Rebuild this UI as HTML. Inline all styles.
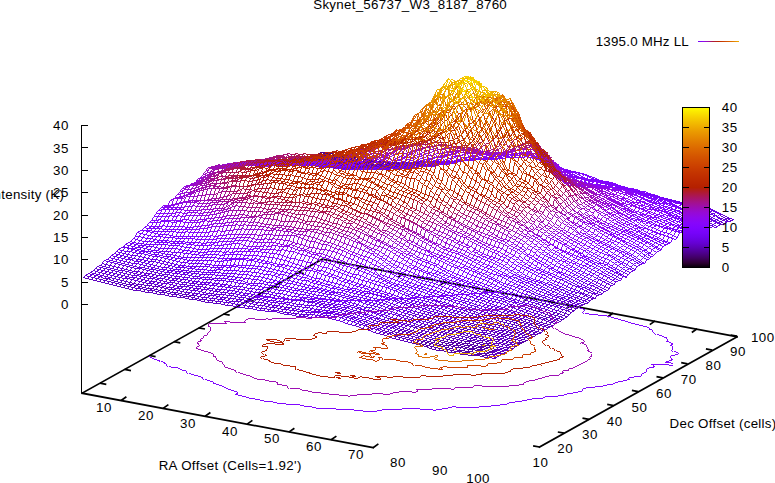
<!DOCTYPE html>
<html><head><meta charset="utf-8"><title>Skynet_56737_W3_8187_8760</title>
<style>
html,body{margin:0;padding:0;background:#fff}
body{width:775px;height:483px;overflow:hidden}
svg{display:block}
text{font-family:"Liberation Sans",sans-serif;font-size:13.33px;fill:#000}
.s path{fill:none;stroke-width:.99}
.c0{stroke:#1a0011}.c1{stroke:#2d0032}.c2{stroke:#3a0052}.c3{stroke:#450071}.c4{stroke:#4e008e}.c5{stroke:#5600a8}.c6{stroke:#5e01c0}.c7{stroke:#6501d4}.c8{stroke:#6b01e5}.c9{stroke:#7102f1}.c10{stroke:#7703fa}.c11{stroke:#7d04fe}.c12{stroke:#8205fe}.c13{stroke:#8706fa}.c14{stroke:#8c07f1}.c15{stroke:#9109e5}.c16{stroke:#960ad4}.c17{stroke:#9a0cc0}.c18{stroke:#9e0fa8}.c19{stroke:#a3118e}.c20{stroke:#a71471}.c21{stroke:#ab1752}.c22{stroke:#af1a32}.c23{stroke:#b21e11}.c24{stroke:#b62200}.c25{stroke:#ba2600}.c26{stroke:#bd2b00}.c27{stroke:#c13000}.c28{stroke:#c43500}.c29{stroke:#c83b00}.c30{stroke:#cb4100}.c31{stroke:#cf4800}.c32{stroke:#d24f00}.c33{stroke:#d55700}.c34{stroke:#d85f00}.c35{stroke:#db6700}.c36{stroke:#de7000}.c37{stroke:#e17a00}.c38{stroke:#e48400}.c39{stroke:#e78e00}.c40{stroke:#ea9900}.c41{stroke:#eda500}.c42{stroke:#f0b100}.c43{stroke:#f3be00}.c44{stroke:#f6cb00}.c45{stroke:#f8d900}.c46{stroke:#fbe800}.c47{stroke:#fef700}
</style></head><body>
<svg width="775" height="483" viewBox="0 0 775 483">
<rect width="775" height="483" fill="#fff"/>
<path stroke="#000" stroke-width="1.7" stroke-linecap="square" fill="none" d="M82.1 393.2L322.2 259.2L736.9 336.8"/>
<path stroke="#000" stroke-width="1.7" fill="none" d="M361.1 265.9L355.8 269.6M403.1 273.7L397.8 277.5M445.1 281.6L439.8 285.3M487.1 289.5L481.8 293.2M529.1 297.3L523.8 301M571.1 305.2L565.8 308.9M613.1 313L607.8 316.8M655.1 320.9L649.8 324.6M697.1 328.8L691.8 332.5M99.9 383.2L106.3 384.4M124.6 369.4L131 370.6M149.3 355.5L155.6 356.7M173.9 341.7L180.3 342.9M198.6 327.8L205 329M223.3 314L229.7 315.2M248 300.1L254.4 301.3M272.7 286.3L279.1 287.5M297.4 272.4L303.8 273.6"/>
<g class="s" shape-rendering="crispEdges" transform="translate(.5 .5)">
<path class="c6" d="M82 277l4 1 4 1 4 1 4 1 4 1 4 1 4 1 4 1 4 1 4 1 4 1 4 1 4 1 4 0 4 1 4 1 4 0 4 1 4 1 4 0 4 1 4 1 4 0 4 1 4 0 4 1 4 1 4 0 4 1 4 1 4 1 4 0 4 1 4 0 4 1 4 1 4 0"/>
<path class="c7" d="M230 305l4 1 4 1 4 0 4 1 4 0 4 1 4 1 4 0 4 1 4 0 4 0 3 1 4 1 4 1 4 0 4 1 4 1 4 0 4 0"/>
<path class="c8" d="M305 316l4 1 4 0 4 0 4 0 4 0 4 1 4 1 4 1 4 1 4 2 4 1"/>
<path class="c7" d="M349 324l4 1 4 1 4 2 4 1 4 1 4 2"/>
<path class="c6" d="M373 332l4 1 4 1 4 1 4 2 4 1 4 1 4 1 4 1 4 1"/>
<path class="c5" d="M409 342l4 1 4 1 4 1 4 1 4 2 4 1 4 1 4 0 4 1 4 1 4 0 4 1 4 1 4 0 4 1 4 0 4 0 4 1 4 1"/>
<path class="c6" d="M485 357l4 0 4 1"/>
<path class="c7" d="M84 275l4 1 4 1"/>
<path class="c6" d="M92 277l4 1 4 1 4 1 4 1 4 1 4 1 4 1 4 1 4 1 4 1 4 1 4 0 4 1 4 1 4 0 4 1 4 1 4 0 4 1 4 1 4 0 4 1 4 1 4 0 4 1 4 1 4 1 4 0 4 1 4 0 4 1"/>
<path class="c7" d="M216 301l4 0 4 1 4 0 4 1 4 1 4 0 4 1 4 1 4 0 4 1 4 1 4 0 4 1 4 1 4 0 4 1 4 1 4 0 4 1 4 0 4 1 4 0 4 0"/>
<path class="c8" d="M308 314l4 0 4 1 4-1 4 1 4 0 4 1 4 0 4 1 4 2 4 1 4 1 4 2"/>
<path class="c7" d="M356 323l4 1 4 1 4 2 4 1 4 1 4 2"/>
<path class="c6" d="M380 331l4 1 4 1 3 2 4 1 4 1 4 1 4 1 4 1 4 2"/>
<path class="c5" d="M415 342l4 1 4 1 4 1 4 1 4 1 4 1 4 1 4 0 4 1 4 1 4 0 4 1 4 0 4 1 4 1 4 0 4 1"/>
<path class="c6" d="M483 355l4 0 4 1 4 1"/>
<path class="c7" d="M87 273l4 1 4 1 4 1 4 2"/>
<path class="c6" d="M103 278l4 0 4 2 4 1 4 1 4 1 4 1 4 0 4 1 4 1 4 1 4 1 4 0 4 1 4 1 4 0 4 1 4 1 4 0 4 1 4 1 3 0 4 1 4 0 4 1 4 1"/>
<path class="c7" d="M202 297l4 0 4 1 4 0 4 1 4 0 4 1 4 1 4 0 4 0 4 1 4 0 4 1 4 1 4 1 4 0 4 1 4 1 4 0 4 1 4 1 4 0 4 1 4 0 4 1 4 0"/>
<path class="c8" d="M302 311l4 1 4 0 4 0 4 0 4 1 4 0 4 0 4 1 4 0 4 2 4 1 4 1 4 2 4 1"/>
<path class="c7" d="M358 321l4 2 4 1 4 1 4 2 4 1 4 2"/>
<path class="c6" d="M382 330l4 1 4 1 4 2 4 1 4 1 4 1 4 1 4 1 4 1"/>
<path class="c5" d="M418 340l4 1 4 1 4 1 4 1 4 1 4 1 4 1 4 1 4 1 4 1 4 0 4 1 4 0 4 1 4 1 4 0 4 0"/>
<path class="c6" d="M486 353l4 1 4 0 4 1"/>
<path class="c7" d="M89 272l4 1 4 1 4 1 4 1 4 1 4 1 4 1"/>
<path class="c6" d="M117 279l4 1 4 1 4 1 4 1 4 1 4 0 4 1 4 0 4 1 4 0 4 1 4 1 4 1 4 0 4 1 4 1 4 1"/>
<path class="c7" d="M185 292l4 0 4 1 4 0 4 1 4 0 4 1 4 0 4 1 4 1 4 0 4 1 4 0 4 1 4 0 4 1 4 0 4 1 4 1 4 0 4 1 4 1 4 1 4 0 4 1 4 1 4 0 4 1 4 1"/>
<path class="c8" d="M297 309l3 1 4 0 4 0 4 1 4 0 4 0 4 1 4 0 4 0 4 1 4 1 4 1 4 1 4 1 4 2 4 1 4 1"/>
<path class="c7" d="M364 321l4 2 4 1 4 1 4 2 4 1 4 1"/>
<path class="c6" d="M388 329l4 2 4 1 4 1 4 1 4 1 4 1 4 1 4 2 4 1"/>
<path class="c5" d="M424 340l4 1 4 1 4 1 4 1 4 1 4 0 4 1 4 1 4 0 4 1 4 1 4 0 4 1 4 0 4 1 4 1"/>
<path class="c6" d="M488 352l4 0 4 1 4 0"/>
<path class="c7" d="M92 270l3 1 4 1 4 1 4 1 4 1 4 1 4 1 4 1 4 0 4 1 4 1 4 1 4 1 4 1 4 0 4 1 4 1 4 1 4 1 4 0 4 1 4 0 4 1 4 0 4 1 4 0 4 1 4 1 4 1 4 0 4 1 4 0 4 0 4 1 4 0 4 1 4 1 4 0 4 1 4 0 4 1 4 0 4 1"/>
<path class="c8" d="M263 300l4 1 4 1 4 0 4 1 4 0 4 1 4 1 4 1 4 0 4 1 4 0 4 1 4 1 4 0 4 1 4 0 4 1 4 0 4 1 4 1 4 1 4 1 4 2 4 1 4 1 4 1"/>
<path class="c7" d="M367 320l4 2 4 1 4 1 4 1 4 1 4 1"/>
<path class="c6" d="M391 327l4 2 4 1 4 1 4 1 4 1 4 2 3 1 4 1 4 1 4 1"/>
<path class="c5" d="M430 339l4 1 4 1 4 1 4 1 4 1 4 1 4 0 4 1 4 1 4 1 4 0 4 1 4 0 4 1 4 1"/>
<path class="c6" d="M490 351l4 0 4 1 4 1"/>
<path class="c7" d="M94 268l4 1 4 1 4 1 4 1 4 1 4 1 4 1 4 1 4 1 4 0 4 1 4 1 4 1 4 1 4 0 4 1 4 1 4 0 4 1 4 1 4 1 4 0 4 0 4 1 4 1 4 0 4 1 4 0 4 1 3 1 4 0 4 1 4 0 4 1 4 0"/>
<path class="c8" d="M233 293l4 1 4 1 4 0 4 1 4 1 4 0 4 1 4 1 4 1 4 0 4 1 4 0 4 1 4 0 4 1 4 1 4 0 4 1 4 0 4 0 4 1 4 1 4 0 4 1 4 1 4 0 4 1 4 1 4 1 4 1 4 2 4 1 4 1 4 1"/>
<path class="c7" d="M369 318l4 2 4 1 4 1 4 2 4 1 4 1 4 2"/>
<path class="c6" d="M397 328l4 1 4 1 4 1 4 1 4 1 4 1 4 1 4 2 4 1 4 1"/>
<path class="c5" d="M437 339l4 1 4 1 4 1 4 0 4 1 4 1 4 1 4 0 4 1 4 1 4 0 4 1 4 1 4 1"/>
<path class="c6" d="M493 350l4 0 4 1 4 1"/>
<path class="c7" d="M96 266l4 1 4 1 4 1 4 1 4 1 4 1 4 1 4 1 4 1 4 0 4 1 4 1 4 1 4 0 4 1 4 1 4 1 4 1 4 0 4 1 4 1 4 0 4 1 4 0 4 1 4 0 4 1 4 1 4 0 4 1"/>
<path class="c8" d="M216 289l4 0 4 0 4 1 4 0 4 1 4 1 4 1 4 0 4 1 4 1 4 0 4 1 4 0 4 1 4 1 4 0 4 1 4 0 4 1 4 0 4 0 4 1 4 1 4 0 4 1 4 1 4 1 3 1 4 1 4 0 4 1 4 1 4 1 4 1 4 1 4 1 4 1 4 2 4 1 4 1"/>
<path class="c7" d="M375 318l4 2 4 1 4 1 4 2 4 1 4 1 4 1"/>
<path class="c6" d="M403 327l4 2 4 1 4 1 4 1 4 1 4 1 4 1 4 1 4 1 4 1 4 1"/>
<path class="c5" d="M447 339l4 1 4 1 4 1 4 1 4 0 4 1 4 1 4 1 4 0 4 1 4 1 4 1"/>
<path class="c6" d="M495 349l4 0 4 1 4 0"/>
<path class="c7" d="M99 265l4 1 4 1 4 1 4 1 4 1 3 0 4 1 4 1 4 1 4 1 4 1 4 0 4 1 4 1 4 1 4 0 4 1 4 1 4 0 4 1 4 1 4 0 4 1 4 0 4 1 4 0"/>
<path class="c8" d="M202 284l4 0 4 1 4 0 4 1 4 0 4 1 4 0 4 1 4 1 4 0 4 1 4 1 4 1 4 0 4 1 4 0 4 1 4 1 4 1 4 1 4 1 4 1 4 0 4 0 4 1 4 1 4 0 4 0 4 1 4 1 4 1 4 0 4 1 4 1 4 1 4 0 4 2 4 1 4 1 4 1 4 2 4 1 4 1 4 2"/>
<path class="c7" d="M378 318l4 1 4 1 4 1 4 1 4 1 4 1 4 1"/>
<path class="c6" d="M406 325l4 1 4 1 4 2 4 1 4 1 4 1 4 1 4 1 3 1 4 1 4 1 4 1 4 1"/>
<path class="c5" d="M457 339l4 1 4 1 4 0 4 1 4 1 4 1 4 1 4 0 4 1"/>
<path class="c6" d="M493 346l4 1 4 1 4 1 4 1"/>
<path class="c7" d="M101 263l4 1 4 1 4 1 4 1 4 1 4 1 4 1 4 1 4 0 4 1 4 1 4 0 4 1 4 1 4 0 4 1 4 1 4 1 4 0 4 1 4 0 4 1 4 1"/>
<path class="c8" d="M193 281l4 0 4 1 4 0 4 0 4 1 4 0 4 1 4 0 4 1 4 1 3 0 4 0 4 1 4 1 4 0 4 1 4 0"/>
<path class="c9" d="M260 289l4 1 4 1 4 1 4 1 4 0 4 1 4 1 4 1 4 0 4 1"/>
<path class="c8" d="M300 297l4 1 4 1 4 0 4 1 4 1"/>
<path class="c9" d="M320 301l4 0 4 1 4 1 4 1 4 0"/>
<path class="c8" d="M340 304l4 1 4 1 4 1 4 1 4 1 4 1 4 1 4 1 4 2 4 1 4 2"/>
<path class="c7" d="M384 317l4 1 4 2 4 1 4 1 4 1 4 1 4 1"/>
<path class="c6" d="M412 325l4 1 4 1 4 1 4 1 4 1 4 1 4 1 4 1 4 2 4 1 4 1 4 1 4 1 4 1 4 0"/>
<path class="c5" d="M472 340l4 1 4 1 4 1 4 0 4 1"/>
<path class="c6" d="M492 344l4 1 4 1 4 1 4 0 4 1"/>
<path class="c8" d="M103 260l4 1 4 1 4 1"/>
<path class="c7" d="M115 263l4 1 4 1 4 1 4 1 4 1 4 0 4 1 4 1 4 1 4 1 4 1 4 1 4 0 4 1 4 1 4 0"/>
<path class="c8" d="M179 276l4 1 4 0 4 1 4 0 4 0 4 1 4 0 4 0 4 1 4 0 4 0 4 1 4 0"/>
<path class="c9" d="M231 281l4 1 4 1 4 0 4 1 4 1 4 0 4 1 4 1 4 0 4 1 4 1 4 1 4 0 4 1 4 1 4 1 4 1 4 0 4 1 4 1 4 1 4 1 4 0 4 1 4 1 4 1 4 0 4 1 4 2 4 1"/>
<path class="c8" d="M351 305l3 1 4 1 4 2 4 1 4 0 4 2 4 1 4 1 4 1"/>
<path class="c7" d="M386 315l4 2 4 1 4 1 4 1 4 1 4 1 4 1 4 2"/>
<path class="c6" d="M418 325l4 1 4 1 4 1 4 1 4 1 4 1 4 1 4 1 4 1 4 1 4 1 4 1 4 1 4 1 4 1 4 0 4 1 4 1 4 1 4 0 4 1 4 1 4 1 4 0"/>
<path class="c8" d="M106 259l4 1 4 1 4 1 4 1 4 1 4 1 4 1 4 1 4 0"/>
<path class="c7" d="M142 267l4 1 3 1 4 0 4 1"/>
<path class="c8" d="M157 270l4 1 4 1 4 0 4 1 4 0 4 1 4 0 4 1 4 1 4 0 4 1 4 0 4 0 4 1 4 0"/>
<path class="c9" d="M217 278l4 0 4 0 4 1 4 0 4 1 4 0 4 2 4 1 4 0 4 0 4 0 4 1 4 1 4 0 4 1 4 1 4 1 4 1 4 1 4 0 4 1 4 1 4 1 4 1 4 1 4 0 4 1 4 1 4 1 4 1 4 1 4 1 4 1 4 1 4 1"/>
<path class="c8" d="M357 304l4 2 4 1 4 0 4 1 4 2 4 1 4 1 4 1 4 1"/>
<path class="c7" d="M393 314l4 1 4 2 4 1 4 1 4 1 4 1 4 2 4 1"/>
<path class="c6" d="M425 324l4 1 4 1 4 1 4 1 4 1 4 1 4 1 4 1 4 1 4 2 3 1 4 1 4 0 4 1 4 1 4 1 4 0 4 1 4 1 4 1 4 1 4 0 4 1"/>
<path class="c8" d="M108 257l4 1 4 1 4 1 4 1 4 1 4 1 4 0 4 1 4 1 4 1 4 1 4 1 4 1 4 0 4 1 4 0 4 1 4 0 4 1 4 0 4 1 4 0 4 1 4 0 4 0"/>
<path class="c9" d="M208 274l4 0 4 1 4 0 4 0 4 1 4 0 4 1 4 0 4 1 4 0 4 1 4 0 4 1 3 1 4 1"/>
<path class="c10" d="M267 282l4 0 4 1 4 1 4 1"/>
<path class="c9" d="M283 285l4 1 4 1 4 1 4 1 4 0 4 1 4 1 4 0 4 1 4 1 4 1 4 0 4 1 4 1 4 1 4 1 4 1 4 1 4 1 4 2 4 1"/>
<path class="c8" d="M367 304l4 1 4 1 4 1 4 2 4 1 4 1 4 2 4 1"/>
<path class="c7" d="M399 314l4 1 4 1 4 2 4 1 4 1 4 1 4 1 4 1"/>
<path class="c6" d="M431 323l4 1 4 1 4 1 4 2 4 1 4 1 4 1 4 1 4 1 4 1 4 1 4 1 4 0 4 1 4 1 4 1 4 0 4 1 4 1 4 1 4 1"/>
<path class="c5" d="M515 343l4 0"/>
<path class="c8" d="M110 255l4 1 4 1 4 1 4 1 4 0 4 2 4 0 4 1 4 1 4 1 4 1 4 1 4 1 4 0 4 1 4 1 4 0 4 1 4 0 4 1 4 0 4 0"/>
<path class="c9" d="M198 271l4 1 4 0 4 0 4 0 4 0 4 1 4 0 4 0 4 0"/>
<path class="c10" d="M234 273l4 1 4 0 4 0 4 1 4 1 4 0 4 1 4 1 4 1 4 1 4 1 4 0 4 2 4 0 4 1 4 1 4 1 4 1 4 1 4 0 4 1"/>
<path class="c9" d="M318 289l4 1 4 1 4 1 4 0 4 2 4 1 4 1 4 1 4 1 4 1 4 1 4 1 4 1 4 1"/>
<path class="c8" d="M374 303l3 1 4 1 4 2 4 1 4 1 4 1 4 2 4 1"/>
<path class="c7" d="M405 313l4 1 4 1 4 2 4 1 4 1 4 2 4 1 4 1"/>
<path class="c6" d="M437 323l4 1 4 1 4 1 4 1 4 1 4 1 4 1 4 1 4 1 4 1 4 1 4 0 4 1 4 1 4 1 4 1 4 1 4 1 4 1 4 1"/>
<path class="c5" d="M517 342l4 0"/>
<path class="c8" d="M113 253l4 1 4 1 4 1 4 1 4 1 4 1 4 0 4 1 4 1 4 0 4 1 4 1 4 1 4 1 3 1 4 1 4 0 4 0 4 1"/>
<path class="c9" d="M188 268l4 0 4 1 4 0 4 0 4 1 4 0 4-1 4 0"/>
<path class="c10" d="M220 269l4 1 4 0 4 0 4 0 4 1 4 0 4 0 4 1 4 0 4 1 4 1 4 0 4 1 4 1 4 2 4 1 4 1 4 1 4 1 4 1 4 1 4 1 4 1 4 1 4 1 4 1 4 1 4 1"/>
<path class="c9" d="M332 291l4 1 4 0 4 1 4 2 4 1 4 0 4 1 4 1 4 1 4 1 4 1 4 1"/>
<path class="c8" d="M380 302l4 1 4 2 4 1 4 2 4 1 4 1 4 1 4 2"/>
<path class="c7" d="M412 313l4 1 4 1 4 1 4 1 4 1 4 2 4 1 4 1"/>
<path class="c6" d="M444 322l4 2 4 1 4 1 4 1 4 1 4 1 4 1 4 1 4 1 4 0 4 1 4 1 3 1 4 1 4 0 4 2 4 0 4 1 4 1"/>
<path class="c5" d="M519 340l4 1"/>
<path class="c8" d="M115 251l4 1 4 1 4 1 4 1 4 0 4 1 4 1 4 1 4 1 4 0 4 1 4 1 4 1 4 1 4 1"/>
<path class="c9" d="M175 264l4 1 4 0 4 1 4 0 4 0 4 0 4 0 4 0 4 1"/>
<path class="c10" d="M211 267l4 0 4 0 4-1 4 1 4-1 4 0 4 1 4 0 4 1"/>
<path class="c11" d="M247 268l4 0 4 0 4 1 4 1 4 1 4 0 4 2 4 1 4 0 4 2 3 1 4 1 4 1 4 1 4 0"/>
<path class="c10" d="M306 280l4 2 4 1 4 1 4 1 4 1 4 2 4 0 4 1 4 1 4 1"/>
<path class="c9" d="M346 291l4 1 4 1 4 1 4 1 4 1 4 1 4 1 4 1 4 1 4 1"/>
<path class="c8" d="M386 301l4 2 4 1 4 2 4 1 4 1 4 2 4 1 4 1"/>
<path class="c7" d="M418 312l4 1 4 1 4 1 4 1 4 2 4 1 4 1 4 1"/>
<path class="c6" d="M450 321l4 2 4 1 4 1 4 1 4 1 4 1 4 1 4 1 4 0 4 1 4 1 4 1 4 1 4 1 4 1 4 1 4 1 4 1 4 1"/>
<path class="c9" d="M117 249l4 1 4 1 4 0 4 1 4 1 4 0 4 1 4 1 4 1 4 0 4 1 4 1 4 1 4 1 4 1 4 1 4 0 4 1 4 0 4 0 4 0 4 1"/>
<path class="c10" d="M205 264l4 0 4 1 4 0 4 0 4 0 4 0 4-1"/>
<path class="c11" d="M233 264l4 1 4 0 4 0 4 0 4 0 4 1 4 0 4 1 4 1 4 1 4 1 4 1 4 1 4 1 4 1 4 1 4 2 4 0 4 2 4 1 4 1 4 1 4 2"/>
<path class="c10" d="M325 284l4 0 4 2 4 1 4 1 4 1 4 0 4 1 4 1"/>
<path class="c9" d="M357 291l4 1 4 1 4 0 4 1 4 1 4 1 4 2 4 1 4 1"/>
<path class="c8" d="M393 300l4 2 4 1 3 1 4 2 4 1 4 1 4 2 4 1"/>
<path class="c7" d="M424 311l4 1 4 2 4 1 4 1 4 2 4 1 4 1 4 1 4 1"/>
<path class="c6" d="M460 322l4 1 4 1 4 1 4 1 4 1 4 1 4 1 4 1 4 1 4 1 4 1 4 1 4 1 4 1 4 1 4 0 4 1"/>
<path class="c9" d="M120 247l4 0 4 1 4 1 4 1 4 1 4 0 4 2 4 1 4 0 4 1 4 1 4 0 4 1 4 1 4 0 4 1 4 1 4 0 4 0"/>
<path class="c10" d="M196 260l3 0 4 0 4 0 4 0 4 1 4 0"/>
<path class="c11" d="M219 261l4-1 4 0 4-1 4 0 4 0 4 0 4 1 4 0 4 1"/>
<path class="c12" d="M255 261l4 1 4 1 4 0 4 1 4 2 4 0 4 1 4 2 4 1 4 1 4 2 4 1"/>
<path class="c11" d="M303 274l4 1 4 2 4 1 4 0 4 2 4 1 4 1 4 1"/>
<path class="c10" d="M335 283l4 1 4 1 4 2 4 1 4 0 4 2 4 1 4 0"/>
<path class="c9" d="M367 291l4 2 4 1 4 1 4 1 4 1 4 1 4 1 4 2"/>
<path class="c8" d="M399 301l4 1 4 1 4 1 4 2 4 1 4 1 4 2 4 1"/>
<path class="c7" d="M431 311l4 1 4 1 4 2 4 1 4 1 4 1 4 2 4 1 4 1"/>
<path class="c6" d="M467 322l4 1 4 1 4 1 4 1 4 1 4 1 4 1 4 1 4 0 4 1 4 1 4 1 4 1 3 1 4 1 4 1"/>
<path class="c9" d="M122 246l4 1 4 1 4 0 4 1 4 1 4 1 4 0 4 1 4 0 4 1 4 1 4 0 4 1 4 1 4 1 4 0"/>
<path class="c10" d="M186 257l4 0 4 0 4 0 4 0 4 0 4 0 4 0"/>
<path class="c11" d="M214 257l4 1 4 0 4 0 4 0 4 0 4 0"/>
<path class="c12" d="M238 258l4 0 4 0 4 1 4-1 4 1 4 1 4 1 4 1 4 1 4 1 4 0 4 1 4 1 4 1 4 1 4 1 4 1 4 0 4 1 3 1 4 2"/>
<path class="c11" d="M321 274l4 1 4 1 4 1 4 2 4 2 4 1"/>
<path class="c10" d="M345 282l4 1 4 2 4 1 4 1 4 1 4 2 4 1 4 1"/>
<path class="c9" d="M377 292l4 1 4 1 4 2 4 1 4 1 4 1 4 1"/>
<path class="c8" d="M405 300l4 2 4 1 4 1 4 1 4 2 4 1 4 1 4 1"/>
<path class="c7" d="M437 310l4 2 4 1 4 1 4 1 4 1 4 2 4 1 4 1 4 1"/>
<path class="c6" d="M473 321l4 1 4 1 4 1 4 1 4 1 4 1 4 1 4 1 4 1 4 1 4 1 4 1 4 1 4 1 4 1"/>
<path class="c9" d="M124 244l4 1 4 1 4 1 4 0 4 1 4 1 4 1 4 0 4 1 4 0 4 0 4 1 4 0"/>
<path class="c10" d="M176 252l4 0 4 1 4 0 4 1 4 0 4 1 4-1 4 0"/>
<path class="c11" d="M208 254l4 0 4 0 4 1 4-1 4 0"/>
<path class="c12" d="M228 254l4 0 4 0 4 0 4 1 4 0 4 0 4 0"/>
<path class="c13" d="M256 255l4 1 4 0 4 1 4 0 4 1 4 1 4 1 4 1 4 2 4 1 4 1 4 2 4 0 4 1"/>
<path class="c12" d="M312 268l4 2 4 0 4 1 4 2 4 1 4 2"/>
<path class="c11" d="M336 276l4 1 4 2 4 1 4 1 4 2"/>
<path class="c10" d="M356 283l4 1 4 1 4 2 4 1 4 1 4 1 4 2 4 1"/>
<path class="c9" d="M388 293l4 1 4 2 4 1 4 1 4 1 4 1 4 1"/>
<path class="c8" d="M416 301l4 1 4 1 4 2 3 1 4 1 4 1 4 1"/>
<path class="c7" d="M443 309l4 2 4 1 4 1 4 1 4 2 4 1 4 1 4 1 4 1 4 1"/>
<path class="c6" d="M483 321l4 1 4 1 4 1 4 1 4 1 4 1 4 1 4 1 4 2 4 1 4 1 4 1 4 0"/>
<path class="c9" d="M127 242l4 1 4 1 4 1 4 0 4 1 4 0 4 1"/>
<path class="c10" d="M155 247l4 1 4 0 4 0 4 0 4 0 4 1 4 1 4 0 4 1 4 0 4 1"/>
<path class="c11" d="M199 252l4 0 4-1 4 0 4 0 4 0"/>
<path class="c12" d="M219 251l4 1 3-1 4 1 4-1 4 0"/>
<path class="c13" d="M238 251l4 0 4 0 4 0 4 0 4 0 4 1 4 0 4 1 4 0 4 1 4 1 4 2 4 1 4 0 4 2 4 0 4 2 4 0 4 2 4 1 4 2 4 0"/>
<path class="c12" d="M326 267l4 2 4 1 4 2 4 1 4 2"/>
<path class="c11" d="M346 275l4 1 4 1 4 2 4 1 4 1 4 1"/>
<path class="c10" d="M370 282l4 2 4 1 4 1 4 1 4 2 4 1"/>
<path class="c9" d="M394 290l4 2 4 2 4 1 4 2 4 1 4 1 4 1"/>
<path class="c8" d="M422 300l4 1 4 1 4 2 4 1 4 1 4 1 4 2 4 1"/>
<path class="c7" d="M454 310l4 1 4 1 4 2 4 1 4 1 4 1 4 2 4 1 4 1"/>
<path class="c6" d="M490 321l4 1 4 1 4 1 4 1 4 1 4 1 4 1 4 1 4 1 4 1 4 1 4 1"/>
<path class="c10" d="M129 241l4 1 4 1 4 0 4 1 4 0 4 0 4 0 4 0 4 0 4 1 4 0 4 0 4 1 4 1 4 0"/>
<path class="c11" d="M189 247l4 1 4 1 4 0 4 0 4-1 4 0"/>
<path class="c12" d="M213 248l4 0 4 0 4 0 4 0"/>
<path class="c13" d="M229 248l4 0 4 0 4 0 4 0 4 1 4-1 4 0"/>
<path class="c14" d="M257 248l4 1 4 0 4 0 4 0 4 1 4-1 4 1 4 1 4 0 4 2 4 1 4 1 4 1 4 1 4 2 4 2"/>
<path class="c13" d="M321 261l4 1 4 1 4 2 4 3 3 1"/>
<path class="c12" d="M340 269l4 2 4 1 4 2 4 0"/>
<path class="c11" d="M356 274l4 1 4 2 4 2 4 1 4 1"/>
<path class="c10" d="M376 281l4 1 4 2 4 2 4 1 4 2 4 1"/>
<path class="c9" d="M400 290l4 2 4 2 4 1 4 1 4 1 4 1 4 1"/>
<path class="c8" d="M428 299l4 1 4 1 4 2 4 1 4 1 4 2 4 1 4 1"/>
<path class="c7" d="M460 309l4 1 4 2 4 1 4 1 4 2 4 1 4 1 4 0 4 2"/>
<path class="c6" d="M496 320l4 1 4 1 4 1 4 1 4 1 4 1 4 1 4 2 4 1 4 1 4 1"/>
<path class="c10" d="M132 238l3 1 4 1 4 1 4 0 4 0 4 1 4 0 4 0 4 0 4 1 4 0 4 0"/>
<path class="c11" d="M179 243l4 0 4 1 4 0 4 1 4 0 4 0"/>
<path class="c12" d="M203 245l4 0 4-1 4 1 4 0 4-1"/>
<path class="c13" d="M223 244l4 0 4-1 4 0 4 0"/>
<path class="c14" d="M239 243l4 2 4 1 4 0 4 0 4 0 4-1 4 1 4-1 4 0 4 1"/>
<path class="c15" d="M279 246l4 0 4 0 4 1 4 2 4 1 4 0 4 2"/>
<path class="c14" d="M307 252l4 2 4 0 4 2 4 1 4 1 4 2 4 2"/>
<path class="c13" d="M335 262l4 2 4 1 4 1"/>
<path class="c12" d="M347 266l4 1 4 2 4 1 4 2 4 1"/>
<path class="c11" d="M367 273l4 2 4 2 4 1 4 2 4 2"/>
<path class="c10" d="M387 282l4 2 4 1 4 2 4 1 4 2 4 2"/>
<path class="c9" d="M411 292l4 1 4 1 4 2 4 1 4 1 4 2 4 1"/>
<path class="c8" d="M439 301l4 1 4 1 4 2 4 1 3 1 4 1 4 1"/>
<path class="c7" d="M466 309l4 1 4 1 4 2 4 1 4 1 4 1 4 1 4 1 4 1"/>
<path class="c6" d="M502 319l4 1 4 1 4 1 4 2 4 1 4 1 4 1 4 1 4 1 4 1"/>
<path class="c10" d="M134 236l4 0 4 1 4 1 4 0 4 1 4 1 4 0 4 0 4 1"/>
<path class="c11" d="M170 241l4 0 4 0 4 0 4 1 4 0 4 0 4 0"/>
<path class="c12" d="M198 242l4 1 4-1 4 0 4 0"/>
<path class="c13" d="M214 242l4-1 4 0 4 0 4 0"/>
<path class="c14" d="M230 241l4-1 4 0 4 0 4 0 4 1 3 1"/>
<path class="c15" d="M253 242l4 0 4 0 4 0 4 0 4 0 4 1 4 1 4 1 4-1 4 1 4 2 4 1 4 1 4 2 4 1 4 1 4 0 4 2 4 1"/>
<path class="c14" d="M329 256l4 2 4 1 4 1 4 2"/>
<path class="c13" d="M345 262l4 2 4 1 4 1"/>
<path class="c12" d="M357 266l4 2 4 1 4 2 4 2 4 2"/>
<path class="c11" d="M377 275l4 2 4 2 4 2 4 2 4 1"/>
<path class="c10" d="M397 284l4 1 4 1 4 1 4 2 4 1"/>
<path class="c9" d="M417 290l4 1 4 2 4 1 4 1 4 2 4 1 4 1"/>
<path class="c8" d="M445 299l4 1 4 2 4 1 4 1 4 2 4 1 4 1"/>
<path class="c7" d="M473 308l4 1 4 2 4 1 4 1 4 1 4 1 4 2 4 0 4 2"/>
<path class="c6" d="M509 319l4 1 4 1 4 1 4 1 4 1 4 2 4 1 4 1 4 1"/>
<path class="c10" d="M136 232l4 1 4 1"/>
<path class="c11" d="M144 234l4 1 4 1 4 0 4 0 4 1 4 0 4 0 4 1 4 0 4 0 4 0"/>
<path class="c12" d="M188 238l4 0 4 1 4 0 4 0 4 0"/>
<path class="c13" d="M208 239l4 0 4-1 4 0 4 0"/>
<path class="c14" d="M224 238l4 0 4 0 4-1 4 0"/>
<path class="c15" d="M240 237l4 0 4 0 4 1 4 1 4 0 4-1 4 1"/>
<path class="c16" d="M268 239l4-1 4 1 4 0 4 1 4 0 4 2 4 1 4 1 4 1 4 2 4 0 4 1 4 1 4 0"/>
<path class="c15" d="M324 249l4 1 4 1 4 1 4 2"/>
<path class="c14" d="M340 254l4 2 4 2 4 1 4 3"/>
<path class="c13" d="M356 262l4 1 4 2 3 2"/>
<path class="c12" d="M367 267l4 2 4 1 4 4 4 1"/>
<path class="c11" d="M383 275l4 2 4 1 4 2 4 1 4 2"/>
<path class="c10" d="M403 283l4 1 4 2 4 1 4 1 4 1 4 2"/>
<path class="c9" d="M427 291l4 1 4 1 4 2 4 1 4 1 4 2"/>
<path class="c8" d="M451 299l4 1 4 1 4 1 4 2 4 1 4 1 4 2"/>
<path class="c7" d="M479 308l4 1 4 1 4 1 4 2 4 1 4 1 4 1 4 1"/>
<path class="c6" d="M511 317l4 1 4 1 4 2 4 1 4 1 4 1 4 1 4 1 4 1"/>
<path class="c11" d="M139 230l4 0 4 1 4 1 4 1 4 1 3 0 4 0 4 1 4 1 4 0 4 0"/>
<path class="c12" d="M182 236l4 0 4 0 4 0 4 0"/>
<path class="c13" d="M198 236l4 0 4 0 4-1 4 1"/>
<path class="c14" d="M214 236l4-1 4 0 4-1 4 0"/>
<path class="c15" d="M230 234l4 0 4 0 4 0 4 0 4 0"/>
<path class="c16" d="M250 234l4 0 4 1 4-1 4 0 4 0 4 1 4 0 4 0 4 0 4 0 4 0 4 2 4 1 4 2 4 1 4 0 4 2 4 1 4 0 4 2 4 2 4 1"/>
<path class="c15" d="M338 249l4 1 4 2 4 2"/>
<path class="c14" d="M350 254l4 1 4 2 4 2"/>
<path class="c13" d="M362 259l4 1 4 3 4 2 4 1"/>
<path class="c12" d="M378 266l4 3 4 2 4 2 4 2"/>
<path class="c11" d="M394 275l4 2 4 2 4 2 4 1 4 2"/>
<path class="c10" d="M414 284l4 1 4 1 4 2 4 1 4 1"/>
<path class="c9" d="M434 290l4 1 4 2 4 1 4 2 4 1 4 2 4 1"/>
<path class="c8" d="M462 300l4 1 4 1 4 2 4 1 3 1 4 1 4 1"/>
<path class="c7" d="M489 308l4 1 4 1 4 2 4 1 4 1 4 2 4 1"/>
<path class="c6" d="M517 317l4 1 4 1 4 1 4 2 4 1 4 1 4 1 4 1"/>
<path class="c11" d="M141 230l4 0 4 0 4 1 4 0 4 0 4 0 4 0 4 0"/>
<path class="c12" d="M173 231l4 1 4 0 4-1 4 1 4 0"/>
<path class="c13" d="M193 232l4 0 4 0 4 0 4-1"/>
<path class="c14" d="M209 231l4 0 4-1 4 1"/>
<path class="c15" d="M221 231l4-1 4 0 4-1 4 0"/>
<path class="c16" d="M237 229l4-1 4 1 4 0 4 0 4 0 4 0 4 1"/>
<path class="c17" d="M265 230l4 0 4-1 3 1 4 0 4 1 4 0 4 1 4 2 4 0 4 1 4 1 4 1 4 1 4 2 4 1 4 1 4 1"/>
<path class="c16" d="M332 243l4 2 4 1 4 2 4 2"/>
<path class="c15" d="M348 250l4 2 4 1 4 2"/>
<path class="c14" d="M360 255l4 1 4 1 4 2"/>
<path class="c13" d="M372 259l4 2 4 3 4 2 4 3"/>
<path class="c12" d="M388 269l4 2 4 2 4 2"/>
<path class="c11" d="M400 275l4 1 4 2 4 1 4 2 4 2"/>
<path class="c10" d="M420 283l4 1 4 1 4 1 4 1 4 2 4 2"/>
<path class="c9" d="M444 291l4 1 4 1 4 2 4 2 4 1 4 1"/>
<path class="c8" d="M468 299l4 1 4 1 4 1 4 2 4 1 4 1 4 1"/>
<path class="c7" d="M496 307l4 1 4 2 4 1 4 1 4 2 4 1 4 1"/>
<path class="c6" d="M524 316l4 2 4 1 4 2 4 1 4 1 4 1 4 1"/>
<path class="c11" d="M143 227l4 1 4 0 4 0 4 0"/>
<path class="c12" d="M159 228l4 1 4 0 4 0 4 0 4 0 4 0 4 0"/>
<path class="c13" d="M187 229l4 0 4 0 4-1 4 0"/>
<path class="c14" d="M203 228l4-1 4-1 4 0"/>
<path class="c15" d="M215 226l4 0 4-1 4 0"/>
<path class="c16" d="M227 225l4 0 4-1 4 1 4-1 4 1"/>
<path class="c17" d="M247 225l4 0 4 0 4 1 4 0 4 1 4 1 4-1 4 0 4 1"/>
<path class="c18" d="M283 228l4 1 4 0 4 1 4 1 4 0 4-1 4 1 4 1 4 1 4 1 4 2"/>
<path class="c17" d="M327 236l4 2 4 1 4 2 4 2 4 1"/>
<path class="c16" d="M347 244l4 2 4 1 4 2"/>
<path class="c15" d="M359 249l4 1 4 2"/>
<path class="c14" d="M367 252l4 1 4 3 4 2 4 3"/>
<path class="c13" d="M383 261l4 3 4 2 3 2"/>
<path class="c12" d="M394 268l4 3 4 1 4 2 4 2"/>
<path class="c11" d="M410 276l4 1 4 2 4 1 4 1"/>
<path class="c10" d="M426 281l4 1 4 1 4 2 4 1 4 2 4 1"/>
<path class="c9" d="M450 289l4 1 4 2 4 1 4 2 4 1 4 2"/>
<path class="c8" d="M474 298l4 1 4 1 4 2 4 1 4 2 4 1 4 1"/>
<path class="c7" d="M502 307l4 1 4 2 4 1 4 1 4 2 4 1"/>
<path class="c6" d="M526 315l4 1 4 1 4 1 4 1 4 2 4 1 4 1"/>
<path class="c11" d="M146 225l4 1 4 0"/>
<path class="c12" d="M154 226l4 0 4-1 4 1 4 0 4 0 4 0"/>
<path class="c13" d="M178 226l4 0 4 1 3 0 4-1"/>
<path class="c14" d="M193 226l4 0 4-1 4 0 4-1"/>
<path class="c15" d="M209 224l4-1 4 0 4 0"/>
<path class="c16" d="M221 223l4-1 4 0 4-1 4 0"/>
<path class="c17" d="M237 221l4 0 4 0 4 1 4-1 4 1"/>
<path class="c18" d="M257 222l4 1 4 1 4 0 4 1 4 0 4 0 4 1 4 0 4 1 4 1 4 0 4 1 4 0 4 0 4 0 4 2 4 1 4 0 4 1 4 2 4 1"/>
<path class="c17" d="M341 236l4 1 4 2 4 2"/>
<path class="c16" d="M353 241l4 1 4 2 4 3"/>
<path class="c15" d="M365 247l4 2 4 3 4 2"/>
<path class="c14" d="M377 254l4 3 4 2 4 3"/>
<path class="c13" d="M389 262l4 2 4 2 4 2"/>
<path class="c12" d="M401 268l4 2 4 1 4 2 4 2"/>
<path class="c11" d="M417 275l4 1 4 1 4 0 4 2 4 2"/>
<path class="c10" d="M437 281l4 1 4 1 4 2 4 1 4 2 4 2"/>
<path class="c9" d="M461 290l4 1 4 2 4 2 4 1 4 1 4 2"/>
<path class="c8" d="M485 299l4 1 4 1 4 1 4 1 4 2"/>
<path class="c7" d="M505 305l3 1 4 1 4 2 4 1 4 2 4 1 4 2"/>
<path class="c6" d="M532 315l4 1 4 1 4 1 4 2 4 1 4 1"/>
<path class="c11" d="M148 222l4 0"/>
<path class="c12" d="M152 222l4 0 4-1 4 0 4 0 4 1"/>
<path class="c13" d="M172 222l4-1 4 0 4 1 4 0"/>
<path class="c14" d="M188 222l4 0 4 0 4-1 4-1"/>
<path class="c15" d="M204 220l4 1 4-1 4 0"/>
<path class="c16" d="M216 220l4-1 4-1 4 0"/>
<path class="c17" d="M228 218l4 0 4 0 4-1 4 0"/>
<path class="c18" d="M244 217l4 0 4 0 4-1 4 1 4 1 4 0 4 1 4 0"/>
<path class="c19" d="M276 219l4 2 4 0 4 0 4 0 4 0 4 1 3 1 4 1 4 1 4 1 4 0 4 1 4 1 4 1 4 2"/>
<path class="c18" d="M335 231l4 1 4 2 4 1 4 2"/>
<path class="c17" d="M351 237l4 2 4 3 4 2"/>
<path class="c16" d="M363 244l4 2 4 2 4 1"/>
<path class="c15" d="M375 249l4 2 4 3"/>
<path class="c14" d="M383 254l4 2 4 3 4 2"/>
<path class="c13" d="M395 261l4 1 4 2 4 2 4 2"/>
<path class="c12" d="M411 268l4 1 4 1 4 2"/>
<path class="c11" d="M423 272l4 1 4 2 4 1 4 2 4 1"/>
<path class="c10" d="M443 279l4 2 4 2 4 2 4 1 4 2 4 1"/>
<path class="c9" d="M467 289l4 2 4 1 4 2 4 1 4 2 4 1"/>
<path class="c8" d="M491 298l4 1 4 1 4 1 4 2 4 1"/>
<path class="c7" d="M511 304l4 2 4 1 4 2 4 1 4 2 4 1 4 1"/>
<path class="c6" d="M539 314l4 2 4 1 4 1 4 1 4 2"/>
<path class="c12" d="M150 220l4 0 4-1 4 1 4 0"/>
<path class="c13" d="M166 220l4 0 4 0 4 0 4-1"/>
<path class="c14" d="M182 219l4 0 4 1 4 0 4-1"/>
<path class="c15" d="M198 219l4 0 4-1 4 0"/>
<path class="c16" d="M210 218l4-1 4 0 4-1"/>
<path class="c17" d="M222 216l4-1 4 0 4 0"/>
<path class="c18" d="M234 215l4-1 4 0 4 1 4 1 4 0"/>
<path class="c19" d="M254 216l4-1 4-1 4 0 4 0 4-1 4 0 4 1 4 1 4 1 4 1 4 1"/>
<path class="c20" d="M298 218l4 2 4 1 4 0 4 0 4 1 4 1"/>
<path class="c19" d="M322 223l4 1 4 1 4 2 4 1 4 2 4 1"/>
<path class="c18" d="M346 231l4 1 4 2 4 3"/>
<path class="c17" d="M358 237l4 2 4 2 4 2"/>
<path class="c16" d="M370 243l4 2 4 1 4 1"/>
<path class="c15" d="M382 247l4 2 4 2 4 3"/>
<path class="c14" d="M394 254l4 2 4 3 4 2"/>
<path class="c13" d="M406 261l4 3 4 2 3 1"/>
<path class="c12" d="M417 267l4 2 4 2 4 1 4 1"/>
<path class="c11" d="M433 273l4 1 4 2 4 2 4 2 4 1"/>
<path class="c10" d="M453 281l4 1 4 2 4 1 4 2 4 1"/>
<path class="c9" d="M473 288l4 2 4 2 4 1 4 2 4 1 4 1"/>
<path class="c8" d="M497 297l4 1 4 2 4 1 4 1 4 2"/>
<path class="c7" d="M517 304l4 1 4 2 4 1 4 2 4 1 4 1"/>
<path class="c6" d="M541 312l4 2 4 1 4 2 4 1 4 1"/>
<path class="c12" d="M153 216l4 0 4 0"/>
<path class="c13" d="M161 216l4 0 4-1 4 1 4-1"/>
<path class="c14" d="M177 215l4 1 4-1 4 0 4 0"/>
<path class="c15" d="M193 215l4 0 4 0 4 0"/>
<path class="c16" d="M205 215l4-1 3 0 4-1"/>
<path class="c17" d="M216 213l4-1 4-1 4-1"/>
<path class="c18" d="M228 210l4 0 4 0 4 0 4 0"/>
<path class="c19" d="M244 210l4 1 4 0 4 0 4 0 4 1 4-1 4 0"/>
<path class="c20" d="M272 211l4 1 4-1 4 0 4 1 4 1 4 1 4 0 4 0 4 2 4 0 4 1 4 2 4 1 4 1 4 2 4 0 4 2"/>
<path class="c19" d="M340 225l4 2 4 0 4 2 4 1"/>
<path class="c18" d="M356 230l4 2 4 2 4 2"/>
<path class="c17" d="M368 236l4 3 4 1"/>
<path class="c16" d="M376 240l4 2 4 2 4 2"/>
<path class="c15" d="M388 246l4 3 4 2 4 2"/>
<path class="c14" d="M400 253l4 3 4 2 4 2"/>
<path class="c13" d="M412 260l4 2 4 2 4 2"/>
<path class="c12" d="M424 266l4 1 4 2 4 2 4 1"/>
<path class="c11" d="M440 272l4 2 4 2 4 1 4 2 4 1"/>
<path class="c10" d="M460 280l4 2 4 1 4 2 4 1 4 2 4 2"/>
<path class="c9" d="M484 290l4 2 4 1 4 2 4 1 4 1"/>
<path class="c8" d="M504 297l4 2 4 1 4 2 4 1 4 1"/>
<path class="c7" d="M524 304l4 2 4 1 3 1 4 1 4 2 4 1"/>
<path class="c6" d="M547 312l4 2 4 1 4 1 4 2"/>
<path class="c12" d="M155 213l4 0"/>
<path class="c13" d="M159 213l4 0 4 0 4 0"/>
<path class="c14" d="M171 213l4-1 4 0 4 1 4-1"/>
<path class="c15" d="M187 212l4 0 4 0 4 1"/>
<path class="c16" d="M199 213l4-1 4 0 4-1 4-1"/>
<path class="c17" d="M215 210l4 0 4-1 4-1"/>
<path class="c18" d="M227 208l4-2 4-1 4 1"/>
<path class="c19" d="M239 206l4 0 4 1 4 0 4 0"/>
<path class="c20" d="M255 207l4 0 4 1 4 1 4-1 4 0 4 1 4 0 4 0 4 0"/>
<path class="c21" d="M291 209l4 1 4 0 4 0 4 0 4 1 4 0 4 1 4 0 4 2 3 1 4 3"/>
<path class="c20" d="M334 218l4 0 4 3 4 2 4 0"/>
<path class="c19" d="M350 223l4 4 4 1 4 2"/>
<path class="c18" d="M362 230l4 3 4 3 4 1"/>
<path class="c17" d="M374 237l4 3 4 1 4 2"/>
<path class="c16" d="M386 243l4 3 4 1"/>
<path class="c15" d="M394 247l4 2 4 3 4 2"/>
<path class="c14" d="M406 254l4 1 4 3 4 1"/>
<path class="c13" d="M418 259l4 2 4 1 4 2 4 1"/>
<path class="c12" d="M434 265l4 3 4 2 4 2 4 2"/>
<path class="c11" d="M450 274l4 2 4 2 4 1 4 2 4 1"/>
<path class="c10" d="M470 282l4 1 4 1 4 2 4 1 4 2"/>
<path class="c9" d="M490 289l4 2 4 1 4 3 4 1"/>
<path class="c8" d="M506 296l4 2 4 1 4 1 4 2 4 1 4 1"/>
<path class="c7" d="M530 304l4 1 4 2 4 1 4 1 4 2 4 1"/>
<path class="c6" d="M554 312l4 1 4 2 4 1"/>
<path class="c13" d="M157 210l4-1 4 0 4 0"/>
<path class="c14" d="M169 209l4 0 4 0 4 0"/>
<path class="c15" d="M181 209l4 1 4 0 4 0 4 0"/>
<path class="c16" d="M197 210l4-1 4 0 4 0"/>
<path class="c17" d="M209 209l4-1 4 0 4 0"/>
<path class="c18" d="M221 208l4-2 4-2 4-2"/>
<path class="c19" d="M233 202l4 0 4 0 4 0"/>
<path class="c20" d="M245 202l4 1 4-1 4 1 4 0 4 1 4 0"/>
<path class="c21" d="M269 204l4 0 4 0 4 1 4 0 4 0 4 1 4 0 4 1 4 0 4 1 4 0 4 2 4 1 4 0 4 0 4 2 4 2 4 1 4 3 4 1"/>
<path class="c20" d="M349 220l4 2 4 2 4 2"/>
<path class="c19" d="M361 226l4 1 4 2 4 2"/>
<path class="c18" d="M373 231l4 2 4 1"/>
<path class="c17" d="M381 234l4 2 4 3 4 3"/>
<path class="c16" d="M393 242l4 2 4 3 4 3"/>
<path class="c15" d="M405 250l4 2 4 2"/>
<path class="c14" d="M413 254l4 3 4 1 4 2"/>
<path class="c13" d="M425 260l4 1 4 2 4 1 4 3"/>
<path class="c12" d="M441 267l3 2 4 1 4 2 4 2"/>
<path class="c11" d="M456 274l4 1 4 2 4 1 4 2 4 1"/>
<path class="c10" d="M476 281l4 1 4 2 4 1 4 2 4 2"/>
<path class="c9" d="M496 289l4 1 4 2 4 1 4 2"/>
<path class="c8" d="M512 295l4 1 4 1 4 2 4 2 4 1"/>
<path class="c7" d="M532 302l4 1 4 2 4 1 4 1 4 2 4 1"/>
<path class="c6" d="M556 310l4 1 4 2 4 1"/>
<path class="c13" d="M160 207l4 0"/>
<path class="c14" d="M164 207l4 0 4 0 4 0 4 0"/>
<path class="c15" d="M180 207l4-1 4 0 4-1"/>
<path class="c16" d="M192 205l4 1 4 0 4 0"/>
<path class="c17" d="M204 206l4-1 4-1 4 0"/>
<path class="c18" d="M216 204l4 0 4-1 4-2"/>
<path class="c19" d="M228 201l4 1 4-2 3 0"/>
<path class="c20" d="M239 200l4-1 4-1 4 1 4 2 4 1"/>
<path class="c21" d="M259 202l4 0 4-1 4 0 4 1 4 0 4 0 4 0 4 0"/>
<path class="c22" d="M291 202l4 0 4 0 4 1 4 1 4-1 4 1 4 2 4 1 4 0 4 1 4 1 4 3"/>
<path class="c21" d="M339 212l4 1 4 2 4 3 4 1"/>
<path class="c20" d="M355 219l4 1 4 2 4 2"/>
<path class="c19" d="M367 224l4 2 4 2 4 3"/>
<path class="c18" d="M379 231l4 1 4 2"/>
<path class="c17" d="M387 234l4 3 4 3 4 2"/>
<path class="c16" d="M399 242l4 2 4 3 4 2"/>
<path class="c15" d="M411 249l4 2 4 1"/>
<path class="c14" d="M419 252l4 2 4 1 4 1"/>
<path class="c13" d="M431 256l4 3 4 1 4 2 4 2"/>
<path class="c12" d="M447 264l4 2 4 1 4 2 4 2 4 2"/>
<path class="c11" d="M467 273l4 2 4 1 4 2 4 1"/>
<path class="c10" d="M483 279l4 2 4 2 4 2 4 2 4 1"/>
<path class="c9" d="M503 288l4 2 4 2 4 2 4 1"/>
<path class="c8" d="M519 295l4 1 4 2 4 1 4 2 4 1"/>
<path class="c7" d="M539 302l4 1 4 1 4 1 4 1 3 2 4 1"/>
<path class="c6" d="M562 309l4 1 4 2"/>
<path class="c14" d="M162 205l4 0 4 0 4-1"/>
<path class="c15" d="M174 204l4-1 4-1 4 0"/>
<path class="c16" d="M186 202l4 0 4 0 4 1"/>
<path class="c17" d="M198 203l4 0 4 0 4-1"/>
<path class="c18" d="M210 202l4 0 4-1 4 0"/>
<path class="c19" d="M222 201l4 0 4-1 4-1 4-2"/>
<path class="c20" d="M238 197l4 0 4-2 4 1"/>
<path class="c21" d="M250 196l4-1 4 1 4 1 4 1 4-1 4 0"/>
<path class="c22" d="M274 197l4 1 4 1 4 1 4 1 4 1 4 0 4-1 4 1 4 1 4-1 4 1 4 1 4 1 4 1 4-1 4 2 4 3 4 1 4 2"/>
<path class="c21" d="M350 213l3 2 4 1 4 1 4 3"/>
<path class="c20" d="M365 220l4 3 4 1"/>
<path class="c19" d="M373 224l4 2 4 4 4 0"/>
<path class="c18" d="M385 230l4 2 4 2 4 3"/>
<path class="c17" d="M397 237l4 1 4 3"/>
<path class="c16" d="M405 241l4 2 4 2 4 2"/>
<path class="c15" d="M417 247l4 2 4 1"/>
<path class="c14" d="M425 250l4 3 4 2 4 2 4 1"/>
<path class="c13" d="M441 258l4 2 4 2 4 2 4 2"/>
<path class="c12" d="M457 266l4 1 4 1 4 2 4 1"/>
<path class="c11" d="M473 271l4 2 4 2 4 2 4 1"/>
<path class="c10" d="M489 278l4 2 4 2 4 3 4 1"/>
<path class="c9" d="M505 286l4 2 4 1 4 2 4 2 4 1"/>
<path class="c8" d="M525 294l4 1 4 2 4 1 4 2 4 1"/>
<path class="c7" d="M545 301l4 1 4 2 4 1 4 1 4 2 4 1"/>
<path class="c6" d="M569 309l4 1"/>
<path class="c14" d="M164 206l4-1 4 0"/>
<path class="c15" d="M172 205l4-2 4-1 4-1"/>
<path class="c16" d="M184 201l4-1 4 0 4 0"/>
<path class="c17" d="M196 200l4 0 4 0 4 0"/>
<path class="c18" d="M208 200l4 0 4 0 4-1"/>
<path class="c19" d="M220 199l4 0 4 0 4-1"/>
<path class="c20" d="M232 198l4 0 4 0 4 0"/>
<path class="c21" d="M244 198l4-3 4 1 4 0 4 0 4 0"/>
<path class="c22" d="M264 196l4 1 4-1 4 0 4 0 4 1 4 0 4 0"/>
<path class="c23" d="M292 197l4-2 4-1 4 2 4 0 4 1 4 1 4 1 4 0 4 1 4 3 4 0 4 2 4 0"/>
<path class="c22" d="M344 205l4 2 4 2 4 2 4 2"/>
<path class="c21" d="M360 213l4 0 4 2 4 2"/>
<path class="c20" d="M372 217l4 2 4 2 4 3"/>
<path class="c19" d="M384 224l4 3 4 2"/>
<path class="c18" d="M392 229l4 2 4 3 4 2"/>
<path class="c17" d="M404 236l4 4 4 1"/>
<path class="c16" d="M412 241l4 3 4 2 4 2"/>
<path class="c15" d="M424 248l4 3 4 1 4 2"/>
<path class="c14" d="M436 254l4 1 4 1 4 2"/>
<path class="c13" d="M448 258l4 2 4 1 4 2 4 2"/>
<path class="c12" d="M464 265l4 2 3 1 4 2 4 2"/>
<path class="c11" d="M479 272l4 1 4 2 4 2 4 2"/>
<path class="c10" d="M495 279l4 2 4 2 4 1 4 1"/>
<path class="c9" d="M511 285l4 2 4 1 4 2 4 1"/>
<path class="c8" d="M527 291l4 2 4 2 4 1 4 1 4 2"/>
<path class="c7" d="M547 299l4 1 4 2 4 1 4 1 4 2 4 1"/>
<path class="c6" d="M571 307l4 1"/>
<path class="c14" d="M167 206l4-2"/>
<path class="c15" d="M171 204l4-1 4-1 4-1"/>
<path class="c16" d="M183 201l4 0 4-1 4 1"/>
<path class="c17" d="M195 201l4-1 4 0 4-1"/>
<path class="c18" d="M207 199l4-1 4 0"/>
<path class="c19" d="M215 198l4-1 4-1 4-1"/>
<path class="c20" d="M227 195l4-2 4 0 4 0 4 0"/>
<path class="c21" d="M243 193l4-1 4-2 4 1"/>
<path class="c22" d="M255 191l4 0 4 1 3 0 4 1 4 0 4-1"/>
<path class="c23" d="M278 192l4-1 4 2 4 1 4 0 4 1 4-2 4 1 4-1 4 0 4 0 4 1 4 0 4 2 4 2 4 0 4 3 4 3 4 1 4 4"/>
<path class="c22" d="M354 209l4 2 4 2 4 0"/>
<path class="c21" d="M366 213l4 2 4 2 4 2"/>
<path class="c20" d="M378 219l4 2 4 2 4 1"/>
<path class="c19" d="M390 224l4 2 4 2"/>
<path class="c18" d="M398 228l4 1 4 3 4 2"/>
<path class="c17" d="M410 234l4 2 4 3"/>
<path class="c16" d="M418 239l4 2 4 2 4 3"/>
<path class="c15" d="M430 246l4 2 4 3 4 1"/>
<path class="c14" d="M442 252l4 2 4 1 4 2"/>
<path class="c13" d="M454 257l4 1 4 2 4 2 4 2"/>
<path class="c12" d="M470 264l4 2 4 2 4 1 4 2 4 2"/>
<path class="c11" d="M490 273l4 1 4 1 4 2"/>
<path class="c10" d="M502 277l4 2 4 2 4 2 4 2"/>
<path class="c9" d="M518 285l4 1 4 2 4 2 4 2"/>
<path class="c8" d="M534 292l4 2 4 1 4 1 4 2 4 1"/>
<path class="c7" d="M554 299l4 1 4 1 4 2 4 1 4 1 4 2"/>
<path class="c14" d="M169 200l4-2"/>
<path class="c15" d="M173 198l4 0 4 0"/>
<path class="c16" d="M181 198l4-2 4 0 4 0"/>
<path class="c17" d="M193 196l4-1 4 0"/>
<path class="c18" d="M201 195l4-1 4 0 4 0"/>
<path class="c19" d="M213 194l4-2 4-1 4 0"/>
<path class="c20" d="M225 191l4 0 4 0 4-1"/>
<path class="c21" d="M237 190l4-2 4 1 4 0 4 1"/>
<path class="c22" d="M253 190l4-2 4 0 4 0 4-1"/>
<path class="c23" d="M269 187l4 1 4 1 4 0 4-1 4 0 4 2 4-2 4-1"/>
<path class="c24" d="M301 187l4 1 4-1 4 1 4 1 4 1 4 2 4 2 4 1 4 4 4 0 4 2 4 1"/>
<path class="c23" d="M349 202l4 1 4 2 4 2 4 2"/>
<path class="c22" d="M365 209l4 1 4 1 4 1"/>
<path class="c21" d="M377 212l3 2 4 3"/>
<path class="c20" d="M384 217l4 2 4 3 4 2"/>
<path class="c19" d="M396 224l4 2 4 2"/>
<path class="c18" d="M404 228l4 2 4 2 4 2"/>
<path class="c17" d="M416 234l4 3 4 2"/>
<path class="c16" d="M424 239l4 2 4 2 4 2"/>
<path class="c15" d="M436 245l4 3 4 1 4 2"/>
<path class="c14" d="M448 251l4 1 4 1 4 2 4 2"/>
<path class="c13" d="M464 257l4 2 4 2 4 2 4 2"/>
<path class="c12" d="M480 265l4 2 4 1 4 2"/>
<path class="c11" d="M492 270l4 2 4 2 4 1 4 2"/>
<path class="c10" d="M508 277l4 2 4 2 4 1"/>
<path class="c9" d="M520 282l4 2 4 2 4 2 4 2"/>
<path class="c8" d="M536 290l4 1 4 2 4 1 4 2 4 1"/>
<path class="c7" d="M556 297l4 1 4 2 4 1 4 2 4 1 4 1"/>
<path class="c15" d="M172 198l3-1 4-1"/>
<path class="c16" d="M179 196l4-1 4-1 4-1"/>
<path class="c17" d="M191 193l4-2 4-1"/>
<path class="c18" d="M199 190l4-1 4-1 4 0"/>
<path class="c19" d="M211 188l4 0 4 0 4 0"/>
<path class="c20" d="M223 188l4-1 4-2 4 1"/>
<path class="c21" d="M235 186l4 0 4 0 4-1"/>
<path class="c22" d="M247 185l4-1 4 0 4 0 4-1"/>
<path class="c23" d="M263 183l4 0 4-1 4 0 4 1 4 0 4 2"/>
<path class="c24" d="M287 185l4 0 4 2 4 0 4 0 4 1 4-1 4 1 4 1 4 1 4 0 4 2 4-1 4 1 4 0 4 2 4 3 4 1 4 2"/>
<path class="c23" d="M359 200l4 3 4 1 4 1"/>
<path class="c22" d="M371 205l4 4 4 2 4 2"/>
<path class="c21" d="M383 213l4 3 4 3"/>
<path class="c20" d="M391 219l4 2 4 2 4 3"/>
<path class="c19" d="M403 226l4 3 4 1"/>
<path class="c18" d="M411 230l4 2 4 2 4 3"/>
<path class="c17" d="M423 237l4 2 4 2"/>
<path class="c16" d="M431 241l4 2 4 1 4 3"/>
<path class="c15" d="M443 247l4 1 4 1 4 2"/>
<path class="c14" d="M455 251l4 1 4 2 4 2 4 2"/>
<path class="c13" d="M471 258l4 1 4 2 4 2 4 2"/>
<path class="c12" d="M487 265l4 1 3 2 4 2"/>
<path class="c11" d="M498 270l4 2 4 2 4 2 4 1"/>
<path class="c10" d="M514 277l4 2 4 2 4 1"/>
<path class="c9" d="M526 282l4 2 4 2 4 2 4 1"/>
<path class="c8" d="M542 289l4 2 4 2 4 2 4 1 4 1"/>
<path class="c7" d="M562 297l4 2 4 1 4 2 4 1 4 1"/>
<path class="c15" d="M174 197l4 0 4-1"/>
<path class="c16" d="M182 196l4-2 4-2"/>
<path class="c17" d="M190 192l4-2 4-2"/>
<path class="c18" d="M198 188l4-1 4-1 4-1"/>
<path class="c19" d="M210 185l4 1 4 0 4 1"/>
<path class="c20" d="M222 187l4-1 4 0"/>
<path class="c21" d="M230 186l4-1 4 1 4 0 4 0"/>
<path class="c22" d="M246 186l4-1 4-1 4-2"/>
<path class="c23" d="M258 182l4-2 4-1 4 1 4 0 4 0"/>
<path class="c24" d="M278 180l4 1 4 1 3 1 4 0 4-1 4 1 4 1"/>
<path class="c25" d="M305 184l4 0 4-1 4 1 4 1 4 4 4 2 4 1 4 2 4 0 4-1 4 3"/>
<path class="c24" d="M349 196l4 1 4 0 4 1 4 2"/>
<path class="c23" d="M365 200l4 1 4 1 4 2"/>
<path class="c22" d="M377 204l4 4 4 1 4 2"/>
<path class="c21" d="M389 211l4 2 4 3"/>
<path class="c20" d="M397 216l4 1 4 2 4 2"/>
<path class="c19" d="M409 221l4 2 4 2"/>
<path class="c18" d="M417 225l4 3 4 2"/>
<path class="c17" d="M425 230l4 3 4 2 4 3"/>
<path class="c16" d="M437 238l4 2 4 3 4 1"/>
<path class="c15" d="M449 244l4 2 4 2 4 1"/>
<path class="c14" d="M461 249l4 2 4 2 4 2 4 1"/>
<path class="c13" d="M477 256l4 2 4 2 4 1 4 2"/>
<path class="c12" d="M493 263l4 2 4 2 4 2"/>
<path class="c11" d="M505 269l4 3 4 2 4 2"/>
<path class="c10" d="M517 276l4 2 4 2 4 1 4 2"/>
<path class="c9" d="M533 283l4 1 4 2 4 2"/>
<path class="c8" d="M545 288l4 2 4 1 4 2 4 2 4 1"/>
<path class="c7" d="M565 296l4 1 4 2 4 1 4 2 4 1"/>
<path class="c15" d="M176 194l4-1"/>
<path class="c16" d="M180 193l4-1 4 0"/>
<path class="c17" d="M188 192l4-2 4-1"/>
<path class="c18" d="M196 189l4-1 4-1 4-2"/>
<path class="c19" d="M208 185l4 0 4-2"/>
<path class="c20" d="M216 183l4 0 4 0 4-2"/>
<path class="c21" d="M228 181l4 0 4 0 4-1"/>
<path class="c22" d="M240 180l4 0 4 1 4-1 4 0"/>
<path class="c23" d="M256 180l4-3 4-2 4 0 4 2"/>
<path class="c24" d="M272 177l4 1 4 0 4 1 4 0 4 2 4 0"/>
<path class="c25" d="M296 181l4 0 4 2 4-2 4 0 4 1 4-1 4-1 4 2 4 3 4 3 4-1 4 1 4 0 4 2 4 0 4 1"/>
<path class="c24" d="M360 191l4 1 4 2 4 0"/>
<path class="c23" d="M372 194l4 2 4 3 4 3"/>
<path class="c22" d="M384 202l4 2 4 2 4 4"/>
<path class="c21" d="M396 210l4 3 4 3"/>
<path class="c20" d="M404 216l3 3 4 2 4 2"/>
<path class="c19" d="M415 223l4 3 4 1"/>
<path class="c18" d="M423 227l4 3 4 1"/>
<path class="c17" d="M431 231l4 3 4 1 4 2"/>
<path class="c16" d="M443 237l4 1 4 2 4 3"/>
<path class="c15" d="M455 243l4 1 4 2 4 1 4 4"/>
<path class="c14" d="M471 251l4 1 4 3 4 1"/>
<path class="c13" d="M483 256l4 2 4 1 4 2 4 2"/>
<path class="c12" d="M499 263l4 2 4 3 4 2"/>
<path class="c11" d="M511 270l4 3 4 2 4 2"/>
<path class="c10" d="M523 277l4 1 4 2 4 1"/>
<path class="c9" d="M535 281l4 1 4 2 4 2 4 2"/>
<path class="c8" d="M551 288l4 1 4 2 4 2 4 1"/>
<path class="c7" d="M567 294l4 2 4 1 4 2 4 1 4 2"/>
<path class="c15" d="M179 191l4-2"/>
<path class="c16" d="M183 189l4 0 4-1"/>
<path class="c17" d="M191 188l4-1 4-2"/>
<path class="c18" d="M199 185l3 0 4-1"/>
<path class="c19" d="M206 184l4-1 4 0 4 0"/>
<path class="c20" d="M218 183l4-1 4 0"/>
<path class="c21" d="M226 182l4-2 4 0 4-2"/>
<path class="c22" d="M238 178l4-1 4 0 4 1 4-1"/>
<path class="c23" d="M254 177l4-1 4 1 4-1 4-3"/>
<path class="c24" d="M270 173l4 1 4 0 4 0 4 1 4-1"/>
<path class="c25" d="M290 174l4 2 4 0 4 1 4 2 4 0 4 0 4-1"/>
<path class="c26" d="M318 178l4 1 4 2 4 1 4 1 4 3 4-1 4 1 4 2"/>
<path class="c25" d="M350 188l4 1 4-2 4 2 4 1 4 5"/>
<path class="c24" d="M370 195l4 2 4 2 4 1"/>
<path class="c23" d="M382 200l4 2 4 3"/>
<path class="c22" d="M390 205l4 2 4 2 4 2"/>
<path class="c21" d="M402 211l4 3 4 1"/>
<path class="c20" d="M410 215l4 2 4 2 4 3"/>
<path class="c19" d="M422 222l4 2 4 2"/>
<path class="c18" d="M430 226l4 3 4 2"/>
<path class="c17" d="M438 231l4 1 4 2 4 2"/>
<path class="c16" d="M450 236l4 3 4 2 4 1"/>
<path class="c15" d="M462 242l4 3 4 1 4 3 4 2"/>
<path class="c14" d="M478 251l4 2 4 2 4 1 4 1"/>
<path class="c13" d="M494 257l4 2 4 1 4 3"/>
<path class="c12" d="M506 263l4 3 4 2"/>
<path class="c11" d="M514 268l4 3 3 2 4 2"/>
<path class="c10" d="M525 275l4 2 4 2 4 1 4 1"/>
<path class="c9" d="M541 281l4 2 4 1 4 2"/>
<path class="c8" d="M553 286l4 2 4 1 4 2 4 2 4 1"/>
<path class="c7" d="M573 294l4 2 4 1 4 2 4 1"/>
<path class="c16" d="M181 188l4-1 4-2"/>
<path class="c17" d="M189 185l4 0 4-1"/>
<path class="c18" d="M197 184l4-1 4-1"/>
<path class="c19" d="M205 182l4-2 4 0 4-1"/>
<path class="c20" d="M217 179l4 0 4-1"/>
<path class="c21" d="M225 178l4-1 4-1 4-1"/>
<path class="c22" d="M237 175l4 0 4 0 4 0"/>
<path class="c23" d="M249 175l4 0 4 0 4 0 4-1"/>
<path class="c24" d="M265 174l4-1 4-2 4 0 4-2 4 1"/>
<path class="c25" d="M285 170l4 1 4-1 4 0 4 2 4 1 4 1"/>
<path class="c26" d="M309 174l4 1 3-1 4 1 4 2 4 2 4 1 4-2 4 4 4 2 4 0 4-1 4 0 4 1 4 2"/>
<path class="c25" d="M364 186l4 1 4 1 4 2"/>
<path class="c24" d="M376 190l4 5 4 0 4 2"/>
<path class="c23" d="M388 197l4 2 4 4"/>
<path class="c22" d="M396 203l4 2 4 2 4 2"/>
<path class="c21" d="M408 209l4 2 4 3"/>
<path class="c20" d="M416 214l4 2 4 3 4 2"/>
<path class="c19" d="M428 221l4 1 4 2"/>
<path class="c18" d="M436 224l4 2 4 2"/>
<path class="c17" d="M444 228l4 2 4 2 4 2"/>
<path class="c16" d="M456 234l4 2 4 1 4 3 4 2"/>
<path class="c15" d="M472 242l4 2 4 2 4 2"/>
<path class="c14" d="M484 248l4 2 4 2 4 1 4 3"/>
<path class="c13" d="M500 256l4 1 4 3"/>
<path class="c12" d="M508 260l4 3 4 2 4 2"/>
<path class="c11" d="M520 267l4 2 4 2 4 2"/>
<path class="c10" d="M532 273l4 2 4 2 4 1"/>
<path class="c9" d="M544 278l4 3 4 2 4 2 4 1"/>
<path class="c8" d="M560 286l4 2 4 2 4 1 4 1"/>
<path class="c7" d="M576 292l4 1 4 2 4 2 4 1"/>
<path class="c16" d="M183 186l4-1 4 0"/>
<path class="c17" d="M191 185l4-1 4-1"/>
<path class="c18" d="M199 183l4 0 4-1"/>
<path class="c19" d="M207 182l4-2 4 0"/>
<path class="c20" d="M215 180l4-1 4-1 4 0"/>
<path class="c21" d="M227 178l4 0 4 0"/>
<path class="c22" d="M235 178l4-2 4-1 4 1 4-1"/>
<path class="c23" d="M251 175l4-1 4-1 4-2"/>
<path class="c24" d="M263 171l4-2 4 0 4 0 4 1 4 0"/>
<path class="c25" d="M283 170l4-1 4 2 4-2 4 3 4 1"/>
<path class="c26" d="M303 173l4-1 4 1 4 0 4-2 4-1 4 1 4 1"/>
<path class="c27" d="M331 172l4 3 4 0 4 2 4 1 4 0"/>
<path class="c26" d="M351 178l4 1 4-1 4 0 4 3 4 1"/>
<path class="c25" d="M371 182l4 3 4 2 4 3"/>
<path class="c24" d="M383 190l4 4 4 2 4 1"/>
<path class="c23" d="M395 197l4 2 4 3 4 1"/>
<path class="c22" d="M407 203l4 4 4 2"/>
<path class="c21" d="M415 209l4 2 4 2"/>
<path class="c20" d="M423 213l4 2 3 2 4 2"/>
<path class="c19" d="M434 219l4 3 4 2"/>
<path class="c18" d="M442 224l4 2 4 3"/>
<path class="c17" d="M450 229l4 2 4 1 4 2"/>
<path class="c16" d="M462 234l4 2 4 2 4 2 4 2"/>
<path class="c15" d="M478 242l4 2 4 2 4 2 4 2"/>
<path class="c14" d="M494 250l4 1 4 3 4 1"/>
<path class="c13" d="M506 255l4 2 4 3"/>
<path class="c12" d="M514 260l4 3 4 2 4 2"/>
<path class="c11" d="M526 267l4 2 4 2 4 2"/>
<path class="c10" d="M538 273l4 1 4 2 4 3"/>
<path class="c9" d="M550 279l4 2 4 1 4 2"/>
<path class="c8" d="M562 284l4 2 4 2 4 1 4 2"/>
<path class="c7" d="M578 291l4 2 4 1 4 2 4 2"/>
<path class="c16" d="M186 185l4-1 4-1"/>
<path class="c17" d="M194 183l4-1"/>
<path class="c18" d="M198 182l4-1 4-1"/>
<path class="c19" d="M206 180l4-1 4-1 4-2"/>
<path class="c20" d="M218 176l4 0 3 1"/>
<path class="c21" d="M225 177l4 0 4 1 4-1"/>
<path class="c22" d="M237 177l4 0 4-1 4 0"/>
<path class="c23" d="M249 176l4-2 4-1 4 0"/>
<path class="c24" d="M261 173l4-2 4-1 4 0 4-2"/>
<path class="c25" d="M277 168l4 2 4-1 4 0 4-1 4-1"/>
<path class="c26" d="M297 167l4-1 4 2 4-1 4 0 4 1 4 0"/>
<path class="c27" d="M321 168l4-2 4 0 4 2 4 4 4 1 4 2 4 0 4 0 4 4 4-1 4 0"/>
<path class="c26" d="M365 178l4 2 4 2 4 3"/>
<path class="c25" d="M377 185l4 1 4 2 4 3 4 1"/>
<path class="c24" d="M393 192l4 1 4 2"/>
<path class="c23" d="M401 195l4 1 4 2 4 1"/>
<path class="c22" d="M413 199l4 2 4 3"/>
<path class="c21" d="M421 204l4 4 4 4"/>
<path class="c20" d="M429 212l4 1 4 3"/>
<path class="c19" d="M437 216l4 3 4 3 4 2"/>
<path class="c18" d="M449 224l4 2 4 1 4 3"/>
<path class="c17" d="M461 230l4 2 4 2 4 2"/>
<path class="c16" d="M473 236l4 3 4 2 4 2 4 1"/>
<path class="c15" d="M489 244l4 2 4 1 4 1"/>
<path class="c14" d="M501 248l4 3 4 2"/>
<path class="c13" d="M509 253l4 2 4 3 4 3"/>
<path class="c12" d="M521 261l4 2 4 3"/>
<path class="c11" d="M529 266l4 2 4 1 4 2"/>
<path class="c10" d="M541 271l4 2 3 1 4 2"/>
<path class="c9" d="M552 276l4 2 4 1 4 2 4 2"/>
<path class="c8" d="M568 283l4 2 4 1 4 2 4 2"/>
<path class="c7" d="M584 290l4 2 4 1 4 2"/>
<path class="c16" d="M188 185l4-1 4-2"/>
<path class="c17" d="M196 182l4-1"/>
<path class="c18" d="M200 181l4-2 4-1"/>
<path class="c19" d="M208 178l4 0 4-1"/>
<path class="c20" d="M216 177l4-2 4 1"/>
<path class="c21" d="M224 176l4-1 4 0 4 0"/>
<path class="c22" d="M236 175l4 1 4-1 4 1"/>
<path class="c23" d="M248 176l4-1 4-2 4-2 4 1"/>
<path class="c24" d="M264 172l4-3 4 0 4-1 4 0"/>
<path class="c25" d="M280 168l4 0 4-4 4 2 4-2"/>
<path class="c26" d="M296 164l4 0 4 3 4-2 4 0 4 1"/>
<path class="c27" d="M316 166l4 1 4 0 4-1 4 0 4-1 4 5 3 2 4 1 4 1 4 1 4 3 4 1 4-1 4-1 4 1"/>
<path class="c26" d="M375 178l4 2 4 3 4 1"/>
<path class="c25" d="M387 184l4 1 4 3 4 2"/>
<path class="c24" d="M399 190l4 1 4 2 4 1"/>
<path class="c23" d="M411 194l4 2 4 3"/>
<path class="c22" d="M419 199l4 2 4 4"/>
<path class="c21" d="M427 205l4 3 4 2"/>
<path class="c20" d="M435 210l4 2 4 3 4 2"/>
<path class="c19" d="M447 217l4 2 4 2"/>
<path class="c18" d="M455 221l4 3 4 2 4 2"/>
<path class="c17" d="M467 228l4 2 4 2 4 3 4 1"/>
<path class="c16" d="M483 236l4 2 4 1 4 2"/>
<path class="c15" d="M495 241l4 1 4 2 4 2"/>
<path class="c14" d="M507 246l4 3 4 2"/>
<path class="c13" d="M515 251l4 3 4 4"/>
<path class="c12" d="M523 258l4 3 4 2 4 3"/>
<path class="c11" d="M535 266l4 2 4 2 4 2"/>
<path class="c10" d="M547 272l4 1 4 2 4 2"/>
<path class="c9" d="M559 277l4 1 4 2 4 2"/>
<path class="c8" d="M571 282l4 2 4 2 4 1 4 2"/>
<path class="c7" d="M587 289l4 2 4 2 4 1"/>
<path class="c16" d="M190 183l4-1"/>
<path class="c17" d="M194 182l4-2 4-1"/>
<path class="c18" d="M202 179l4-2 4-1"/>
<path class="c19" d="M210 176l4 0 4-3"/>
<path class="c20" d="M218 173l4-1 4 0"/>
<path class="c21" d="M226 172l4 0 4 0 4-1"/>
<path class="c22" d="M238 171l4 1 4-1 4-1"/>
<path class="c23" d="M250 170l4 0 4-2 4-1"/>
<path class="c24" d="M262 167l4 1 4-3 4 0 4 1"/>
<path class="c25" d="M278 166l4 0 4 0 4-1 4 0"/>
<path class="c26" d="M294 165l4 0 4-2 4 0 4-2 4 3"/>
<path class="c27" d="M314 164l4 0 4 0 4 2 4-3 4 1"/>
<path class="c28" d="M334 164l4 0 4 1 4 3 4-2 4 2 4-2 4 5 4 1 4 0"/>
<path class="c27" d="M370 172l4 0 4 2 4 0"/>
<path class="c26" d="M382 174l4 4 4 3 4 1 4 3"/>
<path class="c25" d="M398 185l4 2 4 2 4 2"/>
<path class="c24" d="M410 191l4 1 4 3 4 3"/>
<path class="c23" d="M422 198l4 1 4 3"/>
<path class="c22" d="M430 202l4 4 4 3"/>
<path class="c21" d="M438 209l4 3"/>
<path class="c20" d="M442 212l4 2 4 3 4 1"/>
<path class="c19" d="M454 218l3 3 4 2"/>
<path class="c18" d="M461 223l4 2 4 2 4 2 4 2"/>
<path class="c17" d="M477 231l4 1 4 2 4 1 4 2"/>
<path class="c16" d="M493 237l4 2 4 1"/>
<path class="c15" d="M501 240l4 2 4 3 4 2"/>
<path class="c14" d="M513 247l4 2 4 3"/>
<path class="c13" d="M521 252l4 3 4 2"/>
<path class="c12" d="M529 257l4 3 4 2 4 2"/>
<path class="c11" d="M541 264l4 3 4 1 4 3"/>
<path class="c10" d="M553 271l4 1 4 2 4 2"/>
<path class="c9" d="M565 276l4 2 4 2 4 2"/>
<path class="c8" d="M577 282l4 2 4 2 4 2"/>
<path class="c7" d="M589 288l4 1 4 2 4 2"/>
<path class="c16" d="M193 183l4-2"/>
<path class="c17" d="M197 181l4-2 4-1"/>
<path class="c18" d="M205 178l4-2 4-1"/>
<path class="c19" d="M213 175l4-2 4-2"/>
<path class="c20" d="M221 171l4-1 4-1"/>
<path class="c21" d="M229 169l4-1 4 0"/>
<path class="c22" d="M237 168l4 1 4 0 4-2"/>
<path class="c23" d="M249 167l3 0 4 0 4-2 4 0"/>
<path class="c24" d="M264 165l4 1 4-3 4 1 4 0"/>
<path class="c25" d="M280 164l4 0 4-2 4 0 4 0"/>
<path class="c26" d="M296 162l4-2 4 0 4 0 4 0"/>
<path class="c27" d="M312 160l4 2 4 1 4 1 4 0"/>
<path class="c28" d="M328 164l4-1 4-2 4 1 4 0 4 0 4-1 4-1 4 3 4 1 4 1 4 1 4 3 4 4"/>
<path class="c27" d="M380 173l4 2 4 2 4 3"/>
<path class="c26" d="M392 180l4 1 4 1 4 2 4 3"/>
<path class="c25" d="M408 187l4 2 4 1 4 2"/>
<path class="c24" d="M420 192l4 2 4 1"/>
<path class="c23" d="M428 195l4 2 4 3"/>
<path class="c22" d="M436 200l4 3 4 3"/>
<path class="c21" d="M444 206l4 2 4 4"/>
<path class="c20" d="M452 212l4 2 4 2"/>
<path class="c19" d="M460 216l4 3 4 2 4 2"/>
<path class="c18" d="M472 223l4 3 4 1 4 1 4 3"/>
<path class="c17" d="M488 231l4 2 4 3 4 2"/>
<path class="c16" d="M500 238l4 1 4 1"/>
<path class="c15" d="M508 240l4 3 4 2 4 3"/>
<path class="c14" d="M520 248l4 2 4 4"/>
<path class="c13" d="M528 254l4 2 4 3"/>
<path class="c12" d="M536 259l4 2 4 2"/>
<path class="c11" d="M544 263l4 2 4 3 4 2"/>
<path class="c10" d="M556 270l4 2 4 1 4 2"/>
<path class="c9" d="M568 275l3 1 4 2 4 2"/>
<path class="c8" d="M579 280l4 2 4 2 4 1 4 2"/>
<path class="c7" d="M595 287l4 2 4 2"/>
<path class="c16" d="M195 181l4-3"/>
<path class="c17" d="M199 178l4-1 4-1"/>
<path class="c18" d="M207 176l4-2"/>
<path class="c19" d="M211 174l4-2 4-1"/>
<path class="c20" d="M219 171l4-2 4-1 4 0"/>
<path class="c21" d="M231 168l4 0 4-1"/>
<path class="c22" d="M239 167l4 0 4 1 4-1"/>
<path class="c23" d="M251 167l4-1 4-1 4 0 4-1"/>
<path class="c24" d="M267 164l4-1 4-1 4 1"/>
<path class="c25" d="M279 163l4-1 4 0 4-1 4-2"/>
<path class="c26" d="M295 159l4-1 4 0 4 2 4 0"/>
<path class="c27" d="M311 160l4 0 4 0 4-1 4 1"/>
<path class="c28" d="M327 160l4 0 4 1 4 0 4 2 4-3 4-1"/>
<path class="c29" d="M351 159l4 0 4 1 4 2 3 0 4 1"/>
<path class="c28" d="M370 163l4 1 4 4 4 0 4 2"/>
<path class="c27" d="M386 170l4 2 4 3 4 0 4 1 4 1"/>
<path class="c26" d="M406 177l4 1 4 0 4 3"/>
<path class="c25" d="M418 181l4 3 4 2 4 3"/>
<path class="c24" d="M430 189l4 4"/>
<path class="c23" d="M434 193l4 2 4 5"/>
<path class="c22" d="M442 200l4 3 4 3"/>
<path class="c21" d="M450 206l4 2 4 3"/>
<path class="c20" d="M458 211l4 3 4 1 4 2"/>
<path class="c19" d="M470 217l4 2 4 2 4 2"/>
<path class="c18" d="M482 223l4 2 4 2 4 2 4 2"/>
<path class="c17" d="M498 231l4 2 4 2"/>
<path class="c16" d="M506 235l4 2 4 3"/>
<path class="c15" d="M514 240l4 2 4 2"/>
<path class="c14" d="M522 244l4 4 4 2"/>
<path class="c13" d="M530 250l4 3 4 3"/>
<path class="c12" d="M538 256l4 2 4 2 4 3"/>
<path class="c11" d="M550 263l4 2 4 2 4 1"/>
<path class="c10" d="M562 268l4 2 4 2 4 2"/>
<path class="c9" d="M574 274l4 2 4 2 4 2"/>
<path class="c8" d="M586 280l4 2 4 2 4 2"/>
<path class="c7" d="M598 286l4 2 4 2"/>
<path class="c16" d="M197 178l4-1"/>
<path class="c17" d="M201 177l4-2"/>
<path class="c18" d="M205 175l4-1 4-2"/>
<path class="c19" d="M213 172l4-1 4-1"/>
<path class="c20" d="M221 170l4-1 4-1"/>
<path class="c21" d="M229 168l4-1 4 0 4 1"/>
<path class="c22" d="M241 168l4 0 4 1 4-1"/>
<path class="c23" d="M253 168l4-2 4 1 4-2 4 0"/>
<path class="c24" d="M269 165l4 0 4 1 4 0"/>
<path class="c25" d="M281 166l4-2 4 0 4-2 4-2"/>
<path class="c26" d="M297 160l4 0 4-1 4 0 4-2"/>
<path class="c27" d="M313 157l4 1 4 0 4 0 4 3"/>
<path class="c28" d="M329 161l4 0 4 0 4 0 4 2"/>
<path class="c29" d="M345 163l4-1 4-1 4 0 4-2 4 0 4 1 4 2 4 0 4 4 4 0"/>
<path class="c28" d="M385 166l4 4 4-1 4 2 4 3"/>
<path class="c27" d="M401 174l4 1 4-3 4-1 4 3 4 2"/>
<path class="c26" d="M421 176l4 4 4 1"/>
<path class="c25" d="M429 181l4 4 4 3"/>
<path class="c24" d="M437 188l4 1 4 4"/>
<path class="c23" d="M445 193l4 4"/>
<path class="c22" d="M449 197l4 2 4 4"/>
<path class="c21" d="M457 203l4 2 4 4 4 2"/>
<path class="c20" d="M469 211l4 1 4 3 4 2"/>
<path class="c19" d="M481 217l3 2 4 2 4 2"/>
<path class="c18" d="M492 223l4 1 4 3 4 2"/>
<path class="c17" d="M504 229l4 2 4 4"/>
<path class="c16" d="M512 235l4 2 4 2"/>
<path class="c15" d="M520 239l4 3 4 3"/>
<path class="c14" d="M528 245l4 2 4 3"/>
<path class="c13" d="M536 250l4 3 4 2"/>
<path class="c12" d="M544 255l4 2 4 2 4 3"/>
<path class="c11" d="M556 262l4 2 4 2 4 2"/>
<path class="c10" d="M568 268l4 2 4 2"/>
<path class="c9" d="M576 272l4 2 4 2 4 2"/>
<path class="c8" d="M588 278l4 2 4 2 4 2 4 2"/>
<path class="c7" d="M604 286l4 2"/>
<path class="c17" d="M200 177l4-2 4-2"/>
<path class="c18" d="M208 173l4-1 4 0"/>
<path class="c19" d="M216 172l4-1 4-1"/>
<path class="c20" d="M224 170l4-1 4-2"/>
<path class="c21" d="M232 167l4 0 4-1 4-1"/>
<path class="c22" d="M244 165l4 0 4-1 4-2"/>
<path class="c23" d="M256 162l4 0 4-2 4 0 4 1"/>
<path class="c24" d="M272 161l4 0 3 2 4 0 4 0"/>
<path class="c25" d="M287 163l4-1 4 0 4-1"/>
<path class="c26" d="M299 161l4 0 4-2 4-1 4-1"/>
<path class="c27" d="M315 157l4 1 4 2 4-1"/>
<path class="c28" d="M327 159l4 1 4 1 4-2 4 0"/>
<path class="c29" d="M343 159l4 0 4 1 4-3 4-2 4 1 4 1"/>
<path class="c30" d="M367 157l4 1 4-1"/>
<path class="c29" d="M375 157l4 6 4 1 4 2 4-1 4 4"/>
<path class="c28" d="M395 169l4 0 4 1 4 2 4-4 4-1 4 4 4 0"/>
<path class="c27" d="M423 171l4 2 4 2"/>
<path class="c26" d="M431 175l4 6 4 3"/>
<path class="c25" d="M439 184l4 4"/>
<path class="c24" d="M443 188l4 3 4 4"/>
<path class="c23" d="M451 195l4 3"/>
<path class="c22" d="M455 198l4 2 4 3 4 2"/>
<path class="c21" d="M467 205l4 3 4 1 4 2"/>
<path class="c20" d="M479 211l4 3 4 3 4 2"/>
<path class="c19" d="M491 219l4 3 4 2 4 2"/>
<path class="c18" d="M503 226l4 1 4 3"/>
<path class="c17" d="M511 230l4 2 4 2"/>
<path class="c16" d="M519 234l4 2 4 3"/>
<path class="c15" d="M527 239l4 3"/>
<path class="c14" d="M531 242l4 3 4 3"/>
<path class="c13" d="M539 248l4 3 4 2 4 3"/>
<path class="c12" d="M551 256l4 2 4 2"/>
<path class="c11" d="M559 260l4 1 4 3 4 2"/>
<path class="c10" d="M571 266l4 2 4 2 4 2"/>
<path class="c9" d="M583 272l4 2 4 1 4 3"/>
<path class="c8" d="M595 278l3 1 4 2 4 2"/>
<path class="c7" d="M606 283l4 2"/>
<path class="c17" d="M202 174l4-2 4-1"/>
<path class="c18" d="M210 171l4-2 4-1"/>
<path class="c19" d="M218 168l4-1 4-1"/>
<path class="c20" d="M226 166l4-1 4-1"/>
<path class="c21" d="M234 164l4 0 4 0 4 0"/>
<path class="c22" d="M246 164l4-1 4-1 4 0"/>
<path class="c23" d="M258 162l4 0 4-2 4 0 4 0"/>
<path class="c24" d="M274 160l4 1 4 1 4-2 4 0"/>
<path class="c25" d="M290 160l4-1 4 1 4-2"/>
<path class="c26" d="M302 158l4-1 4-2 4-1 4 3"/>
<path class="c27" d="M318 157l4-1 4-3 4 0"/>
<path class="c28" d="M330 153l4 2 4 1 4 0 4-1"/>
<path class="c29" d="M346 155l4-1 4-1 4 3 4-2"/>
<path class="c30" d="M362 154l4 0 4 2 4 0 4 0 4 4 4 1 4 2 3 2"/>
<path class="c29" d="M393 165l4 3 4 0 4 1 4 0 4-2 4 1 4-1 4 2"/>
<path class="c28" d="M425 169l4 1 4 3"/>
<path class="c27" d="M433 173l4 5 4 3"/>
<path class="c26" d="M441 181l4 4"/>
<path class="c25" d="M445 185l4 4 4 2"/>
<path class="c24" d="M453 191l4 3"/>
<path class="c23" d="M457 194l4 2 4 6"/>
<path class="c22" d="M465 202l4 2 4 2 4 2"/>
<path class="c21" d="M477 208l4 2 4 3 4 2"/>
<path class="c20" d="M489 215l4 2 4 2"/>
<path class="c19" d="M497 219l4 1 4 2 4 2"/>
<path class="c18" d="M509 224l4 2 4 3"/>
<path class="c17" d="M517 229l4 3"/>
<path class="c16" d="M521 232l4 3 4 2"/>
<path class="c15" d="M529 237l4 2 4 3"/>
<path class="c14" d="M537 242l4 3 4 3"/>
<path class="c13" d="M545 248l4 3 4 2"/>
<path class="c12" d="M553 253l4 2 4 3 4 2"/>
<path class="c11" d="M565 260l4 2 4 1 4 3"/>
<path class="c10" d="M577 266l4 1 4 2 4 3"/>
<path class="c9" d="M589 272l4 1 4 3"/>
<path class="c8" d="M597 276l4 2 4 2 4 2"/>
<path class="c7" d="M609 282l4 2"/>
<path class="c17" d="M204 171l4-3"/>
<path class="c18" d="M208 168l4-1 4 0 4-1"/>
<path class="c19" d="M220 166l4-1 4-1"/>
<path class="c20" d="M228 164l4-1 4-1"/>
<path class="c21" d="M236 162l4-1 4 0 4 0"/>
<path class="c22" d="M248 161l4 0 4-1 4 1 4 0"/>
<path class="c23" d="M264 161l4-1 4 0 4 0 4 1"/>
<path class="c24" d="M280 161l4-1 4 2 4-1"/>
<path class="c25" d="M292 161l4-1 4 2 4-1 4-2"/>
<path class="c26" d="M308 159l4-2 4 2 4-1"/>
<path class="c27" d="M320 158l4 0 4-2 4 0"/>
<path class="c28" d="M332 156l4 0 4 1 4 1 4 0"/>
<path class="c29" d="M348 158l4-1 4-2 4 4"/>
<path class="c30" d="M360 159l4-3 4 2 4-3 4 0 4 2 4-1 4 2 4 2 4 0 4 4 4-3 4 2 4-1 4-3 4 4 4-1 4-2 4 3"/>
<path class="c29" d="M432 163l4-1 4 4"/>
<path class="c28" d="M440 166l4 4"/>
<path class="c27" d="M444 170l4 5"/>
<path class="c26" d="M448 175l4 3 4 4"/>
<path class="c25" d="M456 182l4 4"/>
<path class="c24" d="M460 186l4 4 4 3"/>
<path class="c23" d="M468 193l4 3 4 3"/>
<path class="c22" d="M476 199l4 2 4 2 4 2"/>
<path class="c21" d="M488 205l4 3 4 2"/>
<path class="c20" d="M496 210l4 3 4 3"/>
<path class="c19" d="M504 216l4 1 3 3"/>
<path class="c18" d="M511 220l4 2 4 3"/>
<path class="c17" d="M519 225l4 4 4 2"/>
<path class="c16" d="M527 231l4 4"/>
<path class="c15" d="M531 235l4 2 4 3"/>
<path class="c14" d="M539 240l4 3 4 2"/>
<path class="c13" d="M547 245l4 4 4 2 4 2"/>
<path class="c12" d="M559 253l4 3 4 2 4 2"/>
<path class="c11" d="M571 260l4 2 4 2"/>
<path class="c10" d="M579 264l4 1 4 2 4 2"/>
<path class="c9" d="M591 269l4 2 4 2 4 2"/>
<path class="c8" d="M603 275l4 2 4 3 4 1"/>
<path class="c17" d="M207 167l4-1"/>
<path class="c18" d="M211 166l4-1 4 1"/>
<path class="c19" d="M219 166l4 0 4-2 4-1"/>
<path class="c20" d="M231 163l4 0 4-1 4-1"/>
<path class="c21" d="M243 161l4-1 4 0 4-1"/>
<path class="c22" d="M255 159l4 1 4 0 4 1 4 0"/>
<path class="c23" d="M271 161l4-1 4-1 4 1"/>
<path class="c24" d="M283 160l4-2 4 1 4-2 4 0"/>
<path class="c25" d="M299 157l4-1 3 0 4-1"/>
<path class="c26" d="M310 155l4 1 4 0 4 0"/>
<path class="c27" d="M322 156l4 1 4-2 4-1"/>
<path class="c28" d="M334 154l4 1 4-1 4-2 4-1"/>
<path class="c29" d="M350 151l4 1 4-3 4 0"/>
<path class="c30" d="M362 149l4 2 4-1 4 1 4-1"/>
<path class="c31" d="M378 150l4-1 4-2 4 5 4 2 4-1 4 0 4 4 4 0 4-2 4 4 4 2 4 0 4 2 4 1"/>
<path class="c30" d="M434 164l4 0 4 5"/>
<path class="c29" d="M442 169l4 1"/>
<path class="c28" d="M446 170l4 4"/>
<path class="c27" d="M450 174l4 3 4 1"/>
<path class="c26" d="M458 178l4 5"/>
<path class="c25" d="M462 183l4 4 4 2"/>
<path class="c24" d="M470 189l4 2 4 3"/>
<path class="c23" d="M478 194l4 2 4 3"/>
<path class="c22" d="M486 199l4 3 4 3"/>
<path class="c21" d="M494 205l4 2 4 4"/>
<path class="c20" d="M502 211l4 3 4 3"/>
<path class="c19" d="M510 217l4 2 4 3"/>
<path class="c18" d="M518 222l4 3"/>
<path class="c17" d="M522 225l4 3 4 3"/>
<path class="c16" d="M530 231l4 3 4 2"/>
<path class="c15" d="M538 236l4 3 4 1"/>
<path class="c14" d="M546 240l4 4 4 2"/>
<path class="c13" d="M554 246l4 3 4 2"/>
<path class="c12" d="M562 251l4 2 4 2 4 3"/>
<path class="c11" d="M574 258l4 1 4 2 4 3"/>
<path class="c10" d="M586 264l4 1 4 2 4 2"/>
<path class="c9" d="M598 269l4 3 4 2"/>
<path class="c8" d="M606 274l4 2 4 2 4 2"/>
<path class="c17" d="M209 167l4-1"/>
<path class="c18" d="M213 166l4-2 4 1 4-1"/>
<path class="c19" d="M225 164l4-1 4-1 4 0"/>
<path class="c20" d="M237 162l4 0 4-2"/>
<path class="c21" d="M245 160l4 0 4 0 4-1 4 0"/>
<path class="c22" d="M261 159l4 0 4 1 4 0 4 0"/>
<path class="c23" d="M277 160l4-1 4 1 4 0"/>
<path class="c24" d="M289 160l4-1 4 1 4-2"/>
<path class="c25" d="M301 158l4 0 4-1 4-1 4 0"/>
<path class="c26" d="M317 156l4-1 4 2"/>
<path class="c27" d="M325 157l4 2 4-3 4-1"/>
<path class="c28" d="M337 155l4-1 4-1 4 0 4 2"/>
<path class="c29" d="M353 155l4 1 4 1 4-2"/>
<path class="c30" d="M365 155l4-1 4-2 4 2"/>
<path class="c31" d="M377 154l4-2 4-4 4-1"/>
<path class="c32" d="M389 147l4 2 4-1 4-3 4 1"/>
<path class="c33" d="M405 146l4-1 4-2 4-2 3 5 4 3"/>
<path class="c32" d="M424 149l4 2 4 4 4 3"/>
<path class="c31" d="M436 158l4 2 4 2"/>
<path class="c30" d="M444 162l4 4"/>
<path class="c29" d="M448 166l4 4"/>
<path class="c28" d="M452 170l4 2 4 5"/>
<path class="c27" d="M460 177l4 5"/>
<path class="c26" d="M464 182l4 4 4 1"/>
<path class="c25" d="M472 187l4 3"/>
<path class="c24" d="M476 190l4 4 4 1"/>
<path class="c23" d="M484 195l4 3 4 2"/>
<path class="c22" d="M492 200l4 2 4 2"/>
<path class="c21" d="M500 204l4 4 4 4"/>
<path class="c20" d="M508 212l4 3 4 1"/>
<path class="c19" d="M516 216l4 4"/>
<path class="c18" d="M520 220l4 3 4 4"/>
<path class="c17" d="M528 227l4 3"/>
<path class="c16" d="M532 230l4 4 4 2"/>
<path class="c15" d="M540 236l4 4 4 2"/>
<path class="c14" d="M548 242l4 3 4 3"/>
<path class="c13" d="M556 248l4 1 4 2 4 1"/>
<path class="c12" d="M568 252l4 2 4 2 4 1"/>
<path class="c11" d="M580 257l4 2 4 2"/>
<path class="c10" d="M588 261l4 2 4 2 4 2"/>
<path class="c9" d="M600 267l4 3 4 2 4 2"/>
<path class="c8" d="M612 274l4 2 4 3"/>
<path class="c17" d="M212 169l3-1"/>
<path class="c18" d="M215 168l4-1 4 0 4 0"/>
<path class="c19" d="M227 167l4 0 4-1 4 0"/>
<path class="c20" d="M239 166l4-1 4-1 4-2"/>
<path class="c21" d="M251 162l4 0 4-1 4 0 4-2"/>
<path class="c22" d="M267 159l4 1 4 0 4-1 4 0"/>
<path class="c23" d="M283 159l4 2 4-1 4 1"/>
<path class="c24" d="M295 161l4 1 4-1 4-1"/>
<path class="c25" d="M307 160l4 0 4-1 4-2"/>
<path class="c26" d="M319 157l4-1 4 0 4 0"/>
<path class="c27" d="M331 156l4-3 4-1 4 0"/>
<path class="c28" d="M343 152l4 0 4-3 4 1"/>
<path class="c29" d="M355 150l4 0 4 2 4-3"/>
<path class="c30" d="M367 149l4-1 4-4 4 0"/>
<path class="c31" d="M379 144l4 2 4-3"/>
<path class="c32" d="M387 143l4 1 4 0"/>
<path class="c33" d="M395 144l4-3 4-1"/>
<path class="c34" d="M403 140l4-4 4 0 4 3 4-1 4 1 4 5 4-1"/>
<path class="c33" d="M431 143l4 5 4 5"/>
<path class="c32" d="M439 153l4 2 4 2"/>
<path class="c31" d="M447 157l4 2"/>
<path class="c30" d="M451 159l4 4"/>
<path class="c29" d="M455 163l4 3 4 6"/>
<path class="c28" d="M463 172l4 1"/>
<path class="c27" d="M467 173l4 5"/>
<path class="c26" d="M471 178l4 3 4 2"/>
<path class="c25" d="M479 183l4 4 4 2"/>
<path class="c24" d="M487 189l4 3 4 5"/>
<path class="c23" d="M495 197l4 3 4 2"/>
<path class="c22" d="M503 202l4 4"/>
<path class="c21" d="M507 206l4 3 4 2"/>
<path class="c20" d="M515 211l4 2"/>
<path class="c19" d="M519 213l4 4 4 4"/>
<path class="c18" d="M527 221l4 3"/>
<path class="c17" d="M531 224l3 4 4 2"/>
<path class="c16" d="M538 230l4 3"/>
<path class="c15" d="M542 233l4 3 4 2"/>
<path class="c14" d="M550 238l4 2 4 2 4 2"/>
<path class="c13" d="M562 244l4 3 4 2"/>
<path class="c12" d="M570 249l4 2 4 2 4 3"/>
<path class="c11" d="M582 256l4 2 4 2 4 2"/>
<path class="c10" d="M594 262l4 1 4 3"/>
<path class="c9" d="M602 266l4 2 4 2 4 2"/>
<path class="c8" d="M614 272l4 2 4 2"/>
<path class="c17" d="M214 166l4-1 4-1"/>
<path class="c18" d="M222 164l4 0 4 2 4-1"/>
<path class="c19" d="M234 165l4 0 4 0 4-1"/>
<path class="c20" d="M246 164l4 0 4-1 4-2"/>
<path class="c21" d="M258 161l4 0 4-1 4 0 4 0"/>
<path class="c22" d="M274 160l4-1 4 0 4 1 4 0"/>
<path class="c23" d="M290 160l4-1 4 0 4 0"/>
<path class="c24" d="M302 159l4-1 4 1 4-1"/>
<path class="c25" d="M314 158l4 0 4 0 4-2"/>
<path class="c26" d="M326 156l3 1 4-1"/>
<path class="c27" d="M333 156l4 0 4-3 4-2"/>
<path class="c28" d="M345 151l4 2 4-3 4 0"/>
<path class="c29" d="M357 150l4 0 4 0 4-2 4 1"/>
<path class="c30" d="M373 149l4-2 4-2"/>
<path class="c31" d="M381 145l4 1 4-5"/>
<path class="c32" d="M389 141l4-1"/>
<path class="c33" d="M393 140l4 1 4-3"/>
<path class="c34" d="M401 138l4 1 4-2"/>
<path class="c35" d="M409 137l4 0 4 1 4 2 4 0 4 4 4-2"/>
<path class="c34" d="M433 142l4-2 4 6"/>
<path class="c33" d="M441 146l4 1 4 1"/>
<path class="c32" d="M449 148l4 3"/>
<path class="c31" d="M453 151l4 5 4 1"/>
<path class="c30" d="M461 157l4 5"/>
<path class="c29" d="M465 162l4 6"/>
<path class="c28" d="M469 168l4 5"/>
<path class="c27" d="M473 173l4 0 4 5"/>
<path class="c26" d="M481 178l4 3"/>
<path class="c25" d="M485 181l4 3 4 1"/>
<path class="c24" d="M493 185l4 4 4 4"/>
<path class="c23" d="M501 193l4 5 4 3"/>
<path class="c22" d="M509 201l4 3"/>
<path class="c21" d="M513 204l4 5"/>
<path class="c20" d="M517 209l4 2 4 4"/>
<path class="c19" d="M525 215l4 4"/>
<path class="c18" d="M529 219l4 3"/>
<path class="c17" d="M533 222l4 4 4 2"/>
<path class="c16" d="M541 228l4 3 4 3"/>
<path class="c15" d="M549 234l4 2 4 3"/>
<path class="c14" d="M557 239l4 2 4 3"/>
<path class="c13" d="M565 244l4 2 4 3 4 2"/>
<path class="c12" d="M577 251l4 2 4 3 4 1"/>
<path class="c11" d="M589 257l4 2 4 2"/>
<path class="c10" d="M597 261l4 2 4 1 4 3"/>
<path class="c9" d="M609 267l4 2 4 3"/>
<path class="c8" d="M617 272l4 2 4 3"/>
<path class="c16" d="M216 166l4-1"/>
<path class="c17" d="M220 165l4-1 4 1"/>
<path class="c18" d="M228 165l4 1 4-1 4-1"/>
<path class="c19" d="M240 164l4 0 4-2 4 0"/>
<path class="c20" d="M252 162l4-1 4-1 4 0"/>
<path class="c21" d="M264 160l4-1 4 0 4 0 4 0"/>
<path class="c22" d="M280 159l4-1 4 1 4 0 4-1"/>
<path class="c23" d="M296 158l4 0 4-1 4 0"/>
<path class="c24" d="M308 157l4 1 4 0 4-1"/>
<path class="c25" d="M320 157l4 0 4 0"/>
<path class="c26" d="M328 157l4-3 4-1 4 2"/>
<path class="c27" d="M340 155l4-1 4 0 4 2"/>
<path class="c28" d="M352 156l4-1 4-4 4 0"/>
<path class="c29" d="M364 151l4-3 4-2 4-1"/>
<path class="c30" d="M376 145l4-1 4 1"/>
<path class="c31" d="M384 145l4-3"/>
<path class="c32" d="M388 142l4-3 4-2"/>
<path class="c33" d="M396 137l4-2"/>
<path class="c34" d="M400 135l4 0"/>
<path class="c35" d="M404 135l4 1 4-2"/>
<path class="c36" d="M412 134l4 0 4-3 4 0 4 5 4-1 4-1"/>
<path class="c35" d="M436 134l4 2 4 4 3 7"/>
<path class="c34" d="M447 147l4 2"/>
<path class="c33" d="M451 149l4-1"/>
<path class="c32" d="M455 148l4 5 4 8"/>
<path class="c31" d="M463 161l4 4"/>
<path class="c30" d="M467 165l4 3"/>
<path class="c29" d="M471 168l4 3"/>
<path class="c28" d="M475 171l4 2"/>
<path class="c27" d="M479 173l4 6 4 1"/>
<path class="c26" d="M487 180l4 3"/>
<path class="c25" d="M491 183l4 4 4 3"/>
<path class="c24" d="M499 190l4 2 4 3"/>
<path class="c23" d="M507 195l4 3"/>
<path class="c22" d="M511 198l4 3 4 4"/>
<path class="c21" d="M519 205l4 3"/>
<path class="c20" d="M523 208l4 4"/>
<path class="c19" d="M527 212l4 3"/>
<path class="c18" d="M531 215l4 4 4 3"/>
<path class="c17" d="M539 222l4 4"/>
<path class="c16" d="M543 226l4 3 4 3"/>
<path class="c15" d="M551 232l4 2 4 3"/>
<path class="c14" d="M559 237l4 2 4 2 4 3"/>
<path class="c13" d="M571 244l4 2 4 2"/>
<path class="c12" d="M579 248l4 2 4 3 4 2"/>
<path class="c11" d="M591 255l4 2 4 2 4 2"/>
<path class="c10" d="M603 261l4 2 4 3"/>
<path class="c9" d="M611 266l4 2 4 2 4 2"/>
<path class="c8" d="M623 272l4 2"/>
<path class="c16" d="M219 168l4 0 4-2"/>
<path class="c17" d="M227 166l4-1 4 1"/>
<path class="c18" d="M235 166l4 0 3-1 4-1"/>
<path class="c19" d="M246 164l4 0 4-2 4-1"/>
<path class="c20" d="M258 161l4-2 4-1 4 0 4-1"/>
<path class="c21" d="M274 157l4 0 4 0 4 0 4 0"/>
<path class="c22" d="M290 157l4 0 4-1 4 1"/>
<path class="c23" d="M302 157l4-1 4 0 4-1"/>
<path class="c24" d="M314 155l4-1 4 1"/>
<path class="c25" d="M322 155l4-1 4 1 4-2"/>
<path class="c26" d="M334 153l4-1 4 0"/>
<path class="c27" d="M342 152l4-1 4-2 4 0"/>
<path class="c28" d="M354 149l4-1 4 2 4-2 4-3"/>
<path class="c29" d="M370 145l4 0 4 0 4 3"/>
<path class="c30" d="M382 148l4-1"/>
<path class="c31" d="M386 147l4-5"/>
<path class="c32" d="M390 142l4-2"/>
<path class="c33" d="M394 140l4 0"/>
<path class="c34" d="M398 140l4-2 4-5"/>
<path class="c35" d="M406 133l4 0"/>
<path class="c36" d="M410 133l4-3 4 0"/>
<path class="c37" d="M418 130l4-2 4 0 4 4 4 2 4-6 4 3"/>
<path class="c36" d="M442 131l4-2 4-1"/>
<path class="c35" d="M450 128l4 6"/>
<path class="c34" d="M454 134l4 3 4 6"/>
<path class="c33" d="M462 143l4 4"/>
<path class="c32" d="M466 147l4 6"/>
<path class="c31" d="M470 153l4 5"/>
<path class="c30" d="M474 158l4 4"/>
<path class="c29" d="M478 162l4 2"/>
<path class="c28" d="M482 164l4 5"/>
<path class="c27" d="M486 169l4 2 4 6"/>
<path class="c26" d="M494 177l4 4"/>
<path class="c25" d="M498 181l4 5 4 3"/>
<path class="c24" d="M506 189l4 3"/>
<path class="c23" d="M510 192l4 4 4 4"/>
<path class="c22" d="M518 200l4 2"/>
<path class="c21" d="M522 202l4 4"/>
<path class="c20" d="M526 206l4 3"/>
<path class="c19" d="M530 209l4 3 4 4"/>
<path class="c18" d="M538 216l4 5"/>
<path class="c17" d="M542 221l4 4 4 2"/>
<path class="c16" d="M550 227l4 3"/>
<path class="c15" d="M554 230l4 2 3 2 4 3"/>
<path class="c14" d="M565 237l4 2 4 2"/>
<path class="c13" d="M573 241l4 2 4 3 4 3"/>
<path class="c12" d="M585 249l4 2 4 2 4 2"/>
<path class="c11" d="M597 255l4 2 4 1"/>
<path class="c10" d="M605 258l4 2 4 3 4 2"/>
<path class="c9" d="M617 265l4 3 4 2"/>
<path class="c8" d="M625 270l4 2"/>
<path class="c16" d="M221 166l4 0 4-1 4-1"/>
<path class="c17" d="M233 164l4 0 4 0 4-2"/>
<path class="c18" d="M245 162l4-1 4-1"/>
<path class="c19" d="M253 160l4 0 4-1 4-1"/>
<path class="c20" d="M265 158l4-1 4-1 4 0 4 0 4 1"/>
<path class="c21" d="M285 157l4-1 4 0 4-1"/>
<path class="c22" d="M297 155l4 1 4 0 4 0"/>
<path class="c23" d="M309 156l4-1 4-2 4-1"/>
<path class="c24" d="M321 152l4 0 4 0"/>
<path class="c25" d="M329 152l4 0 4 0 4-2"/>
<path class="c26" d="M341 150l4-1 4 1"/>
<path class="c27" d="M349 150l4-1 3-1 4-4"/>
<path class="c28" d="M360 144l4 3 4-1 4 1"/>
<path class="c29" d="M372 147l4 0 4-1 4 1"/>
<path class="c30" d="M384 147l4-4"/>
<path class="c31" d="M388 143l4-2"/>
<path class="c32" d="M392 141l4-2"/>
<path class="c33" d="M396 139l4-2"/>
<path class="c34" d="M400 137l4-2"/>
<path class="c35" d="M404 135l4-4"/>
<path class="c36" d="M408 131l4 1 4-6"/>
<path class="c37" d="M416 126l4-1 4 5"/>
<path class="c38" d="M424 130l4 0 4-1 4 3 4-3 4 2"/>
<path class="c37" d="M444 131l4-1 4-4"/>
<path class="c36" d="M452 126l4 1"/>
<path class="c35" d="M456 127l4 7 4 5"/>
<path class="c34" d="M464 139l4 4"/>
<path class="c33" d="M468 143l4 1"/>
<path class="c32" d="M472 144l4 8"/>
<path class="c31" d="M476 152l4 6"/>
<path class="c30" d="M480 158l4 3"/>
<path class="c29" d="M484 161l4 7"/>
<path class="c28" d="M488 168l4 4"/>
<path class="c27" d="M492 172l4 4"/>
<path class="c26" d="M496 176l4 4 4 5"/>
<path class="c25" d="M504 185l4 4"/>
<path class="c24" d="M508 189l4 3 4 3"/>
<path class="c23" d="M516 195l4 4"/>
<path class="c22" d="M520 199l4 3"/>
<path class="c21" d="M524 202l4 3 4 4"/>
<path class="c20" d="M532 209l4 2"/>
<path class="c19" d="M536 211l4 3"/>
<path class="c18" d="M540 214l4 4"/>
<path class="c17" d="M544 218l4 3 4 4"/>
<path class="c16" d="M552 225l4 3 4 2"/>
<path class="c15" d="M560 230l4 3 4 3"/>
<path class="c14" d="M568 236l4 2 4 2"/>
<path class="c13" d="M576 240l4 2 4 2 4 3"/>
<path class="c12" d="M588 247l4 1 4 3 4 1"/>
<path class="c11" d="M600 252l4 2 4 1 4 3"/>
<path class="c10" d="M612 258l4 3 4 2"/>
<path class="c9" d="M620 263l4 3 4 2"/>
<path class="c8" d="M628 268l4 2"/>
<path class="c15" d="M223 164l4-1"/>
<path class="c16" d="M227 163l4 0 4-1 4 0"/>
<path class="c17" d="M239 162l4 0 4 0 4-2"/>
<path class="c18" d="M251 160l4 1 4-1"/>
<path class="c19" d="M259 160l4-1 4-1 4-1 4-2"/>
<path class="c20" d="M275 155l4 0 4-1 4-1 4 1"/>
<path class="c21" d="M291 154l4-1 4 1 4-1"/>
<path class="c22" d="M303 153l4 1 4 0 4 0"/>
<path class="c23" d="M315 154l4 0 4 0"/>
<path class="c24" d="M323 154l4 0 4-2 4 0"/>
<path class="c25" d="M335 152l4 0 4-2"/>
<path class="c26" d="M343 150l4-2 4-1 4-1"/>
<path class="c27" d="M355 146l4 0 4-2"/>
<path class="c28" d="M363 144l4-1 4 2 4-1"/>
<path class="c29" d="M375 144l4-2 4 0 4 0"/>
<path class="c30" d="M387 142l4-3"/>
<path class="c31" d="M391 139l4-5"/>
<path class="c32" d="M395 134l4-3"/>
<path class="c33" d="M399 131l4 1"/>
<path class="c34" d="M403 132l4 1"/>
<path class="c35" d="M407 133l4 0"/>
<path class="c36" d="M411 133l4-5"/>
<path class="c37" d="M415 128l4-2 4-2"/>
<path class="c38" d="M423 124l4 4 4-2 4 2"/>
<path class="c39" d="M435 128l4 2 4-1"/>
<path class="c38" d="M443 129l4-5 4-4 4 2"/>
<path class="c37" d="M455 122l4 1 4 5"/>
<path class="c36" d="M463 128l4 4"/>
<path class="c35" d="M467 132l3 5"/>
<path class="c34" d="M470 137l4 5"/>
<path class="c33" d="M474 142l4 8"/>
<path class="c32" d="M478 150l4 4"/>
<path class="c31" d="M482 154l4 7"/>
<path class="c30" d="M486 161l4 4"/>
<path class="c29" d="M490 165l4 6"/>
<path class="c28" d="M494 171l4 5"/>
<path class="c27" d="M498 176l4 2"/>
<path class="c26" d="M502 178l4 5"/>
<path class="c25" d="M506 183l4 5 4 2"/>
<path class="c24" d="M514 190l4 3"/>
<path class="c23" d="M518 193l4 3 4 3"/>
<path class="c22" d="M526 199l4 3"/>
<path class="c21" d="M530 202l4 3"/>
<path class="c20" d="M534 205l4 5"/>
<path class="c19" d="M538 210l4 2"/>
<path class="c18" d="M542 212l4 4 4 3"/>
<path class="c17" d="M550 219l4 4"/>
<path class="c16" d="M554 223l4 3 4 3"/>
<path class="c15" d="M562 229l4 2 4 2"/>
<path class="c14" d="M570 233l4 2 4 2 4 2"/>
<path class="c13" d="M582 239l4 2 4 3 4 2"/>
<path class="c12" d="M594 246l4 2 4 2 4 3"/>
<path class="c11" d="M606 253l4 2 4 2"/>
<path class="c10" d="M614 257l4 3 4 2"/>
<path class="c9" d="M622 262l4 2 4 3"/>
<path class="c8" d="M630 267l4 2"/>
<path class="c15" d="M226 166l4 0 4-1"/>
<path class="c16" d="M234 165l4 0 4 0 4-1"/>
<path class="c17" d="M246 164l4 0 4-2 4 1"/>
<path class="c18" d="M258 163l4-1 3-1 4-2"/>
<path class="c19" d="M269 159l4 0 4-1 4-1 4 0"/>
<path class="c20" d="M285 157l4 0 4 0 4-1"/>
<path class="c21" d="M297 156l4 0 4 1 4-1"/>
<path class="c22" d="M309 156l4-1 4 0 4-1"/>
<path class="c23" d="M321 154l4-2 4 0"/>
<path class="c24" d="M329 152l4 0 4 0 4 0"/>
<path class="c25" d="M341 152l4 0 4-2"/>
<path class="c26" d="M349 150l4-1 4-1"/>
<path class="c27" d="M357 148l4-2 4-2 4 0"/>
<path class="c28" d="M369 144l4 0 4-2"/>
<path class="c29" d="M377 142l4 0 4-2"/>
<path class="c30" d="M385 140l4-1 4-2"/>
<path class="c31" d="M393 137l4-3"/>
<path class="c32" d="M397 134l4-3"/>
<path class="c33" d="M401 131l4-3"/>
<path class="c34" d="M405 128l4-1"/>
<path class="c35" d="M409 127l4 1"/>
<path class="c36" d="M413 128l4-5"/>
<path class="c37" d="M417 123l4-5"/>
<path class="c38" d="M421 118l4 0 4-5"/>
<path class="c39" d="M429 113l4 2 4-2 4 1 4-4 4-3 4 1 4 13"/>
<path class="c38" d="M457 121l4-4 4 8"/>
<path class="c37" d="M465 125l4 4"/>
<path class="c36" d="M469 129l4 5"/>
<path class="c35" d="M473 134l4 4"/>
<path class="c34" d="M477 138l4 6"/>
<path class="c33" d="M481 144l4 2"/>
<path class="c31" d="M485 146l4 10"/>
<path class="c30" d="M489 156l4 5"/>
<path class="c29" d="M493 161l4 3"/>
<path class="c28" d="M497 164l4 5"/>
<path class="c27" d="M501 169l4 4 4 7"/>
<path class="c26" d="M509 180l4 5"/>
<path class="c25" d="M513 185l4 1"/>
<path class="c24" d="M517 186l4 4 4 2"/>
<path class="c23" d="M525 192l4 4"/>
<path class="c22" d="M529 196l4 3"/>
<path class="c21" d="M533 199l4 3"/>
<path class="c20" d="M537 202l4 3"/>
<path class="c19" d="M541 205l4 2 4 4"/>
<path class="c18" d="M549 211l4 4"/>
<path class="c17" d="M553 215l4 3 4 4"/>
<path class="c16" d="M561 222l4 3"/>
<path class="c15" d="M565 225l4 2 4 3 4 3"/>
<path class="c14" d="M577 233l4 2 4 2"/>
<path class="c13" d="M585 237l3 2 4 2 4 3"/>
<path class="c12" d="M596 244l4 2 4 2 4 2"/>
<path class="c11" d="M608 250l4 3 4 2"/>
<path class="c10" d="M616 255l4 2 4 2"/>
<path class="c9" d="M624 259l4 2 4 3 4 2"/>
<path class="c15" d="M228 167l4 0 4-1 4-1"/>
<path class="c16" d="M240 165l4 0 4 0 4-1"/>
<path class="c17" d="M252 164l4-1 4 0 4-1"/>
<path class="c18" d="M264 162l4 0 4-1 4-1"/>
<path class="c19" d="M276 160l4 0 4-1 4 1 4-1"/>
<path class="c20" d="M292 159l4 0 4-1 4 0"/>
<path class="c21" d="M304 158l4-1 4 0 4-1"/>
<path class="c22" d="M316 156l4-1 4-1 4-1"/>
<path class="c23" d="M328 153l4-2 4-1"/>
<path class="c24" d="M336 150l4 2 4-2 4 1"/>
<path class="c25" d="M348 151l4-1 4-2"/>
<path class="c26" d="M356 148l4-3 4 0"/>
<path class="c27" d="M364 145l4-2 4-2"/>
<path class="c28" d="M372 141l4 1 4-2"/>
<path class="c29" d="M380 140l3-2 4 0"/>
<path class="c30" d="M387 138l4-4 4-4"/>
<path class="c31" d="M395 130l4-1"/>
<path class="c32" d="M399 129l4-1"/>
<path class="c33" d="M403 128l4-3"/>
<path class="c34" d="M407 125l4 0"/>
<path class="c35" d="M411 125l4-4"/>
<path class="c36" d="M415 121l4 0"/>
<path class="c37" d="M419 121l4-4"/>
<path class="c38" d="M423 117l4-3"/>
<path class="c39" d="M427 114l4-3 4 1"/>
<path class="c40" d="M435 112l4 5 4-3 4-7 4-3 4 9 4 7"/>
<path class="c39" d="M459 120l4 1 4 5"/>
<path class="c38" d="M467 126l4 2"/>
<path class="c37" d="M471 128l4 3"/>
<path class="c36" d="M475 131l4 1"/>
<path class="c35" d="M479 132l4 9"/>
<path class="c33" d="M483 141l4 4"/>
<path class="c32" d="M487 145l4 10"/>
<path class="c31" d="M491 155l4 2"/>
<path class="c30" d="M495 157l4 6"/>
<path class="c29" d="M499 163l4 6"/>
<path class="c28" d="M503 169l4 5"/>
<path class="c27" d="M507 174l4 4"/>
<path class="c26" d="M511 178l4 5"/>
<path class="c25" d="M515 183l4 2 4 2"/>
<path class="c24" d="M523 187l4 1"/>
<path class="c23" d="M527 188l4 4"/>
<path class="c22" d="M531 192l4 3"/>
<path class="c21" d="M535 195l4 4 4 3"/>
<path class="c20" d="M543 202l4 4"/>
<path class="c19" d="M547 206l4 4"/>
<path class="c18" d="M551 210l4 2"/>
<path class="c17" d="M555 212l4 4 4 4"/>
<path class="c16" d="M563 220l4 3 4 3"/>
<path class="c15" d="M571 226l4 2 4 4"/>
<path class="c14" d="M579 232l4 1 4 3 4 2"/>
<path class="c13" d="M591 238l4 2 4 2 4 2"/>
<path class="c12" d="M603 244l4 2 4 2"/>
<path class="c11" d="M611 248l4 2 4 2 4 3"/>
<path class="c10" d="M623 255l4 2 4 2"/>
<path class="c9" d="M631 259l4 3 4 2"/>
<path class="c15" d="M230 165l4-1 4 0 4 0 4-1"/>
<path class="c16" d="M246 163l4 0 4 0 4-1"/>
<path class="c17" d="M258 162l4 0 4 0 4 0"/>
<path class="c18" d="M270 162l4-1 4 0 4-2 4 0"/>
<path class="c19" d="M286 159l4-1 4-1 4 0"/>
<path class="c20" d="M298 157l4-1 4 0 4 0"/>
<path class="c21" d="M310 156l4 0 4 0 4-1"/>
<path class="c22" d="M322 155l4 0 4 1 4-1"/>
<path class="c23" d="M334 155l4 1 4-1 4-1"/>
<path class="c24" d="M346 154l4-1 4-2"/>
<path class="c25" d="M354 151l4-3 4-1"/>
<path class="c26" d="M362 147l4-3"/>
<path class="c27" d="M366 144l4-3 4-1 4 0"/>
<path class="c28" d="M378 140l4-3"/>
<path class="c29" d="M382 137l4 0 4-2"/>
<path class="c30" d="M390 135l4 0"/>
<path class="c31" d="M394 135l4-5 4 0"/>
<path class="c32" d="M402 130l4-6"/>
<path class="c33" d="M406 124l4 1"/>
<path class="c34" d="M410 125l4 0"/>
<path class="c35" d="M414 125l4-1"/>
<path class="c36" d="M418 124l4-2"/>
<path class="c37" d="M422 122l4-3"/>
<path class="c38" d="M426 119l4-5"/>
<path class="c39" d="M430 114l4 0"/>
<path class="c40" d="M434 114l4-4 4-2"/>
<path class="c41" d="M442 108l4-3 4-8 4 6 4-1 4 6"/>
<path class="c40" d="M462 108l4 4 4 5"/>
<path class="c39" d="M470 117l4 6"/>
<path class="c38" d="M474 123l4 3"/>
<path class="c37" d="M478 126l4 2"/>
<path class="c35" d="M482 128l4 3"/>
<path class="c34" d="M486 131l4 10"/>
<path class="c33" d="M490 141l4 7"/>
<path class="c31" d="M494 148l3 6"/>
<path class="c30" d="M497 154l4 7"/>
<path class="c29" d="M501 161l4 7"/>
<path class="c28" d="M505 168l4 5"/>
<path class="c27" d="M509 173l4 2"/>
<path class="c26" d="M513 175l4 5 4 2"/>
<path class="c25" d="M521 182l4 2"/>
<path class="c24" d="M525 184l4 4"/>
<path class="c23" d="M529 188l4 3 4 2"/>
<path class="c22" d="M537 193l4 4"/>
<path class="c21" d="M541 197l4 3"/>
<path class="c20" d="M545 200l4 5"/>
<path class="c19" d="M549 205l4 3"/>
<path class="c18" d="M553 208l4 3 4 3"/>
<path class="c17" d="M561 214l4 4"/>
<path class="c16" d="M565 218l4 3 4 3"/>
<path class="c15" d="M573 224l4 2 4 3"/>
<path class="c14" d="M581 229l4 3 4 3 4 2"/>
<path class="c13" d="M593 237l4 3 4 1 4 2"/>
<path class="c12" d="M605 243l4 2 4 2 4 2"/>
<path class="c11" d="M617 249l4 2 4 2"/>
<path class="c10" d="M625 253l4 2 4 3"/>
<path class="c9" d="M633 258l4 3 4 2"/>
<path class="c14" d="M233 164l4 0"/>
<path class="c15" d="M237 164l4-1 4 1 4 0 4 0"/>
<path class="c16" d="M253 164l4-1 4 0 4 0"/>
<path class="c17" d="M265 163l4-1 4 0 4 0"/>
<path class="c18" d="M277 162l4-1 4 0 4-1 3-1"/>
<path class="c19" d="M292 159l4 1 4-1 4-1 4 0"/>
<path class="c20" d="M308 158l4-1 4 0"/>
<path class="c21" d="M316 157l4 1 4-1 4-1"/>
<path class="c22" d="M328 156l4 0 4-2 4 0"/>
<path class="c23" d="M340 154l4 1 4-2 4-1"/>
<path class="c24" d="M352 152l4-3 4-1"/>
<path class="c25" d="M360 148l4 0"/>
<path class="c26" d="M364 148l4-4 4-3"/>
<path class="c27" d="M372 141l4-1 4-1"/>
<path class="c28" d="M380 139l4-1 4-1"/>
<path class="c29" d="M388 137l4-3"/>
<path class="c30" d="M392 134l4 1"/>
<path class="c31" d="M396 135l4-3 4-4"/>
<path class="c32" d="M404 128l4-2"/>
<path class="c34" d="M408 126l4-6"/>
<path class="c35" d="M412 120l4 0 4-1"/>
<path class="c36" d="M420 119l4-4"/>
<path class="c37" d="M424 115l4-1"/>
<path class="c38" d="M428 114l4-4"/>
<path class="c39" d="M432 110l4 2"/>
<path class="c40" d="M436 112l4-6"/>
<path class="c41" d="M440 106l4-10"/>
<path class="c42" d="M444 96l4-1 4 4 4 3 4-4 4-1"/>
<path class="c41" d="M464 97l4 10 4-1"/>
<path class="c40" d="M472 106l4 10"/>
<path class="c39" d="M476 116l4 1"/>
<path class="c37" d="M480 117l4 9"/>
<path class="c36" d="M484 126l4 7"/>
<path class="c35" d="M488 133l4 5"/>
<path class="c33" d="M492 138l4 7"/>
<path class="c32" d="M496 145l4 9"/>
<path class="c31" d="M500 154l4 9"/>
<path class="c29" d="M504 163l4 7"/>
<path class="c28" d="M508 170l4 3"/>
<path class="c27" d="M512 173l4 1 4 4"/>
<path class="c26" d="M520 178l4 3"/>
<path class="c25" d="M524 181l4 1 4 4"/>
<path class="c24" d="M532 186l4 5"/>
<path class="c23" d="M536 191l4 1"/>
<path class="c22" d="M540 192l4 4"/>
<path class="c21" d="M544 196l4 5"/>
<path class="c20" d="M548 201l4 4"/>
<path class="c19" d="M552 205l4 3 4 4"/>
<path class="c18" d="M560 212l4 3"/>
<path class="c17" d="M564 215l4 3"/>
<path class="c16" d="M568 218l4 4 4 1"/>
<path class="c15" d="M576 223l4 3 4 2"/>
<path class="c14" d="M584 228l4 2 4 3 4 2"/>
<path class="c13" d="M596 235l4 2 4 2 4 2 3 1"/>
<path class="c12" d="M611 242l4 3 4 2"/>
<path class="c11" d="M619 247l4 3 4 2"/>
<path class="c10" d="M627 252l4 2 4 3"/>
<path class="c9" d="M635 257l4 3 4 3"/>
<path class="c14" d="M235 163l4 0 4 0"/>
<path class="c15" d="M243 163l4 1 4 0 4 0 4-1"/>
<path class="c16" d="M259 163l4 1 4-1 4 1"/>
<path class="c17" d="M271 164l4 0 4 0 4 0 4-1"/>
<path class="c18" d="M287 163l4-1 4-1 4-1 4-1"/>
<path class="c19" d="M303 159l4-1 4 0 4-1"/>
<path class="c20" d="M315 157l4 0 4 0 4 0"/>
<path class="c21" d="M327 157l4-1 4 0"/>
<path class="c22" d="M335 156l4 0 4-2 4 0"/>
<path class="c23" d="M347 154l4-1 4-2 4-1"/>
<path class="c24" d="M359 150l4-2"/>
<path class="c25" d="M363 148l4-2 4-3"/>
<path class="c26" d="M371 143l4-1 4-3"/>
<path class="c27" d="M379 139l4-3"/>
<path class="c28" d="M383 136l4-2 4-1"/>
<path class="c29" d="M391 133l4-4"/>
<path class="c30" d="M395 129l4 2"/>
<path class="c31" d="M399 131l4-3 3-5"/>
<path class="c32" d="M406 123l4-2"/>
<path class="c34" d="M410 121l4-7"/>
<path class="c35" d="M414 114l4-2"/>
<path class="c36" d="M418 112l4-5"/>
<path class="c37" d="M422 107l4-3"/>
<path class="c38" d="M426 104l4 3"/>
<path class="c39" d="M430 107l4-11"/>
<path class="c40" d="M434 96l4 1"/>
<path class="c41" d="M438 97l4 1"/>
<path class="c42" d="M442 98l4-2 4-2"/>
<path class="c43" d="M450 94l4 9 4-4 4-1 4-4"/>
<path class="c42" d="M466 94l4 5 4 9"/>
<path class="c41" d="M474 108l4 2"/>
<path class="c39" d="M478 110l4 3"/>
<path class="c38" d="M482 113l4 5"/>
<path class="c37" d="M486 118l4 9"/>
<path class="c36" d="M490 127l4 6"/>
<path class="c34" d="M494 133l4 5"/>
<path class="c33" d="M498 138l4 7"/>
<path class="c31" d="M502 145l4 5"/>
<path class="c30" d="M506 150l4 8"/>
<path class="c29" d="M510 158l4 3"/>
<path class="c28" d="M514 161l4 5"/>
<path class="c27" d="M518 166l4 6"/>
<path class="c26" d="M522 172l4 2 4 2"/>
<path class="c25" d="M530 176l4 3"/>
<path class="c24" d="M534 179l4 5"/>
<path class="c23" d="M538 184l4 2"/>
<path class="c22" d="M542 186l4 5"/>
<path class="c21" d="M546 191l4 4"/>
<path class="c20" d="M550 195l4 3 4 5"/>
<path class="c19" d="M558 203l4 5"/>
<path class="c18" d="M562 208l4 4"/>
<path class="c17" d="M566 212l4 3 4 2"/>
<path class="c16" d="M574 217l4 3"/>
<path class="c15" d="M578 220l4 2 4 3 4 2"/>
<path class="c14" d="M590 227l4 2 4 3 4 2"/>
<path class="c13" d="M602 234l4 3 4 2 4 2"/>
<path class="c12" d="M614 241l4 1 4 3 4 2"/>
<path class="c11" d="M626 247l4 2 4 2"/>
<path class="c10" d="M634 251l4 3"/>
<path class="c9" d="M638 254l4 3 4 2"/>
<path class="c14" d="M237 164l4 0 4 1 4-1"/>
<path class="c15" d="M249 164l4 1 4 0 4 0 4 0"/>
<path class="c16" d="M265 165l4 0 4-1 4 0 4 0"/>
<path class="c17" d="M281 164l4-1 4-1 4-1 4 0"/>
<path class="c18" d="M297 161l4-1 4 0 4-2"/>
<path class="c19" d="M309 158l4 0 4 0 4-1"/>
<path class="c20" d="M321 157l4 0 4-1 4 0"/>
<path class="c21" d="M333 156l4-1 4 0"/>
<path class="c22" d="M341 155l4 0 4-1 4-2"/>
<path class="c23" d="M353 152l4-2 4-1"/>
<path class="c24" d="M361 149l4-2 4-4"/>
<path class="c25" d="M369 143l4-1"/>
<path class="c26" d="M373 142l4 0 4-2"/>
<path class="c27" d="M381 140l4-1 4-2"/>
<path class="c28" d="M389 137l4-3"/>
<path class="c29" d="M393 134l4-3"/>
<path class="c30" d="M397 131l4-3 4-3"/>
<path class="c31" d="M405 125l4 0"/>
<path class="c33" d="M409 125l4-7"/>
<path class="c34" d="M413 118l4-5"/>
<path class="c35" d="M417 113l4-3"/>
<path class="c36" d="M421 110l4-6"/>
<path class="c37" d="M425 104l4-1"/>
<path class="c39" d="M429 103l4-5"/>
<path class="c40" d="M433 98l4-5"/>
<path class="c41" d="M437 93l4-7"/>
<path class="c42" d="M441 86l4 2 4 2"/>
<path class="c43" d="M449 90l4 1"/>
<path class="c44" d="M453 91l4 3 4-6 4 3"/>
<path class="c43" d="M465 91l4 6 4 4"/>
<path class="c42" d="M473 101l4 3"/>
<path class="c41" d="M477 104l4 2"/>
<path class="c40" d="M481 106l4 7"/>
<path class="c39" d="M485 113l4 0"/>
<path class="c38" d="M489 113l4 9"/>
<path class="c36" d="M493 122l4 8"/>
<path class="c35" d="M497 130l4 7"/>
<path class="c33" d="M501 137l4 7"/>
<path class="c32" d="M505 144l4 3"/>
<path class="c31" d="M509 147l4 10"/>
<path class="c29" d="M513 157l4 4"/>
<path class="c28" d="M517 161l4 4"/>
<path class="c27" d="M521 165l3 4 4 5"/>
<path class="c26" d="M528 174l4 3"/>
<path class="c25" d="M532 177l4 2"/>
<path class="c24" d="M536 179l4 5"/>
<path class="c23" d="M540 184l4 3 4 3"/>
<path class="c22" d="M548 190l4 5"/>
<path class="c21" d="M552 195l4 3"/>
<path class="c20" d="M556 198l4 5"/>
<path class="c19" d="M560 203l4 4"/>
<path class="c18" d="M564 207l4 5"/>
<path class="c17" d="M568 212l4 2 4 3"/>
<path class="c16" d="M576 217l4 2"/>
<path class="c15" d="M580 219l4 3 4 1 4 2"/>
<path class="c14" d="M592 225l4 3 4 2 4 2"/>
<path class="c13" d="M604 232l4 2 4 2 4 2"/>
<path class="c12" d="M616 238l4 2 4 3 4 2"/>
<path class="c11" d="M628 245l4 2 4 2"/>
<path class="c10" d="M636 249l4 3 4 3"/>
<path class="c9" d="M644 255l4 3"/>
<path class="c13" d="M240 164l4 0"/>
<path class="c14" d="M244 164l4 1 4 0 4 0 4 1"/>
<path class="c15" d="M260 166l4 0 4 0 4-1 4 0"/>
<path class="c16" d="M276 165l4 0 4 0 4-1"/>
<path class="c17" d="M288 164l4 0 4-1 4 0 4-1"/>
<path class="c18" d="M304 162l4-1 4-1 4 0 3 0"/>
<path class="c19" d="M319 160l4-1 4 0"/>
<path class="c20" d="M327 159l4-2 4-1 4 0"/>
<path class="c21" d="M339 156l4 1 4 0"/>
<path class="c22" d="M347 157l4-1 4-1 4-2"/>
<path class="c23" d="M359 153l4 0"/>
<path class="c24" d="M363 153l4-3 4-3"/>
<path class="c25" d="M371 147l4-1 4-2"/>
<path class="c26" d="M379 144l4-1 4-2"/>
<path class="c27" d="M387 141l4-2"/>
<path class="c28" d="M391 139l4-6"/>
<path class="c29" d="M395 133l4-2 4 0"/>
<path class="c30" d="M403 131l4-5"/>
<path class="c31" d="M407 126l4-6"/>
<path class="c33" d="M411 120l4 0"/>
<path class="c34" d="M415 120l4-3"/>
<path class="c36" d="M419 117l4-2"/>
<path class="c37" d="M423 115l4-4"/>
<path class="c38" d="M427 111l4-11"/>
<path class="c40" d="M431 100l4-4"/>
<path class="c41" d="M435 96l4-3"/>
<path class="c42" d="M439 93l4-5 4 0"/>
<path class="c43" d="M447 88l4 3"/>
<path class="c44" d="M451 91l4-7 4 2 4 5 4 3 4 2 4 6"/>
<path class="c43" d="M475 102l4-1"/>
<path class="c42" d="M479 101l4 1"/>
<path class="c41" d="M483 102l4 8"/>
<path class="c39" d="M487 110l4 6"/>
<path class="c38" d="M491 116l4 4"/>
<path class="c37" d="M495 120l4 6"/>
<path class="c35" d="M499 126l4 9"/>
<path class="c34" d="M503 135l4 3"/>
<path class="c33" d="M507 138l4 5"/>
<path class="c31" d="M511 143l4 7"/>
<path class="c30" d="M515 150l4 5"/>
<path class="c29" d="M519 155l4 5"/>
<path class="c28" d="M523 160l4 5"/>
<path class="c27" d="M527 165l4 2"/>
<path class="c26" d="M531 167l4 5"/>
<path class="c25" d="M535 172l4 4 4 5"/>
<path class="c24" d="M543 181l4 3"/>
<path class="c23" d="M547 184l4 4"/>
<path class="c22" d="M551 188l4 5"/>
<path class="c21" d="M555 193l4 3"/>
<path class="c20" d="M559 196l4 4"/>
<path class="c19" d="M563 200l4 5"/>
<path class="c18" d="M567 205l4 4"/>
<path class="c17" d="M571 209l4 3 4 3"/>
<path class="c16" d="M579 215l4 3 4 3"/>
<path class="c15" d="M587 221l4 2 4 1"/>
<path class="c14" d="M595 224l4 3 4 2 4 2"/>
<path class="c13" d="M607 231l4 3 4 2 4 2 4 3"/>
<path class="c12" d="M623 241l4 1 4 2"/>
<path class="c11" d="M631 244l4 2 3 2"/>
<path class="c10" d="M638 248l4 2 4 3"/>
<path class="c9" d="M646 253l4 3"/>
<path class="c13" d="M242 162l4 0 4 1"/>
<path class="c14" d="M250 163l4 0 4 0 4 0 4 1"/>
<path class="c15" d="M266 164l4 0 4 0 4 0 4 0"/>
<path class="c16" d="M282 164l4 0 4 1 4-1 4-1"/>
<path class="c17" d="M298 163l4 0 4-1 4 0 4-1"/>
<path class="c18" d="M314 161l4 0 4 0 4 0"/>
<path class="c19" d="M326 161l4-1 4 0"/>
<path class="c20" d="M334 160l4 0 4-2 4-1"/>
<path class="c21" d="M346 157l4 0 4-1"/>
<path class="c22" d="M354 156l4-2 4-2"/>
<path class="c23" d="M362 152l4-2 4-2"/>
<path class="c24" d="M370 148l4-3"/>
<path class="c25" d="M374 145l4 0 4 0"/>
<path class="c26" d="M382 145l4-1 4-1"/>
<path class="c27" d="M390 143l4-1"/>
<path class="c28" d="M394 142l4-2 4-3"/>
<path class="c29" d="M402 137l4-4"/>
<path class="c30" d="M406 133l4-6"/>
<path class="c31" d="M410 127l4-3"/>
<path class="c33" d="M414 124l4-5"/>
<path class="c34" d="M418 119l4-5"/>
<path class="c36" d="M422 114l4-9"/>
<path class="c38" d="M426 105l4-3"/>
<path class="c40" d="M430 102l3-7"/>
<path class="c41" d="M433 95l4 0"/>
<path class="c42" d="M437 95l4-9 4 0"/>
<path class="c43" d="M445 86l4 1 4 2"/>
<path class="c44" d="M453 89l4-4"/>
<path class="c45" d="M457 85l4 6 4-1 4 1 4 6"/>
<path class="c44" d="M473 97l4 1"/>
<path class="c43" d="M477 98l4-2"/>
<path class="c42" d="M481 96l4 5"/>
<path class="c41" d="M485 101l4 5"/>
<path class="c40" d="M489 106l4 1"/>
<path class="c39" d="M493 107l4 6"/>
<path class="c37" d="M497 113l4 9"/>
<path class="c36" d="M501 122l4 8"/>
<path class="c35" d="M505 130l4 10"/>
<path class="c33" d="M509 140l4 5"/>
<path class="c32" d="M513 145l4 5"/>
<path class="c30" d="M517 150l4 3"/>
<path class="c29" d="M521 153l4 7"/>
<path class="c28" d="M525 160l4 3"/>
<path class="c27" d="M529 163l4 4"/>
<path class="c26" d="M533 167l4 3 4 4"/>
<path class="c25" d="M541 174l4 3"/>
<path class="c24" d="M545 177l4 5"/>
<path class="c23" d="M549 182l4 5"/>
<path class="c22" d="M553 187l4 4"/>
<path class="c21" d="M557 191l4 4"/>
<path class="c20" d="M561 195l4 4"/>
<path class="c19" d="M565 199l4 5"/>
<path class="c18" d="M569 204l4 4"/>
<path class="c17" d="M573 208l4 4 4 3"/>
<path class="c16" d="M581 215l4 2 4 3"/>
<path class="c15" d="M589 220l4 3 4 2"/>
<path class="c14" d="M597 225l4 2 4 2 4 2"/>
<path class="c13" d="M609 231l4 2 4 1 4 3 4 1"/>
<path class="c12" d="M625 238l4 2 4 2 4 3"/>
<path class="c11" d="M637 245l4 2 4 3"/>
<path class="c10" d="M645 250l4 3"/>
<path class="c9" d="M649 253l4 2"/>
<path class="c13" d="M244 164l4-1 4 1 4-1 4 0"/>
<path class="c14" d="M260 163l4 1 4-1 4 0 4 0"/>
<path class="c15" d="M276 163l4 1 4 0 4-1 4 0"/>
<path class="c16" d="M292 163l4-1 4 0 4-1 4-1"/>
<path class="c17" d="M308 160l4 0 4 0 4-1"/>
<path class="c18" d="M320 159l4 0 4 0 4-1"/>
<path class="c19" d="M332 158l4 1 4-1"/>
<path class="c20" d="M340 158l4-2 4-1"/>
<path class="c21" d="M348 155l4-1 4-2"/>
<path class="c22" d="M356 152l4-2 4-2"/>
<path class="c23" d="M364 148l4-2 4 0"/>
<path class="c24" d="M372 146l4-2 4 0"/>
<path class="c25" d="M380 144l4-1 4 0"/>
<path class="c26" d="M388 143l4 0"/>
<path class="c27" d="M392 143l4-2 4-3"/>
<path class="c28" d="M400 138l4-1"/>
<path class="c29" d="M404 137l4-4"/>
<path class="c30" d="M408 133l4-3"/>
<path class="c31" d="M412 130l4-6"/>
<path class="c33" d="M416 124l4-7"/>
<path class="c34" d="M420 117l4-8"/>
<path class="c36" d="M424 109l4-7"/>
<path class="c38" d="M428 102l4-1"/>
<path class="c40" d="M432 101l4-12"/>
<path class="c42" d="M436 89l4 0 4-7"/>
<path class="c43" d="M444 82l4-5 4 5"/>
<path class="c44" d="M452 82l4-1 4 3"/>
<path class="c45" d="M460 84l4-3 4 0 4 4 4 7"/>
<path class="c44" d="M476 92l4 4"/>
<path class="c43" d="M480 96l4-5"/>
<path class="c42" d="M484 91l4 7"/>
<path class="c41" d="M488 98l4 4"/>
<path class="c40" d="M492 102l4 8"/>
<path class="c39" d="M496 110l4 4"/>
<path class="c38" d="M500 114l4 8"/>
<path class="c36" d="M504 122l4 9"/>
<path class="c35" d="M508 131l4 7"/>
<path class="c34" d="M512 138l4 8"/>
<path class="c32" d="M516 146l4 3"/>
<path class="c31" d="M520 149l4 6"/>
<path class="c30" d="M524 155l4 0"/>
<path class="c28" d="M528 155l4 5"/>
<path class="c27" d="M532 160l4 5 4 3"/>
<path class="c26" d="M540 168l4 3"/>
<path class="c25" d="M544 171l3 5"/>
<path class="c24" d="M547 176l4 3"/>
<path class="c23" d="M551 179l4 5"/>
<path class="c22" d="M555 184l4 4"/>
<path class="c21" d="M559 188l4 4"/>
<path class="c20" d="M563 192l4 4"/>
<path class="c19" d="M567 196l4 6"/>
<path class="c18" d="M571 202l4 4"/>
<path class="c17" d="M575 206l4 3 4 4"/>
<path class="c16" d="M583 213l4 3 4 3"/>
<path class="c15" d="M591 219l4 2 4 2"/>
<path class="c14" d="M599 223l4 3 4 1 4 2"/>
<path class="c13" d="M611 229l4 2 4 2 4 1 4 2"/>
<path class="c12" d="M627 236l4 2 4 2 4 2"/>
<path class="c11" d="M639 242l4 2 4 3"/>
<path class="c10" d="M647 247l4 2 4 3"/>
<path class="c12" d="M247 163l4 0"/>
<path class="c13" d="M251 163l4 0 4 0 4 0 4 0 4 0"/>
<path class="c14" d="M271 163l4 1 4-1 4 1 4-1"/>
<path class="c15" d="M287 163l4 1 4-1 4 0 4 0"/>
<path class="c16" d="M303 163l4 0 4-1 4 0 4 0"/>
<path class="c17" d="M319 162l4-1 4 0 4 1"/>
<path class="c18" d="M331 162l4-1 4-1"/>
<path class="c19" d="M339 160l3-2 4-2"/>
<path class="c20" d="M346 156l4 0 4-2"/>
<path class="c21" d="M354 154l4-2 4-2"/>
<path class="c22" d="M362 150l4-1"/>
<path class="c23" d="M366 149l4-1 4-2"/>
<path class="c24" d="M374 146l4-2 4 0"/>
<path class="c25" d="M382 144l4 0 4 0"/>
<path class="c26" d="M390 144l4 0 4-4"/>
<path class="c27" d="M398 140l4-3"/>
<path class="c28" d="M402 137l4-3 4-2"/>
<path class="c29" d="M410 132l4-5"/>
<path class="c31" d="M414 127l4-8"/>
<path class="c32" d="M418 119l4-4"/>
<path class="c34" d="M422 115l4-6"/>
<path class="c36" d="M426 109l4-4"/>
<path class="c38" d="M430 105l4-2"/>
<path class="c40" d="M434 103l4-7"/>
<path class="c41" d="M438 96l4-10"/>
<path class="c42" d="M442 86l4 2"/>
<path class="c43" d="M446 88l4-9 4 1"/>
<path class="c44" d="M454 80l4 4"/>
<path class="c45" d="M458 84l4-4"/>
<path class="c46" d="M462 80l4 0 4 2"/>
<path class="c45" d="M470 82l4 7 4 3"/>
<path class="c44" d="M478 92l4 8"/>
<path class="c43" d="M482 100l4-3"/>
<path class="c42" d="M486 97l4 4"/>
<path class="c41" d="M490 101l4 5"/>
<path class="c40" d="M494 106l4 6"/>
<path class="c39" d="M498 112l4 3"/>
<path class="c38" d="M502 115l4 5"/>
<path class="c37" d="M506 120l4 6"/>
<path class="c35" d="M510 126l4 10"/>
<path class="c34" d="M514 136l4 3"/>
<path class="c32" d="M518 139l4 7"/>
<path class="c31" d="M522 146l4 3"/>
<path class="c30" d="M526 149l4 3"/>
<path class="c29" d="M530 152l4 5"/>
<path class="c28" d="M534 157l4 5"/>
<path class="c27" d="M538 162l4 3"/>
<path class="c26" d="M542 165l4 1"/>
<path class="c25" d="M546 166l4 5"/>
<path class="c24" d="M550 171l4 4"/>
<path class="c23" d="M554 175l4 5"/>
<path class="c22" d="M558 180l4 4"/>
<path class="c21" d="M562 184l4 6"/>
<path class="c20" d="M566 190l4 5"/>
<path class="c19" d="M570 195l4 5"/>
<path class="c18" d="M574 200l4 4"/>
<path class="c17" d="M578 204l4 4 4 3"/>
<path class="c16" d="M586 211l4 4 4 3"/>
<path class="c15" d="M594 218l4 3 4 2"/>
<path class="c14" d="M602 223l4 2 4 1 4 2"/>
<path class="c13" d="M614 228l4 2 4 1 4 2 4 2"/>
<path class="c12" d="M630 235l4 2 4 1 4 3"/>
<path class="c11" d="M642 241l4 1 4 3"/>
<path class="c10" d="M650 245l4 2 4 3"/>
<path class="c12" d="M249 163l4 0 4 1 4 0"/>
<path class="c13" d="M261 164l4 0 4 1 4 0 4 0 4 0"/>
<path class="c14" d="M281 165l4 0 4-1 4 0 4-1"/>
<path class="c15" d="M297 163l4 0 4 0 4 0 4-1"/>
<path class="c16" d="M313 162l4 0 4 0 4-1"/>
<path class="c17" d="M325 161l4 0 4-1 4-2"/>
<path class="c18" d="M337 158l4 0 4-2"/>
<path class="c19" d="M345 156l4-2 4 0"/>
<path class="c20" d="M353 154l4-2"/>
<path class="c21" d="M357 152l4-3 4-1"/>
<path class="c22" d="M365 148l4-1 4 0"/>
<path class="c23" d="M373 147l4-1"/>
<path class="c24" d="M377 146l4-2 4 1"/>
<path class="c25" d="M385 145l4-1 4 1 4-1"/>
<path class="c26" d="M397 144l4-4 4-2"/>
<path class="c27" d="M405 138l4-3"/>
<path class="c28" d="M409 135l4-3"/>
<path class="c29" d="M413 132l4-2"/>
<path class="c30" d="M417 130l4-7"/>
<path class="c32" d="M421 123l4-3"/>
<path class="c34" d="M425 120l4-7"/>
<path class="c36" d="M429 113l4-11"/>
<path class="c37" d="M433 102l4-5"/>
<path class="c39" d="M437 97l4 0"/>
<path class="c40" d="M441 97l4-9"/>
<path class="c41" d="M445 88l4-3 4-1"/>
<path class="c42" d="M453 84l4 1"/>
<path class="c43" d="M457 85l3-5"/>
<path class="c45" d="M460 80l4-3 4 1 4 0 4 3 4 2"/>
<path class="c44" d="M480 83l4 14"/>
<path class="c43" d="M484 97l4-5"/>
<path class="c42" d="M488 92l4 5"/>
<path class="c41" d="M492 97l4 3"/>
<path class="c40" d="M496 100l4 7"/>
<path class="c39" d="M500 107l4 8"/>
<path class="c38" d="M504 115l4 7"/>
<path class="c36" d="M508 122l4 4"/>
<path class="c35" d="M512 126l4 10"/>
<path class="c34" d="M516 136l4 3"/>
<path class="c32" d="M520 139l4 4"/>
<path class="c31" d="M524 143l4 6"/>
<path class="c30" d="M528 149l4 5"/>
<path class="c28" d="M532 154l4 4"/>
<path class="c27" d="M536 158l4 3"/>
<path class="c26" d="M540 161l4 3 4 2"/>
<path class="c25" d="M548 166l4 4"/>
<path class="c24" d="M552 170l4 4"/>
<path class="c23" d="M556 174l4 6"/>
<path class="c22" d="M560 180l4 5"/>
<path class="c21" d="M564 185l4 5"/>
<path class="c20" d="M568 190l4 5"/>
<path class="c19" d="M572 195l4 5"/>
<path class="c18" d="M576 200l4 4"/>
<path class="c17" d="M580 204l4 3 4 3"/>
<path class="c16" d="M588 210l4 3 4 4"/>
<path class="c15" d="M596 217l4 2 4 3"/>
<path class="c14" d="M604 222l4 1 4 2 4 2"/>
<path class="c13" d="M616 227l4 2 4 1 4 2 4 2"/>
<path class="c12" d="M632 234l4 2 4 2 4 2"/>
<path class="c11" d="M644 240l4 2 4 2"/>
<path class="c10" d="M652 244l4 3 4 2"/>
<path class="c12" d="M252 163l3-1 4 1 4 0 4 0 4 0"/>
<path class="c13" d="M271 163l4 0 4-1 4 1 4 0 4 1"/>
<path class="c14" d="M291 164l4-1 4-1 4 0 4 0"/>
<path class="c15" d="M307 162l4 0 4-1 4 0 4 0"/>
<path class="c16" d="M323 161l4-1 4 0"/>
<path class="c17" d="M331 160l4-1 4-1 4-1"/>
<path class="c18" d="M343 157l4-2 4-2"/>
<path class="c19" d="M351 153l4-2"/>
<path class="c20" d="M355 151l4-2 4-1"/>
<path class="c21" d="M363 148l4-2"/>
<path class="c22" d="M367 146l4-1 4-1"/>
<path class="c23" d="M375 144l4-1 4-3"/>
<path class="c24" d="M383 140l4 0 4 1"/>
<path class="c25" d="M391 141l4 1 4-2"/>
<path class="c26" d="M399 140l4-2 4-1"/>
<path class="c27" d="M407 137l4-4"/>
<path class="c28" d="M411 133l4-3"/>
<path class="c29" d="M415 130l4-4"/>
<path class="c30" d="M419 126l4-3"/>
<path class="c31" d="M423 123l4-5"/>
<path class="c33" d="M427 118l4-11"/>
<path class="c35" d="M431 107l4-9"/>
<path class="c37" d="M435 98l4-4"/>
<path class="c38" d="M439 94l4-1"/>
<path class="c39" d="M443 93l4-7 4-4"/>
<path class="c40" d="M451 82l4-1"/>
<path class="c41" d="M455 81l4-3"/>
<path class="c43" d="M459 78l4-2"/>
<path class="c44" d="M463 76l4 0 4 4"/>
<path class="c45" d="M471 80l4 3 4-2"/>
<path class="c44" d="M479 81l4 5 4 6"/>
<path class="c43" d="M487 92l4 4"/>
<path class="c42" d="M491 96l4 6"/>
<path class="c41" d="M495 102l4 3"/>
<path class="c40" d="M499 105l4 4"/>
<path class="c38" d="M503 109l4 8"/>
<path class="c37" d="M507 117l4 8"/>
<path class="c36" d="M511 125l4 3"/>
<path class="c35" d="M515 128l4 4"/>
<path class="c33" d="M519 132l4 4"/>
<path class="c32" d="M523 136l4 6"/>
<path class="c31" d="M527 142l4 4"/>
<path class="c29" d="M531 146l4 5"/>
<path class="c28" d="M535 151l4 7"/>
<path class="c27" d="M539 158l4 3"/>
<path class="c26" d="M543 161l4 2"/>
<path class="c25" d="M547 163l4 3 4 3"/>
<path class="c24" d="M555 169l4 3"/>
<path class="c23" d="M559 172l4 5"/>
<path class="c22" d="M563 177l4 5"/>
<path class="c21" d="M567 182l4 5"/>
<path class="c20" d="M571 187l3 6"/>
<path class="c19" d="M574 193l4 4"/>
<path class="c18" d="M578 197l4 5"/>
<path class="c17" d="M582 202l4 3 4 2"/>
<path class="c16" d="M590 207l4 3 4 3"/>
<path class="c15" d="M598 213l4 3 4 2"/>
<path class="c14" d="M606 218l4 3 4 2 4 2"/>
<path class="c13" d="M618 225l4 2 4 3 4 1 4 2"/>
<path class="c12" d="M634 233l4 2 4 2 4 1"/>
<path class="c11" d="M646 238l4 2 4 2"/>
<path class="c10" d="M654 242l4 2 4 2"/>
<path class="c11" d="M254 162l4 0 4 0"/>
<path class="c12" d="M262 162l4 0 4 0 4 0 4-1 4 0"/>
<path class="c13" d="M282 161l4 1 4 0 4 0 4-1 4 0"/>
<path class="c14" d="M302 161l4 1 4 0 4-1 4 1"/>
<path class="c15" d="M318 162l4 0 4 0 4-1"/>
<path class="c16" d="M330 161l4 0 4-1 4-2"/>
<path class="c17" d="M342 158l4-2 4-1"/>
<path class="c18" d="M350 155l4-1"/>
<path class="c19" d="M354 154l4-2 4-1"/>
<path class="c20" d="M362 151l4-2"/>
<path class="c21" d="M366 149l3-2 4-1"/>
<path class="c22" d="M373 146l4-1"/>
<path class="c23" d="M377 145l4 0 4 0"/>
<path class="c24" d="M385 145l4-3 4 0"/>
<path class="c25" d="M393 142l4 1 4-2 4-3"/>
<path class="c26" d="M405 138l4-2 4-3"/>
<path class="c27" d="M413 133l4-4"/>
<path class="c28" d="M417 129l4-4"/>
<path class="c30" d="M421 125l4-4"/>
<path class="c31" d="M425 121l4-1"/>
<path class="c33" d="M429 120l4-10"/>
<path class="c35" d="M433 110l4-5"/>
<path class="c36" d="M437 105l4-3"/>
<path class="c37" d="M441 102l4-5"/>
<path class="c38" d="M445 97l4-3"/>
<path class="c39" d="M449 94l4-6"/>
<path class="c40" d="M453 88l4-2"/>
<path class="c41" d="M457 86l4-5"/>
<path class="c43" d="M461 81l4-4"/>
<path class="c44" d="M465 77l4 0 4 0 4 4 4 3 4 4"/>
<path class="c43" d="M485 88l4 5"/>
<path class="c42" d="M489 93l4 6"/>
<path class="c41" d="M493 99l4 2"/>
<path class="c40" d="M497 101l4 4"/>
<path class="c39" d="M501 105l4 1"/>
<path class="c38" d="M505 106l4 10"/>
<path class="c37" d="M509 116l4 5"/>
<path class="c35" d="M513 121l4 9"/>
<path class="c34" d="M517 130l4 4"/>
<path class="c33" d="M521 134l4 1"/>
<path class="c31" d="M525 135l4 6"/>
<path class="c30" d="M529 141l4 4"/>
<path class="c29" d="M533 145l4 7"/>
<path class="c27" d="M537 152l4 5"/>
<path class="c26" d="M541 157l4 4 4 3"/>
<path class="c25" d="M549 164l4 2"/>
<path class="c24" d="M553 166l4 5"/>
<path class="c23" d="M557 171l4 5 4 5"/>
<path class="c22" d="M565 181l4 5"/>
<path class="c21" d="M569 186l4 5"/>
<path class="c20" d="M573 191l4 4"/>
<path class="c19" d="M577 195l4 3"/>
<path class="c18" d="M581 198l4 3"/>
<path class="c17" d="M585 201l4 3 4 2"/>
<path class="c16" d="M593 206l4 4 4 2"/>
<path class="c15" d="M601 212l4 2 4 3"/>
<path class="c14" d="M609 217l4 2 4 3 4 2"/>
<path class="c13" d="M621 224l4 2 4 2 4 2"/>
<path class="c12" d="M633 230l4 1 4 3 4 1"/>
<path class="c11" d="M645 235l4 2 4 2 4 2"/>
<path class="c10" d="M657 241l4 2 4 1"/>
<path class="c11" d="M256 162l4 0 4 1 4-1 4 1"/>
<path class="c12" d="M272 163l4 0 4 0 4-1 4 0 4 0"/>
<path class="c13" d="M292 162l4 1 4-1 4 0 4 0 4-1"/>
<path class="c14" d="M312 161l4 0 4 0 4 0"/>
<path class="c15" d="M324 161l4-1 4 0 4 0"/>
<path class="c16" d="M336 160l4-1 4-1"/>
<path class="c17" d="M344 158l4-1 4-1"/>
<path class="c18" d="M352 156l4-3 4-1"/>
<path class="c19" d="M360 152l4-1"/>
<path class="c20" d="M364 151l4-1 4-2"/>
<path class="c21" d="M372 148l4-1"/>
<path class="c22" d="M376 147l4-1 4-1"/>
<path class="c23" d="M384 145l4-2"/>
<path class="c24" d="M388 143l4 1 4 0 4-2"/>
<path class="c25" d="M400 142l4 0 4-3"/>
<path class="c26" d="M408 139l4-2 4 0"/>
<path class="c27" d="M416 137l4-4"/>
<path class="c28" d="M420 133l4-4"/>
<path class="c29" d="M424 129l4-5"/>
<path class="c31" d="M428 124l4-4"/>
<path class="c32" d="M432 120l4-8"/>
<path class="c34" d="M436 112l4-8"/>
<path class="c36" d="M440 104l4-6"/>
<path class="c37" d="M444 98l4-4"/>
<path class="c38" d="M448 94l4-1"/>
<path class="c39" d="M452 93l4-8"/>
<path class="c40" d="M456 85l4-4"/>
<path class="c42" d="M460 81l4-3"/>
<path class="c43" d="M464 78l4-1"/>
<path class="c44" d="M468 77l4 0 4 5"/>
<path class="c43" d="M476 82l4 4 3 0 4 2 4 4"/>
<path class="c42" d="M491 92l4 11"/>
<path class="c41" d="M495 103l4 3"/>
<path class="c40" d="M499 106l4 5"/>
<path class="c39" d="M503 111l4 3"/>
<path class="c37" d="M507 114l4 1"/>
<path class="c36" d="M511 115l4 4"/>
<path class="c35" d="M515 119l4 3"/>
<path class="c33" d="M519 122l4 9"/>
<path class="c32" d="M523 131l4 5"/>
<path class="c31" d="M527 136l4 5"/>
<path class="c29" d="M531 141l4 9"/>
<path class="c28" d="M535 150l4 5"/>
<path class="c27" d="M539 155l4 4"/>
<path class="c26" d="M543 159l4 5"/>
<path class="c25" d="M547 164l4 2"/>
<path class="c24" d="M551 166l4 4 4 2"/>
<path class="c23" d="M559 172l4 3"/>
<path class="c22" d="M563 175l4 4"/>
<path class="c21" d="M567 179l4 5"/>
<path class="c20" d="M571 184l4 4 4 5"/>
<path class="c19" d="M579 193l4 4"/>
<path class="c18" d="M583 197l4 3"/>
<path class="c17" d="M587 200l4 2 4 2"/>
<path class="c16" d="M595 204l4 3 4 3"/>
<path class="c15" d="M603 210l4 3 4 2"/>
<path class="c14" d="M611 215l4 3 4 3 4 2"/>
<path class="c13" d="M623 223l4 1 4 3 4 1"/>
<path class="c12" d="M635 228l4 3 4 2 4 2"/>
<path class="c11" d="M647 235l4 2 4 1 4 2"/>
<path class="c10" d="M659 240l4 1 4 2"/>
<path class="c11" d="M259 163l4 0 4 0 4 1 4 0 3 0 4 0"/>
<path class="c12" d="M282 164l4 0 4-1 4 0 4-1 4 0"/>
<path class="c13" d="M302 162l4 0 4-1 4 0 4 0 4 0"/>
<path class="c14" d="M322 161l4 1 4-1 4 0"/>
<path class="c15" d="M334 161l4 0 4-1"/>
<path class="c16" d="M342 160l4-2 4-1"/>
<path class="c17" d="M350 157l4-1 4-2"/>
<path class="c18" d="M358 154l4-2"/>
<path class="c19" d="M362 152l4-2 4-2"/>
<path class="c20" d="M370 148l4-2"/>
<path class="c21" d="M374 146l4-3 4-1"/>
<path class="c22" d="M382 142l4-1"/>
<path class="c23" d="M386 141l4-2 4 0"/>
<path class="c24" d="M394 139l4 1 4 0 4-1"/>
<path class="c25" d="M406 139l4 0 4 0"/>
<path class="c26" d="M414 139l4 0"/>
<path class="c27" d="M418 139l4-5"/>
<path class="c28" d="M422 134l4-3"/>
<path class="c29" d="M426 131l4-5"/>
<path class="c30" d="M430 126l4-3"/>
<path class="c32" d="M434 123l4-6"/>
<path class="c34" d="M438 117l4-6"/>
<path class="c35" d="M442 111l4-4"/>
<path class="c37" d="M446 107l4-6"/>
<path class="c38" d="M450 101l4-3"/>
<path class="c39" d="M454 98l4-3"/>
<path class="c41" d="M458 95l4-17"/>
<path class="c42" d="M462 78l4-1"/>
<path class="c43" d="M466 77l4-1 4 6 4-2"/>
<path class="c42" d="M478 80l4 10 4 0"/>
<path class="c43" d="M486 90l4 1"/>
<path class="c42" d="M490 91l4 2 4 6"/>
<path class="c41" d="M498 99l4 8"/>
<path class="c40" d="M502 107l4 5"/>
<path class="c38" d="M506 112l4 4"/>
<path class="c37" d="M510 116l4 1"/>
<path class="c35" d="M514 117l4 3"/>
<path class="c34" d="M518 120l4 7"/>
<path class="c33" d="M522 127l4 7"/>
<path class="c31" d="M526 134l4 5"/>
<path class="c30" d="M530 139l4 4"/>
<path class="c28" d="M534 143l4 11"/>
<path class="c27" d="M538 154l4 5"/>
<path class="c25" d="M542 159l4 3 4 5"/>
<path class="c24" d="M550 167l4 3"/>
<path class="c23" d="M554 170l4 2 4 3"/>
<path class="c22" d="M562 175l4 4"/>
<path class="c21" d="M566 179l4 3 4 4"/>
<path class="c20" d="M574 186l4 5"/>
<path class="c19" d="M578 191l4 2"/>
<path class="c18" d="M582 193l4 4 4 3"/>
<path class="c17" d="M590 200l4 2 4 3"/>
<path class="c16" d="M598 205l3 2 4 3"/>
<path class="c15" d="M605 210l4 3 4 1"/>
<path class="c14" d="M613 214l4 3 4 2 4 2"/>
<path class="c13" d="M625 221l4 2 4 2 4 2"/>
<path class="c12" d="M637 227l4 2 4 3 4 1"/>
<path class="c11" d="M649 233l4 2 4 2 4 2"/>
<path class="c10" d="M661 239l4 2 4 1"/>
<path class="c10" d="M261 164l4 0"/>
<path class="c11" d="M265 164l4 0 4 1 4 0 4 0 4 0 4 0 4-1"/>
<path class="c12" d="M293 164l4 0 4 0 4 0 4 0 4 0"/>
<path class="c13" d="M313 164l4 0 4 0 4-1 4 0"/>
<path class="c14" d="M329 163l4 0 4-1 4-1"/>
<path class="c15" d="M341 161l4-1 4-2"/>
<path class="c16" d="M349 158l4-1 4 0"/>
<path class="c17" d="M357 157l4-1 4-3"/>
<path class="c18" d="M365 153l4-1"/>
<path class="c19" d="M369 152l4-3 4-2"/>
<path class="c20" d="M377 147l4-2"/>
<path class="c21" d="M381 145l4-1"/>
<path class="c22" d="M385 144l4-2 4-1"/>
<path class="c23" d="M393 141l3 1 4 0 4 0"/>
<path class="c24" d="M404 142l4 0 4-3"/>
<path class="c25" d="M412 139l4-2 4 0"/>
<path class="c26" d="M420 137l4-6"/>
<path class="c27" d="M424 131l4-6"/>
<path class="c28" d="M428 125l4-4"/>
<path class="c30" d="M432 121l4-5"/>
<path class="c31" d="M436 116l4-5"/>
<path class="c33" d="M440 111l4-2"/>
<path class="c35" d="M444 109l4-6"/>
<path class="c36" d="M448 103l4-4"/>
<path class="c38" d="M452 99l4-7"/>
<path class="c39" d="M456 92l4-3"/>
<path class="c41" d="M460 89l4-6"/>
<path class="c42" d="M464 83l4-2 4 3 4 5 4 3"/>
<path class="c41" d="M480 92l4 1"/>
<path class="c42" d="M484 93l4 3 4-2 4 2 4 4"/>
<path class="c41" d="M500 100l4 10"/>
<path class="c39" d="M504 110l4 4"/>
<path class="c38" d="M508 114l4 3"/>
<path class="c36" d="M512 117l4 4"/>
<path class="c34" d="M516 121l4 5"/>
<path class="c33" d="M520 126l4 7"/>
<path class="c31" d="M524 133l4 4"/>
<path class="c30" d="M528 137l4 7"/>
<path class="c28" d="M532 144l4 6"/>
<path class="c27" d="M536 150l4 5"/>
<path class="c25" d="M540 155l4 8"/>
<path class="c24" d="M544 163l4 3"/>
<path class="c23" d="M548 166l4 4 4 2"/>
<path class="c22" d="M556 172l4 2 4 3"/>
<path class="c21" d="M564 177l4 3 4 4"/>
<path class="c20" d="M572 184l4 3"/>
<path class="c19" d="M576 187l4 3 4 3"/>
<path class="c18" d="M584 193l4 3 4 3"/>
<path class="c17" d="M592 199l4 2"/>
<path class="c16" d="M596 201l4 3 4 2"/>
<path class="c15" d="M604 206l4 2 4 3 4 2"/>
<path class="c14" d="M616 213l4 3 4 2 4 2"/>
<path class="c13" d="M628 220l4 2 4 3 4 2"/>
<path class="c12" d="M640 227l4 1 4 1 4 2"/>
<path class="c11" d="M652 231l4 2 4 1 4 1 4 2"/>
<path class="c10" d="M668 237l4 1"/>
<path class="c10" d="M263 162l4 0 4 0 4 1"/>
<path class="c11" d="M275 163l4 0 4 0 4 1 4 0 4 0 4 1 4 0"/>
<path class="c12" d="M303 165l4 0 4 0 4 0 4 0 4 0"/>
<path class="c13" d="M323 165l4-1 4 1 4 0 4-1"/>
<path class="c14" d="M339 164l4-1 4-1"/>
<path class="c15" d="M347 162l4-1 4-2"/>
<path class="c16" d="M355 159l4-1 4-1"/>
<path class="c17" d="M363 157l4-2"/>
<path class="c18" d="M367 155l4-2 4-2"/>
<path class="c19" d="M375 151l4-1"/>
<path class="c20" d="M379 150l4-2 4-3"/>
<path class="c21" d="M387 145l4 0"/>
<path class="c22" d="M391 145l4-1 4-1"/>
<path class="c23" d="M399 143l4 0 4-1 4-1"/>
<path class="c24" d="M411 141l4-2 4-3"/>
<path class="c25" d="M419 136l4 0"/>
<path class="c26" d="M423 136l4-4"/>
<path class="c27" d="M427 132l4-5"/>
<path class="c28" d="M431 127l4-4"/>
<path class="c29" d="M435 123l4-4"/>
<path class="c31" d="M439 119l4-8"/>
<path class="c32" d="M443 111l4-1"/>
<path class="c34" d="M447 110l4-3"/>
<path class="c35" d="M451 107l4-5"/>
<path class="c37" d="M455 102l4-4"/>
<path class="c38" d="M459 98l4-2"/>
<path class="c40" d="M463 96l4-7"/>
<path class="c41" d="M467 89l4-2 4 3 4 10"/>
<path class="c40" d="M479 100l4 1 4-3"/>
<path class="c41" d="M487 98l4-7 4 0"/>
<path class="c42" d="M495 91l4 2"/>
<path class="c41" d="M499 93l4 8"/>
<path class="c40" d="M503 101l4 7"/>
<path class="c39" d="M507 108l3-2"/>
<path class="c37" d="M510 106l4 14"/>
<path class="c35" d="M514 120l4 7"/>
<path class="c33" d="M518 127l4 4"/>
<path class="c32" d="M522 131l4 1"/>
<path class="c30" d="M526 132l4 8"/>
<path class="c29" d="M530 140l4 9"/>
<path class="c27" d="M534 149l4 7"/>
<path class="c25" d="M538 156l4 6"/>
<path class="c24" d="M542 162l4 4"/>
<path class="c23" d="M546 166l4 3"/>
<path class="c22" d="M550 169l4 3 4 2"/>
<path class="c21" d="M558 174l4 2 4 2"/>
<path class="c20" d="M566 178l4 2 4 4"/>
<path class="c19" d="M574 184l4 3 4 3"/>
<path class="c18" d="M582 190l4 3 4 2"/>
<path class="c17" d="M590 195l4 4 4 2"/>
<path class="c16" d="M598 201l4 2 4 2"/>
<path class="c15" d="M606 205l4 2 4 3 4 3"/>
<path class="c14" d="M618 213l4 1 4 3"/>
<path class="c13" d="M626 217l4 2 4 1 4 3 4 3"/>
<path class="c12" d="M642 226l4 2 4 2 4 1"/>
<path class="c11" d="M654 231l4 2 4 1 4 2 4 1 4 2"/>
<path class="c10" d="M266 164l4 0 4 0 4 0 4-1 4 0 4 0"/>
<path class="c11" d="M290 163l4 0 4-1 4 1 3 0 4 0 4 0 4 0"/>
<path class="c12" d="M317 163l4 0 4 0 4 1 4 0"/>
<path class="c13" d="M333 164l4 0 4-1 4 0"/>
<path class="c14" d="M345 163l4 0 4-1"/>
<path class="c15" d="M353 162l4-1 4-2"/>
<path class="c16" d="M361 159l4-1 4-2"/>
<path class="c17" d="M369 156l4-1"/>
<path class="c18" d="M373 155l4-2 4-1"/>
<path class="c19" d="M381 152l4-3"/>
<path class="c20" d="M385 149l4 0"/>
<path class="c21" d="M389 149l4-2 4-1"/>
<path class="c22" d="M397 146l4-1 4 0 4-1"/>
<path class="c23" d="M409 144l4-1 4-1"/>
<path class="c24" d="M417 142l4-4 4-3"/>
<path class="c25" d="M425 135l4-3"/>
<path class="c26" d="M429 132l4-3"/>
<path class="c27" d="M433 129l4-6"/>
<path class="c29" d="M437 123l4-4"/>
<path class="c30" d="M441 119l4-7"/>
<path class="c31" d="M445 112l4-1"/>
<path class="c33" d="M449 111l4-7"/>
<path class="c34" d="M453 104l4-4"/>
<path class="c36" d="M457 100l4 2"/>
<path class="c37" d="M461 102l4-4"/>
<path class="c38" d="M465 98l4-3"/>
<path class="c39" d="M469 95l4-4 4 6 4 3 4-2 4 1"/>
<path class="c40" d="M489 99l4-4 4-3"/>
<path class="c41" d="M497 92l4 5"/>
<path class="c40" d="M501 97l4 2"/>
<path class="c39" d="M505 99l4 5"/>
<path class="c38" d="M509 104l4 9"/>
<path class="c36" d="M513 113l4 10"/>
<path class="c34" d="M517 123l4 5"/>
<path class="c32" d="M521 128l4 2"/>
<path class="c31" d="M525 130l4 7"/>
<path class="c29" d="M529 137l4 6"/>
<path class="c28" d="M533 143l4 8"/>
<path class="c26" d="M537 151l4 8"/>
<path class="c24" d="M541 159l4 6"/>
<path class="c22" d="M545 165l4 4 4 4"/>
<path class="c21" d="M553 173l4 3 4 3"/>
<path class="c20" d="M561 179l4 0 4 3 4 2"/>
<path class="c19" d="M573 184l4 3 4 2"/>
<path class="c18" d="M581 189l4 3 4 3"/>
<path class="c17" d="M589 195l4 3 4 2"/>
<path class="c16" d="M597 200l4 2 4 1 4 2"/>
<path class="c15" d="M609 205l4 3 4 3"/>
<path class="c14" d="M617 211l4 2 3 2 4 2"/>
<path class="c13" d="M628 217l4 1 4 1 4 2 4 3"/>
<path class="c12" d="M644 224l4 2 4 1 4 2"/>
<path class="c11" d="M656 229l4 2 4 1 4 1 4 2 4 2"/>
<path class="c10" d="M268 163l4 0 4 0 4 0 4 0 4 1 4-1 4 1 4 0 4 0"/>
<path class="c11" d="M304 164l4 0 4 0 4 0 4 0 4 0 4 0"/>
<path class="c12" d="M328 164l4 0 4 0 4 0 4 0"/>
<path class="c13" d="M344 164l4 0 4-1"/>
<path class="c14" d="M352 163l4-1 4-1"/>
<path class="c15" d="M360 161l4-1 4-1"/>
<path class="c16" d="M368 159l4-1"/>
<path class="c17" d="M372 158l4-2 4-2"/>
<path class="c18" d="M380 154l4-1"/>
<path class="c19" d="M384 153l4-3 4-2"/>
<path class="c20" d="M392 148l4-1"/>
<path class="c21" d="M396 147l4-2 4 0"/>
<path class="c22" d="M404 145l4-1 4-1 4 0"/>
<path class="c23" d="M416 143l3-2 4-1"/>
<path class="c24" d="M423 140l4-1"/>
<path class="c25" d="M427 139l4-3"/>
<path class="c26" d="M431 136l4-4"/>
<path class="c27" d="M435 132l4-6"/>
<path class="c28" d="M439 126l4-5"/>
<path class="c29" d="M443 121l4-3"/>
<path class="c30" d="M447 118l4-5"/>
<path class="c32" d="M451 113l4-7"/>
<path class="c33" d="M455 106l4-2"/>
<path class="c34" d="M459 104l4 0"/>
<path class="c35" d="M463 104l4-2"/>
<path class="c36" d="M467 102l4 2"/>
<path class="c37" d="M471 104l4-7 4-1"/>
<path class="c38" d="M479 96l4 1"/>
<path class="c37" d="M483 97l4 5"/>
<path class="c38" d="M487 102l4-1 4 0"/>
<path class="c39" d="M495 101l4 0 4-3 4 6"/>
<path class="c38" d="M507 104l4 1"/>
<path class="c37" d="M511 105l4 8"/>
<path class="c35" d="M515 113l4 9"/>
<path class="c33" d="M519 122l4 9"/>
<path class="c31" d="M523 131l4 3"/>
<path class="c30" d="M527 134l4 8"/>
<path class="c29" d="M531 142l4 5"/>
<path class="c27" d="M535 147l4 9"/>
<path class="c25" d="M539 156l4 8"/>
<path class="c23" d="M543 164l4 7"/>
<path class="c22" d="M547 171l4 2"/>
<path class="c21" d="M551 173l4 3 4 1"/>
<path class="c20" d="M559 177l4 2 4 1"/>
<path class="c19" d="M567 180l4 2 4 1 4 3"/>
<path class="c18" d="M579 186l4 2 4 3"/>
<path class="c17" d="M587 191l4 4 4 2 4 2"/>
<path class="c16" d="M599 199l4 2 4 2"/>
<path class="c15" d="M607 203l4 1 4 2 4 3"/>
<path class="c14" d="M619 209l4 2 4 3 4 1"/>
<path class="c13" d="M631 215l4 2 4 2 4 2"/>
<path class="c12" d="M643 221l4 1 4 2 4 1 4 1"/>
<path class="c11" d="M659 226l4 2 4 0 4 2 4 1 4 1"/>
<path class="c9" d="M270 163l4 0 4 0"/>
<path class="c10" d="M278 163l4 0 4 0 4 0 4 0 4 0 4 1 4 0 4 0 4 1 4 0"/>
<path class="c11" d="M318 165l4 1 4 0 4-1 4 1 4-1"/>
<path class="c12" d="M338 165l4 0 4 0 4-1"/>
<path class="c13" d="M350 164l4 0 4-2"/>
<path class="c14" d="M358 162l4-1 4-1"/>
<path class="c15" d="M366 160l4-1 4-1"/>
<path class="c16" d="M374 158l4-1"/>
<path class="c17" d="M378 157l4-2 4-2"/>
<path class="c18" d="M386 153l4-1"/>
<path class="c19" d="M390 152l4-2 4-1"/>
<path class="c20" d="M398 149l4-1"/>
<path class="c21" d="M402 148l4-1 4-1 4-2"/>
<path class="c22" d="M414 144l4-1 4-1"/>
<path class="c23" d="M422 142l4-2 4-1"/>
<path class="c24" d="M430 139l4-3"/>
<path class="c25" d="M434 136l4-3"/>
<path class="c26" d="M438 133l4-3"/>
<path class="c27" d="M442 130l4-4"/>
<path class="c28" d="M446 126l4-4"/>
<path class="c29" d="M450 122l4-2"/>
<path class="c31" d="M454 120l4-7"/>
<path class="c32" d="M458 113l4-2"/>
<path class="c33" d="M462 111l4-4"/>
<path class="c34" d="M466 107l4 3"/>
<path class="c35" d="M470 110l4-5"/>
<path class="c36" d="M474 105l4-3 4 1 4 2 4 0 4 1"/>
<path class="c37" d="M494 106l4-4 4-2"/>
<path class="c38" d="M502 100l4-1 4-1"/>
<path class="c37" d="M510 98l4 9"/>
<path class="c36" d="M514 107l4 12"/>
<path class="c34" d="M518 119l4 5"/>
<path class="c31" d="M522 124l4 6"/>
<path class="c30" d="M526 130l4 3"/>
<path class="c29" d="M530 133l4 4"/>
<path class="c28" d="M534 137l3 8"/>
<path class="c26" d="M537 145l4 7"/>
<path class="c24" d="M541 152l4 8"/>
<path class="c23" d="M545 160l4 7"/>
<path class="c21" d="M549 167l4 3 4 5"/>
<path class="c20" d="M557 175l4 2 4 3"/>
<path class="c19" d="M565 180l4 1 4 1"/>
<path class="c18" d="M573 182l4 3 4 2 4 2"/>
<path class="c17" d="M585 189l4 3 4 2 4 2"/>
<path class="c16" d="M597 196l4 2 4 2 4 2"/>
<path class="c15" d="M609 202l4 2 4 2 4 2"/>
<path class="c14" d="M621 208l4 2 4 3 4 1"/>
<path class="c13" d="M633 214l4 2 4 2 4 2"/>
<path class="c12" d="M645 220l4 1 4 2 4 2 4 1"/>
<path class="c11" d="M661 226l4 1 4 1 4 1 4 2 4 1"/>
<path class="c9" d="M273 162l4 0 4 1 4 0 4 0 4 0 4 1"/>
<path class="c10" d="M297 164l4 0 4 0 4 1 4 0 4 0 4 1 4 0 4 0"/>
<path class="c11" d="M329 166l3 0 4 0 4 0 4 0"/>
<path class="c12" d="M344 166l4-1 4 0 4 0"/>
<path class="c13" d="M356 165l4-1 4-1"/>
<path class="c14" d="M364 163l4 0 4-3"/>
<path class="c15" d="M372 160l4-1 4-2"/>
<path class="c16" d="M380 157l4-2"/>
<path class="c17" d="M384 155l4-2 4-2"/>
<path class="c18" d="M392 151l4-3"/>
<path class="c19" d="M396 148l4-2 4-1"/>
<path class="c20" d="M404 145l4-1 4 0"/>
<path class="c21" d="M412 144l4 0 4-2"/>
<path class="c22" d="M420 142l4-1 4-1"/>
<path class="c23" d="M428 140l4-2 4-2"/>
<path class="c24" d="M436 136l4-3"/>
<path class="c25" d="M440 133l4-2"/>
<path class="c26" d="M444 131l4-4"/>
<path class="c27" d="M448 127l4-2"/>
<path class="c28" d="M452 125l4-6"/>
<path class="c29" d="M456 119l4-5"/>
<path class="c31" d="M460 114l4-5"/>
<path class="c32" d="M464 109l4 0"/>
<path class="c33" d="M468 109l4-2"/>
<path class="c34" d="M472 107l4-6"/>
<path class="c35" d="M476 101l4-6 4 6 4-4 4 1 4-1"/>
<path class="c36" d="M496 97l4-1"/>
<path class="c37" d="M500 96l4 0 4 8 4-3"/>
<path class="c36" d="M512 101l4 8"/>
<path class="c34" d="M516 109l4 13"/>
<path class="c32" d="M520 122l4 7"/>
<path class="c30" d="M524 129l4 5"/>
<path class="c29" d="M528 134l4 2"/>
<path class="c28" d="M532 136l4 6"/>
<path class="c27" d="M536 142l4 8"/>
<path class="c25" d="M540 150l4 6"/>
<path class="c24" d="M544 156l4 6"/>
<path class="c22" d="M548 162l4 6"/>
<path class="c21" d="M552 168l4 3"/>
<path class="c20" d="M556 171l4 3 4 2"/>
<path class="c19" d="M564 176l4 3 4 2"/>
<path class="c18" d="M572 181l4 2 4 2 4 2"/>
<path class="c17" d="M584 187l4 2 4 2 4 3"/>
<path class="c16" d="M596 194l4 1 4 2 4 1"/>
<path class="c15" d="M608 198l4 2 4 2 4 2"/>
<path class="c14" d="M620 204l4 3 4 2 4 2 4 2"/>
<path class="c13" d="M636 213l4 2 4 2 4 1"/>
<path class="c12" d="M648 218l3 2 4 1 4 2 4 2 4 1"/>
<path class="c11" d="M667 226l4 2 4 1 4 1 4 2"/>
<path class="c9" d="M275 161l4 0 4 1 4 0 4 1 4 0 4 0 4 1 4 0 4 0 4 1"/>
<path class="c10" d="M315 165l4 0 4 0 4 0 4 0 4 0 4 1 4 0"/>
<path class="c11" d="M343 166l4 0 4 0 4 0"/>
<path class="c12" d="M355 166l4-1 4-1"/>
<path class="c13" d="M363 164l4 0 4-2"/>
<path class="c14" d="M371 162l4-1 4-1"/>
<path class="c15" d="M379 160l4-3 4-2"/>
<path class="c16" d="M387 155l4-2"/>
<path class="c17" d="M391 153l4-3"/>
<path class="c18" d="M395 150l4-2 4-1"/>
<path class="c19" d="M403 147l4-1 4-1"/>
<path class="c20" d="M411 145l4 0 4-1"/>
<path class="c21" d="M419 144l4 0 4-1"/>
<path class="c22" d="M427 143l4-1 4-1"/>
<path class="c23" d="M435 141l4-3 4-1"/>
<path class="c24" d="M443 137l3-3"/>
<path class="c25" d="M446 134l4-3"/>
<path class="c26" d="M450 131l4-3"/>
<path class="c27" d="M454 128l4-4"/>
<path class="c28" d="M458 124l4-6"/>
<path class="c29" d="M462 118l4-9"/>
<path class="c31" d="M466 109l4-1"/>
<path class="c32" d="M470 108l4-1"/>
<path class="c33" d="M474 107l4-2"/>
<path class="c34" d="M478 105l4-9 4 1"/>
<path class="c35" d="M486 97l4 0 4 3 4-1"/>
<path class="c36" d="M498 99l4-6 4 6 4 4"/>
<path class="c35" d="M510 103l4 4"/>
<path class="c34" d="M514 107l4 4"/>
<path class="c32" d="M518 111l4 12"/>
<path class="c30" d="M522 123l4 8"/>
<path class="c28" d="M526 131l4 3"/>
<path class="c27" d="M530 134l4 7"/>
<path class="c26" d="M534 141l4 2"/>
<path class="c25" d="M538 143l4 5"/>
<path class="c24" d="M542 148l4 5"/>
<path class="c23" d="M546 153l4 8"/>
<path class="c22" d="M550 161l4 5"/>
<path class="c21" d="M554 166l4 5"/>
<path class="c20" d="M558 171l4 5"/>
<path class="c19" d="M562 176l4 2 4 2"/>
<path class="c18" d="M570 180l4 3 4 1 4 3"/>
<path class="c17" d="M582 187l4 2 4 2 4 2"/>
<path class="c16" d="M594 193l4 1 4 2 4 2"/>
<path class="c15" d="M606 198l4 2 4 2 4 2 4 2"/>
<path class="c14" d="M622 206l4 3 4 2 4 1"/>
<path class="c13" d="M634 212l4 2 4 0 4 2 4 1"/>
<path class="c12" d="M650 217l4 2 4 1 4 2 4 1 4 1"/>
<path class="c11" d="M670 224l4 2 4 1 4 2 4 1"/>
<path class="c9" d="M277 160l4 1 4 0 4 1 4 0 4 1 4 0 4 1 4 0 4 1 4 0 4 0 4 1 4 0"/>
<path class="c10" d="M329 166l4 0 4 0 4 0 4 0 4 0"/>
<path class="c11" d="M349 166l4 1 4-1 4 0"/>
<path class="c12" d="M361 166l4-2 4-1 4-1"/>
<path class="c13" d="M373 162l4-1 4-1"/>
<path class="c14" d="M381 160l4-2"/>
<path class="c15" d="M385 158l4-2 4-2"/>
<path class="c16" d="M393 154l4-2"/>
<path class="c17" d="M397 152l4-3"/>
<path class="c18" d="M401 149l4-1 4-2"/>
<path class="c19" d="M409 146l4-1 4 0"/>
<path class="c20" d="M417 145l4-1 4 0"/>
<path class="c21" d="M425 144l4 0 4-2 4 0"/>
<path class="c22" d="M437 142l4 0 4 0"/>
<path class="c23" d="M445 142l4-2 4-1"/>
<path class="c24" d="M453 139l4-3"/>
<path class="c25" d="M457 136l4-3"/>
<path class="c26" d="M461 133l4-5"/>
<path class="c28" d="M465 128l4-5"/>
<path class="c29" d="M469 123l4-2"/>
<path class="c30" d="M473 121l4-8"/>
<path class="c32" d="M477 113l4-4"/>
<path class="c33" d="M481 109l4-1"/>
<path class="c34" d="M485 108l4-5 4-4"/>
<path class="c35" d="M493 99l4-2 4 0"/>
<path class="c36" d="M501 97l4 3 4 3"/>
<path class="c35" d="M509 103l4 5"/>
<path class="c34" d="M513 108l4 8"/>
<path class="c33" d="M517 116l4 10"/>
<path class="c31" d="M521 126l4 6"/>
<path class="c29" d="M525 132l4 5"/>
<path class="c27" d="M529 137l4 5"/>
<path class="c26" d="M533 142l4 6"/>
<path class="c25" d="M537 148l4 4"/>
<path class="c24" d="M541 152l4 3"/>
<path class="c23" d="M545 155l4 3"/>
<path class="c22" d="M549 158l4 6"/>
<path class="c21" d="M553 164l4 6"/>
<path class="c20" d="M557 170l3 4"/>
<path class="c19" d="M560 174l4 2 4 2 4 2"/>
<path class="c18" d="M572 180l4 1 4 2"/>
<path class="c17" d="M580 183l4 2 4 1 4 2"/>
<path class="c16" d="M592 188l4 3 4 2 4 2 4 2"/>
<path class="c15" d="M608 197l4 2 4 2 4 2"/>
<path class="c14" d="M620 203l4 2 4 2 4 3 4 1"/>
<path class="c13" d="M636 211l4 1 4 2 4 1 4 2"/>
<path class="c12" d="M652 217l4 0 4 2 4 1 4 2"/>
<path class="c11" d="M668 222l4 2 4 1 4 2 4 2 4 2"/>
<path class="c8" d="M280 161l4 0 4 1 4 0 4 1 4 0"/>
<path class="c9" d="M300 163l4 1 4 1 4 0 4 1 4 1 4 0 4 0 4 0 4 0 4 1 4 0"/>
<path class="c10" d="M344 168l4 0 4 1 3-1 4 0"/>
<path class="c11" d="M359 168l4 0 4-1 4-1"/>
<path class="c12" d="M371 166l4-2 4-1"/>
<path class="c13" d="M379 163l4-1 4-1"/>
<path class="c14" d="M387 161l4-1"/>
<path class="c15" d="M391 160l4-2 4-2"/>
<path class="c16" d="M399 156l4-3"/>
<path class="c17" d="M403 153l4-1"/>
<path class="c18" d="M407 152l4-2 4-1"/>
<path class="c19" d="M415 149l4-1 4-1"/>
<path class="c20" d="M423 147l4-1 4 0 4-1"/>
<path class="c21" d="M435 145l4 0 4 0 4 0"/>
<path class="c22" d="M447 145l4-2 4 0"/>
<path class="c23" d="M455 143l4-2 4-3"/>
<path class="c24" d="M463 138l4-4"/>
<path class="c26" d="M467 134l4-6"/>
<path class="c27" d="M471 128l4-5"/>
<path class="c29" d="M475 123l4-6"/>
<path class="c30" d="M479 117l4-4"/>
<path class="c32" d="M483 113l4-7"/>
<path class="c33" d="M487 106l4-7"/>
<path class="c34" d="M491 99l4-2"/>
<path class="c35" d="M495 97l4 2 4 2 4 4"/>
<path class="c34" d="M507 105l4 5 4 7"/>
<path class="c32" d="M515 117l4 4"/>
<path class="c31" d="M519 121l4 7"/>
<path class="c29" d="M523 128l4 5"/>
<path class="c27" d="M527 133l4 4"/>
<path class="c26" d="M531 137l4 7"/>
<path class="c25" d="M535 144l4 3"/>
<path class="c24" d="M539 147l4 3 4 3"/>
<path class="c23" d="M547 153l4 6"/>
<path class="c21" d="M551 159l4 7"/>
<path class="c20" d="M555 166l4 5"/>
<path class="c19" d="M559 171l4 4 4 3"/>
<path class="c18" d="M567 178l4 1 4 1 4 2 4 2"/>
<path class="c17" d="M583 184l4 2 4 1 4 3"/>
<path class="c16" d="M595 190l4 1 4 2 4 2"/>
<path class="c15" d="M607 195l4 1 4 2 4 2 4 3"/>
<path class="c14" d="M623 203l4 1 4 1 4 2 4 1"/>
<path class="c13" d="M639 208l4 2 4 2 4 2 4 1"/>
<path class="c12" d="M655 215l4 1 4 2 4 1 4 2"/>
<path class="c11" d="M671 221l4 2 3 2 4 1 4 3 4 1"/>
<path class="c8" d="M282 160l4 0 4 1 4 1 4 0 4 1 4 0 4 1 4 1 4 0 4 1 4 1"/>
<path class="c9" d="M326 167l4 0 4 1 4 0 4 1 4 0 4 0 4 0"/>
<path class="c10" d="M354 169l4 0 4 0 4-1 4 0"/>
<path class="c11" d="M370 168l4-1 4-1"/>
<path class="c12" d="M378 166l4-2 4 0"/>
<path class="c13" d="M386 164l4-1 4-2"/>
<path class="c14" d="M394 161l4-2"/>
<path class="c15" d="M398 159l4-2 4-3"/>
<path class="c16" d="M406 154l4-2"/>
<path class="c17" d="M410 152l4-2"/>
<path class="c18" d="M414 150l4 0 4-2"/>
<path class="c19" d="M422 148l4-1 4-1"/>
<path class="c20" d="M430 146l4 0 4-2 4 0 4 1"/>
<path class="c21" d="M446 145l4 0 4 1 4 0"/>
<path class="c22" d="M458 146l4-1 4 0"/>
<path class="c23" d="M466 145l4-3"/>
<path class="c24" d="M470 142l3-3"/>
<path class="c25" d="M473 139l4-7"/>
<path class="c27" d="M477 132l4-4"/>
<path class="c29" d="M481 128l4-8"/>
<path class="c30" d="M485 120l4-9"/>
<path class="c32" d="M489 111l4-4"/>
<path class="c33" d="M493 107l4-4"/>
<path class="c34" d="M497 103l4-2 4-1 4 8"/>
<path class="c33" d="M509 108l4 7"/>
<path class="c32" d="M513 115l4 6"/>
<path class="c31" d="M517 121l4 4"/>
<path class="c29" d="M521 125l4 5"/>
<path class="c28" d="M525 130l4 6"/>
<path class="c26" d="M529 136l4 6"/>
<path class="c25" d="M533 142l4 5"/>
<path class="c24" d="M537 147l4 2"/>
<path class="c23" d="M541 149l4 3 4 4"/>
<path class="c22" d="M549 156l4 8"/>
<path class="c20" d="M553 164l4 7"/>
<path class="c19" d="M557 171l4 3"/>
<path class="c18" d="M561 174l4 3 4 2 4 1 4 1"/>
<path class="c17" d="M577 181l4 1 4 2 4 1 4 2"/>
<path class="c16" d="M593 187l4 2 4 1 4 2"/>
<path class="c15" d="M605 192l4 1 4 2 4 2 4 2"/>
<path class="c14" d="M621 199l4 2 4 2 4 2 4 2"/>
<path class="c13" d="M637 207l4 1 4 2 4 1 4 2"/>
<path class="c12" d="M653 213l4 1 4 1 4 2 4 1"/>
<path class="c11" d="M669 218l4 2 4 1 4 2 4 2 4 2"/>
<path class="c10" d="M689 227l4 2"/>
<path class="c8" d="M284 159l4 1 4 1 4 0 4 1 4 1 4 1 4 0 4 1 4 1 4 0 4 1 4 0 4 0 4 1 4 1"/>
<path class="c9" d="M344 169l4 0 4 0 4 0 4 0 4 0"/>
<path class="c10" d="M364 169l4 0 4-1 4-1"/>
<path class="c11" d="M376 167l4 0 4-2 4-2"/>
<path class="c12" d="M388 163l4-1"/>
<path class="c13" d="M392 162l4-2 4-1"/>
<path class="c14" d="M400 159l4-2"/>
<path class="c15" d="M404 157l4-3"/>
<path class="c16" d="M408 154l4-1 4-3"/>
<path class="c17" d="M416 150l4-2"/>
<path class="c18" d="M420 148l4-1 4-1"/>
<path class="c19" d="M428 146l4 0 4-1 4-1 4 0"/>
<path class="c20" d="M444 144l4 1 4 1 4 0 4 1"/>
<path class="c21" d="M460 147l4 0 4 0 4-2"/>
<path class="c22" d="M472 145l4-3"/>
<path class="c23" d="M476 142l4-6"/>
<path class="c25" d="M480 136l4-4"/>
<path class="c27" d="M484 132l4-6"/>
<path class="c29" d="M488 126l4-10"/>
<path class="c31" d="M492 116l4-10"/>
<path class="c32" d="M496 106l4-1"/>
<path class="c33" d="M500 105l4-3 4 0"/>
<path class="c32" d="M508 102l4 2 4 10"/>
<path class="c30" d="M516 114l4 11"/>
<path class="c29" d="M520 125l4 4"/>
<path class="c28" d="M524 129l4 6"/>
<path class="c26" d="M528 135l4 5"/>
<path class="c25" d="M532 140l4 5"/>
<path class="c24" d="M536 145l4 6"/>
<path class="c23" d="M540 151l4 5"/>
<path class="c22" d="M544 156l4 3"/>
<path class="c21" d="M548 159l4 6"/>
<path class="c19" d="M552 165l4 6"/>
<path class="c18" d="M556 171l4 4"/>
<path class="c17" d="M560 175l4 3 4 0 4 1 4 2 4 0 4 2 3 0"/>
<path class="c16" d="M587 183l4 2 4 3 4 2 4 1"/>
<path class="c15" d="M603 191l4 2 4 1 4 2 4 2"/>
<path class="c14" d="M619 198l4 0 4 3 4 1 4 2 4 1"/>
<path class="c13" d="M639 205l4 2 4 2 4 0 4 1"/>
<path class="c12" d="M655 210l4 2 4 2 4 1 4 2"/>
<path class="c11" d="M671 217l4 1 4 2 4 2 4 2"/>
<path class="c10" d="M687 224l4 2 4 2"/>
<path class="c7" d="M287 160l4 0 4 1 4 0 4 1"/>
<path class="c8" d="M303 162l4 1 4 0 4 0 4 1 4 1 4 1 4 0 4 1 4 0 4 1 4 1 4 0 4 0"/>
<path class="c9" d="M355 169l4 0 4 0 4 0 4 0 4 0"/>
<path class="c10" d="M375 169l4-1 3-1 4-1"/>
<path class="c11" d="M386 166l4-1 4-1"/>
<path class="c12" d="M394 164l4-2 4-1"/>
<path class="c13" d="M402 161l4-2"/>
<path class="c14" d="M406 159l4-1"/>
<path class="c15" d="M410 158l4-3"/>
<path class="c16" d="M414 155l4-2 4-1"/>
<path class="c17" d="M422 152l4-2 4-1"/>
<path class="c18" d="M430 149l4-1 4 1 4-1"/>
<path class="c19" d="M442 148l4-2 4 1 4 0 4 0"/>
<path class="c20" d="M458 147l4 2 4 0 4-1 4-1"/>
<path class="c21" d="M474 147l4-4"/>
<path class="c22" d="M478 143l4-3"/>
<path class="c23" d="M482 140l4-5"/>
<path class="c24" d="M486 135l4-6"/>
<path class="c26" d="M490 129l4-10"/>
<path class="c29" d="M494 119l4-8"/>
<path class="c30" d="M498 111l4-5"/>
<path class="c31" d="M502 106l4 0 4 0 4 4"/>
<path class="c30" d="M514 110l4 6"/>
<path class="c29" d="M518 116l4 8"/>
<path class="c28" d="M522 124l4 7"/>
<path class="c26" d="M526 131l4 7"/>
<path class="c25" d="M530 138l4 6"/>
<path class="c24" d="M534 144l4 4"/>
<path class="c23" d="M538 148l4 6"/>
<path class="c21" d="M542 154l4 7"/>
<path class="c20" d="M546 161l4 4"/>
<path class="c19" d="M550 165l4 6"/>
<path class="c17" d="M554 171l4 5"/>
<path class="c16" d="M558 176l4 3 4 3 4 1 4-1 4 1 4 1 4 1 4-1 4 2 4 2 4 0"/>
<path class="c15" d="M602 188l4 2 4 2 4 2 4 1 4 2"/>
<path class="c14" d="M622 197l4 1 4 2 4 2 4 0"/>
<path class="c13" d="M638 202l4 3 4 1 4 1 4 2"/>
<path class="c12" d="M654 209l4 1 4 1 4 2 4 2"/>
<path class="c11" d="M670 215l4 2 4 1 4 2 4 2"/>
<path class="c10" d="M686 222l4 2 4 2 4 2"/>
<path class="c7" d="M289 159l4 1 4 0 4 1 4 0 4 1 4 1 4 0 4 1 4 0 4 1 4 1"/>
<path class="c8" d="M333 166l4 0 4 1 4 0 4 1 4 1 4 0 4 0 4 0"/>
<path class="c9" d="M365 169l4 0 4-1 4 0 4 0"/>
<path class="c10" d="M381 168l4-1 4-1 4 0"/>
<path class="c11" d="M393 166l4-1 4-2"/>
<path class="c12" d="M401 163l4-1 4-2"/>
<path class="c13" d="M409 160l4-1"/>
<path class="c14" d="M413 159l4-3"/>
<path class="c15" d="M417 156l4-1 4-2"/>
<path class="c16" d="M425 153l4-1"/>
<path class="c17" d="M429 152l4-2 4-1 4 0"/>
<path class="c18" d="M441 149l4-1 4-1 4 0"/>
<path class="c19" d="M453 147l4 1 4 0 4 1 4 1 4 0 4-1"/>
<path class="c20" d="M477 149l4-3 4-3"/>
<path class="c21" d="M485 143l4-1"/>
<path class="c22" d="M489 142l4-4"/>
<path class="c23" d="M493 138l4-5"/>
<path class="c25" d="M497 133l3-5"/>
<path class="c27" d="M500 128l4-8"/>
<path class="c28" d="M504 120l4-2"/>
<path class="c29" d="M508 118l4 0 4 1"/>
<path class="c28" d="M516 119l4 5"/>
<path class="c27" d="M520 124l4 6"/>
<path class="c26" d="M524 130l4 4"/>
<path class="c25" d="M528 134l4 9"/>
<path class="c24" d="M532 143l4 5"/>
<path class="c23" d="M536 148l4 5"/>
<path class="c21" d="M540 153l4 7"/>
<path class="c20" d="M544 160l4 5"/>
<path class="c19" d="M548 165l4 5"/>
<path class="c17" d="M552 170l4 6"/>
<path class="c16" d="M556 176l4 4"/>
<path class="c15" d="M560 180l4 3 4 2 4 0 4 0 4-1 4 1 4 0 4 0 4 1 4 1 4 1 4 1 4 1 4 2"/>
<path class="c14" d="M616 192l4 1 4 1 4 2 4 2 4 2"/>
<path class="c13" d="M636 200l4 1 4 2 4 2 4 2 4 1"/>
<path class="c12" d="M656 208l4 2 4 1 4 2 4 2"/>
<path class="c11" d="M672 215l4 1 4 2 4 2"/>
<path class="c10" d="M684 220l4 2 4 2 4 2"/>
<path class="c9" d="M696 226l4 2"/>
<path class="c7" d="M292 159l3 1 4 0 4 1 4 0 4 1 4 1 4 0 4 1 4 0 4 1 4 0 4 1 4 0 4 1 4 0"/>
<path class="c8" d="M351 167l4 1 4 0 4 0 4 1 4 0 4-1"/>
<path class="c9" d="M375 168l4 0 4 0 4 0 4-1"/>
<path class="c10" d="M391 167l4 0 4-1 4-1"/>
<path class="c11" d="M403 165l4-1"/>
<path class="c12" d="M407 164l4-2 4-1"/>
<path class="c13" d="M415 161l4-3"/>
<path class="c14" d="M419 158l4-1"/>
<path class="c15" d="M423 157l4-2 4 0"/>
<path class="c16" d="M431 155l4-2 4 0"/>
<path class="c17" d="M439 153l4-1 4-1 4 0"/>
<path class="c18" d="M451 151l4-1 4 0 4 0 4 2 4 1 4 0 4-1"/>
<path class="c19" d="M479 152l4-1 4-1 4-1"/>
<path class="c20" d="M491 149l4-2"/>
<path class="c21" d="M495 147l4-3"/>
<path class="c22" d="M499 144l4-7"/>
<path class="c24" d="M503 137l4-7"/>
<path class="c26" d="M507 130l4-3"/>
<path class="c27" d="M511 127l4-1 4-1 4 3"/>
<path class="c26" d="M523 128l4 5"/>
<path class="c25" d="M527 133l4 5"/>
<path class="c24" d="M531 138l4 5"/>
<path class="c23" d="M535 143l4 7"/>
<path class="c22" d="M539 150l4 6"/>
<path class="c20" d="M543 156l4 4"/>
<path class="c19" d="M547 160l4 5"/>
<path class="c18" d="M551 165l4 7"/>
<path class="c17" d="M555 172l4 4"/>
<path class="c16" d="M559 176l4 4"/>
<path class="c15" d="M563 180l4 3 4 1"/>
<path class="c14" d="M571 184l4 1 4 0"/>
<path class="c15" d="M579 185l4 0 4 0 4 1 4 0 4 1 4 0 4 1 4 1 3 0"/>
<path class="c14" d="M614 189l4 1 4 2 4 1 4 2 4 2"/>
<path class="c13" d="M634 197l4 3 4 1 4 2 4 1 4 2"/>
<path class="c12" d="M654 206l4 1 4 2 4 2 4 1"/>
<path class="c11" d="M670 212l4 2 4 2 4 1"/>
<path class="c10" d="M682 217l4 3 4 2 4 2"/>
<path class="c9" d="M694 224l4 2 4 2"/>
<path class="c7" d="M294 159l4 1 4 0 4 1 4 0 4 1 4 1 4 0 4 1 4 0 4 1 4 0 4 1 4 0 4 1 4 0 4 1 4 0 4 1"/>
<path class="c8" d="M366 169l4 0 4 0 4 0 4 0 4 0"/>
<path class="c9" d="M386 169l4-1 4 0 4-1"/>
<path class="c10" d="M398 167l4-1 4 0 3-2"/>
<path class="c11" d="M409 164l4-1"/>
<path class="c12" d="M413 163l4-2 4-1"/>
<path class="c13" d="M421 160l4-1"/>
<path class="c14" d="M425 159l4-1 4-1"/>
<path class="c15" d="M433 157l4 0 4-1"/>
<path class="c16" d="M441 156l4-1 4-1"/>
<path class="c17" d="M449 154l4-1 4-2"/>
<path class="c18" d="M457 151l4 1 4 0 4 0 4 1 4 0 4 0 4-1 4 0 4-2"/>
<path class="c19" d="M493 150l4-1 4-3"/>
<path class="c20" d="M501 146l4-5"/>
<path class="c22" d="M505 141l4-5"/>
<path class="c23" d="M509 136l4-5"/>
<path class="c24" d="M513 131l4-3"/>
<path class="c25" d="M517 128l4-1 4 2 4 5"/>
<path class="c24" d="M529 134l4 5"/>
<path class="c23" d="M533 139l4 4"/>
<path class="c22" d="M537 143l4 7"/>
<path class="c21" d="M541 150l4 5"/>
<path class="c20" d="M545 155l4 5"/>
<path class="c18" d="M549 160l4 5"/>
<path class="c17" d="M553 165l4 6"/>
<path class="c16" d="M557 171l4 4"/>
<path class="c15" d="M561 175l4 3 4 3"/>
<path class="c14" d="M569 181l4 3 4 0 4 1 4 0 4 0 4 0 4 1 4 0 4-1 4 2 4 1 4 0 4 1 4 2 4 1 4 2"/>
<path class="c13" d="M633 194l4 2 4 2 4 2 4 2 4 1"/>
<path class="c12" d="M653 203l4 2 4 2 4 2 4 1"/>
<path class="c11" d="M669 210l4 1 4 2 4 2 4 2"/>
<path class="c10" d="M685 217l4 2 4 2"/>
<path class="c9" d="M693 221l4 2 4 2 4 2"/>
<path class="c6" d="M296 158l4 1 4 1 4 0 4 1 4 0 4 1 4 1 4 0"/>
<path class="c7" d="M328 163l4 1 4 1 4 0 4 1 4 1 4 1 4 0 4 0 4 1 4 0 4 0 4 0"/>
<path class="c8" d="M376 169l4 0 4-1 4 0 4 0 4 0"/>
<path class="c9" d="M396 168l4-1 4 0 4-1"/>
<path class="c10" d="M408 166l4-1 4-1"/>
<path class="c11" d="M416 164l4-1"/>
<path class="c12" d="M420 163l4-2 4-2"/>
<path class="c13" d="M428 159l4-1 4-2"/>
<path class="c14" d="M436 156l4-1 4-1"/>
<path class="c15" d="M444 154l4-2"/>
<path class="c16" d="M448 152l4-1 4-1"/>
<path class="c17" d="M456 150l4-1 4 0 4 0"/>
<path class="c18" d="M468 149l4 2 4 0"/>
<path class="c17" d="M476 151l4 1 4 1 4 0 4 0 4 0"/>
<path class="c18" d="M496 153l4-1 4-2"/>
<path class="c19" d="M504 150l4-4"/>
<path class="c21" d="M508 146l4-6"/>
<path class="c22" d="M512 140l4-3"/>
<path class="c23" d="M516 137l4-4 3-1"/>
<path class="c24" d="M523 132l4 0"/>
<path class="c23" d="M527 132l4 3 4 6"/>
<path class="c22" d="M535 141l4 4"/>
<path class="c21" d="M539 145l4 5"/>
<path class="c20" d="M543 150l4 5"/>
<path class="c19" d="M547 155l4 3"/>
<path class="c18" d="M551 158l4 5"/>
<path class="c17" d="M555 163l4 6"/>
<path class="c16" d="M559 169l4 5"/>
<path class="c15" d="M563 174l4 5"/>
<path class="c14" d="M567 179l4 3 4 2 4 2 4 0 4 1 4 0 4 0 4 0 4 1 4 0 4 1 4 1 4 0 4 2 4 0 4 2"/>
<path class="c13" d="M631 194l4 1 4 1 4 2 4 2 4 0"/>
<path class="c12" d="M651 200l4 2 4 2 4 2 4 2"/>
<path class="c11" d="M667 208l4 1 4 1 4 2 4 2"/>
<path class="c10" d="M683 214l4 2 4 2 4 2"/>
<path class="c9" d="M695 220l4 3 4 2 4 1"/>
<path class="c6" d="M299 158l4 1 4 0 4 1 4 0 3 1 4 1 4 0 4 1 4 0 4 1 4 1 4 1 4 0 4 1"/>
<path class="c7" d="M354 167l4 0 4 0 4 1 4 0 4 0 4 0 4 0 4 0"/>
<path class="c8" d="M386 168l4 0 4 0 4-1 4 0"/>
<path class="c9" d="M402 167l4-1 4-1"/>
<path class="c10" d="M410 165l4 0 4-1 4-1"/>
<path class="c11" d="M422 163l4-1"/>
<path class="c12" d="M426 162l4-1 4-1"/>
<path class="c13" d="M434 160l4-1 4-2"/>
<path class="c14" d="M442 157l4-2 4-1"/>
<path class="c15" d="M450 154l4-1 4-2"/>
<path class="c16" d="M458 151l4-2 4-1"/>
<path class="c17" d="M466 148l4 0 4 1 4 1 4 1 4 0 4 1 4 1 4 0 4-1"/>
<path class="c18" d="M502 152l4-2"/>
<path class="c19" d="M506 150l4-1"/>
<path class="c20" d="M510 149l4-3"/>
<path class="c21" d="M514 146l4-1"/>
<path class="c22" d="M518 145l4-2 4 0 4 0 4 3"/>
<path class="c21" d="M534 146l4 4 4 5"/>
<path class="c20" d="M542 155l4 3"/>
<path class="c19" d="M546 158l4 4"/>
<path class="c18" d="M550 162l4 3"/>
<path class="c17" d="M554 165l4 3"/>
<path class="c16" d="M558 168l4 4"/>
<path class="c15" d="M562 172l4 4 4 3"/>
<path class="c14" d="M570 179l4 3 4 1"/>
<path class="c13" d="M578 183l4 1 4 1 4 1"/>
<path class="c14" d="M590 186l4-1 4 0 4 1 4 1 4 0 4 1 4 1 4 0 4 2"/>
<path class="c13" d="M626 191l4 1 4 2 4 2 3 1 4 2 4 2"/>
<path class="c12" d="M649 201l4 1 4 1 4 2 4 1"/>
<path class="c11" d="M665 206l4 1 4 2 4 1 4 2"/>
<path class="c10" d="M681 212l4 2 4 2 4 3"/>
<path class="c9" d="M693 219l4 2 4 2 4 2"/>
<path class="c8" d="M705 225l4 2"/>
<path class="c6" d="M301 158l4 0 4 1 4 1 4 0 4 1 4 1 4 0 4 1 4 0 4 1 4 0 4 1 4 1 4 0 4 1 4 0 4 0"/>
<path class="c7" d="M369 167l4 0 4 1 4 0 4 0 4 0 4 0"/>
<path class="c8" d="M393 168l4 0 4-1 4 1 4-1"/>
<path class="c9" d="M409 167l4 0 4-1"/>
<path class="c10" d="M417 166l4 0 4-1 4-1"/>
<path class="c11" d="M429 164l4-1 3-1"/>
<path class="c12" d="M436 162l4-1 4-2"/>
<path class="c13" d="M444 159l4-1 4-2"/>
<path class="c14" d="M452 156l4-1"/>
<path class="c15" d="M456 155l4 0 4-2"/>
<path class="c16" d="M464 153l4 0 4-1 4 0 4 1 4 0 4 2 4 1 4 0"/>
<path class="c17" d="M496 156l4-1 4-2"/>
<path class="c18" d="M504 153l4-1 4-3"/>
<path class="c19" d="M512 149l4-3"/>
<path class="c20" d="M516 146l4-1 4-3"/>
<path class="c21" d="M524 142l4-2 4 2 4 2"/>
<path class="c20" d="M536 144l4 3"/>
<path class="c19" d="M540 147l4 5 4 5"/>
<path class="c18" d="M548 157l4 4"/>
<path class="c17" d="M552 161l4 3"/>
<path class="c16" d="M556 164l4 4"/>
<path class="c15" d="M560 168l4 3 4 4"/>
<path class="c14" d="M568 175l4 2 4 3"/>
<path class="c13" d="M576 180l4 1 4 1 4 1 4 1 4 0 4 1 4 1 4 0 4 2 4 0 4 1 4 0 4 1 4 2 4 1 4 2 4 1 4 2"/>
<path class="c12" d="M648 198l4 1 4 2 4 2 4 0"/>
<path class="c11" d="M664 203l4 2 4 1 4 1 4 2"/>
<path class="c10" d="M680 209l4 2 4 2 4 2"/>
<path class="c9" d="M692 215l4 2 4 2 4 3"/>
<path class="c8" d="M704 222l4 2 4 2"/>
<path class="c6" d="M303 157l4 0 4 1 4 1 4 1 4 1 4 0 4 1 4 0 4 1 4 0 4 1 4 1 4 0 4 1 4 0 4 0 4 1 4 0 4 1"/>
<path class="c7" d="M379 168l4 0 4 0 4 0 4 0 4 0"/>
<path class="c8" d="M399 168l4 0 4-1 4 0 4 0"/>
<path class="c9" d="M415 167l4-1 4 0"/>
<path class="c10" d="M423 166l4-1 4-1 4-1"/>
<path class="c11" d="M435 163l4 0 4-2"/>
<path class="c12" d="M443 161l4-1 4-2"/>
<path class="c13" d="M451 158l4-2 4-1"/>
<path class="c14" d="M459 155l4-2 4 0"/>
<path class="c15" d="M467 153l4-1 4-1"/>
<path class="c16" d="M475 151l4 0 4 0 4 1 4 0 4 0 4 0 4 0"/>
<path class="c17" d="M503 152l4-1 4-1"/>
<path class="c18" d="M511 150l4 0"/>
<path class="c19" d="M515 150l4-3 4-1"/>
<path class="c20" d="M523 146l4-1 4-1 4 1 4 1"/>
<path class="c19" d="M539 146l4 4 4 4"/>
<path class="c18" d="M547 154l3 6"/>
<path class="c17" d="M550 160l4 5"/>
<path class="c16" d="M554 165l4 4"/>
<path class="c15" d="M558 169l4 3"/>
<path class="c14" d="M562 172l4 3 4 2 4 2"/>
<path class="c13" d="M574 179l4 2 4 1 4 1 4 0 4 1 4 0 4 1 4 1 4 0 4 1 4 1 4 1 4 1 4 1 4 1 4 2 4 1"/>
<path class="c12" d="M642 195l4 1 4 2 4 1 4 1 4 2"/>
<path class="c11" d="M662 202l4 1 4 1 4 2 4 1"/>
<path class="c10" d="M678 207l4 2 4 2 4 2 4 2"/>
<path class="c9" d="M694 215l4 3 4 2"/>
<path class="c8" d="M702 220l4 3 4 2 4 2"/>
<path class="c5" d="M306 157l4 0 4 1 4 1 4 0 4 1 4 1"/>
<path class="c6" d="M330 161l4 1 4 0 4 1 3 0 4 1 4 1 4 0 4 1 4 0 4 1 4 0 4 0 4 1 4 0"/>
<path class="c7" d="M385 168l4 0 4 0 4 1 4-1 4 0"/>
<path class="c8" d="M405 168l4 0 4-1 4-1"/>
<path class="c9" d="M417 166l4 0 4-1 4 0"/>
<path class="c10" d="M429 165l4-1 4 0 4-1"/>
<path class="c11" d="M441 163l4 0 4-1"/>
<path class="c12" d="M449 162l4-2 4-1"/>
<path class="c13" d="M457 159l4-2 4 0"/>
<path class="c14" d="M465 157l4-1 4-1"/>
<path class="c15" d="M473 155l4-1 4-1 4 0 4 0 4 1"/>
<path class="c16" d="M493 154l4-1 4-1 4 1"/>
<path class="c17" d="M505 153l4-2 4-1"/>
<path class="c18" d="M513 150l4-1 4-1"/>
<path class="c19" d="M521 148l4-1 4-1 4 1 4 1 4 1"/>
<path class="c18" d="M541 149l4 4 4 3"/>
<path class="c17" d="M549 156l4 4"/>
<path class="c16" d="M553 160l4 6"/>
<path class="c15" d="M557 166l4 3"/>
<path class="c14" d="M561 169l4 3 4 2"/>
<path class="c13" d="M569 174l4 2 4 1 4 2 4 1 4 1 4 0 4 1 4 0 4 2 4 1 4 0 4 1 4 2 4 0 4 1 4 1 4 2"/>
<path class="c12" d="M637 192l4 2 4 1 4 2 4 1 4 2 4 0"/>
<path class="c11" d="M661 200l3 2 4 1 4 2 4 1"/>
<path class="c10" d="M676 206l4 2 4 2 4 1 4 2"/>
<path class="c9" d="M692 213l4 2 4 2 4 2"/>
<path class="c8" d="M704 219l4 3 4 2 4 2"/>
<path class="c5" d="M308 156l4 1 4 0 4 1 4 1 4 1 4 1 4 0 4 1 4 0 4 1 4 0 4 1"/>
<path class="c6" d="M356 164l4 0 4 1 4 0 4 1 4 0 4 0 4 1 4 0 4 0"/>
<path class="c7" d="M392 167l4 0 4 0 4 0 4 0 4 0"/>
<path class="c8" d="M412 167l4-1 4 0 4 0"/>
<path class="c9" d="M424 166l4 0 4 0 4-2"/>
<path class="c10" d="M436 164l4 0 4 0 4-1"/>
<path class="c11" d="M448 163l4-1 4-2"/>
<path class="c12" d="M456 160l3-1 4-1"/>
<path class="c13" d="M463 158l4-1 4-1"/>
<path class="c14" d="M471 156l4 0 4-1 4-1"/>
<path class="c15" d="M483 154l4 0 4-1 4 0 4 0 4 0"/>
<path class="c16" d="M503 153l4-1 4-2"/>
<path class="c17" d="M511 150l4 0 4-1"/>
<path class="c18" d="M519 149l4 0 4 0 4 0 4 1 4 3"/>
<path class="c17" d="M539 153l4 2 4 3"/>
<path class="c16" d="M547 158l4 3 4 4"/>
<path class="c15" d="M555 165l4 4"/>
<path class="c14" d="M559 169l4 3"/>
<path class="c13" d="M563 172l4 3 4 1 4 1 4 1 4 1 4 0 4 1 4 1 4 1 4 0 4 1 4 1"/>
<path class="c12" d="M611 184l4 1 4 1 4 1 4 1 4 0 4 1 4 2 4 2 4 1 4 2 4 2"/>
<path class="c11" d="M655 198l4 1 4 2 4 2 4 1 4 1"/>
<path class="c10" d="M675 205l4 2 4 2 4 1 4 1"/>
<path class="c9" d="M691 211l4 2 4 1 4 2"/>
<path class="c8" d="M703 216l4 2 4 2 4 2"/>
<path class="c7" d="M715 222l4 2"/>
<path class="c5" d="M310 155l4 1 4 1 4 1 4 0 4 1 4 0 4 1 4 0 4 1 4 1 4 1 4 0 4 1 4 0 4 1"/>
<path class="c6" d="M370 165l4 0 4 0 4 1 4 0 4 0 4 0 4 0"/>
<path class="c7" d="M398 166l4 0 4 0 4 0 4-1"/>
<path class="c8" d="M414 165l4 0 4 0 4 0 4 0"/>
<path class="c9" d="M430 165l4 0 4-1 4 0"/>
<path class="c10" d="M442 164l4 0 4-1 4-1"/>
<path class="c11" d="M454 162l4-1 4-1"/>
<path class="c12" d="M462 160l4-1 4-1"/>
<path class="c13" d="M470 158l4 0 4-1 4-1"/>
<path class="c14" d="M482 156l4-1 4 0 4-1 4 0"/>
<path class="c15" d="M498 154l4-1 4 0 4-1"/>
<path class="c16" d="M510 152l4-2 4-1"/>
<path class="c17" d="M518 149l4-1 4 1 4 0 4 0 4 3 4 1"/>
<path class="c16" d="M542 153l4 3 4 4"/>
<path class="c15" d="M550 160l4 2 4 3"/>
<path class="c14" d="M558 165l4 4"/>
<path class="c13" d="M562 169l4 3 4 3 4 1 3 1"/>
<path class="c12" d="M577 177l4 1 4 1 4 1 4 1"/>
<path class="c13" d="M593 181l4 0 4 2"/>
<path class="c12" d="M601 183l4 0 4 1 4 1 4 1 4 1 4 2 4 1 4 0 4 0 4 2 4 1 4 2"/>
<path class="c11" d="M649 195l4 1 4 1 4 2 4 1 4 2"/>
<path class="c10" d="M669 202l4 2 4 2 4 2 4 1 4 1"/>
<path class="c9" d="M689 210l4 1 4 2 4 2 4 1"/>
<path class="c8" d="M705 216l4 2 4 2 4 2"/>
<path class="c7" d="M717 222l4 2"/>
<path class="c5" d="M313 155l4 1 4 0 4 1 4 1 4 0 4 1 4 1 4 0 4 1 4 0 4 1 4 1 4 0 4 1 3 0 4 0 4 1"/>
<path class="c6" d="M380 165l4 0 4 0 4 0 4 0 4 1 4-1"/>
<path class="c7" d="M404 165l4 0 4 0 4 0 4 0"/>
<path class="c8" d="M420 165l4-1 4 0 4 0"/>
<path class="c9" d="M432 164l4 0 4-1 4 0 4-1"/>
<path class="c10" d="M448 162l4 0 4-1 4 0"/>
<path class="c11" d="M460 161l4-1 4-1"/>
<path class="c12" d="M468 159l4-1 4 0 4 0"/>
<path class="c13" d="M480 158l4-1 4 0 4-1"/>
<path class="c14" d="M492 156l4 0 4-1 4-1 4 0"/>
<path class="c15" d="M508 154l4-1 4 0"/>
<path class="c16" d="M516 153l4-1 4 0 4-1 4 2 4 1 4 2 4 2"/>
<path class="c15" d="M544 158l4 2 4 3"/>
<path class="c14" d="M552 163l4 2 4 3"/>
<path class="c13" d="M560 168l4 2 4 3 4 1"/>
<path class="c12" d="M572 174l4 2 4 1 4 1 4 1 4 0 4 1 4 0 4 1 4 1 4 1 4 1 4 2 4 1"/>
<path class="c11" d="M624 187l4 1 4 1 4 0 4 2 4 0 4 2 4 1 4 1 4 2 4 1"/>
<path class="c10" d="M664 198l4 1 4 2 4 1 4 2 4 2 4 2"/>
<path class="c9" d="M688 208l3 1 4 1 4 2 4 2"/>
<path class="c8" d="M703 214l4 1 4 2 4 2"/>
<path class="c7" d="M715 219l4 2 4 2"/>
<path class="c5" d="M315 154l4 1 4 0 4 1 4 1 4 0 4 1 4 1 4 0 4 1 4 1 4 0 4 1 4 1 4 0 4 1 4 0 4 0 4 1"/>
<path class="c6" d="M387 165l4 0 4 0 4 0 4-1 4 0 4 0"/>
<path class="c7" d="M411 164l4 0 4 0 4 0"/>
<path class="c8" d="M423 164l4-1 4 0 4 0 4 0"/>
<path class="c9" d="M439 163l4-1 4 0 4 0"/>
<path class="c10" d="M451 162l4-1 4 0 4-1"/>
<path class="c11" d="M463 160l4-1 4 0 4-1"/>
<path class="c12" d="M475 158l4 0 4 0 3-1"/>
<path class="c13" d="M486 157l4 0 4-1 4 0 4-1"/>
<path class="c14" d="M502 155l4 0 4-1 4-1"/>
<path class="c15" d="M514 153l4 0 4 0 4 0 4 0 4 3 4 1 4 2 4 2"/>
<path class="c14" d="M546 161l4 2 4 3"/>
<path class="c13" d="M554 166l4 2 4 1 4 2 4 1"/>
<path class="c12" d="M570 172l4 3 4 2 4 1 4 1 4 1 4 0 4 0 4 1 4 0 4 1 4 1 4 2"/>
<path class="c11" d="M618 185l4 1 4 1 4 2 4 1 4 1 4 1 4 1 4 2 4 1 4 1"/>
<path class="c10" d="M658 197l4 1 4 1 4 2 4 1 4 1 4 1"/>
<path class="c9" d="M682 204l4 1 4 2 4 1 4 1 4 1 4 2"/>
<path class="c8" d="M706 212l4 2 4 1 4 3"/>
<path class="c7" d="M718 218l4 2 4 1"/>
<path class="c4" d="M317 153l4 1 4 1 4 1"/>
<path class="c5" d="M329 156l4 1 4 0 4 1 4 0 4 1 4 1 4 0 4 1 4 1 4 0 4 0 4 1 4 0 4 1 4 0 4 0"/>
<path class="c6" d="M393 164l4 0 4 0 4 0 4 0 4 0"/>
<path class="c7" d="M413 164l4 0 4 0 4 0 4 0"/>
<path class="c8" d="M429 164l4-1 4 0 4 0"/>
<path class="c9" d="M441 163l4-1 4-1 4 0 4-1"/>
<path class="c10" d="M457 160l4 0 4-1 4 0"/>
<path class="c11" d="M469 159l4 0 4 0 4 0"/>
<path class="c12" d="M481 159l4-1 4-1 4-1 4-1 4 0"/>
<path class="c13" d="M501 155l4 0 4-1 4 0"/>
<path class="c14" d="M513 154l4-1 4 0 4-1 4 0"/>
<path class="c15" d="M529 152l4 1 4 2"/>
<path class="c14" d="M537 155l4 2 4 2 4 1"/>
<path class="c13" d="M549 160l4 3 4 2"/>
<path class="c12" d="M557 165l4 3 4 1 4 1 4 2 4 2 4 2 4 2 4 1 4 1"/>
<path class="c11" d="M593 180l4 1 3 0 4 0 4 2 4 1 4 1 4 1 4 1 4 1 4 2"/>
<path class="c10" d="M632 190l4 1 4 2 4 1 4 1 4 1 4 1 4 1 4 1 4 1 4 1"/>
<path class="c9" d="M672 201l4 1 4 1 4 2 4 1 4 1 4 1 4 1 4 1 4 2"/>
<path class="c8" d="M708 212l4 1 4 3 4 2"/>
<path class="c7" d="M720 218l4 1 4 2"/>
<path class="c4" d="M320 152l4 1 4 1 4 1 4 0 4 1 4 1 4 0 4 1 4 1"/>
<path class="c5" d="M356 159l4 0 4 1 4 1 4 0 4 0 4 1 4 0 4 1 4 0 3 0 4 0"/>
<path class="c6" d="M399 163l4 0 4 0 4 0 4 0 4-1"/>
<path class="c7" d="M419 162l4 0 4 0 4 0"/>
<path class="c8" d="M431 162l4 0 4 0 4-1"/>
<path class="c9" d="M443 161l4 0 4 0 4-1 4 0"/>
<path class="c10" d="M459 160l4 0 4-1 4-1 4 0"/>
<path class="c11" d="M475 158l4 0 4 0 4 0 4 0 4 0"/>
<path class="c12" d="M495 158l4-1 4-1 4 0 4-1"/>
<path class="c13" d="M511 155l4 0 4-1 4 0"/>
<path class="c14" d="M523 154l4 0 4 1 4 2 4 2"/>
<path class="c13" d="M539 159l4 1 4 2 4 1 4 2"/>
<path class="c12" d="M555 165l4 2 4 2 4 1 4 1 4 1 4 1 4 1 4 2"/>
<path class="c11" d="M587 176l4 2 4 1 4 2 4 1 4 1 4 1 4 1 4 1 4 2"/>
<path class="c10" d="M623 188l4 1 4 1 4 2 4 1 4 1 4 1 4 1 4 1 4 0 4 1"/>
<path class="c9" d="M663 198l4 1 4 1 4 1 4 1 4 1 4 1 4 0 4 2 4 0 4 1 4 1"/>
<path class="c8" d="M707 208l4 2 4 2 3 2"/>
<path class="c7" d="M718 214l4 3 4 1 4 2"/>
<path class="c4" d="M322 152l4 1 4 0 4 1 4 1 4 0 4 1 4 1 4 0 4 1 4 1 4 0 4 1 4 0"/>
<path class="c5" d="M374 160l4 1 4 0 4 1 4 0 4 0 4 0 4 0 4 0"/>
<path class="c6" d="M406 162l4 0 4 0 4-1 4 0"/>
<path class="c7" d="M422 161l4 0 4 0 4 0 4 0"/>
<path class="c8" d="M438 161l4 0 4 0 4 0"/>
<path class="c9" d="M450 161l4 0 4-1 4 0 4 0"/>
<path class="c10" d="M466 160l4 0 4-1 4 0 4 0"/>
<path class="c11" d="M482 159l4 0 4 0 4 0 4-1 4 0 4-1 4 0"/>
<path class="c12" d="M510 157l3 0 4 0 4 0"/>
<path class="c13" d="M521 157l4-1 4 1 4 1 4 1 4 2 4 1 4 1"/>
<path class="c12" d="M549 163l4 2 4 1 4 2"/>
<path class="c11" d="M561 168l4 2 4 1 4 0 4 1 4 1 4 1 4 2 4 1 4 2 4 2"/>
<path class="c10" d="M601 181l4 2 4 2 4 0 4 2 4 1 4 0 4 1 4 1 4 1"/>
<path class="c9" d="M637 191l4 1 4 1 4 1 4 1 4 1 4 1 4 1 4 1 4 1 4 1 4 1 4 1 4 1 4 0 4 1 4 1 4 1 4 1"/>
<path class="c8" d="M709 208l4 2 4 2 4 2"/>
<path class="c7" d="M721 214l4 2 4 2 4 1"/>
<path class="c7" d="M82 277l2-2 3-2 2-1 3-2 2-2 2-2 3-1 2-2"/>
<path class="c8" d="M101 263l2-3 3-1 2-2 2-2 3-2 2-2 2-2"/>
<path class="c9" d="M117 249l3-2 2-1 2-2 3-2"/>
<path class="c10" d="M127 242l2-1 3-3 2-2 2-4 3-2"/>
<path class="c11" d="M139 230l2 0 2-3 3-2 2-3 2-2"/>
<path class="c12" d="M150 220l3-4 2-3"/>
<path class="c13" d="M155 213l2-3 3-3 2-2"/>
<path class="c14" d="M162 205l2 1 3 0 2-6 3-2"/>
<path class="c15" d="M172 198l2-1 2-3 3-3 2-3 2-2 3-1"/>
<path class="c16" d="M186 185l2 0 2-2 3 0 2-2 2-3 3-1 2-3"/>
<path class="c17" d="M202 174l2-3 3-4 2 0 3 2 2-3"/>
<path class="c16" d="M214 166l2 0 3 2 2-2"/>
<path class="c15" d="M221 166l2-2 3 2 2 1 2-2"/>
<path class="c14" d="M230 165l3-1 2-1 2 1 3 0"/>
<path class="c13" d="M240 164l2-2 2 2"/>
<path class="c12" d="M244 164l3-1 2 0 3 0"/>
<path class="c11" d="M252 163l2-1 2 0 3 1"/>
<path class="c10" d="M259 163l2 1 2-2 3 2 2-1"/>
<path class="c9" d="M268 163l2 0 3-1 2-1 2-1"/>
<path class="c8" d="M277 160l3 1 2-1 2-1"/>
<path class="c7" d="M284 159l3 1 2-1 3 0 2 0"/>
<path class="c6" d="M294 159l2-1 3 0 2 0 2-1"/>
<path class="c5" d="M303 157l3 0 2-1 2-1 3 0 2-1"/>
<path class="c4" d="M315 154l2-1 3-1 2 0"/>
<path class="c6" d="M86 278l2-2"/>
<path class="c7" d="M88 276l3-2 2-1 2-2 3-2 2-2 3-1 2-2 2-3"/>
<path class="c8" d="M107 261l3-1 2-2 2-2 3-2 2-2 2-2"/>
<path class="c9" d="M121 250l3-3 2 0 2-2 3-2"/>
<path class="c10" d="M131 243l2-1 2-3 3-3 2-3"/>
<path class="c11" d="M140 233l3-3 2 0 2-2 3-2 2-4"/>
<path class="c12" d="M152 222l2-2 3-4 2-3"/>
<path class="c13" d="M159 213l2-4 3-2"/>
<path class="c14" d="M164 207l2-2 2 0 3-1"/>
<path class="c15" d="M171 204l2-6 2-1 3 0 2-4"/>
<path class="c16" d="M180 193l3-4 2-2 2-2 3-1 2 0 2-2 3-1 2-3 2-1"/>
<path class="c17" d="M201 177l3-2 2-3 2-4"/>
<path class="c18" d="M208 168l3-2 2 0"/>
<path class="c17" d="M213 166l2 2 3-3 2 0"/>
<path class="c16" d="M220 165l3 3 2-2 2-3"/>
<path class="c15" d="M227 163l3 3 2 1 2-3 3 0"/>
<path class="c14" d="M237 164l2-1 2 1 3 0"/>
<path class="c13" d="M244 164l2-2 2 1 3 0"/>
<path class="c12" d="M251 163l2 0 2-1 3 0"/>
<path class="c11" d="M258 162l2 0 3 1 2 1"/>
<path class="c10" d="M265 164l2-2 3 2 2-1 2 0"/>
<path class="c9" d="M274 163l3-1 2-1 2 0"/>
<path class="c8" d="M281 161l3 0 2-1 2 0 3 0"/>
<path class="c7" d="M291 160l2 0 2 0 3 0"/>
<path class="c6" d="M298 160l2-1 3 0 2-1 2-1"/>
<path class="c5" d="M307 157l3 0 2 0 2-1 3 0 2-1 2-1"/>
<path class="c4" d="M321 154l3-1 2 0"/>
<path class="c6" d="M90 279l2-2"/>
<path class="c7" d="M92 277l3-2 2-1 2-2 3-2 2-2 3-1 2-2 2-3"/>
<path class="c8" d="M111 262l3-1 2-2 2-2 3-2 2-2 2-2"/>
<path class="c9" d="M125 251l3-3 2 0 2-2 3-2"/>
<path class="c10" d="M135 244l2-1 2-3 3-3 2-3"/>
<path class="c11" d="M144 234l3-3 2-1 2-2 3-2"/>
<path class="c12" d="M154 226l2-4 2-3 3-3"/>
<path class="c13" d="M161 216l2-3 2-4"/>
<path class="c14" d="M165 209l3-2 2-2 2 0"/>
<path class="c15" d="M172 205l3-2 2-5 2-2"/>
<path class="c16" d="M179 196l3 0 2-4 3-3 2-4 2 0"/>
<path class="c17" d="M191 185l3-2 2-1 2-2 3-1 2-2 2-2 3-2"/>
<path class="c18" d="M208 173l2-2 2-4 3-2 2-1 2 3 3-3"/>
<path class="c17" d="M222 164l2 0 3 2"/>
<path class="c16" d="M227 166l2-1 2-2 3 2"/>
<path class="c15" d="M234 165l2 1 2-2 3-1 2 0"/>
<path class="c14" d="M243 163l2 2 3 0 2-2"/>
<path class="c13" d="M250 163l2 1 3-1"/>
<path class="c12" d="M255 163l2 1 2-1 3-1"/>
<path class="c11" d="M262 162l2 1 3 0 2 1"/>
<path class="c10" d="M269 164l2-2 3 2 2-1 2 0"/>
<path class="c9" d="M278 163l3 0 2-1 2-1"/>
<path class="c8" d="M285 161l3 1 2-1 2 0 3 0"/>
<path class="c7" d="M295 161l2-1 2 0 3 0"/>
<path class="c6" d="M302 160l2 0 3-1 2 0 2-1 3 0"/>
<path class="c5" d="M314 158l2-1 2 0 3-1 2-1 2 0"/>
<path class="c4" d="M325 155l3-1 2-1"/>
<path class="c6" d="M94 280l2-2"/>
<path class="c7" d="M96 278l3-2 2-1 2-2 3-2 2-2 3-1 2-2 2-3"/>
<path class="c8" d="M115 263l3-1 2-2 2-2 3-2 2-2 2-3"/>
<path class="c9" d="M129 251l3-2 2-1 2-1 3-2"/>
<path class="c10" d="M139 245l2-2 2-2 3-3 2-3"/>
<path class="c11" d="M148 235l3-3 2-1 2-3 3-2"/>
<path class="c12" d="M158 226l2-5 2-1 3-4"/>
<path class="c13" d="M165 216l2-3 2-4"/>
<path class="c14" d="M169 209l3-2 2-3"/>
<path class="c15" d="M174 204l2-1 3-1 2-4"/>
<path class="c16" d="M181 198l2-3 3-1 2-2"/>
<path class="c17" d="M188 192l3-4 2-3 2-1 3-2 2-1 2-2"/>
<path class="c18" d="M202 179l3-1 2-2 2-2 3-2 2-3 2-2 3-1 2-1 2 2 3-3 2 1"/>
<path class="c17" d="M228 165l3 0 2-1"/>
<path class="c16" d="M233 164l2-2 3 3 2 0"/>
<path class="c15" d="M240 165l2-1 3 0 2 0 2 0"/>
<path class="c14" d="M249 164l3 1 2-2"/>
<path class="c13" d="M254 163l2 0 3 0 2 1"/>
<path class="c12" d="M261 164l2-1 3-1 2 0"/>
<path class="c11" d="M268 162l3 2 2 1 2-2"/>
<path class="c10" d="M275 163l3 1 2-1 2 0"/>
<path class="c9" d="M282 163l3 0 2-1 2 0 3 0"/>
<path class="c8" d="M292 162l2 0 2-1 3 0"/>
<path class="c7" d="M299 161l2 0 2 0 3 0"/>
<path class="c6" d="M306 161l2-1 3 0 2 0 2-1 3 0"/>
<path class="c5" d="M318 159l2-1 2 0 3-1 2-1 2 0"/>
<path class="c4" d="M329 156l3-1 2-1"/>
<path class="c6" d="M98 281l2-2 3-1"/>
<path class="c7" d="M103 278l2-2 2-2 3-2 2-2 3-1 2-2 2-3"/>
<path class="c8" d="M119 264l3-1 2-2 2-2 3-2 2-2 2-3"/>
<path class="c9" d="M133 252l3-2 2-1 2-2 3-2"/>
<path class="c10" d="M143 245l2-1 2-3 3-3 2-2"/>
<path class="c11" d="M152 236l3-3 2-2 2-3"/>
<path class="c12" d="M159 228l3-3 2-4 2-1"/>
<path class="c13" d="M166 220l3-5 2-2"/>
<path class="c14" d="M171 213l2-4 3-2"/>
<path class="c15" d="M176 207l2-4 2-1 3-1"/>
<path class="c16" d="M183 201l2-5 2-2 3-2"/>
<path class="c17" d="M190 192l2-2 3-3 2-3"/>
<path class="c18" d="M197 184l2-1 3-2 2-2 2-2 3-1 2-2 2-2 3 0"/>
<path class="c19" d="M216 172l2-4 2-2 3 0 2-2 2 3"/>
<path class="c18" d="M227 167l3-1 2 0 3 0"/>
<path class="c17" d="M235 166l2-2 2-2"/>
<path class="c16" d="M239 162l3 3 2 0 2-2"/>
<path class="c15" d="M246 163l3 1 2 0 2 1"/>
<path class="c14" d="M253 165l3 0 2-2 2 0"/>
<path class="c13" d="M260 163l3 0 2 1"/>
<path class="c12" d="M265 164l2-1 3-1 2 1"/>
<path class="c11" d="M272 163l3 1 2 1 2-2"/>
<path class="c10" d="M279 163l3 0 2 0 2 0 3 0"/>
<path class="c9" d="M289 163l2 0 2-1 3 1"/>
<path class="c8" d="M296 163l2-1 2 0 3 0"/>
<path class="c7" d="M303 162l2-1 2 0 3 0 2 0"/>
<path class="c6" d="M312 161l3-1 2 0 2 0 3-1"/>
<path class="c5" d="M322 159l2 0 2-1 3 0 2-1 2 0"/>
<path class="c4" d="M333 157l3-2 2 0"/>
<path class="c6" d="M102 282l2-2 3-2"/>
<path class="c7" d="M107 278l2-1 2-2 3-2 2-2 3-1 2-2 2-3"/>
<path class="c8" d="M123 265l3-1 2-2 2-3 3-1 2-3 2-2"/>
<path class="c9" d="M137 253l3-2 2-1 2-2 3-2"/>
<path class="c10" d="M147 246l2-2 2-3 3-2 2-3"/>
<path class="c11" d="M156 236l3-2 2-3 2-2"/>
<path class="c12" d="M163 229l3-3 2-5"/>
<path class="c13" d="M168 221l2-1 3-4 2-4"/>
<path class="c14" d="M175 212l2-3 3-2"/>
<path class="c15" d="M180 207l2-5 2-1"/>
<path class="c16" d="M184 201l3 0 2-5 2-3"/>
<path class="c17" d="M191 193l3-3 2-1 3-4"/>
<path class="c18" d="M199 185l2-2 2 0 3-3 2-2"/>
<path class="c19" d="M208 178l2-2 3-1 2-3 2-1 3 0 2-4 2-2 3-1 2-1 2 4 3-2"/>
<path class="c18" d="M234 165l2 0 3 1"/>
<path class="c17" d="M239 166l2-2 2-2 3 2"/>
<path class="c16" d="M246 164l2 1 2-2 3 1"/>
<path class="c15" d="M253 164l2 0 2 1 3 1"/>
<path class="c14" d="M260 166l2-3 2 1 3-1"/>
<path class="c13" d="M267 163l2 2 2-2"/>
<path class="c12" d="M271 163l3-1 2 1 2 1"/>
<path class="c11" d="M278 164l3 1 2-2 3 0"/>
<path class="c10" d="M286 163l2 1 2-1 3 0"/>
<path class="c9" d="M293 163l2 0 2 0 3 0"/>
<path class="c8" d="M300 163l2 0 2 0 3 0"/>
<path class="c7" d="M307 163l2-1 2 0 3 0 2-1"/>
<path class="c6" d="M316 161l2 0 3 0 2 0 3-1"/>
<path class="c5" d="M326 160l2 0 2-1 3-1 2-1 2 0"/>
<path class="c4" d="M337 157l3-1 2-1"/>
<path class="c6" d="M106 283l2-2 3-1 2-2"/>
<path class="c7" d="M113 278l2-2 3-2 2-2 2-2 3-1 2-3 3-1"/>
<path class="c8" d="M130 265l2-2 2-2 3-2 2-3 2-3"/>
<path class="c9" d="M141 253l3-2 2 0 2-2 3-3"/>
<path class="c10" d="M151 246l2-2 2-2 3-2 2-4"/>
<path class="c11" d="M160 236l2-2 3-3"/>
<path class="c12" d="M165 231l2-2 3-3 2-4"/>
<path class="c13" d="M172 222l2-2 3-5"/>
<path class="c14" d="M177 215l2-3 2-3"/>
<path class="c15" d="M181 209l3-3 2-4"/>
<path class="c16" d="M186 202l2-2 3 0 2-4"/>
<path class="c17" d="M193 196l2-5 3-3"/>
<path class="c18" d="M198 188l2 0 2-3 3-3 2 0"/>
<path class="c19" d="M207 182l3-3 2-1 2-2 3-3 2-2 2-1 3 0"/>
<path class="c20" d="M224 170l2-4 2-2"/>
<path class="c19" d="M228 164l3-1 2-1 2 4 3-1 2-1"/>
<path class="c18" d="M240 164l2 1 3-3"/>
<path class="c17" d="M245 162l2 0 3 2 2 0"/>
<path class="c16" d="M252 164l2-1 3 0 2 0"/>
<path class="c15" d="M259 163l2 2 3 1 2-2"/>
<path class="c14" d="M266 164l2-1 3 0"/>
<path class="c13" d="M271 163l2 2 2-2 3-2"/>
<path class="c12" d="M278 161l2 2 2 1"/>
<path class="c11" d="M282 164l3 1 2-1 3-1"/>
<path class="c10" d="M290 163l2 0 2 0 3 1"/>
<path class="c9" d="M297 164l2-1 2 0 3 1"/>
<path class="c8" d="M304 164l2-1 2 1 3-1"/>
<path class="c7" d="M311 163l2 0 2 0 3 0 2-1"/>
<path class="c6" d="M320 162l2 0 3 0 2-1 3 0"/>
<path class="c5" d="M330 161l2 0 2-2 3 0 2-1 2 0"/>
<path class="c4" d="M341 158l3-1 2-1"/>
<path class="c6" d="M110 284l2-2 3-1 2-2"/>
<path class="c7" d="M117 279l2-2 3-2 2-2 2-2 3-1 2-3 3-1"/>
<path class="c8" d="M134 266l2-3 2-2 3-2 2-2 2-3"/>
<path class="c9" d="M145 254l3-1 2-2 2-1 3-3"/>
<path class="c10" d="M155 247l2-3 2-2 3-2"/>
<path class="c11" d="M162 240l2-3 2-3 3-3"/>
<path class="c12" d="M169 231l2-2 3-3"/>
<path class="c13" d="M174 226l2-5 2-1 3-4"/>
<path class="c14" d="M181 216l2-3 2-3"/>
<path class="c15" d="M185 210l3-4 2-4"/>
<path class="c16" d="M190 202l2-2 3 1"/>
<path class="c17" d="M195 201l2-6 2-5"/>
<path class="c18" d="M199 190l3-3 2 0 2-3"/>
<path class="c19" d="M206 184l3-4 2 0 3-2 2-1"/>
<path class="c20" d="M216 177l2-4 3-2 2-2 2 0 3 0 2-4 2-2 3 0 2-1 2 4"/>
<path class="c19" d="M239 166l3-1 2-1 2 0"/>
<path class="c18" d="M246 164l3-3 2-1"/>
<path class="c17" d="M251 160l3 2 2 1 2-1"/>
<path class="c16" d="M258 162l3 1 2 1 2 1"/>
<path class="c15" d="M265 165l3 1 2-2"/>
<path class="c14" d="M270 164l2-1 3 1 2 1"/>
<path class="c13" d="M277 165l2-3 3-1"/>
<path class="c12" d="M282 161l2 1 2 2 3 1"/>
<path class="c11" d="M289 165l2-1 3-1"/>
<path class="c10" d="M294 163l2 1 2-1 3 1"/>
<path class="c9" d="M301 164l2 0 2 0 3 1"/>
<path class="c8" d="M308 165l2-1 2 0 3-1"/>
<path class="c7" d="M315 163l2 0 2 0 3 0 2 0"/>
<path class="c6" d="M324 163l2-1 3 0 2 0 3 0"/>
<path class="c5" d="M334 162l2-1 2-1 3 0 2-1 2-1 3-1"/>
<path class="c4" d="M348 157l2 0"/>
<path class="c6" d="M114 285l2-2 3-1 2-2"/>
<path class="c7" d="M121 280l2-2 3-2 2-2 2-2 3-1 2-3 3-1"/>
<path class="c8" d="M138 267l2-3 2-2 3-2 2-2 2-3"/>
<path class="c9" d="M149 255l3-1 2-2 2-2 3-2"/>
<path class="c10" d="M159 248l2-4 2-2 3-2"/>
<path class="c11" d="M166 240l2-3 2-2 3-4"/>
<path class="c12" d="M173 231l2-2 3-3"/>
<path class="c13" d="M178 226l2-5 2-2"/>
<path class="c14" d="M182 219l3-4 2-3"/>
<path class="c15" d="M187 212l2-2 3-5"/>
<path class="c16" d="M192 205l2-3 2-2"/>
<path class="c17" d="M196 200l3 0 2-5"/>
<path class="c18" d="M201 195l2-6 3-3 2-1"/>
<path class="c19" d="M208 185l2-2 3-3 2 0"/>
<path class="c20" d="M215 180l3-4 2-1 2-3 3-2 2-2 2 0 3-1 2-3 2-2 3 0 2 0 2 3 3-1"/>
<path class="c19" d="M246 164l2-2 2 2 3-4"/>
<path class="c18" d="M253 160l2 1 3 2"/>
<path class="c17" d="M258 163l2 0 2-1 3 1"/>
<path class="c16" d="M265 163l2 0 2 2 3 0"/>
<path class="c15" d="M272 165l2-1 2-1"/>
<path class="c14" d="M276 163l3 0 2 2"/>
<path class="c13" d="M281 165l2-2 3-1 2 0"/>
<path class="c12" d="M288 162l2 1 3 1"/>
<path class="c11" d="M293 164l2 0 3-2 2 2"/>
<path class="c10" d="M300 164l2 0 3 0"/>
<path class="c9" d="M305 164l2 0 2 0 3 1"/>
<path class="c8" d="M312 165l2 0 2 0 3-1 2 0"/>
<path class="c7" d="M321 164l2 0 3 0 2-1"/>
<path class="c6" d="M328 163l2 0 3 0 2-1 3 0"/>
<path class="c5" d="M338 162l2 0 2-2 3 0 2-1 2 0 3-1"/>
<path class="c4" d="M352 158l2-1"/>
<path class="c6" d="M118 286l2-2 3-1 2-2"/>
<path class="c7" d="M125 281l2-3 3-1 2-2 2-2 3-2 2-3 3-1"/>
<path class="c8" d="M142 267l2-2 2-2 3-2 2-2 2-3"/>
<path class="c9" d="M153 256l3-2 2-2 2-1 3-3"/>
<path class="c10" d="M163 248l2-4 2-2 3-1"/>
<path class="c11" d="M170 241l2-4 2-1 3-4"/>
<path class="c12" d="M177 232l2-3 3-3"/>
<path class="c13" d="M182 226l2-4 2-3"/>
<path class="c14" d="M186 219l3-4"/>
<path class="c15" d="M189 215l2-3 2-2"/>
<path class="c16" d="M193 210l3-4 2-3"/>
<path class="c17" d="M198 203l2-3 3 0"/>
<path class="c18" d="M203 200l2-6 2-6 3-3"/>
<path class="c19" d="M210 185l2 0 2-2 3-4"/>
<path class="c20" d="M217 179l2 0 3-3 2 0 2-4"/>
<path class="c21" d="M226 172l3-3 2-1 2-1 3 0 2-3 2-3 3 0"/>
<path class="c20" d="M243 161l2-1 2 4 3 0 2-2"/>
<path class="c19" d="M252 162l2 0 3-2 2 0"/>
<path class="c18" d="M259 160l3 2 2 0"/>
<path class="c17" d="M264 162l2 0 3 0 2 2"/>
<path class="c16" d="M271 164l2 0 3 1"/>
<path class="c15" d="M276 165l2-1 2 0"/>
<path class="c14" d="M280 164l3 0 2 1 2-2"/>
<path class="c13" d="M287 163l3-1 2 0"/>
<path class="c12" d="M292 162l2 1 3 1"/>
<path class="c11" d="M297 164l2 1 3-2 2 1"/>
<path class="c10" d="M304 164l2 0 3 1 2-1"/>
<path class="c9" d="M311 164l2 1 3 1 2-1"/>
<path class="c8" d="M318 165l2 1 3-1 2-1"/>
<path class="c7" d="M325 164l2 0 3 0 2 0"/>
<path class="c6" d="M332 164l2-1 3 0 2 0 3 0"/>
<path class="c5" d="M342 163l2-1 2-1 3 0 2-1 2 0 3-1"/>
<path class="c4" d="M356 159l2-1"/>
<path class="c6" d="M122 287l2-2 3-1 2-2 2-3"/>
<path class="c7" d="M131 279l3-2 2-2 2-1 3-2 2-3 3-1"/>
<path class="c8" d="M146 268l2-2 2-2 3-3 2-2 2-3"/>
<path class="c9" d="M157 256l3-1 2-2 2-2 3-3"/>
<path class="c10" d="M167 248l2-3 2-2 3-2"/>
<path class="c11" d="M174 241l2-3 2-2"/>
<path class="c12" d="M178 236l3-4 2-3"/>
<path class="c13" d="M183 229l3-2 2-5"/>
<path class="c14" d="M188 222l2-2 3-5"/>
<path class="c15" d="M193 215l2-3 2-2"/>
<path class="c16" d="M197 210l3-4 2-3"/>
<path class="c17" d="M202 203l2-3 3-1"/>
<path class="c18" d="M207 199l2-5 2-6"/>
<path class="c19" d="M211 188l3-2 2-3 2 0"/>
<path class="c20" d="M218 183l3-4 2-1 2-1"/>
<path class="c21" d="M225 177l3-2 2-3 3-4 2 0 2-1 3-1 2-2 2-3 3-1 2 0 2 2"/>
<path class="c20" d="M251 162l3 1 2-2 2 0"/>
<path class="c19" d="M258 161l3-2 2 0 2 2"/>
<path class="c18" d="M265 161l3 1 2 0"/>
<path class="c17" d="M270 162l3 0 2 2 2 0"/>
<path class="c16" d="M277 164l3 1 2-1"/>
<path class="c15" d="M282 164l2 0 3-1"/>
<path class="c14" d="M287 163l2 1 2 0"/>
<path class="c13" d="M291 164l3-2 2 1"/>
<path class="c12" d="M296 163l2-1 3 2 2 1"/>
<path class="c11" d="M303 165l2-2 3 1"/>
<path class="c10" d="M308 164l2 0 3 1 2 0"/>
<path class="c9" d="M315 165l2 0 3 2 2-1"/>
<path class="c8" d="M322 166l2 0 3 0 2-1"/>
<path class="c7" d="M329 165l2 0 3 0 2 0"/>
<path class="c6" d="M336 165l2-1 3 0 2-1 2 0 3 0"/>
<path class="c5" d="M348 163l2-1 3-1 2 0 2-1 3-1"/>
<path class="c4" d="M360 159l2 0"/>
<path class="c6" d="M126 288l2-2 3-2 2-1 2-3"/>
<path class="c7" d="M135 280l3-2 2-2 2-1 3-2 2-3 2-1"/>
<path class="c8" d="M149 269l3-2 2-2 3-3 2-2 2-3"/>
<path class="c9" d="M161 257l3-1 2-2 2-3"/>
<path class="c10" d="M168 251l3-3 2-3 2-2"/>
<path class="c11" d="M175 243l3-2 2-3 2-2"/>
<path class="c12" d="M182 236l3-5 2-2"/>
<path class="c13" d="M187 229l2-2 3-5"/>
<path class="c14" d="M192 222l2-2"/>
<path class="c15" d="M194 220l3-5 2-2"/>
<path class="c16" d="M199 213l2-4 3-3"/>
<path class="c17" d="M204 206l2-3 2-3"/>
<path class="c18" d="M208 200l3-2 2-4"/>
<path class="c19" d="M213 194l2-6 3-2"/>
<path class="c20" d="M218 186l2-3 2-1 3-4"/>
<path class="c21" d="M225 178l2 0 2-1 3-2 2-3 3-4 2-1"/>
<path class="c22" d="M239 167l2 1 3-3 2-1"/>
<path class="c21" d="M246 164l2-3 3-1 2 0 2 2 3-1"/>
<path class="c20" d="M258 161l2-1 2-1 3-1"/>
<path class="c19" d="M265 158l2 0 2 1"/>
<path class="c18" d="M269 159l3 2 2 0 3 1"/>
<path class="c17" d="M277 162l2 2 2 0"/>
<path class="c16" d="M281 164l3 1 2-1"/>
<path class="c15" d="M286 164l2-1 3 1 2 0"/>
<path class="c14" d="M293 164l2-1 3-2"/>
<path class="c13" d="M298 161l2 1 2 0"/>
<path class="c12" d="M302 162l3 2 2 1"/>
<path class="c11" d="M307 165l2-2 3 1 2 1"/>
<path class="c10" d="M314 165l3 0 2 0"/>
<path class="c9" d="M319 165l2 0 3 2 2 0"/>
<path class="c8" d="M326 167l2 0 3-1 2 0"/>
<path class="c7" d="M333 166l2-1 3 0 2 0"/>
<path class="c6" d="M340 165l2 0 3-1 2 0 2 0 3-1"/>
<path class="c5" d="M352 163l2 0 3-1 2-1 2 0 3-1"/>
<path class="c4" d="M364 160l2-1"/>
<path class="c6" d="M130 289l2-2 3-2 2-1 2-3"/>
<path class="c7" d="M139 281l3-2 2-2 2-2 3-2 2-2 2-2"/>
<path class="c8" d="M153 269l3-1 2-2 3-3 2-2 2-3"/>
<path class="c9" d="M165 258l3-2 2-2 2-2"/>
<path class="c10" d="M172 252l3-4 2-3 2-2"/>
<path class="c11" d="M179 243l3-2 2-3"/>
<path class="c12" d="M184 238l2-2 3-4"/>
<path class="c13" d="M189 232l2-3 2-3"/>
<path class="c14" d="M193 226l3-4 2-3"/>
<path class="c15" d="M198 219l3-4 2-3"/>
<path class="c16" d="M203 212l2-3"/>
<path class="c17" d="M205 209l3-4 2-3"/>
<path class="c18" d="M210 202l2-2 3-2"/>
<path class="c19" d="M215 198l2-6 2-4 3-1"/>
<path class="c20" d="M222 187l2-4 2-1"/>
<path class="c21" d="M226 182l3-5 2 1 2 0 3-3"/>
<path class="c22" d="M236 175l2-4 3-2 2-2 2 1 3-3 2-2 2-2 3-2"/>
<path class="c21" d="M255 159l2 0 2 2 3 0 2-1"/>
<path class="c20" d="M264 160l2-2 3-1"/>
<path class="c19" d="M269 157l2 0 2 2 3 1"/>
<path class="c18" d="M276 160l2 1 3 0 2 3"/>
<path class="c17" d="M283 164l2-1 3 1"/>
<path class="c16" d="M288 164l2 1 2-2"/>
<path class="c15" d="M292 163l3 0 2 0"/>
<path class="c14" d="M297 163l2-1 3-1"/>
<path class="c13" d="M302 161l2 1 2 0"/>
<path class="c12" d="M306 162l3 2 2 1 2-2"/>
<path class="c11" d="M313 163l3 1 2 1"/>
<path class="c10" d="M318 165l3 1 2-1 2 1"/>
<path class="c9" d="M325 166l3 1 2 0"/>
<path class="c8" d="M330 167l2 0 3 0 2-1"/>
<path class="c7" d="M337 166l2 0 3 0 2 0 2 0"/>
<path class="c6" d="M346 166l3-1 2 0 2 0 3-1"/>
<path class="c5" d="M356 164l2-1 3 0 2-1 2 0 3-1 2-1"/>
<path class="c6" d="M134 290l2-2 3-2 2-2 2-2"/>
<path class="c7" d="M143 282l3-2 2-2 2-2 3-2 2-2 2-2"/>
<path class="c8" d="M157 270l3-1 2-2 3-3 2-2 2-3"/>
<path class="c9" d="M169 259l3-2 2-2 2-3"/>
<path class="c10" d="M176 252l3-3 2-3 2-3"/>
<path class="c11" d="M183 243l3-1 2-4"/>
<path class="c12" d="M188 238l2-2 3-4"/>
<path class="c13" d="M193 232l2-3 2-3"/>
<path class="c14" d="M197 226l3-5"/>
<path class="c15" d="M200 221l2-2 3-4"/>
<path class="c16" d="M205 215l2-3 2-3"/>
<path class="c17" d="M209 209l3-5 2-2"/>
<path class="c18" d="M214 202l2-2 3-3"/>
<path class="c19" d="M219 197l2-6 2-3"/>
<path class="c20" d="M223 188l3-2 2-5"/>
<path class="c21" d="M228 181l2-1 3-4 2 2 2-1"/>
<path class="c22" d="M237 177l3-1 2-4 3-3 2-1 2 1 3-5 2-2 2-2 3 0 2-1"/>
<path class="c21" d="M261 159l2 2 3-1 2-1"/>
<path class="c20" d="M268 159l2-1 3-2 2-1"/>
<path class="c19" d="M275 155l2 3 3 2 2-1"/>
<path class="c18" d="M282 159l3 2 2 2"/>
<path class="c17" d="M287 163l2-1 3 2"/>
<path class="c16" d="M292 164l2 0 2-2"/>
<path class="c15" d="M296 162l3 1 2 0 2-1"/>
<path class="c14" d="M303 162l3 0 2 0"/>
<path class="c13" d="M308 162l2-1 3 3"/>
<path class="c12" d="M313 164l2 1 2-2"/>
<path class="c11" d="M317 163l3 1 2 2"/>
<path class="c10" d="M322 166l3 0 2-1 2 1"/>
<path class="c9" d="M329 166l3 1 2 1 2-1"/>
<path class="c8" d="M336 167l3 0 2 0"/>
<path class="c7" d="M341 167l2-1 3 0 2 1 2-1"/>
<path class="c6" d="M350 166l3 0 2-1 2 0 3-1"/>
<path class="c5" d="M360 164l2 0 3-1 2 0 2-1 3-1 2-1"/>
<path class="c6" d="M138 290l2-2 3-1 2-2 2-2"/>
<path class="c7" d="M147 283l3-2 2-3 2-1 3-2 2-2 2-2"/>
<path class="c8" d="M161 271l3-2 2-2 3-2 2-2"/>
<path class="c9" d="M171 263l2-3 3-2 2-2 2-4"/>
<path class="c10" d="M180 252l3-2 2-3"/>
<path class="c11" d="M185 247l2-3 3-2 2-4"/>
<path class="c12" d="M192 238l2-2 3-4"/>
<path class="c13" d="M197 232l2-4"/>
<path class="c14" d="M199 228l2-3 3-5"/>
<path class="c15" d="M204 220l2-2 3-4"/>
<path class="c16" d="M209 214l2-3"/>
<path class="c17" d="M211 211l2-3 3-4"/>
<path class="c18" d="M216 204l2-3 2-2"/>
<path class="c19" d="M220 199l3-3 2-5"/>
<path class="c20" d="M225 191l2-4 3-1"/>
<path class="c21" d="M230 186l2-5 2-1 3-5"/>
<path class="c22" d="M237 175l2 1 2 1 3-2 2-4 3-4 2 0 2 1 3-6 2 0 2-1 3-1 2-1 2 0"/>
<path class="c21" d="M267 159l3 1 2-1 2-2"/>
<path class="c20" d="M274 157l3-1 2-1 2 2"/>
<path class="c19" d="M281 157l3 2 2 0"/>
<path class="c18" d="M286 159l3 1 2 2 2-1"/>
<path class="c17" d="M293 161l3 2 2 0"/>
<path class="c16" d="M298 163l2-1 3 1"/>
<path class="c15" d="M303 163l2 0 2-1"/>
<path class="c14" d="M307 162l3 0 2-1"/>
<path class="c13" d="M312 161l2 0 3 3"/>
<path class="c12" d="M317 164l2 1 2-2 3 1"/>
<path class="c11" d="M324 164l2 2 3 0"/>
<path class="c10" d="M329 166l2-1 2 1"/>
<path class="c9" d="M333 166l3 1 2 1 2 0"/>
<path class="c8" d="M340 168l3 0 2-1 2 0"/>
<path class="c7" d="M347 167l3 0 2 1 2-1"/>
<path class="c6" d="M354 167l3-1 2 0 2 0 3-1"/>
<path class="c5" d="M364 165l2-1 3 0 2-1 2-1 3-1 2 0"/>
<path class="c6" d="M142 291l2-2 3-1 2-3 2-2"/>
<path class="c7" d="M151 283l3-2 2-2 2-1 3-3 2-1 2-2"/>
<path class="c8" d="M165 272l3-2 2-2 2-2 3-2"/>
<path class="c9" d="M175 264l2-3 3-3 2-1"/>
<path class="c10" d="M182 257l2-4 3-3 2-3"/>
<path class="c11" d="M189 247l2-3 3-2"/>
<path class="c12" d="M194 242l2-3 2-3"/>
<path class="c13" d="M198 236l3-4 2-4"/>
<path class="c14" d="M203 228l2-3"/>
<path class="c15" d="M205 225l3-4 2-3"/>
<path class="c16" d="M210 218l2-4 3-4"/>
<path class="c17" d="M215 210l2-2"/>
<path class="c18" d="M217 208l3-4 2-3"/>
<path class="c19" d="M222 201l2-2 3-4"/>
<path class="c20" d="M227 195l2-4 2-6 3 0"/>
<path class="c21" d="M234 185l2-4 2-3"/>
<path class="c22" d="M238 178l3-3 2 0 2 1 3 0"/>
<path class="c23" d="M248 176l2-6 2-3 3-1 2 0 3-4 2 0 2-1"/>
<path class="c22" d="M264 161l3 0 2-1 2 0 3 0"/>
<path class="c21" d="M274 160l2-1 2-2 3-1"/>
<path class="c20" d="M281 156l2-2 2 3"/>
<path class="c19" d="M285 157l3 3 2-2 2 1"/>
<path class="c18" d="M292 159l3 2 2 0"/>
<path class="c17" d="M297 161l3 2 2 0"/>
<path class="c16" d="M302 163l2-2 3 2"/>
<path class="c15" d="M307 163l2 0 2-1 3-1"/>
<path class="c14" d="M314 161l2 0 2 0"/>
<path class="c13" d="M318 161l3 3 2 1"/>
<path class="c12" d="M323 165l2-2 3 1"/>
<path class="c11" d="M328 164l2 1 2 1"/>
<path class="c10" d="M332 166l3-1 2 1 3 2"/>
<path class="c9" d="M340 168l2 1 2 0"/>
<path class="c8" d="M344 169l3 0 2-1 2-1"/>
<path class="c7" d="M351 167l3 0 2 1 2-1"/>
<path class="c6" d="M358 167l3 0 2-1 2 0 3-1 2 0"/>
<path class="c5" d="M370 165l2-1 3 0 2-1 3-1 2-1"/>
<path class="c6" d="M146 292l2-2 3-2 2-2 2-2"/>
<path class="c7" d="M155 284l3-2 2-2 2-2 3-2 2-2 2-2"/>
<path class="c8" d="M169 272l3-2 2-1 2-2 3-2"/>
<path class="c9" d="M179 265l2-3 3-3 2-2"/>
<path class="c10" d="M186 257l2-4 3-2 2-3"/>
<path class="c11" d="M193 248l2-3 3-3"/>
<path class="c12" d="M198 242l2-3 2-3"/>
<path class="c13" d="M202 236l3-4"/>
<path class="c14" d="M205 232l2-5 2-3"/>
<path class="c15" d="M209 224l3-4 2-3"/>
<path class="c16" d="M214 217l2-4"/>
<path class="c17" d="M216 213l3-3 2-2"/>
<path class="c18" d="M221 208l3-5 2-2"/>
<path class="c19" d="M226 201l2-2 3-6"/>
<path class="c20" d="M231 193l2-2 2-5"/>
<path class="c21" d="M235 186l3 0 2-6"/>
<path class="c22" d="M240 180l2-3 3-2 2 1 2 0"/>
<path class="c23" d="M249 176l3-1 2-5 2-3 3-2 2 2 3-7 2 0 2 0 3 1"/>
<path class="c22" d="M271 161l2-1 2 0 3-1 2 0"/>
<path class="c21" d="M280 159l2-2 3 0"/>
<path class="c20" d="M285 157l2-4 2 4 3 2"/>
<path class="c19" d="M292 159l2-2 2 3"/>
<path class="c18" d="M296 160l3 0 2 0 3 2"/>
<path class="c17" d="M304 162l2 0 2-2"/>
<path class="c16" d="M308 160l3 2 2 0"/>
<path class="c15" d="M313 162l2-1 3 1"/>
<path class="c14" d="M318 162l2-1 2 0"/>
<path class="c13" d="M322 161l3 2 2 1"/>
<path class="c12" d="M327 164l2 0 3 0 2 2"/>
<path class="c11" d="M334 166l2 0 3 0"/>
<path class="c10" d="M339 166l2 0 3 2"/>
<path class="c9" d="M344 168l2 1 2 0 3 0"/>
<path class="c8" d="M351 169l2 0 2-1"/>
<path class="c7" d="M355 168l3 0 2 0 2-1 3 0"/>
<path class="c6" d="M365 167l2-1 2 1 3-1 2-1"/>
<path class="c5" d="M374 165l2-1 3 0 2-1 3-1 2 0"/>
<path class="c6" d="M150 292l2-2 3-1 2-3 2-1"/>
<path class="c7" d="M159 285l3-2 2-2 2-2 3-2 2-2"/>
<path class="c8" d="M171 275l2-2 3-2 2-2 2-2 3-2"/>
<path class="c9" d="M183 265l2-3 3-2 2-3"/>
<path class="c10" d="M190 257l2-3 3-3"/>
<path class="c11" d="M195 251l2-2 2-4"/>
<path class="c12" d="M199 245l3-2 2-4"/>
<path class="c13" d="M204 239l2-3 3-5"/>
<path class="c14" d="M209 231l2-5"/>
<path class="c15" d="M211 226l2-3 3-3"/>
<path class="c16" d="M216 220l2-3 2-5"/>
<path class="c17" d="M220 212l3-3"/>
<path class="c18" d="M223 209l2-3 3-5"/>
<path class="c19" d="M228 201l2-1 2-2"/>
<path class="c20" d="M232 198l3-5 2-3"/>
<path class="c21" d="M237 190l2-4 3 0"/>
<path class="c22" d="M242 186l2-6 2-3 3-2"/>
<path class="c23" d="M249 175l2 0 2-1 3-1 2-5 2-3 3 0 2 0 3-5 2 0 2 0 3 0 2 0"/>
<path class="c22" d="M277 160l2-1 3 0 2-1"/>
<path class="c21" d="M284 158l2-1 3-1 2-2"/>
<path class="c20" d="M291 154l2 3 3 2 2-2"/>
<path class="c19" d="M298 157l2 2 3 0"/>
<path class="c18" d="M303 159l2 1 3 1"/>
<path class="c17" d="M308 161l2 1 2-2 3 2"/>
<path class="c16" d="M315 162l2 0 2-1"/>
<path class="c15" d="M319 161l3 1 2-1"/>
<path class="c14" d="M324 161l2 1 3 1"/>
<path class="c13" d="M329 163l2 2 2-1"/>
<path class="c12" d="M333 164l3 0 2 1"/>
<path class="c11" d="M338 165l2 1 3 0"/>
<path class="c10" d="M343 166l2 0 3 2 2 1"/>
<path class="c9" d="M350 169l2 0 3 0"/>
<path class="c8" d="M355 169l2 0 2-1 3 0"/>
<path class="c7" d="M362 168l2 1 2-1 3-1"/>
<path class="c6" d="M369 167l2 0 2 0 3-1 2-1 2 0"/>
<path class="c5" d="M380 165l3-1 2 0 3-1 2-1"/>
<path class="c6" d="M154 293l2-2 3-1 2-3 2-1"/>
<path class="c7" d="M163 286l3-3 2-1 2-2 3-2 2-2"/>
<path class="c8" d="M175 276l2-3 3-2 2-1 2-3"/>
<path class="c9" d="M184 267l3-1 2-3 3-3"/>
<path class="c10" d="M192 260l2-3 2-3 3-2"/>
<path class="c11" d="M199 252l2-3 2-4"/>
<path class="c12" d="M203 245l3-3 2-3"/>
<path class="c13" d="M208 239l2-4"/>
<path class="c14" d="M210 235l3-4 2-5"/>
<path class="c15" d="M215 226l2-3 3-4"/>
<path class="c16" d="M220 219l2-3"/>
<path class="c17" d="M222 216l2-5 3-3"/>
<path class="c18" d="M227 208l2-4"/>
<path class="c19" d="M229 204l3-2 2-3"/>
<path class="c20" d="M234 199l2-1 3-5"/>
<path class="c21" d="M239 193l2-5 2-2 3 0"/>
<path class="c22" d="M246 186l2-5 2-3 3-3"/>
<path class="c23" d="M253 175l2-1 2-1 3-2 2-4"/>
<path class="c24" d="M262 167l2-2 3-1 2 1 3-4 2-1"/>
<path class="c23" d="M274 160l2 0 3-1 2 0 2 0"/>
<path class="c22" d="M283 159l3 1 2-1 2-2"/>
<path class="c21" d="M290 157l3-1 2-3 2 3"/>
<path class="c20" d="M297 156l3 2 2-2"/>
<path class="c19" d="M302 156l2 2 3 0 2 0"/>
<path class="c18" d="M309 158l3 2 2 1"/>
<path class="c17" d="M314 161l2-1 3 2"/>
<path class="c16" d="M319 162l2 0 2-1"/>
<path class="c15" d="M323 161l3 1 2-2"/>
<path class="c14" d="M328 160l2 1 3 2 2 2"/>
<path class="c13" d="M335 165l2-1 3 0"/>
<path class="c12" d="M340 164l2 1 2 1"/>
<path class="c11" d="M344 166l3 0 2 0"/>
<path class="c10" d="M349 166l3 3 2 0"/>
<path class="c9" d="M354 169l2 0 3 0"/>
<path class="c8" d="M359 169l2 0 2-1 3 1"/>
<path class="c7" d="M366 169l2 0 2-1 3-1 2 0"/>
<path class="c6" d="M375 167l2 0 3-1 2 0 2-1 3 0"/>
<path class="c5" d="M387 165l2-1 3-1 2-1"/>
<path class="c6" d="M158 294l2-2 3-2 2-2 2-1"/>
<path class="c7" d="M167 287l3-3 2-2 2-2 3-2 2-2"/>
<path class="c8" d="M179 276l2-2 3-2 2-2 2-2"/>
<path class="c9" d="M188 268l3-2 2-3 3-3"/>
<path class="c10" d="M196 260l2-3 2-2 3-3"/>
<path class="c11" d="M203 252l2-3 2-4"/>
<path class="c12" d="M207 245l3-3"/>
<path class="c13" d="M210 242l2-3 2-3"/>
<path class="c14" d="M214 236l3-6 2-4"/>
<path class="c15" d="M219 226l2-3"/>
<path class="c16" d="M221 223l3-5 2-3"/>
<path class="c17" d="M226 215l2-5"/>
<path class="c18" d="M228 210l3-4 2-4"/>
<path class="c19" d="M233 202l3-2 2-3"/>
<path class="c20" d="M238 197l2 1 3-5"/>
<path class="c21" d="M243 193l2-4 2-4"/>
<path class="c22" d="M247 185l3 0 2-5 2-3"/>
<path class="c23" d="M254 177l3-2 2-2 2 0"/>
<path class="c24" d="M261 173l3-1 2-4 2-2 3-3 2 2 3-4 2 0 2 0"/>
<path class="c23" d="M280 161l3-1 2 0 2 1 3-1"/>
<path class="c22" d="M290 160l2-1 2-2 3-2"/>
<path class="c21" d="M297 155l2-1 2 2 3 2"/>
<path class="c20" d="M304 158l2-2 2 2"/>
<path class="c19" d="M308 158l3 0 2 0 3 2"/>
<path class="c18" d="M316 160l2 1 2-2"/>
<path class="c17" d="M320 159l3 2 2 0"/>
<path class="c16" d="M325 161l2-1 3 1"/>
<path class="c15" d="M330 161l2-1 2 1"/>
<path class="c14" d="M334 161l3 1 2 2"/>
<path class="c13" d="M339 164l2-1 3 1"/>
<path class="c12" d="M344 164l2 1 2 0"/>
<path class="c11" d="M348 165l3 1 2 1"/>
<path class="c10" d="M353 167l2 1 3 1 2 0"/>
<path class="c9" d="M360 169l3 0 2 0"/>
<path class="c8" d="M365 169l2 0 3 0 2 0"/>
<path class="c7" d="M372 169l2-1 3 0 2 0"/>
<path class="c6" d="M379 168l2 0 3-1 2-1 2-1 3 0 2-1"/>
<path class="c5" d="M393 164l2-1 3-1"/>
<path class="c6" d="M162 294l2-2 3-1 2-2 2-2"/>
<path class="c7" d="M171 287l3-2 2-2 2-2 3-2 2-2"/>
<path class="c8" d="M183 277l2-3 3-2 2-1 2-3"/>
<path class="c9" d="M192 268l3-2 2-3 2-3"/>
<path class="c10" d="M199 260l3-3 2-3"/>
<path class="c11" d="M204 254l3-3 2-3"/>
<path class="c12" d="M209 248l2-4 3-2"/>
<path class="c13" d="M214 242l2-4 2-3"/>
<path class="c14" d="M218 235l3-4"/>
<path class="c15" d="M221 231l2-6 2-3"/>
<path class="c16" d="M225 222l3-4"/>
<path class="c17" d="M228 218l2-3 2-5"/>
<path class="c18" d="M232 210l3-5"/>
<path class="c19" d="M235 205l2-3 2-2"/>
<path class="c20" d="M239 200l3-3 2 1"/>
<path class="c21" d="M244 198l3-6 2-3"/>
<path class="c22" d="M249 189l2-5 3 0 2-4"/>
<path class="c23" d="M256 180l2-4 3-1 2-4"/>
<path class="c24" d="M263 171l2 0 3-2 2-4 2-2 3-1 2 4 2-3 3-1 2-2 3-2 2 2"/>
<path class="c23" d="M289 160l2 0 3-1 2-1"/>
<path class="c22" d="M296 158l2-2 3 0 2-3"/>
<path class="c21" d="M303 153l2 4 3 0 2-1"/>
<path class="c20" d="M310 156l2 1 3 0"/>
<path class="c19" d="M315 157l2 1 2 2"/>
<path class="c18" d="M319 160l3 1 2-2"/>
<path class="c17" d="M324 159l3 2 2 0 2-1"/>
<path class="c16" d="M331 160l3 1 2-1"/>
<path class="c15" d="M336 160l2 1 3 0"/>
<path class="c14" d="M341 161l2 2 2 0"/>
<path class="c13" d="M345 163l3 1 2 0"/>
<path class="c12" d="M350 164l2 1 3 1"/>
<path class="c11" d="M355 166l2 0 2 2"/>
<path class="c10" d="M359 168l3 1 2 0"/>
<path class="c9" d="M364 169l3 0 2 0"/>
<path class="c8" d="M369 169l2 0 3 0 2 0"/>
<path class="c7" d="M376 169l2-1 3 0 2 0 2 0"/>
<path class="c6" d="M385 168l3-1 2-1 2-1 3 0 2-1 2-1"/>
<path class="c5" d="M399 163l3-1"/>
<path class="c6" d="M166 295l2-2 3-1 2-3"/>
<path class="c7" d="M173 289l2-1 3-2 2-2 2-2 3-3"/>
<path class="c8" d="M185 279l2-2 2-2 3-2 2-2"/>
<path class="c9" d="M194 271l2-2 3-3 2-3"/>
<path class="c10" d="M201 263l2-3 3-3 2-3"/>
<path class="c11" d="M208 254l3-3 2-3"/>
<path class="c12" d="M213 248l2-3 3-4"/>
<path class="c13" d="M218 241l2-3"/>
<path class="c14" d="M220 238l2-3 3-5"/>
<path class="c15" d="M225 230l2-5"/>
<path class="c16" d="M227 225l2-3 3-4"/>
<path class="c17" d="M232 218l2-3"/>
<path class="c18" d="M234 215l2-5 3-4"/>
<path class="c19" d="M239 206l2-4 2-3"/>
<path class="c20" d="M243 199l3-4 2 0"/>
<path class="c21" d="M248 195l3-5 2 0"/>
<path class="c22" d="M253 190l2-6 3-2"/>
<path class="c23" d="M258 182l2-5 2 0 3-3"/>
<path class="c24" d="M265 174l2-5 2 1 3-1 2-4 2-1 3-1 2 3 2-3 3-3 2 2 3-3 2 0 2 2"/>
<path class="c23" d="M295 161l3-2 2-1 2-1"/>
<path class="c22" d="M302 157l3-1 2-2 2 2"/>
<path class="c21" d="M309 156l3 1 2-1 2 1"/>
<path class="c20" d="M316 157l3 0 2 0"/>
<path class="c19" d="M321 157l2 2 3 2"/>
<path class="c18" d="M326 161l2-2 3 3"/>
<path class="c17" d="M331 162l2-2 2-1"/>
<path class="c16" d="M335 159l3 1 2-1 2 1"/>
<path class="c15" d="M342 160l3 0 2 2"/>
<path class="c14" d="M347 162l2 1 3 0"/>
<path class="c13" d="M352 163l2 1 2 1"/>
<path class="c12" d="M356 165l3 0 2 1"/>
<path class="c11" d="M361 166l2 2 3 0"/>
<path class="c10" d="M366 168l2 1 3 0"/>
<path class="c9" d="M371 169l2-1 2 0"/>
<path class="c8" d="M375 168l3 1 2 0 2-1"/>
<path class="c7" d="M382 168l3 0 2 0 2 0 3-1"/>
<path class="c6" d="M392 167l2-1 2-1 3 0 2-1 2-1 3-1"/>
<path class="c6" d="M170 296l2-2 3-2 2-2"/>
<path class="c7" d="M177 290l2-2 3-2 2-2 2-2 3-2"/>
<path class="c8" d="M189 280l2-2 2-2 3-3 2-2"/>
<path class="c9" d="M198 271l2-2 3-3 2-2"/>
<path class="c10" d="M205 264l2-4 3-3"/>
<path class="c11" d="M210 257l2-3 3-3"/>
<path class="c12" d="M215 251l2-3 2-3"/>
<path class="c13" d="M219 245l3-4 2-3"/>
<path class="c14" d="M224 238l2-4"/>
<path class="c15" d="M226 234l3-4 2-5"/>
<path class="c16" d="M231 225l2-4"/>
<path class="c17" d="M233 221l3-3 2-4"/>
<path class="c18" d="M238 214l2-4"/>
<path class="c19" d="M240 210l3-4 2-4"/>
<path class="c20" d="M245 202l2-4 3-2"/>
<path class="c21" d="M250 196l2 0 3-5"/>
<path class="c22" d="M255 191l2-3 2-4 3-4"/>
<path class="c23" d="M262 180l2-5 2 1"/>
<path class="c24" d="M266 176l3-3 2-4 2 1 3-2 2-2"/>
<path class="c25" d="M278 166l2-2 3-2 2 2 2-1 3-3"/>
<path class="c24" d="M290 160l2 1 3-4 2 3 2 2 3-3"/>
<path class="c23" d="M302 159l2-2 2-1 3 0"/>
<path class="c22" d="M309 156l2-2 2 1 3 1"/>
<path class="c21" d="M316 156l2 0 2 2"/>
<path class="c20" d="M320 158l3-1 2 0 2 2"/>
<path class="c19" d="M327 159l3 1 2-2"/>
<path class="c18" d="M332 158l3 3 2-3"/>
<path class="c17" d="M337 158l2 0 3 0 2 0"/>
<path class="c16" d="M344 158l2 0 3 0"/>
<path class="c15" d="M349 158l2 3 2 1"/>
<path class="c14" d="M353 162l3 0 2 0"/>
<path class="c13" d="M358 162l2 2 3 0"/>
<path class="c12" d="M363 164l2 0"/>
<path class="c11" d="M365 164l2 3 3 1"/>
<path class="c10" d="M370 168l2 0 3 1"/>
<path class="c9" d="M375 169l2-1 2 0"/>
<path class="c8" d="M379 168l3 1 2-1 2 0"/>
<path class="c7" d="M386 168l3 0 2 0 2 0 3-1 2-1"/>
<path class="c6" d="M398 166l2 0 3-2 2 0 2-1 3-1"/>
<path class="c6" d="M174 296l2-2 3-1 2-2"/>
<path class="c7" d="M181 291l2-2 3-3 2-1 2-2 3-2"/>
<path class="c8" d="M193 281l2-3 2-2 3-2 2-2"/>
<path class="c9" d="M202 272l2-3 3-3"/>
<path class="c10" d="M207 266l2-2 2-4 3-3"/>
<path class="c11" d="M214 257l2-3 3-3"/>
<path class="c12" d="M219 251l2-3 2-4"/>
<path class="c13" d="M223 244l3-3"/>
<path class="c14" d="M226 241l2-3 2-4"/>
<path class="c15" d="M230 234l3-5"/>
<path class="c16" d="M233 229l2-5 2-3"/>
<path class="c17" d="M237 221l3-4"/>
<path class="c18" d="M240 217l2-3 2-4"/>
<path class="c19" d="M244 210l3-3 2-4"/>
<path class="c20" d="M249 203l2-4 3-4"/>
<path class="c21" d="M254 195l2 1 3-5"/>
<path class="c22" d="M259 191l2-3 2-5"/>
<path class="c23" d="M263 183l3-4 2-4 2-2"/>
<path class="c24" d="M270 173l3-2 2-2 2-1 3 0"/>
<path class="c25" d="M280 168l2-2 2-2 3-2 2 2 2-2 3-3 2 1 3-3"/>
<path class="c24" d="M299 157l2 1 2 3 3-3 2-1"/>
<path class="c23" d="M308 157l2-1 3-1 2-1"/>
<path class="c22" d="M315 154l2 1 3 0 2 0"/>
<path class="c21" d="M322 155l2 2 3 0"/>
<path class="c20" d="M327 157l2-1 2 1 3 3"/>
<path class="c19" d="M334 160l2-1 3 1"/>
<path class="c18" d="M339 160l2-2 2-1"/>
<path class="c17" d="M343 157l3-1 2 1 2 0"/>
<path class="c16" d="M350 157l3 0 2 2"/>
<path class="c15" d="M355 159l2 2 3 0"/>
<path class="c14" d="M360 161l2 0 2 2"/>
<path class="c13" d="M364 163l3 1"/>
<path class="c12" d="M367 164l2-1 2 3"/>
<path class="c11" d="M371 166l3 1 2 0"/>
<path class="c10" d="M376 167l3 1 2 0"/>
<path class="c9" d="M381 168l2 0 3 1"/>
<path class="c8" d="M386 169l2-1 2 0 3 0"/>
<path class="c7" d="M393 168l2 0 2 1 3-2 2-1 2-1"/>
<path class="c6" d="M404 165l3-1 2 0 2-1 3-1"/>
<path class="c6" d="M178 297l2-2 3-1 2-2"/>
<path class="c7" d="M185 292l2-3 3-2 2-2 2-2 3-2"/>
<path class="c8" d="M197 281l2-3 2-1 3-3"/>
<path class="c9" d="M204 274l2-2 2-2 3-3"/>
<path class="c10" d="M211 267l2-2 2-4 3-3"/>
<path class="c11" d="M218 258l2-3 3-3"/>
<path class="c12" d="M223 252l2-4"/>
<path class="c13" d="M225 248l2-4 3-3"/>
<path class="c14" d="M230 241l2-3 2-4"/>
<path class="c15" d="M234 234l3-5"/>
<path class="c16" d="M237 229l2-4 2-4"/>
<path class="c17" d="M241 221l3-4"/>
<path class="c18" d="M244 217l2-2 2-4"/>
<path class="c19" d="M248 211l3-4"/>
<path class="c20" d="M251 207l2-5 2-1"/>
<path class="c21" d="M255 201l3-5 2 0"/>
<path class="c22" d="M260 196l3-4 2-4 2-5"/>
<path class="c23" d="M267 183l3-3 2-3"/>
<path class="c24" d="M272 177l2-3 3-3 2-1"/>
<path class="c25" d="M279 170l2 0 3-2 2-2 2-4 3-1 2 1 2 0 3-2 2 2 3-6 2 2 2 2"/>
<path class="c24" d="M307 160l3-1 2-1 2-3"/>
<path class="c23" d="M314 155l3-2 2 1 2 0"/>
<path class="c22" d="M321 154l3 0 2 1 2 1"/>
<path class="c21" d="M328 156l3 0 2 0"/>
<path class="c20" d="M333 156l2 0 3 4 2-2"/>
<path class="c19" d="M340 158l2 0 3-2"/>
<path class="c18" d="M345 156l2-1 3 0 2 1"/>
<path class="c17" d="M352 156l2 0 3 1"/>
<path class="c16" d="M357 157l2 1 2 1"/>
<path class="c15" d="M361 159l3 1 2 0"/>
<path class="c14" d="M366 160l2 3 3-1"/>
<path class="c13" d="M371 162l2 0"/>
<path class="c12" d="M373 162l2 2 3 2"/>
<path class="c11" d="M378 166l2 1 2 0"/>
<path class="c10" d="M382 167l3 0"/>
<path class="c9" d="M385 167l2 1 3 0 2 0"/>
<path class="c8" d="M392 168l2 0 3 0 2 0"/>
<path class="c7" d="M399 168l2 0 3-1 2-1 2-1 3-1 2 0"/>
<path class="c6" d="M413 164l2-1 3-2"/>
<path class="c6" d="M182 297l2-1 2-2 3-2"/>
<path class="c7" d="M189 292l2-2 3-2 2-2 2-2"/>
<path class="c8" d="M198 284l3-2 2-3 2-2 3-3"/>
<path class="c9" d="M208 274l2-2 2-2 3-3"/>
<path class="c10" d="M215 267l2-2 2-4"/>
<path class="c11" d="M219 261l3-3 2-4"/>
<path class="c12" d="M224 254l2-3 3-3"/>
<path class="c13" d="M229 248l2-5 3-3"/>
<path class="c14" d="M234 240l2-3"/>
<path class="c15" d="M236 237l2-3 3-6"/>
<path class="c16" d="M241 228l2-4"/>
<path class="c17" d="M243 224l2-3 3-4"/>
<path class="c18" d="M248 217l2-1"/>
<path class="c19" d="M250 216l2-5 3-4"/>
<path class="c20" d="M255 207l2-4 2-1"/>
<path class="c21" d="M259 202l3-5 2-1"/>
<path class="c22" d="M264 196l2-4 3-5"/>
<path class="c23" d="M269 187l2-5 3-2 2-2"/>
<path class="c24" d="M276 178l2-4 3-5 2 1"/>
<path class="c25" d="M283 170l2-1 3-5 2 1 2-3 3-3 2 1 2 1 3-3 2 3 2-5 3 1 2 3 3-2"/>
<path class="c24" d="M314 158l2 0 2-4 3-2 2 2"/>
<path class="c23" d="M323 154l2-2 3 1"/>
<path class="c22" d="M328 153l2 3 2 0 3 0"/>
<path class="c21" d="M335 156l2-1 2 1"/>
<path class="c20" d="M339 156l3 2 2-2 2 0"/>
<path class="c19" d="M346 156l3-2 2-1 3 1"/>
<path class="c18" d="M354 154l2-1 2 1"/>
<path class="c17" d="M358 154l3 2 2 1"/>
<path class="c16" d="M363 157l2 1 3 1"/>
<path class="c15" d="M368 159l2 0 2 1"/>
<path class="c14" d="M372 160l3 1 2 0"/>
<path class="c13" d="M377 161l2 2"/>
<path class="c12" d="M379 163l3 1 2 1"/>
<path class="c11" d="M384 165l2 1"/>
<path class="c10" d="M386 166l3 0 2 1"/>
<path class="c9" d="M391 167l3 1 2 0"/>
<path class="c8" d="M396 168l2-1 3 0 2 1 2 0"/>
<path class="c7" d="M405 168l3-1 2-1 2-1 3-1 2 0 2-2 3-1"/>
<path class="c6" d="M186 298l2-2 2-1 3-2"/>
<path class="c7" d="M193 293l2-3 3-2 2-2 2-2"/>
<path class="c8" d="M202 284l3-2 2-3 2-2 3-3"/>
<path class="c9" d="M212 274l2-2 2-3"/>
<path class="c10" d="M216 269l3-2 2-2 2-5"/>
<path class="c11" d="M223 260l3-2 2-4"/>
<path class="c12" d="M228 254l2-2 3-4"/>
<path class="c13" d="M233 248l2-5"/>
<path class="c14" d="M235 243l3-3 2-3"/>
<path class="c15" d="M240 237l2-3 3-5"/>
<path class="c16" d="M245 229l2-4"/>
<path class="c17" d="M247 225l2-3 3-5"/>
<path class="c18" d="M252 217l2-1"/>
<path class="c19" d="M254 216l2-5 3-4"/>
<path class="c20" d="M259 207l2-4 2-1"/>
<path class="c21" d="M263 202l3-4 2-1"/>
<path class="c22" d="M268 197l2-4 3-5"/>
<path class="c23" d="M273 188l2-6 3-2"/>
<path class="c24" d="M278 180l2-2 2-4 3-4"/>
<path class="c25" d="M285 170l2-1 2 0 3-3 2-1"/>
<path class="c26" d="M294 165l2-3 3-4 2 2 2 1 3-4 2 2 2-4"/>
<path class="c25" d="M310 155l3 1 2 3 3-1 2-1"/>
<path class="c24" d="M320 157l2-2 3-3 2 2 2-2"/>
<path class="c23" d="M329 152l3-1 2 4"/>
<path class="c22" d="M334 155l2-1 3 2 2-1"/>
<path class="c21" d="M341 155l2 2 3 0"/>
<path class="c20" d="M346 157l2-2 2 1 3-2"/>
<path class="c19" d="M353 154l2-3 3 1 2 0"/>
<path class="c18" d="M360 152l2 0 3 1 2 2"/>
<path class="c17" d="M367 155l2 1 3 2"/>
<path class="c16" d="M372 158l2 0"/>
<path class="c15" d="M374 158l2 1 3 1"/>
<path class="c14" d="M379 160l2 0"/>
<path class="c13" d="M381 160l2 2 3 2"/>
<path class="c12" d="M386 164l2-1"/>
<path class="c11" d="M388 163l2 2 3 1"/>
<path class="c10" d="M393 166l2 1 3 0"/>
<path class="c9" d="M398 167l2 0 2 0"/>
<path class="c8" d="M402 167l3 1 2-1 2 1 3-1"/>
<path class="c7" d="M412 167l2-2 2 0 3-1 2 0 2-2 3-1"/>
<path class="c6" d="M190 299l2-2 2-2"/>
<path class="c7" d="M194 295l3-2 2-2 3-2 2-2 2-3"/>
<path class="c8" d="M206 284l3-2 2-3 2-1"/>
<path class="c9" d="M213 278l3-3 2-3 2-3"/>
<path class="c10" d="M220 269l3-3 2-1"/>
<path class="c11" d="M225 265l2-5 3-2 2-4"/>
<path class="c12" d="M232 254l2-3"/>
<path class="c13" d="M234 251l3-3 2-5"/>
<path class="c14" d="M239 243l3-3 2-3"/>
<path class="c15" d="M244 237l2-3"/>
<path class="c16" d="M246 234l3-5 2-4"/>
<path class="c17" d="M251 225l2-4"/>
<path class="c18" d="M253 221l3-5 2-1"/>
<path class="c19" d="M258 215l2-4 3-3"/>
<path class="c20" d="M263 208l2-4"/>
<path class="c21" d="M265 204l2-3 3-4"/>
<path class="c22" d="M270 197l2-1 2-3"/>
<path class="c23" d="M274 193l3-4 2-6 3-2"/>
<path class="c24" d="M282 181l2-2 2-4"/>
<path class="c25" d="M286 175l3-4 2 0 2-3 3-4"/>
<path class="c26" d="M296 164l2 1 2-5 3-2 2 1 2 0 3-4 2 2 2-1 3 0 2 1"/>
<path class="c25" d="M319 157l3 1 2-1 2-3 3-2"/>
<path class="c24" d="M329 152l2 0 2 0 3-2"/>
<path class="c23" d="M336 150l2 6 2-2"/>
<path class="c22" d="M340 154l3 0 2 1 2 2"/>
<path class="c21" d="M347 157l3 0 2-3 2 0"/>
<path class="c20" d="M354 154l3-2 2-3 3 2"/>
<path class="c19" d="M362 151l2 0 2-1 3 2"/>
<path class="c18" d="M369 152l2 1 2 2"/>
<path class="c17" d="M373 155l3 1 2 1"/>
<path class="c16" d="M378 157l2 0"/>
<path class="c15" d="M380 157l3 0 2 1"/>
<path class="c14" d="M385 158l2 3"/>
<path class="c13" d="M387 161l3 2 2-1"/>
<path class="c12" d="M392 162l2 2"/>
<path class="c11" d="M394 164l3 1 2 1"/>
<path class="c10" d="M399 166l3 0 2 1"/>
<path class="c9" d="M404 167l2-1 3 1"/>
<path class="c8" d="M409 167l2 0 2 0 3-1 2-1 2 0"/>
<path class="c7" d="M420 165l3-1 2 0 2-2 3-1"/>
<path class="c6" d="M194 299l2-1 2-2"/>
<path class="c7" d="M198 296l3-2 2-2 3-3 2-1 2-3"/>
<path class="c8" d="M210 285l3-2 2-3 2-2"/>
<path class="c9" d="M217 278l3-3 2-2 2-3"/>
<path class="c10" d="M224 270l3-3 2-2"/>
<path class="c11" d="M229 265l2-6 3-1"/>
<path class="c12" d="M234 258l2-4 2-3"/>
<path class="c13" d="M238 251l3-3 2-3"/>
<path class="c14" d="M243 245l3-5"/>
<path class="c15" d="M246 240l2-3 2-3"/>
<path class="c16" d="M250 234l3-5 2-4"/>
<path class="c17" d="M255 225l2-3"/>
<path class="c18" d="M257 222l3-5 2-3"/>
<path class="c19" d="M262 214l2-2"/>
<path class="c20" d="M264 212l3-3 2-5"/>
<path class="c21" d="M269 204l2-3 3-4"/>
<path class="c22" d="M274 197l2-1 2-4"/>
<path class="c23" d="M278 192l3-3 2-6"/>
<path class="c24" d="M283 183l3-1 2-3 2-5"/>
<path class="c25" d="M290 174l3-4 2-1 2-2"/>
<path class="c26" d="M297 167l3-3 2-1 2-3 3 0 2-1 2-1 3-4 2 5 2-3 3-1 2 1 3 0 2 1"/>
<path class="c25" d="M328 157l2-2 3-3 2 0"/>
<path class="c24" d="M335 152l2 0 3 0"/>
<path class="c23" d="M340 152l2 3 2 0 3-1"/>
<path class="c22" d="M347 154l2 0 2 2 3 0"/>
<path class="c21" d="M354 156l2-4 2 0 3-3 2-1"/>
<path class="c20" d="M363 148l3 1 2 1 2-2"/>
<path class="c19" d="M370 148l3 1 2 2"/>
<path class="c18" d="M375 151l2 2 3 1"/>
<path class="c17" d="M380 154l2 1 2 0"/>
<path class="c16" d="M384 155l3 0"/>
<path class="c15" d="M387 155l2 1 2 4"/>
<path class="c14" d="M391 160l3 1"/>
<path class="c13" d="M394 161l2-1"/>
<path class="c12" d="M396 160l2 2 3 1"/>
<path class="c11" d="M401 163l2 2"/>
<path class="c10" d="M403 165l3 1 2 0 2-1"/>
<path class="c9" d="M410 165l3 2 2 0"/>
<path class="c8" d="M415 167l2-1 3 0 2-1 2-1 3-1 2 1 2-2"/>
<path class="c7" d="M431 162l3-1"/>
<path class="c6" d="M198 300l2-1 2-2"/>
<path class="c7" d="M202 297l3-3 2-1 3-3 2-2"/>
<path class="c8" d="M212 288l2-3 3-2 2-3 2-2"/>
<path class="c9" d="M221 278l3-3 2-2"/>
<path class="c10" d="M226 273l2-3 3-4 2-2"/>
<path class="c11" d="M233 264l2-5 3-1"/>
<path class="c12" d="M238 258l2-4 2-3"/>
<path class="c13" d="M242 251l3-3 2-2"/>
<path class="c14" d="M247 246l3-5"/>
<path class="c15" d="M250 241l2-3 2-4"/>
<path class="c16" d="M254 234l3-5"/>
<path class="c17" d="M257 229l2-3 2-3"/>
<path class="c18" d="M261 223l3-5"/>
<path class="c19" d="M264 218l2-4 2-3"/>
<path class="c20" d="M268 211l3-3 2-4"/>
<path class="c21" d="M273 204l2-2 3-4"/>
<path class="c22" d="M278 198l2-2 2-5"/>
<path class="c23" d="M282 191l3-3 2-3"/>
<path class="c24" d="M287 185l2-2 3-2"/>
<path class="c25" d="M292 181l2-5 3-6 2 2"/>
<path class="c26" d="M299 172l2-6 3 1 2-4 2-3 3 0 2-3"/>
<path class="c27" d="M313 157l2 0 3 0 2 1"/>
<path class="c26" d="M320 158l2-2 3 1 2-1 2 1 3-3 2-1"/>
<path class="c25" d="M334 153l3-1 2 0 2 0"/>
<path class="c24" d="M341 152l3-2 2 4"/>
<path class="c23" d="M346 154l2-1 3 0 2-1"/>
<path class="c22" d="M353 152l2 3 3-1 2-4 2 0 3-2"/>
<path class="c21" d="M365 148l2-2 2 1 3 1"/>
<path class="c20" d="M372 148l2-2 3 1 2 3"/>
<path class="c19" d="M379 150l2 2 3 1"/>
<path class="c18" d="M384 153l2 0"/>
<path class="c17" d="M386 153l2 0 3 0"/>
<path class="c16" d="M391 153l2 1"/>
<path class="c15" d="M393 154l2 4 3 1"/>
<path class="c14" d="M398 159l2 0"/>
<path class="c13" d="M400 159l2 2"/>
<path class="c12" d="M402 161l3 1 2 2"/>
<path class="c11" d="M407 164l2 0"/>
<path class="c10" d="M409 164l3 1 2 0 3 1"/>
<path class="c9" d="M417 166l2 0 2 0 3 0"/>
<path class="c8" d="M424 166l2-1 2-1 3-1 2 0 2-1 3-1"/>
<path class="c6" d="M202 301l2-2 2-2"/>
<path class="c7" d="M206 297l3-2 2-2 2-2 3-2"/>
<path class="c8" d="M216 289l2-3 3-2 2-4"/>
<path class="c9" d="M223 280l2-2 3-2 2-3"/>
<path class="c10" d="M230 273l2-3 3-4 2-1"/>
<path class="c11" d="M237 265l2-6 3-1"/>
<path class="c12" d="M242 258l2-3 2-4"/>
<path class="c13" d="M246 251l3-2"/>
<path class="c14" d="M249 249l2-3 2-4"/>
<path class="c15" d="M253 242l3-3 2-4"/>
<path class="c16" d="M258 235l3-6"/>
<path class="c17" d="M261 229l2-3 2-2"/>
<path class="c18" d="M265 224l3-6"/>
<path class="c19" d="M268 218l2-4 2-3"/>
<path class="c20" d="M272 211l3-3 2-4"/>
<path class="c21" d="M277 204l2-2"/>
<path class="c22" d="M279 202l3-3 2-2"/>
<path class="c23" d="M284 197l2-4 3-5 2-3"/>
<path class="c24" d="M291 185l2-2 3-2"/>
<path class="c25" d="M296 181l2-5 3-4 2 1"/>
<path class="c26" d="M303 173l2-5 3-3 2-4 2-1"/>
<path class="c27" d="M312 160l3 0 2-2 2 0 3-2 2 2 2-1 3 2 2-3"/>
<path class="c26" d="M331 156l2 0 3-3 2-1 3-2"/>
<path class="c25" d="M341 150l2 0 2 2 3-1"/>
<path class="c24" d="M348 151l2 2 2-1"/>
<path class="c23" d="M352 152l3-1 2-1 2 3 3-1"/>
<path class="c22" d="M362 152l2-4 2 1 3-2 2-2 2 1"/>
<path class="c21" d="M373 146l3 1 2-4 3 2"/>
<path class="c20" d="M381 145l2 3 2 1"/>
<path class="c19" d="M385 149l3 1 2 2"/>
<path class="c18" d="M390 152l2-1"/>
<path class="c17" d="M392 151l3-1 2 2"/>
<path class="c16" d="M397 152l2 4"/>
<path class="c15" d="M399 156l3 1 2 0"/>
<path class="c14" d="M404 157l2 2"/>
<path class="c13" d="M406 159l3 1"/>
<path class="c12" d="M409 160l2 2 2 1"/>
<path class="c11" d="M413 163l3 1"/>
<path class="c10" d="M416 164l2 0 3 2 2 0"/>
<path class="c9" d="M423 166l2-1 3 1 2-1"/>
<path class="c8" d="M430 165l2-1 3-1 2 0 2-1 3-1"/>
<path class="c6" d="M206 302l2-2"/>
<path class="c7" d="M208 300l2-2 3-3 2-1 2-3 3-2"/>
<path class="c8" d="M220 289l2-3 3-2 2-3"/>
<path class="c9" d="M227 281l2-2 3-3 2-3"/>
<path class="c10" d="M234 273l2-3 3-3"/>
<path class="c11" d="M239 267l2-2 2-6"/>
<path class="c12" d="M243 259l3-1 2-3"/>
<path class="c13" d="M248 255l2-4 3-3"/>
<path class="c14" d="M253 248l2-2 2-4"/>
<path class="c15" d="M257 242l3-3"/>
<path class="c16" d="M260 239l2-5 3-4"/>
<path class="c17" d="M265 230l2-3 2-3"/>
<path class="c18" d="M269 224l3-5"/>
<path class="c19" d="M272 219l2-6 2-1"/>
<path class="c20" d="M276 212l3-3"/>
<path class="c21" d="M279 209l2-4 2-3"/>
<path class="c22" d="M283 202l3-2 2-3"/>
<path class="c23" d="M288 197l2-3 3-4"/>
<path class="c24" d="M293 190l2-3 2-5 3-1"/>
<path class="c25" d="M300 181l2-4 3-4"/>
<path class="c26" d="M305 173l2-1 2-5 3-2 2-1"/>
<path class="c27" d="M314 164l2-2 3-2 2-2 2 2 3-7 2 3 2-1 3 1 2-3 2 3 3-1"/>
<path class="c26" d="M340 155l2-3 3-3 2-1 2 2"/>
<path class="c25" d="M349 150l3 0 2 1"/>
<path class="c24" d="M354 151l2-2 3 1 2-1"/>
<path class="c23" d="M361 149l2 4 3-3 2-4 2 2 3-1 2-3"/>
<path class="c22" d="M375 144l2 1 3 1 2-4"/>
<path class="c21" d="M382 142l3 2 2 1"/>
<path class="c20" d="M387 145l2 4 3-1"/>
<path class="c19" d="M392 148l2 2 2-2"/>
<path class="c18" d="M396 148l3 0 2 1"/>
<path class="c17" d="M401 149l2 4"/>
<path class="c16" d="M403 153l3 1 2 0"/>
<path class="c15" d="M408 154l2 4"/>
<path class="c14" d="M410 158l3 1"/>
<path class="c13" d="M413 159l2 2"/>
<path class="c12" d="M415 161l2 0 3 2"/>
<path class="c11" d="M420 163l2 0"/>
<path class="c10" d="M422 163l3 2 2 0 2 0"/>
<path class="c9" d="M429 165l3 1 2-1 2-1 3-1 2 0"/>
<path class="c8" d="M441 163l2-2 3 0"/>
<path class="c6" d="M210 302l2-2"/>
<path class="c7" d="M212 300l2-2 3-2 2-2 2-2 3-3"/>
<path class="c8" d="M224 289l2-2 3-2 2-4"/>
<path class="c9" d="M231 281l2-2 3-2 2-3"/>
<path class="c10" d="M238 274l2-3 3-4"/>
<path class="c11" d="M243 267l2-2 2-5"/>
<path class="c12" d="M247 260l3-1 2-4"/>
<path class="c13" d="M252 255l2-4 3-3"/>
<path class="c14" d="M257 248l2-2 2-4"/>
<path class="c15" d="M261 242l3-4"/>
<path class="c16" d="M264 238l2-4 3-4"/>
<path class="c17" d="M269 230l2-2"/>
<path class="c18" d="M271 228l2-3 3-6"/>
<path class="c19" d="M276 219l2-6 2-2"/>
<path class="c20" d="M280 211l3-2"/>
<path class="c21" d="M283 209l2-4 2-3"/>
<path class="c22" d="M287 202l3-1 2-4"/>
<path class="c23" d="M292 197l2-3 3-6"/>
<path class="c24" d="M297 188l2-1 2-4"/>
<path class="c25" d="M301 183l3 0 2-4 3-5"/>
<path class="c26" d="M309 174l2-1 2-6 3-1"/>
<path class="c27" d="M316 166l2-2 2-1 3-4 2-1 2 1 3-6 2 3 2-2 3 1 2-3 2 1 3 1 2-3 3-1"/>
<path class="c26" d="M349 150l2-3 2 2 3-1"/>
<path class="c25" d="M356 148l2 0 2 0"/>
<path class="c24" d="M360 148l3 0 2-1 2 3 3-2 2-2"/>
<path class="c23" d="M372 146l2 0 3 0 2-3 2 2 3 0 2-4"/>
<path class="c22" d="M386 141l3 1 2 3"/>
<path class="c21" d="M391 145l2 2 3 0"/>
<path class="c20" d="M396 147l2 2"/>
<path class="c19" d="M398 149l2-3 3 1"/>
<path class="c18" d="M403 147l2 1 2 4"/>
<path class="c17" d="M407 152l3 0"/>
<path class="c16" d="M410 152l2 1 2 2"/>
<path class="c15" d="M414 155l3 1"/>
<path class="c14" d="M417 156l2 2"/>
<path class="c13" d="M419 158l2 2"/>
<path class="c12" d="M421 160l3 1 2 1"/>
<path class="c11" d="M426 162l3 2"/>
<path class="c10" d="M429 164l2 0 2 0 3 0"/>
<path class="c9" d="M436 164l2 0 2-1 3-1 2 0 2-1 3 0"/>
<path class="c6" d="M214 303l2-2"/>
<path class="c7" d="M216 301l2-2 3-2 2-3 2-2"/>
<path class="c8" d="M225 292l3-2 2-3 3-1 2-4"/>
<path class="c9" d="M235 282l2-2 3-3 2-3"/>
<path class="c10" d="M242 274l2-3 3-3"/>
<path class="c11" d="M247 268l2-3 2-5"/>
<path class="c12" d="M251 260l3-2 2-3"/>
<path class="c13" d="M256 255l2-4 3-2"/>
<path class="c14" d="M261 249l2-4"/>
<path class="c15" d="M263 245l2-3 3-3"/>
<path class="c16" d="M268 239l2-5 3-5"/>
<path class="c17" d="M273 229l2-2"/>
<path class="c18" d="M275 227l2-2 3-4"/>
<path class="c19" d="M280 221l2-7"/>
<path class="c20" d="M282 214l2-3 3-2"/>
<path class="c21" d="M287 209l2-4 2-3"/>
<path class="c22" d="M291 202l3 0 2-7"/>
<path class="c23" d="M296 195l2 0 3-8"/>
<path class="c24" d="M301 187l2 0 2-3"/>
<path class="c25" d="M305 184l3-3 2-2"/>
<path class="c26" d="M310 179l3-4 2-2 2-5"/>
<path class="c27" d="M317 168l3-1 2-3 2 0 3-4 2 1"/>
<path class="c28" d="M329 161l2-1 3-5 2 1 2-1 3-1 2-2 2-1"/>
<path class="c27" d="M345 151l3 3 2-5 3 0 2-3 2 2"/>
<path class="c26" d="M357 148l3-3 2 2"/>
<path class="c25" d="M362 147l2 1 3-2 2-3 2 4"/>
<path class="c24" d="M371 147l3-2 2-1 2 0 3 0 2-4 2 5"/>
<path class="c23" d="M385 145l3-2 2-4 3 2"/>
<path class="c22" d="M393 141l2 3 2 2"/>
<path class="c21" d="M397 146l3-1 2 3"/>
<path class="c20" d="M402 148l2-3"/>
<path class="c19" d="M404 145l3 1 2 0"/>
<path class="c18" d="M409 146l2 4 3 0"/>
<path class="c17" d="M414 150l2 0"/>
<path class="c16" d="M416 150l2 3 3 2"/>
<path class="c15" d="M421 155l2 2"/>
<path class="c14" d="M423 157l2 2"/>
<path class="c13" d="M425 159l3 0"/>
<path class="c12" d="M428 159l2 2"/>
<path class="c11" d="M430 161l3 2 2 0"/>
<path class="c10" d="M435 163l2 1 3 0 2 0"/>
<path class="c9" d="M442 164l2-1 3-1 2-1 2 0 3 0"/>
<path class="c6" d="M218 303l2-2"/>
<path class="c7" d="M220 301l2-2 3-2 2-2 2-2"/>
<path class="c8" d="M229 293l3-3 2-2 2-2 3-3"/>
<path class="c9" d="M239 283l2-3 3-2"/>
<path class="c10" d="M244 278l2-4 2-3 3-3"/>
<path class="c11" d="M251 268l2-3 2-4"/>
<path class="c12" d="M255 261l3-2 2-3"/>
<path class="c13" d="M260 256l2-4 3-3"/>
<path class="c14" d="M265 249l2-3"/>
<path class="c15" d="M267 246l2-4 3-4"/>
<path class="c16" d="M272 238l2-3"/>
<path class="c17" d="M274 235l2-5 3-3"/>
<path class="c18" d="M279 227l2-2 3-4"/>
<path class="c19" d="M284 221l2-6"/>
<path class="c20" d="M286 215l2-3 3-3"/>
<path class="c21" d="M291 209l2-3 2-4"/>
<path class="c22" d="M295 202l3 0 2-8"/>
<path class="c23" d="M300 194l2-1 3-5"/>
<path class="c24" d="M305 188l2 0 2-4"/>
<path class="c25" d="M309 184l3-3 2-2"/>
<path class="c26" d="M314 179l2-5 3-3 2-3"/>
<path class="c27" d="M321 168l3-1 2-1 2-2"/>
<path class="c28" d="M328 164l3-4 2 1 2 0 3-5 2 1 2-3 3-1 2-1 2 1 3 3 2-7"/>
<path class="c27" d="M354 149l2-1 3-2 2 0 3-1"/>
<path class="c26" d="M364 145l2-1 2 0 3-1"/>
<path class="c25" d="M371 143l2-1 2 4 3-1 2-1 2 0"/>
<path class="c24" d="M382 144l3 1 2-5 2 2 3 2 2-5"/>
<path class="c23" d="M394 139l2 3 3 1"/>
<path class="c22" d="M399 143l2 2 3 0"/>
<path class="c21" d="M404 145l2 2"/>
<path class="c20" d="M406 147l2-3 3 1"/>
<path class="c19" d="M411 145l2 0 2 4"/>
<path class="c18" d="M415 149l3 1 2-2"/>
<path class="c17" d="M420 148l2 4"/>
<path class="c16" d="M422 152l3 1"/>
<path class="c15" d="M425 153l2 2"/>
<path class="c14" d="M427 155l2 3 3 0"/>
<path class="c13" d="M432 158l2 2"/>
<path class="c12" d="M434 160l2 2"/>
<path class="c11" d="M436 162l3 1 2 0"/>
<path class="c10" d="M441 163l3 1 2 0 2-2 3 0"/>
<path class="c9" d="M451 162l2-1 2-1 3 0"/>
<path class="c7" d="M222 304l2-2 2-2 3-2 2-3 2-2"/>
<path class="c8" d="M233 293l3-2 2-2 2-3 3-3"/>
<path class="c9" d="M243 283l2-1 3-4"/>
<path class="c10" d="M248 278l2-3 2-3 3-4"/>
<path class="c11" d="M255 268l2-2 2-4"/>
<path class="c12" d="M259 262l3-2 2-4"/>
<path class="c13" d="M264 256l2-4"/>
<path class="c14" d="M266 252l3-3 2-4"/>
<path class="c15" d="M271 245l2-3 3-3"/>
<path class="c16" d="M276 239l2-4"/>
<path class="c17" d="M278 235l2-5 3-2"/>
<path class="c18" d="M283 228l2-2 3-5"/>
<path class="c19" d="M288 221l2-5"/>
<path class="c20" d="M290 216l2-3 3-3"/>
<path class="c21" d="M295 210l2-4 2-4"/>
<path class="c22" d="M299 202l3-1 2-5"/>
<path class="c23" d="M304 196l2-2 3-7"/>
<path class="c24" d="M309 187l2 0 2-4"/>
<path class="c25" d="M313 183l3-1 2-4"/>
<path class="c26" d="M318 178l2-3 3-5"/>
<path class="c27" d="M323 170l2-4 3 0 2-3 2 0"/>
<path class="c28" d="M332 163l3-2 2 0 2-2 3-3 2 2 2-6 3 1 2-4 2 1 3 5 2-7 2-4"/>
<path class="c27" d="M360 144l3 0 2 0 3-1 2-2 2 0"/>
<path class="c26" d="M372 141l3 1 2 0 2 2"/>
<path class="c25" d="M379 144l3 1 2-2 2 1 3 0 2-3"/>
<path class="c24" d="M391 141l2 1 3 2 2-4 2 2"/>
<path class="c23" d="M400 142l3 1 2 2"/>
<path class="c22" d="M405 145l3-1"/>
<path class="c21" d="M408 144l2 2 2-2"/>
<path class="c20" d="M412 144l3 1 2 0"/>
<path class="c19" d="M417 145l2 3 3 0"/>
<path class="c18" d="M422 148l2-1 2 3"/>
<path class="c17" d="M426 150l3 2"/>
<path class="c16" d="M429 152l2 3"/>
<path class="c15" d="M431 155l2 2"/>
<path class="c14" d="M433 157l3-1"/>
<path class="c13" d="M436 156l2 3"/>
<path class="c12" d="M438 159l2 2 3 0"/>
<path class="c11" d="M443 161l2 2 3 0"/>
<path class="c10" d="M448 163l2 0 2-1 3-1 2-1 2 0"/>
<path class="c9" d="M459 160l3 0"/>
<path class="c7" d="M226 305l2-3 2-1 3-3 2-2 2-2"/>
<path class="c8" d="M237 294l3-2 2-3 2-2"/>
<path class="c9" d="M244 287l3-3 2-1 3-4"/>
<path class="c10" d="M252 279l2-3 2-4 3-3"/>
<path class="c11" d="M259 269l2-3 2-3"/>
<path class="c12" d="M263 263l3-2 2-4"/>
<path class="c13" d="M268 257l2-4"/>
<path class="c14" d="M270 253l3-4 2-4"/>
<path class="c15" d="M275 245l2-2 3-4"/>
<path class="c16" d="M280 239l2-4"/>
<path class="c17" d="M282 235l2-4 3-2"/>
<path class="c18" d="M287 229l2-3"/>
<path class="c19" d="M289 226l3-5 2-4"/>
<path class="c20" d="M294 217l2-3 3-4"/>
<path class="c21" d="M299 210l2-3 2-4"/>
<path class="c22" d="M303 203l3-1 2-6"/>
<path class="c23" d="M308 196l2-3 3-5"/>
<path class="c24" d="M313 188l2 0 2-4"/>
<path class="c25" d="M317 184l3-3 2-2"/>
<path class="c26" d="M322 179l2-2 3-6"/>
<path class="c27" d="M327 171l2-5 3 0 2-2"/>
<path class="c28" d="M334 164l2-3 3 0 2 0 2-2"/>
<path class="c29" d="M343 159l3-4 2 3 2-7 3 4 2-5"/>
<path class="c28" d="M355 150l2 0 3 1 2-1 2-3 3-4 2 1 3-3"/>
<path class="c27" d="M372 141l2-1 2 0 3-1 2 1"/>
<path class="c26" d="M381 140l2 3 3 1 2-1 2 1"/>
<path class="c25" d="M390 144l3 1 2-3 2 1 3-1"/>
<path class="c24" d="M400 142l2-2 2 2"/>
<path class="c23" d="M404 142l3 0 2 2"/>
<path class="c22" d="M409 144l3-1 2 1"/>
<path class="c21" d="M414 144l2 0 3 0"/>
<path class="c20" d="M419 144l2 0 2 3"/>
<path class="c19" d="M423 147l3 0 2-1"/>
<path class="c18" d="M428 146l2 3"/>
<path class="c17" d="M430 149l3 1"/>
<path class="c16" d="M433 150l2 3 2 4"/>
<path class="c15" d="M437 157l3-2"/>
<path class="c14" d="M440 155l2 2"/>
<path class="c13" d="M442 157l2 2"/>
<path class="c12" d="M444 159l3 1 2 2"/>
<path class="c11" d="M449 162l3 0 2 0"/>
<path class="c10" d="M454 162l2-1 3 0 2-1 2 0 3 0"/>
<path class="c7" d="M230 305l2-2 2-2 3-2 2-2 2-2"/>
<path class="c8" d="M241 295l3-2 2-3 2-2"/>
<path class="c9" d="M248 288l3-3 2-2 3-4"/>
<path class="c10" d="M256 279l2-3 2-3 3-3"/>
<path class="c11" d="M263 270l2-3 2-4"/>
<path class="c12" d="M267 263l3-1 2-5"/>
<path class="c13" d="M272 257l2-4"/>
<path class="c14" d="M274 253l3-3 2-4"/>
<path class="c15" d="M279 246l2-2 3-4"/>
<path class="c16" d="M284 240l2-5"/>
<path class="c17" d="M286 235l2-4 3-2"/>
<path class="c18" d="M291 229l2-2"/>
<path class="c19" d="M293 227l3-6 2-3"/>
<path class="c20" d="M298 218l2-4 3-4"/>
<path class="c21" d="M303 210l2-3 2-3"/>
<path class="c22" d="M307 204l3-1"/>
<path class="c23" d="M310 203l2-6 2-4"/>
<path class="c24" d="M314 193l3-4 2 0"/>
<path class="c25" d="M319 189l2-4 3-5 2 1"/>
<path class="c26" d="M326 181l2-2 3-7"/>
<path class="c27" d="M331 172l2-4 3-3 2-1"/>
<path class="c28" d="M338 164l2-2 3 1 2 0"/>
<path class="c29" d="M345 163l2-4 3-5 2 3 2-5 3 4 2-6 2 0 3 1"/>
<path class="c28" d="M364 151l2-3 2-2 3-1 2-1 3-2 2-2 2-1"/>
<path class="c27" d="M380 139l3-3 2 3 2 2 3 2"/>
<path class="c26" d="M390 143l2 0 2 1 3 0 2-4"/>
<path class="c25" d="M399 140l2 1 3 1 2-3"/>
<path class="c24" d="M406 139l2 3 3-1"/>
<path class="c23" d="M411 141l2 2 3 0"/>
<path class="c22" d="M416 143l2 0 2-1"/>
<path class="c21" d="M420 142l3 2 2 0"/>
<path class="c20" d="M425 144l2 2 3 0"/>
<path class="c19" d="M430 146l2 0"/>
<path class="c18" d="M432 146l2 2 3 1"/>
<path class="c17" d="M437 149l2 4"/>
<path class="c16" d="M439 153l2 3"/>
<path class="c15" d="M441 156l3-2"/>
<path class="c14" d="M444 154l2 1 2 3"/>
<path class="c13" d="M448 158l3 0"/>
<path class="c12" d="M451 158l2 2 3 0"/>
<path class="c11" d="M456 160l2 1 2 0 3-1"/>
<path class="c10" d="M463 160l2-1 2 0 3 1"/>
<path class="c7" d="M234 306l2-2 2-3 3-2 2-2 2-2"/>
<path class="c8" d="M245 295l3-2 2-2 2-3"/>
<path class="c9" d="M252 288l3-3 2-2 3-3"/>
<path class="c10" d="M260 280l2-3 2-3 3-3"/>
<path class="c11" d="M267 271l2-3 2-4"/>
<path class="c12" d="M271 264l3-1 2-5"/>
<path class="c13" d="M276 258l2-4"/>
<path class="c14" d="M278 254l3-5 2-3"/>
<path class="c15" d="M283 246l2-1 3-5"/>
<path class="c16" d="M288 240l2-5"/>
<path class="c17" d="M290 235l2-3 3-2"/>
<path class="c18" d="M295 230l2-2"/>
<path class="c19" d="M297 228l3-6 2-2"/>
<path class="c20" d="M302 220l2-6 3-4"/>
<path class="c21" d="M307 210l2-2"/>
<path class="c22" d="M309 208l2-5 3-1"/>
<path class="c23" d="M314 202l2-4 2-5"/>
<path class="c24" d="M318 193l3-3 2 0"/>
<path class="c25" d="M323 190l2-1 3-7"/>
<path class="c26" d="M328 182l2 0 2-2 3-5"/>
<path class="c27" d="M335 175l2-3 3-2"/>
<path class="c28" d="M340 170l2-5 2-3 3-2"/>
<path class="c29" d="M347 160l2 2 2-2 3-7 2 2 2-6 3 8 2-5 2-2 3-2 2-3 2 2"/>
<path class="c28" d="M372 147l3-3 2-2 3-2 2-3 2 1 3-4 2 3 2 2"/>
<path class="c27" d="M391 139l3 3 2-1 2-1"/>
<path class="c26" d="M398 140l3 0 2-2 2 0"/>
<path class="c25" d="M405 138l3 1 2 0 2 0"/>
<path class="c24" d="M412 139l3 0 2 3"/>
<path class="c23" d="M417 142l2-1 3 1"/>
<path class="c22" d="M422 142l2-1 3 2"/>
<path class="c21" d="M427 143l2 1 2 2"/>
<path class="c20" d="M431 146l3 0"/>
<path class="c19" d="M434 146l2-1 2 4"/>
<path class="c18" d="M438 149l3 0"/>
<path class="c17" d="M441 149l2 3"/>
<path class="c16" d="M443 152l2 3 3-3"/>
<path class="c15" d="M448 152l2 2"/>
<path class="c14" d="M450 154l2 2"/>
<path class="c13" d="M452 156l3 0 2 3"/>
<path class="c12" d="M457 159l2 0 3 1"/>
<path class="c11" d="M462 160l2 0 3-1 2 0"/>
<path class="c10" d="M469 159l2-1 3 1"/>
<path class="c7" d="M238 307l2-3 2-2 3-2 2-2"/>
<path class="c8" d="M247 298l2-2 3-2 2-2 2-3"/>
<path class="c9" d="M256 289l3-3 2-3 2-2"/>
<path class="c10" d="M263 281l3-3 2-4"/>
<path class="c11" d="M268 274l3-3 2-2 2-3"/>
<path class="c12" d="M275 266l3-2"/>
<path class="c13" d="M278 264l2-5 2-4"/>
<path class="c14" d="M282 255l3-5 2-4"/>
<path class="c15" d="M287 246l2-2"/>
<path class="c16" d="M289 244l3-2 2-7"/>
<path class="c17" d="M294 235l2-1 3-3"/>
<path class="c18" d="M299 231l2-3"/>
<path class="c19" d="M301 228l2-5 3-2"/>
<path class="c20" d="M306 221l2-5 3-5"/>
<path class="c21" d="M311 211l2-3"/>
<path class="c22" d="M313 208l2-4 3-1"/>
<path class="c23" d="M318 203l2-4 2-5"/>
<path class="c24" d="M322 194l3-2 2-2"/>
<path class="c25" d="M327 190l2 1 3-6"/>
<path class="c26" d="M332 185l2-2 2-5 3-3"/>
<path class="c27" d="M339 175l2-2 2-1"/>
<path class="c28" d="M343 172l3-4 2-6 3-3"/>
<path class="c29" d="M351 159l2 2 2-4 3-1 2 3 2-10"/>
<path class="c30" d="M362 149l3 6"/>
<path class="c29" d="M365 155l2-6 2-1 3-2 2-1 2 2 3-5 2 0 2-4 3-1 2 0 3-4 2 1"/>
<path class="c28" d="M393 134l2-1 3 7 2-2"/>
<path class="c27" d="M400 138l2-1 3 1 2-1"/>
<path class="c26" d="M407 137l2-1 3 1 2 2"/>
<path class="c25" d="M414 139l2-2 3-1"/>
<path class="c24" d="M419 136l2 2 2 2"/>
<path class="c23" d="M423 140l3 0 2 0"/>
<path class="c22" d="M428 140l3 2 2 0"/>
<path class="c21" d="M433 142l2 3"/>
<path class="c20" d="M435 145l3-1 2 0"/>
<path class="c19" d="M440 144l2 4"/>
<path class="c18" d="M442 148l3 0 2 3"/>
<path class="c17" d="M447 151l2 3"/>
<path class="c16" d="M449 154l3-3"/>
<path class="c15" d="M452 151l2 2 2 2"/>
<path class="c14" d="M456 155l3 0"/>
<path class="c13" d="M459 155l2 2 2 1"/>
<path class="c12" d="M463 158l3 1 2 0"/>
<path class="c11" d="M468 159l3 0 2 0 2-1"/>
<path class="c10" d="M475 158l3 1"/>
<path class="c7" d="M242 307l2-2 2-3 3-2 2-2"/>
<path class="c8" d="M251 298l2-1 3-2 2-3 2-3"/>
<path class="c9" d="M260 289l3-2 2-3 2-2"/>
<path class="c10" d="M267 282l3-3 2-4"/>
<path class="c11" d="M272 275l3-2 2-3 2-4"/>
<path class="c12" d="M279 266l3-2"/>
<path class="c13" d="M282 264l2-4 2-3"/>
<path class="c14" d="M286 257l3-6 2-4"/>
<path class="c15" d="M291 247l2-2"/>
<path class="c16" d="M293 245l3-2 2-6"/>
<path class="c17" d="M298 237l2-3 3-3"/>
<path class="c18" d="M303 231l2-2"/>
<path class="c19" d="M305 229l2-5 3-3"/>
<path class="c20" d="M310 221l2-5 3-5"/>
<path class="c21" d="M315 211l2-1"/>
<path class="c22" d="M317 210l2-4 3-2"/>
<path class="c23" d="M322 204l2-5 2-5"/>
<path class="c24" d="M326 194l3 0 2-2"/>
<path class="c25" d="M331 192l2 0 3-4"/>
<path class="c26" d="M336 188l2-2 2-4 3-5"/>
<path class="c27" d="M343 177l2-2 2-2"/>
<path class="c28" d="M347 173l3-7 2-5 3-2"/>
<path class="c29" d="M355 159l2 2 2-6 3-1"/>
<path class="c30" d="M362 154l2 2 2-5 3 3 2-6 2 1 3-4"/>
<path class="c29" d="M376 145l2 0 2 1 3-4 2-2 2-2 3-3"/>
<path class="c30" d="M390 135l2-1 3-5"/>
<path class="c29" d="M395 129l2 2 2 0 3 6 2 0"/>
<path class="c28" d="M404 137l2-3 3 1"/>
<path class="c27" d="M409 135l2-2 2 0 3 4"/>
<path class="c26" d="M416 137l2 2 2-2 3-1"/>
<path class="c25" d="M423 136l2-1"/>
<path class="c24" d="M425 135l2 4 3 0"/>
<path class="c23" d="M430 139l2-1 3 3"/>
<path class="c22" d="M435 141l2 1"/>
<path class="c21" d="M437 142l2 3 3-1"/>
<path class="c20" d="M442 144l2 0"/>
<path class="c19" d="M444 144l2 2 3 1"/>
<path class="c18" d="M449 147l2 4"/>
<path class="c17" d="M451 151l2 2 3-3"/>
<path class="c16" d="M456 150l2 1"/>
<path class="c15" d="M458 151l2 4 3-2"/>
<path class="c14" d="M463 153l2 4"/>
<path class="c13" d="M465 157l2 0 3 1"/>
<path class="c12" d="M470 158l2 0 3 0"/>
<path class="c11" d="M475 158l2 1 2-1 3 1"/>
<path class="c7" d="M246 308l2-2 2-3 3-2 2-2"/>
<path class="c8" d="M255 299l2-2 3-2 2-2 2-3"/>
<path class="c9" d="M264 290l3-3 2-2 2-3"/>
<path class="c10" d="M271 282l3-2 2-4"/>
<path class="c11" d="M276 276l3-2 2-3 2-4"/>
<path class="c12" d="M283 267l3-2"/>
<path class="c13" d="M286 265l2-4 2-3"/>
<path class="c14" d="M290 258l3-7 2-2"/>
<path class="c15" d="M295 249l2-2"/>
<path class="c16" d="M297 247l3-3 2-6"/>
<path class="c17" d="M302 238l2-3 3-5"/>
<path class="c18" d="M307 230l2-1"/>
<path class="c19" d="M309 229l2-4 3-4"/>
<path class="c20" d="M314 221l2-4 3-5"/>
<path class="c21" d="M319 212l2-1"/>
<path class="c22" d="M321 211l2-4 3-2"/>
<path class="c23" d="M326 205l2-5 2-4"/>
<path class="c24" d="M330 196l3-1 2-4"/>
<path class="c25" d="M335 191l2 3 3-7 2-2"/>
<path class="c26" d="M342 185l2-1 3-6"/>
<path class="c27" d="M347 178l2-3 2-1"/>
<path class="c28" d="M351 174l3-6 2-8"/>
<path class="c29" d="M356 160l3 0 2-1 2-3"/>
<path class="c30" d="M363 156l3-2 2 4 2-8 3 2 2-8 2 3 3-3 2 4 2-1 3-5 2-3 2-5 3 1 2 0 3-4 2-3 2 3 3 2"/>
<path class="c29" d="M406 133l2 0 2-1 3 0"/>
<path class="c28" d="M413 132l2-2 2-1 3 4"/>
<path class="c27" d="M420 133l2 1 2-3"/>
<path class="c26" d="M424 131l3 1 2 0"/>
<path class="c25" d="M429 132l2 4 3 0"/>
<path class="c24" d="M434 136l2 0"/>
<path class="c23" d="M436 136l3 2"/>
<path class="c22" d="M439 138l2 4 2 3"/>
<path class="c21" d="M443 145l3 0"/>
<path class="c20" d="M446 145l2 0"/>
<path class="c19" d="M448 145l2 2 3 0"/>
<path class="c18" d="M453 147l2 3 2 1"/>
<path class="c17" d="M457 151l3-2 2 0"/>
<path class="c16" d="M462 149l2 4"/>
<path class="c15" d="M464 153l3 0"/>
<path class="c14" d="M467 153l2 3 2 0"/>
<path class="c13" d="M471 156l3 2 2 0"/>
<path class="c12" d="M476 158l3 0 2 1"/>
<path class="c11" d="M481 159l2-1 3 1"/>
<path class="c7" d="M250 308l2-2 2-2 3-2 2-3"/>
<path class="c8" d="M259 299l2-1 3-2 2-3 2-2"/>
<path class="c9" d="M268 291l3-3 2-3 2-2"/>
<path class="c10" d="M275 283l3-2 2-3"/>
<path class="c11" d="M280 278l3-4 2-2 2-3"/>
<path class="c12" d="M287 269l3-3 2-3"/>
<path class="c13" d="M292 263l2-5"/>
<path class="c14" d="M294 258l3-5 2-3"/>
<path class="c15" d="M299 250l2-2"/>
<path class="c16" d="M301 248l3-3 2-5"/>
<path class="c17" d="M306 240l2-4 3-5"/>
<path class="c18" d="M311 231l2-2"/>
<path class="c19" d="M313 229l2-3 3-4"/>
<path class="c20" d="M318 222l2-3 3-7"/>
<path class="c21" d="M323 212l2-1"/>
<path class="c22" d="M325 211l2-4 3-1"/>
<path class="c23" d="M330 206l2-3 2-5"/>
<path class="c24" d="M334 198l3 1 2-7"/>
<path class="c25" d="M339 192l2 2 3-6 2-2"/>
<path class="c26" d="M346 186l2-2 3-6"/>
<path class="c27" d="M351 178l2-3 2 0"/>
<path class="c28" d="M355 175l3-9 2-3"/>
<path class="c29" d="M360 163l3-1 2-3 2-2"/>
<path class="c30" d="M367 157l3-1 2-1 2-4 3 3"/>
<path class="c31" d="M377 154l2-10 2 1 3 0 2 2"/>
<path class="c30" d="M386 147l2-4"/>
<path class="c31" d="M388 143l3-4 2-2 2-7 3 0 2 2 3-4 2-3 2 1 3 1 2 3"/>
<path class="c30" d="M412 130l2-3 3 3"/>
<path class="c29" d="M417 130l2-4 2-1 3 4"/>
<path class="c28" d="M424 129l2 2 2-6 3 2"/>
<path class="c27" d="M431 127l2 2"/>
<path class="c26" d="M433 129l2 3 3 1"/>
<path class="c25" d="M438 133l2 0"/>
<path class="c24" d="M440 133l3 4"/>
<path class="c23" d="M443 137l2 5"/>
<path class="c22" d="M445 142l2 3"/>
<path class="c21" d="M447 145l3 0"/>
<path class="c20" d="M450 145l2 1 2 1"/>
<path class="c19" d="M454 147l3 1 2 2"/>
<path class="c18" d="M459 150l2 2 3-3"/>
<path class="c17" d="M464 149l2-1"/>
<path class="c16" d="M466 148l2 5 3-1"/>
<path class="c15" d="M471 152l2 3"/>
<path class="c14" d="M473 155l2 1 3 1"/>
<path class="c13" d="M478 157l2 1"/>
<path class="c12" d="M480 158l3 0 2 0"/>
<path class="c11" d="M485 158l2 0 3 1"/>
<path class="c7" d="M254 309l2-2 2-2 3-3 2-2"/>
<path class="c8" d="M263 300l2-1 3-3 2-2 2-2"/>
<path class="c9" d="M272 292l3-3 2-3 2-2"/>
<path class="c10" d="M279 284l3-3 2-2 3-3"/>
<path class="c11" d="M287 276l2-3 2-3"/>
<path class="c12" d="M291 270l3-3 2-3"/>
<path class="c13" d="M296 264l2-4"/>
<path class="c14" d="M298 260l3-6 2-4"/>
<path class="c15" d="M303 250l2-1"/>
<path class="c16" d="M305 249l3-2 2-6"/>
<path class="c17" d="M310 241l2-4 3-5"/>
<path class="c18" d="M315 232l2-3"/>
<path class="c19" d="M317 229l2-3 3-3"/>
<path class="c20" d="M322 223l2-3 3-6"/>
<path class="c21" d="M327 214l2-3 2-3"/>
<path class="c22" d="M331 208l3-3 2-2"/>
<path class="c23" d="M336 203l2-5 3 1"/>
<path class="c24" d="M341 199l2-7 2 1"/>
<path class="c25" d="M345 193l3-5 2 0"/>
<path class="c26" d="M350 188l2-5 3-4"/>
<path class="c27" d="M355 179l2 0 2-1"/>
<path class="c28" d="M359 178l3-7 2-7 2-2"/>
<path class="c29" d="M366 162l3-2 2-2"/>
<path class="c30" d="M371 158l3-2 2-1 2-5"/>
<path class="c31" d="M378 150l3 2 2-6 2 0 3-4 2 0 2-1 3-7"/>
<path class="c32" d="M395 134l2 0 2-5 3 1 2-2 2-5 3 2 2-5 3 4 2 0 2-5"/>
<path class="c31" d="M418 119l3 4 2 0"/>
<path class="c30" d="M423 123l2-2 3 3 2 2"/>
<path class="c29" d="M430 126l2-5 3 2"/>
<path class="c28" d="M435 123l2 0 2 3"/>
<path class="c27" d="M439 126l3 4"/>
<path class="c26" d="M442 130l2 1"/>
<path class="c25" d="M444 131l2 3"/>
<path class="c24" d="M446 134l3 6"/>
<path class="c23" d="M449 140l2 3"/>
<path class="c22" d="M451 143l3 3"/>
<path class="c21" d="M454 146l2 0"/>
<path class="c20" d="M456 146l2 1"/>
<path class="c19" d="M458 147l3 1 2 2"/>
<path class="c18" d="M463 150l2 2 3-3"/>
<path class="c17" d="M468 149l2-1 2 4"/>
<path class="c16" d="M472 152l3-1"/>
<path class="c15" d="M475 151l2 3 2 1"/>
<path class="c14" d="M479 155l3 1"/>
<path class="c13" d="M482 156l2 1 2 0"/>
<path class="c12" d="M486 157l3 0 2 1"/>
<path class="c11" d="M491 158l3 1"/>
<path class="c7" d="M258 310l2-2 2-3 3-2 2-2"/>
<path class="c8" d="M267 301l2-1 3-3 2-2 2-2"/>
<path class="c9" d="M276 293l3-3 2-3 2-2"/>
<path class="c10" d="M283 285l3-2 2-3 2-3"/>
<path class="c11" d="M290 277l3-3 2-3"/>
<path class="c12" d="M295 271l3-3 2-3"/>
<path class="c13" d="M300 265l2-5"/>
<path class="c14" d="M302 260l3-5 2-3"/>
<path class="c15" d="M307 252l2-1 3-4"/>
<path class="c16" d="M312 247l2-6"/>
<path class="c17" d="M314 241l2-3 3-5"/>
<path class="c18" d="M319 233l2-2"/>
<path class="c19" d="M321 231l2-4 3-3"/>
<path class="c20" d="M326 224l2-3 2-6"/>
<path class="c21" d="M330 215l3-2 2-4"/>
<path class="c22" d="M335 209l3-2 2-2"/>
<path class="c23" d="M340 205l2-4 3 0"/>
<path class="c24" d="M345 201l2-7 2 2"/>
<path class="c25" d="M349 196l3-6 2-1"/>
<path class="c26" d="M354 189l2-6 3-5 2 0"/>
<path class="c27" d="M361 178l2 1 3-7"/>
<path class="c28" d="M366 172l2-7 2-2"/>
<path class="c29" d="M370 163l3-1 2-5"/>
<path class="c30" d="M375 157l3-1 2 1"/>
<path class="c31" d="M380 157l2-8 3-1 2-5"/>
<path class="c32" d="M387 143l2-2 3-2 2 1 2-1 3-8"/>
<path class="c33" d="M399 131l2 0 2-3 3-4 2 2 2-5 3-3 2 2"/>
<path class="c34" d="M415 120l3-1 2-2"/>
<path class="c33" d="M420 117l2-2 3 5 2-2"/>
<path class="c32" d="M427 118l2 2 3 0"/>
<path class="c31" d="M432 120l2 3 2-7"/>
<path class="c30" d="M436 116l3 3 2 0"/>
<path class="c29" d="M441 119l2 2"/>
<path class="c28" d="M443 121l3 5"/>
<path class="c27" d="M446 126l2 1"/>
<path class="c26" d="M448 127l2 4"/>
<path class="c24" d="M450 131l3 8"/>
<path class="c23" d="M453 139l2 4"/>
<path class="c22" d="M455 143l3 3"/>
<path class="c21" d="M458 146l2 1"/>
<path class="c20" d="M460 147l2 2"/>
<path class="c19" d="M462 149l3 0 2 3"/>
<path class="c18" d="M467 152l2 0 3-1"/>
<path class="c17" d="M472 151l2-2 2 3"/>
<path class="c16" d="M476 152l3-1"/>
<path class="c15" d="M479 151l2 2 2 1"/>
<path class="c14" d="M483 154l3 1 2 2"/>
<path class="c13" d="M488 157l2 0"/>
<path class="c12" d="M490 157l3-1 2 2"/>
<path class="c11" d="M495 158l3 0"/>
<path class="c7" d="M262 310l2-2 2-2 3-2 2-2"/>
<path class="c8" d="M271 302l2-2 3-2 2-2 2-3"/>
<path class="c9" d="M280 293l3-3 2-2 2-2"/>
<path class="c10" d="M287 286l3-3 2-2 2-3"/>
<path class="c11" d="M294 278l3-3 2-2"/>
<path class="c12" d="M299 273l3-4 2-2"/>
<path class="c13" d="M304 267l2-5"/>
<path class="c14" d="M306 262l3-6 2-2"/>
<path class="c15" d="M311 254l2-2 3-4"/>
<path class="c16" d="M316 248l2-5"/>
<path class="c17" d="M318 243l2-3 3-6"/>
<path class="c18" d="M323 234l2-2"/>
<path class="c19" d="M325 232l2-4 3-3"/>
<path class="c20" d="M330 225l2-2 2-5"/>
<path class="c21" d="M334 218l3-3 2-3"/>
<path class="c22" d="M339 212l3-2 2-5"/>
<path class="c23" d="M344 205l2-1 3-2"/>
<path class="c24" d="M349 202l2-5 2 0"/>
<path class="c25" d="M353 197l3-7 2-3 2-3"/>
<path class="c26" d="M360 184l3-6 2 0"/>
<path class="c27" d="M365 178l2 0 3-6"/>
<path class="c28" d="M370 172l2-6 2-2"/>
<path class="c29" d="M374 164l3-2 2 1"/>
<path class="c30" d="M379 163l3-3 2-4"/>
<path class="c31" d="M384 156l2-9 3 0"/>
<path class="c32" d="M389 147l2-3 2-4"/>
<path class="c33" d="M393 140l3-3 2 3 2-3 3-5"/>
<path class="c34" d="M403 132l2-4 2-3 3 0 2-5 2-6"/>
<path class="c35" d="M414 114l3-1 2 4 3-3 2-5 2 0 3 4 2-6"/>
<path class="c34" d="M431 107l2 3 3 2"/>
<path class="c33" d="M436 112l2 5 2-6"/>
<path class="c32" d="M440 111l3 0"/>
<path class="c31" d="M443 111l2 1"/>
<path class="c30" d="M445 112l2 6"/>
<path class="c29" d="M447 118l3 4"/>
<path class="c28" d="M450 122l2 3"/>
<path class="c27" d="M452 125l2 3"/>
<path class="c25" d="M454 128l3 8"/>
<path class="c24" d="M457 136l2 5"/>
<path class="c22" d="M459 141l3 4"/>
<path class="c21" d="M462 145l2 2"/>
<path class="c20" d="M464 147l2 2"/>
<path class="c19" d="M466 149l3 1 2 3"/>
<path class="c18" d="M471 153l2 0 3-2"/>
<path class="c17" d="M476 151l2-1 2 3"/>
<path class="c16" d="M480 153l3-2 2 2"/>
<path class="c15" d="M485 153l2 1"/>
<path class="c14" d="M487 154l3 1 2 1"/>
<path class="c13" d="M492 156l2 0 3-1"/>
<path class="c12" d="M497 155l2 2"/>
<path class="c11" d="M499 157l3 1"/>
<path class="c7" d="M266 311l2-2 2-2 3-2 2-3"/>
<path class="c8" d="M275 302l2-1 3-3 2-1 2-3"/>
<path class="c9" d="M284 294l3-3 2-2 2-2"/>
<path class="c10" d="M291 287l3-3 2-2 2-3"/>
<path class="c11" d="M298 279l3-2 2-3"/>
<path class="c12" d="M303 274l3-4 2-3"/>
<path class="c13" d="M308 267l2-5 3-5"/>
<path class="c14" d="M313 257l2-3"/>
<path class="c15" d="M315 254l2-1 3-4"/>
<path class="c16" d="M320 249l2-5"/>
<path class="c17" d="M322 244l2-3 3-5"/>
<path class="c18" d="M327 236l2-4 2-3"/>
<path class="c19" d="M331 229l3-2"/>
<path class="c20" d="M334 227l2-4 2-5"/>
<path class="c21" d="M338 218l3-2 2-3"/>
<path class="c22" d="M343 213l3-2 2-4"/>
<path class="c23" d="M348 207l2-2 3-2 2-5"/>
<path class="c24" d="M355 198l2-1 3-6"/>
<path class="c25" d="M360 191l2-2 2-3"/>
<path class="c26" d="M364 186l3-5 2-1 2-3"/>
<path class="c27" d="M371 177l3-5 2-3"/>
<path class="c28" d="M376 169l2-1 3-2"/>
<path class="c29" d="M381 166l2-2"/>
<path class="c30" d="M383 164l3-3 2-3"/>
<path class="c31" d="M388 158l2-6"/>
<path class="c32" d="M390 152l3-3 2-5"/>
<path class="c33" d="M395 144l2-3 3-6"/>
<path class="c34" d="M400 135l2 3 2-3 3-2"/>
<path class="c35" d="M407 133l2-6 2-2 3 0 2-5 2-8"/>
<path class="c36" d="M418 112l3-2 2 5"/>
<path class="c37" d="M423 115l3-10 2-3 2 3 3-3"/>
<path class="c36" d="M433 102l2-4 2 7"/>
<path class="c35" d="M437 105l3-1 2 7"/>
<path class="c34" d="M442 111l2-2"/>
<path class="c33" d="M444 109l3 1 2 1"/>
<path class="c32" d="M449 111l2 2"/>
<path class="c31" d="M451 113l3 7"/>
<path class="c29" d="M454 120l2-1"/>
<path class="c28" d="M456 119l2 5"/>
<path class="c26" d="M458 124l3 9"/>
<path class="c25" d="M461 133l2 5"/>
<path class="c23" d="M463 138l3 7"/>
<path class="c22" d="M466 145l2 2"/>
<path class="c20" d="M468 147l2 1 3 2"/>
<path class="c19" d="M473 150l2 3"/>
<path class="c18" d="M475 153l2 0 3-1"/>
<path class="c17" d="M480 152l2-1 2 2"/>
<path class="c16" d="M484 153l3-1 2 1"/>
<path class="c15" d="M489 153l2 0 3 1"/>
<path class="c14" d="M494 154l2 2"/>
<path class="c13" d="M496 156l2 0 3-1"/>
<path class="c12" d="M501 155l2 1 3 1"/>
<path class="c7" d="M270 311l2-1 2-3 3-2 2-2"/>
<path class="c8" d="M279 303l2-2 3-2 2-1 2-3"/>
<path class="c9" d="M288 295l3-3 2-2 2-2"/>
<path class="c10" d="M295 288l3-3 2-2 2-3"/>
<path class="c11" d="M302 280l3-3 2-2"/>
<path class="c12" d="M307 275l3-5 2-2"/>
<path class="c13" d="M312 268l2-4 3-5"/>
<path class="c14" d="M317 259l2-3"/>
<path class="c15" d="M319 256l2-3 3-4"/>
<path class="c16" d="M324 249l2-5 2-2"/>
<path class="c17" d="M328 242l3-4"/>
<path class="c18" d="M331 238l2-5 2-2"/>
<path class="c19" d="M335 231l3-3 2-3"/>
<path class="c20" d="M340 225l2-4 3-2"/>
<path class="c21" d="M345 219l2-4 3-2"/>
<path class="c22" d="M350 213l2-4 2 0"/>
<path class="c23" d="M354 209l3-4 2-5"/>
<path class="c24" d="M359 200l2-2 3-6 2-2"/>
<path class="c25" d="M366 190l2-3 3-5"/>
<path class="c26" d="M371 182l2 0 2-4"/>
<path class="c27" d="M375 178l3-4 2-1"/>
<path class="c28" d="M380 173l2-5 3-2"/>
<path class="c29" d="M385 166l2 0 3-3"/>
<path class="c30" d="M390 163l2-3"/>
<path class="c31" d="M392 160l2-6"/>
<path class="c32" d="M394 154l3-6"/>
<path class="c33" d="M397 148l2-7 2-3"/>
<path class="c34" d="M401 138l3-3"/>
<path class="c35" d="M404 135l2-2 2-2 3 2"/>
<path class="c36" d="M411 133l2-5 2-7 3 3 2-5 2-12 3-3"/>
<path class="c37" d="M425 104l2 7"/>
<path class="c38" d="M427 111l3-9"/>
<path class="c39" d="M430 102l2-1 2 2 3-6"/>
<path class="c38" d="M437 97l2-3"/>
<path class="c37" d="M439 94l2 8 3-4"/>
<path class="c36" d="M444 98l2 9 2-4"/>
<path class="c35" d="M448 103l3 4"/>
<path class="c34" d="M451 107l2-3"/>
<path class="c33" d="M453 104l2 2"/>
<path class="c32" d="M455 106l3 7"/>
<path class="c31" d="M458 113l2 1"/>
<path class="c29" d="M460 114l2 4"/>
<path class="c28" d="M462 118l3 10"/>
<path class="c26" d="M465 128l2 6"/>
<path class="c24" d="M467 134l3 8"/>
<path class="c22" d="M470 142l2 3"/>
<path class="c21" d="M472 145l2 2"/>
<path class="c20" d="M474 147l3 2"/>
<path class="c19" d="M477 149l2 3"/>
<path class="c18" d="M479 152l2 1 3 0"/>
<path class="c17" d="M484 153l2-2 2 4"/>
<path class="c16" d="M488 155l3-3 2 2"/>
<path class="c15" d="M493 154l2-1 3 1"/>
<path class="c14" d="M498 154l2 1 2 0"/>
<path class="c13" d="M502 155l3 0"/>
<path class="c12" d="M505 155l2 1 3 1"/>
<path class="c7" d="M274 311l2-1 2-2 3-2 2-3"/>
<path class="c8" d="M283 303l2-1 3-3 2 0 2-3"/>
<path class="c9" d="M292 296l3-3 2-3 2-1"/>
<path class="c10" d="M299 289l3-3 2-2 2-4"/>
<path class="c11" d="M306 280l3-1 2-2"/>
<path class="c12" d="M311 277l3-6 2-1"/>
<path class="c13" d="M316 270l2-5 3-4"/>
<path class="c14" d="M321 261l2-4 2-2"/>
<path class="c15" d="M325 255l3-5"/>
<path class="c16" d="M328 250l2-4 2-3"/>
<path class="c17" d="M332 243l3-4 2-4"/>
<path class="c18" d="M337 235l2-3"/>
<path class="c19" d="M339 232l3-2 2-3"/>
<path class="c20" d="M344 227l2-4 3-3"/>
<path class="c21" d="M349 220l2-2 2-3"/>
<path class="c22" d="M353 215l3-4 2 0"/>
<path class="c23" d="M358 211l3-4 2-4 2-3"/>
<path class="c24" d="M365 200l3-6 2 1"/>
<path class="c25" d="M370 195l2-7 3-3 2 0"/>
<path class="c26" d="M377 185l2-5 3-6"/>
<path class="c27" d="M382 174l2 1 2-5"/>
<path class="c28" d="M386 170l3 0 2-5"/>
<path class="c29" d="M391 165l2 0"/>
<path class="c30" d="M393 165l3-5"/>
<path class="c31" d="M396 160l2-7"/>
<path class="c32" d="M398 153l3-8"/>
<path class="c33" d="M401 145l2-5"/>
<path class="c34" d="M403 140l2-1"/>
<path class="c35" d="M405 139l3-3 2-3"/>
<path class="c36" d="M410 133l2-1 3-4 2-5 2-2"/>
<path class="c37" d="M419 121l3 1 2-7 2-11"/>
<path class="c38" d="M426 104l3-1"/>
<path class="c39" d="M429 103l2-3"/>
<path class="c40" d="M431 100l2-5"/>
<path class="c41" d="M433 95l3-6 2 7"/>
<path class="c40" d="M438 96l3 1"/>
<path class="c39" d="M441 97l2-4"/>
<path class="c38" d="M443 93l2 4 3-3 2 7"/>
<path class="c37" d="M450 101l2-2 3 3"/>
<path class="c36" d="M455 102l2-2"/>
<path class="c34" d="M457 100l2 4"/>
<path class="c33" d="M459 104l3 7"/>
<path class="c32" d="M462 111l2-2"/>
<path class="c31" d="M464 109l2 0"/>
<path class="c29" d="M466 109l3 14"/>
<path class="c27" d="M469 123l2 5"/>
<path class="c25" d="M471 128l2 11"/>
<path class="c23" d="M473 139l3 3"/>
<path class="c22" d="M476 142l2 1"/>
<path class="c20" d="M478 143l3 3"/>
<path class="c19" d="M481 146l2 5"/>
<path class="c18" d="M483 151l2 1 3 1"/>
<path class="c17" d="M488 153l2-1 2 4"/>
<path class="c16" d="M492 156l3-4 2 1"/>
<path class="c15" d="M497 153l2 0 3 0 2 1"/>
<path class="c14" d="M504 154l2 1"/>
<path class="c13" d="M506 155l3-1 2 1"/>
<path class="c12" d="M511 155l2 2"/>
<path class="c7" d="M277 312l3-1 2-2 3-2 2-3"/>
<path class="c8" d="M287 304l2-2 3-2 2-1 2-3"/>
<path class="c9" d="M296 296l3-2 2-3 2-2"/>
<path class="c10" d="M303 289l3-2 2-2 2-3"/>
<path class="c11" d="M310 282l3-2 2-2 2-6"/>
<path class="c12" d="M317 272l3-2 2-3"/>
<path class="c13" d="M322 267l3-5"/>
<path class="c14" d="M325 262l2-4 2-2"/>
<path class="c15" d="M329 256l3-5 2-3"/>
<path class="c16" d="M334 248l2-3"/>
<path class="c17" d="M336 245l3-4 2-5"/>
<path class="c18" d="M341 236l2-2 3-3"/>
<path class="c19" d="M346 231l2-4 2-4"/>
<path class="c20" d="M350 223l3-1 2-3"/>
<path class="c21" d="M355 219l2-3 3-3"/>
<path class="c22" d="M360 213l2 0 3-4"/>
<path class="c23" d="M365 209l2-5 2-3 3-7"/>
<path class="c24" d="M372 194l2 3 2-7"/>
<path class="c25" d="M376 190l3-3 2-1"/>
<path class="c26" d="M381 186l2-3 3-5"/>
<path class="c27" d="M386 178l2-1 2-5"/>
<path class="c28" d="M390 172l3-3 2 0"/>
<path class="c29" d="M395 169l2-1"/>
<path class="c30" d="M397 168l3-4"/>
<path class="c31" d="M400 164l2-11"/>
<path class="c32" d="M402 153l3-7"/>
<path class="c33" d="M405 146l2-10"/>
<path class="c34" d="M407 136l2 1"/>
<path class="c35" d="M409 137l3-3"/>
<path class="c36" d="M412 134l2-4 2-4"/>
<path class="c37" d="M416 126l3 0 2-8 2-1 3 2"/>
<path class="c38" d="M426 119l2-5 2-7"/>
<path class="c39" d="M430 107l3-9"/>
<path class="c40" d="M433 98l2-2"/>
<path class="c41" d="M435 96l2-1"/>
<path class="c42" d="M437 95l3-6 2-3"/>
<path class="c41" d="M442 86l3 2"/>
<path class="c40" d="M445 88l2-2"/>
<path class="c39" d="M447 86l2 8 3-1 2 5 2-6"/>
<path class="c38" d="M456 92l3 6"/>
<path class="c37" d="M459 98l2 4"/>
<path class="c36" d="M461 102l2 2"/>
<path class="c34" d="M463 104l3 3"/>
<path class="c33" d="M466 107l2 2"/>
<path class="c32" d="M468 109l2-1"/>
<path class="c31" d="M470 108l3 13"/>
<path class="c29" d="M473 121l2 2"/>
<path class="c27" d="M475 123l2 9"/>
<path class="c25" d="M477 132l3 4"/>
<path class="c23" d="M480 136l2 4"/>
<path class="c21" d="M482 140l3 3"/>
<path class="c20" d="M485 143l2 7"/>
<path class="c19" d="M487 150l2 2"/>
<path class="c18" d="M489 152l3 1"/>
<path class="c17" d="M492 153l2 0 2 3"/>
<path class="c16" d="M496 156l3-4 2 0 2 1"/>
<path class="c15" d="M503 153l3 0 2 1"/>
<path class="c14" d="M508 154l2 0 3 0"/>
<path class="c13" d="M513 154l2 1 2 2"/>
<path class="c7" d="M281 313l3-1 2-3 3-2"/>
<path class="c8" d="M289 307l2-2 2-2 3-3 2-1 2-2"/>
<path class="c9" d="M300 297l3-3 2-2 2-2 3-2"/>
<path class="c10" d="M310 288l2-2 2-3"/>
<path class="c11" d="M314 283l3-2 2-3 2-4"/>
<path class="c12" d="M321 274l3-3 2-4"/>
<path class="c13" d="M326 267l3-4 2-3"/>
<path class="c14" d="M331 260l2-2"/>
<path class="c15" d="M333 258l3-6 2-3"/>
<path class="c16" d="M338 249l2-3 3-3"/>
<path class="c17" d="M343 243l2-6"/>
<path class="c18" d="M345 237l2-2 3-3"/>
<path class="c19" d="M350 232l2-3 2-2"/>
<path class="c20" d="M354 227l3-3 2-4"/>
<path class="c21" d="M359 220l2-3 3-4 2 0"/>
<path class="c22" d="M366 213l3-3 2-5"/>
<path class="c23" d="M371 205l2-3 3-6"/>
<path class="c24" d="M376 196l2 3 2-4 3-5"/>
<path class="c25" d="M383 190l2-2 2-4"/>
<path class="c26" d="M387 184l3-3 2-1"/>
<path class="c27" d="M392 180l2-5 3-4"/>
<path class="c28" d="M397 171l2-2"/>
<path class="c29" d="M399 169l2-1"/>
<path class="c30" d="M401 168l3-7"/>
<path class="c31" d="M404 161l2-4"/>
<path class="c32" d="M406 157l3-12"/>
<path class="c33" d="M409 145l2-9"/>
<path class="c35" d="M411 136l2 1"/>
<path class="c36" d="M413 137l3-3 2-4"/>
<path class="c37" d="M418 130l2-5 3-1"/>
<path class="c38" d="M423 124l2-6 2-4 3 0"/>
<path class="c39" d="M430 114l2-4 2-14"/>
<path class="c40" d="M434 96l3-3"/>
<path class="c41" d="M437 93l2 0"/>
<path class="c42" d="M439 93l2-7"/>
<path class="c43" d="M441 86l3-4 2 6"/>
<path class="c42" d="M446 88l3-3"/>
<path class="c40" d="M449 85l2-3"/>
<path class="c39" d="M451 82l2 6"/>
<path class="c40" d="M453 88l3-3 2 10 2-6 3 7"/>
<path class="c38" d="M463 96l2 2"/>
<path class="c37" d="M465 98l2 4"/>
<path class="c35" d="M467 102l3 8"/>
<path class="c34" d="M470 110l2-3"/>
<path class="c33" d="M472 107l2 0"/>
<path class="c32" d="M474 107l3 6"/>
<path class="c30" d="M477 113l2 4"/>
<path class="c29" d="M479 117l2 11"/>
<path class="c27" d="M481 128l3 4"/>
<path class="c25" d="M484 132l2 3"/>
<path class="c22" d="M486 135l3 7"/>
<path class="c20" d="M489 142l2 7"/>
<path class="c19" d="M491 149l2 1"/>
<path class="c18" d="M493 150l3 3"/>
<path class="c17" d="M496 153l2 0 2 2 3-3"/>
<path class="c16" d="M503 152l2 1 2-1 3 0"/>
<path class="c15" d="M510 152l2 1 2 0"/>
<path class="c14" d="M514 153l3 0 2 1"/>
<path class="c13" d="M519 154l2 3"/>
<path class="c7" d="M285 314l3-2 2-2 3-2"/>
<path class="c8" d="M293 308l2-2 2-2 3-4 2 0 2-2"/>
<path class="c9" d="M304 298l3-3 2-2 2-2 3-3"/>
<path class="c10" d="M314 288l2-1 2-3 3-2"/>
<path class="c11" d="M321 282l2-2 2-5"/>
<path class="c12" d="M325 275l3-2 2-4"/>
<path class="c13" d="M330 269l3-4 2-3"/>
<path class="c14" d="M335 262l2-3 3-5"/>
<path class="c15" d="M340 254l2-4 2-2"/>
<path class="c16" d="M344 248l3-4"/>
<path class="c17" d="M347 244l2-5 2-2"/>
<path class="c18" d="M351 237l3-3 2-4"/>
<path class="c19" d="M356 230l2-2 3-2"/>
<path class="c20" d="M361 226l2-4 2-2"/>
<path class="c21" d="M365 220l3-5 2 0"/>
<path class="c22" d="M370 215l3-4 2-2 2-5"/>
<path class="c23" d="M377 204l3-5 2 1"/>
<path class="c24" d="M382 200l2-5 3-1 2-3"/>
<path class="c25" d="M389 191l2-6 3-3"/>
<path class="c26" d="M394 182l2-1 2-6"/>
<path class="c27" d="M398 175l3-1"/>
<path class="c28" d="M401 174l2-4"/>
<path class="c29" d="M403 170l2-1"/>
<path class="c30" d="M405 169l3-6"/>
<path class="c31" d="M408 163l2-6"/>
<path class="c32" d="M410 157l3-14"/>
<path class="c33" d="M413 143l2-4"/>
<path class="c35" d="M415 139l2-1"/>
<path class="c36" d="M417 138l3-7"/>
<path class="c37" d="M420 131l2-3 2 2"/>
<path class="c38" d="M424 130l3-2 2-15"/>
<path class="c39" d="M429 113l2-2 3 3"/>
<path class="c40" d="M434 114l2-2 2-15"/>
<path class="c41" d="M438 97l3-11"/>
<path class="c42" d="M441 86l2 2 2-2"/>
<path class="c43" d="M445 86l3-9 2 2 3 5"/>
<path class="c41" d="M453 84l2-3"/>
<path class="c40" d="M455 81l2 5"/>
<path class="c41" d="M457 86l3-5 2-3 2 5 3 6"/>
<path class="c39" d="M467 89l2 6"/>
<path class="c38" d="M469 95l2 9"/>
<path class="c36" d="M471 104l3 1"/>
<path class="c35" d="M474 105l2-4"/>
<path class="c34" d="M476 101l2 4"/>
<path class="c33" d="M478 105l3 4"/>
<path class="c32" d="M481 109l2 4"/>
<path class="c30" d="M483 113l2 7"/>
<path class="c28" d="M485 120l3 6"/>
<path class="c26" d="M488 126l2 3"/>
<path class="c24" d="M490 129l3 9"/>
<path class="c21" d="M493 138l2 9"/>
<path class="c19" d="M495 147l2 2"/>
<path class="c18" d="M497 149l3 3 2 0"/>
<path class="c17" d="M502 152l2 1 3-2 2 0 2-1"/>
<path class="c16" d="M511 150l3 0 2 3"/>
<path class="c15" d="M516 153l2 0 3 0"/>
<path class="c14" d="M521 153l2 1"/>
<path class="c13" d="M523 154l2 2"/>
<path class="c7" d="M289 314l3-1 2-3 3-1"/>
<path class="c8" d="M297 309l2-3 2-2 3-3 2 0 2-2"/>
<path class="c9" d="M308 299l3-3 2-2 2-3 3-2"/>
<path class="c10" d="M318 289l2-1 2-3 3-1"/>
<path class="c11" d="M325 284l2-3 2-5 3-2"/>
<path class="c12" d="M332 274l2-4 3-2"/>
<path class="c13" d="M337 268l2-4 2-4"/>
<path class="c14" d="M341 260l3-4"/>
<path class="c15" d="M344 256l2-4 2-2"/>
<path class="c16" d="M348 250l3-4 2-5"/>
<path class="c17" d="M353 241l2-2 3-2"/>
<path class="c18" d="M358 237l2-5 2-2"/>
<path class="c19" d="M362 230l3-3 2-3"/>
<path class="c20" d="M367 224l2-1 3-6"/>
<path class="c21" d="M372 217l2 0 3-5"/>
<path class="c22" d="M377 212l2-1 2-3 3-6"/>
<path class="c23" d="M384 202l2 0 2-5"/>
<path class="c24" d="M388 197l3-1 2-4"/>
<path class="c25" d="M393 192l2-4 3-3"/>
<path class="c26" d="M398 185l2-3 2-6"/>
<path class="c27" d="M402 176l3-1"/>
<path class="c28" d="M405 175l2-3"/>
<path class="c29" d="M407 172l2-3"/>
<path class="c30" d="M409 169l3-7"/>
<path class="c31" d="M412 162l2-7"/>
<path class="c32" d="M414 155l3-14"/>
<path class="c33" d="M417 141l2-3"/>
<path class="c35" d="M419 138l2 2"/>
<path class="c36" d="M421 140l3-9"/>
<path class="c37" d="M424 131l2-3 2 2"/>
<path class="c38" d="M428 130l3-4"/>
<path class="c39" d="M431 126l2-11 2-3"/>
<path class="c40" d="M435 112l3-2 2-4"/>
<path class="c41" d="M440 106l2-8"/>
<path class="c42" d="M442 98l3-10 2 0"/>
<path class="c43" d="M447 88l2-1 3-5 2-2 3 5"/>
<path class="c42" d="M457 85l2-7 2 3 3-3 2-1 2 4"/>
<path class="c41" d="M468 81l3 6"/>
<path class="c40" d="M471 87l2 4"/>
<path class="c38" d="M473 91l2 6"/>
<path class="c37" d="M475 97l3 5"/>
<path class="c35" d="M478 102l2-7"/>
<path class="c34" d="M480 95l2 1 3 12"/>
<path class="c33" d="M485 108l2-2"/>
<path class="c32" d="M487 106l2 5"/>
<path class="c30" d="M489 111l3 5"/>
<path class="c28" d="M492 116l2 3"/>
<path class="c25" d="M494 119l3 14"/>
<path class="c22" d="M497 133l2 11"/>
<path class="c20" d="M499 144l2 2"/>
<path class="c19" d="M501 146l3 4 2 0"/>
<path class="c18" d="M506 150l2 2 3-2"/>
<path class="c17" d="M511 150l2 0 2 0 3-1"/>
<path class="c16" d="M518 149l2 3 2 1"/>
<path class="c15" d="M522 153l3-1"/>
<path class="c14" d="M525 152l2 2"/>
<path class="c13" d="M527 154l2 3"/>
<path class="c7" d="M293 315l3-2 2-2 2-1"/>
<path class="c8" d="M300 310l3-3 2-2 3-3 2-1 2-2"/>
<path class="c9" d="M312 299l3-2 2-2 2-3 3-2"/>
<path class="c10" d="M322 290l2-1 2-3 3-2"/>
<path class="c11" d="M329 284l2-2 2-5 3-1"/>
<path class="c12" d="M336 276l2-4 2-3"/>
<path class="c13" d="M340 269l3-4 2-3"/>
<path class="c14" d="M345 262l3-4 2-4"/>
<path class="c15" d="M350 254l2-2 3-5"/>
<path class="c16" d="M355 247l2-5"/>
<path class="c17" d="M357 242l2 0 3-3"/>
<path class="c18" d="M362 239l2-5 2-1"/>
<path class="c19" d="M366 233l3-4 2-3 2-2"/>
<path class="c20" d="M373 224l3-5 2 0"/>
<path class="c21" d="M378 219l2-5 3-1"/>
<path class="c22" d="M383 213l2-4 3-5 2 1"/>
<path class="c23" d="M390 205l2-6 3-2"/>
<path class="c24" d="M395 197l2-4 2-3"/>
<path class="c25" d="M399 190l3-3 2-3"/>
<path class="c26" d="M404 184l2-7"/>
<path class="c27" d="M406 177l3-5"/>
<path class="c28" d="M409 172l2-4"/>
<path class="c29" d="M411 168l2-1"/>
<path class="c30" d="M413 167l3-8"/>
<path class="c31" d="M416 159l2 0"/>
<path class="c32" d="M418 159l2-13"/>
<path class="c33" d="M420 146l3-7"/>
<path class="c35" d="M423 139l2 1"/>
<path class="c36" d="M425 140l3-4"/>
<path class="c37" d="M428 136l2-4 2-3"/>
<path class="c38" d="M432 129l3-1"/>
<path class="c39" d="M435 128l2-15"/>
<path class="c40" d="M437 113l2 4 3-9"/>
<path class="c41" d="M442 108l2-12"/>
<path class="c42" d="M444 96l2 0 3-6"/>
<path class="c43" d="M449 90l2 1"/>
<path class="c44" d="M451 91l2-2 3-8 2 3 2-4 3-4 2 1 3 0"/>
<path class="c43" d="M468 77l2-1 2 8"/>
<path class="c41" d="M472 84l3 6"/>
<path class="c40" d="M475 90l2 7"/>
<path class="c38" d="M477 97l2-1"/>
<path class="c37" d="M479 96l3 7"/>
<path class="c36" d="M482 103l2-2"/>
<path class="c35" d="M484 101l2-4"/>
<path class="c34" d="M486 97l3 6 2-4"/>
<path class="c33" d="M491 99l2 8"/>
<path class="c32" d="M493 107l3-1"/>
<path class="c31" d="M496 106l2 5"/>
<path class="c28" d="M498 111l2 17"/>
<path class="c24" d="M500 128l3 9"/>
<path class="c22" d="M503 137l2 4"/>
<path class="c20" d="M505 141l3 5 2 3"/>
<path class="c19" d="M510 149l2 0"/>
<path class="c18" d="M512 149l3 1 2-1 2 0"/>
<path class="c17" d="M519 149l3-1 2 4"/>
<path class="c16" d="M524 152l2 1"/>
<path class="c15" d="M526 153l3-1"/>
<path class="c14" d="M529 152l2 3"/>
<path class="c13" d="M531 155l2 3"/>
<path class="c7" d="M297 316l3-2 2-3"/>
<path class="c8" d="M302 311l2-1 3-3 2-2 3-3 2-1 2-1"/>
<path class="c9" d="M316 300l3-2 2-3 2-2 3-2 2-1"/>
<path class="c10" d="M328 290l2-2 3-2 2-3"/>
<path class="c11" d="M335 283l2-4 3-2 2-4"/>
<path class="c12" d="M342 273l2-2 3-5"/>
<path class="c13" d="M347 266l2-2 3-5"/>
<path class="c14" d="M352 259l2-4"/>
<path class="c15" d="M354 255l2-2 3-4"/>
<path class="c16" d="M359 249l2-5 2 0"/>
<path class="c17" d="M363 244l3-3 2-5"/>
<path class="c18" d="M368 236l2 0 3-5"/>
<path class="c19" d="M373 231l2-3 2-2"/>
<path class="c20" d="M377 226l3-5 2 0 2-4"/>
<path class="c21" d="M384 217l3-1 2-5"/>
<path class="c22" d="M389 211l3-5 2 1 2-4"/>
<path class="c23" d="M396 203l3-4 2-4"/>
<path class="c24" d="M401 195l2-4"/>
<path class="c25" d="M403 191l3-2 2-2"/>
<path class="c26" d="M408 187l2-9"/>
<path class="c27" d="M410 178l3-7"/>
<path class="c28" d="M413 171l2-4 2 1"/>
<path class="c30" d="M417 168l3-5"/>
<path class="c31" d="M420 163l2-2"/>
<path class="c32" d="M422 161l2-12"/>
<path class="c33" d="M424 149l3-5"/>
<path class="c34" d="M427 144l2 0"/>
<path class="c35" d="M429 144l3-9"/>
<path class="c36" d="M432 135l2-1"/>
<path class="c37" d="M434 134l2-2"/>
<path class="c38" d="M436 132l3-2"/>
<path class="c39" d="M439 130l2-16"/>
<path class="c40" d="M441 114l2 0"/>
<path class="c41" d="M443 114l3-9 2-10"/>
<path class="c42" d="M448 95l2-1"/>
<path class="c43" d="M450 94l3-3"/>
<path class="c44" d="M453 91l2-7 2 1"/>
<path class="c45" d="M457 85l3-1 2-4 2-3 3-1"/>
<path class="c44" d="M467 76l2 1 3 0 2 5"/>
<path class="c42" d="M474 82l2 7"/>
<path class="c41" d="M476 89l3 11"/>
<path class="c40" d="M479 100l2 0"/>
<path class="c38" d="M481 100l2-3"/>
<path class="c37" d="M483 97l3 8"/>
<path class="c36" d="M486 105l2-8"/>
<path class="c35" d="M488 97l2 0 3 2 2-2"/>
<path class="c34" d="M495 97l2 6"/>
<path class="c33" d="M497 103l3 2"/>
<path class="c32" d="M500 105l2 1"/>
<path class="c30" d="M502 106l2 14"/>
<path class="c26" d="M504 120l3 10"/>
<path class="c24" d="M507 130l2 6"/>
<path class="c22" d="M509 136l3 4"/>
<path class="c21" d="M512 140l2 6"/>
<path class="c20" d="M514 146l2 0"/>
<path class="c19" d="M516 146l3 1 2 1"/>
<path class="c18" d="M521 148l2 1 3 0"/>
<path class="c17" d="M526 149l2 2"/>
<path class="c16" d="M528 151l2 2"/>
<path class="c15" d="M530 153l3 0"/>
<path class="c14" d="M533 153l2 4"/>
<path class="c13" d="M535 157l2 2"/>
<path class="c7" d="M301 316l3-2 2-2"/>
<path class="c8" d="M306 312l2-2 3-2 2-3 3-2 2-1 2-1"/>
<path class="c9" d="M320 301l3-3 2-2 2-2 3-2 2-1"/>
<path class="c10" d="M332 291l2-3 3-1 2-3"/>
<path class="c11" d="M339 284l2-3 3-2 2-4"/>
<path class="c12" d="M346 275l2-3 3-5"/>
<path class="c13" d="M351 267l2-2 3-3"/>
<path class="c14" d="M356 262l2-5 2-2"/>
<path class="c15" d="M360 255l3-5 2-3"/>
<path class="c16" d="M365 247l2-1 3-3"/>
<path class="c17" d="M370 243l2-4 2-2"/>
<path class="c18" d="M374 237l3-4 2-2"/>
<path class="c19" d="M379 231l2-1 3-6"/>
<path class="c20" d="M384 224l2-1 2-4 3 0"/>
<path class="c21" d="M391 219l2-6 3-3"/>
<path class="c22" d="M396 210l2-1 2-4"/>
<path class="c23" d="M400 205l3-3 2-6"/>
<path class="c24" d="M405 196l2-3 3-2"/>
<path class="c25" d="M410 191l2-2"/>
<path class="c26" d="M412 189l2-11 3-4"/>
<path class="c27" d="M417 174l2-3"/>
<path class="c28" d="M419 171l2-4"/>
<path class="c29" d="M421 167l3-5"/>
<path class="c31" d="M424 162l2-1"/>
<path class="c32" d="M426 161l2-10"/>
<path class="c33" d="M428 151l3-8"/>
<path class="c34" d="M431 143l2-1"/>
<path class="c35" d="M433 142l3-8"/>
<path class="c36" d="M436 134l2-6"/>
<path class="c37" d="M438 128l2 1"/>
<path class="c38" d="M440 129l3 0"/>
<path class="c39" d="M443 129l2-19"/>
<path class="c40" d="M445 110l2-3"/>
<path class="c41" d="M447 107l3-10"/>
<path class="c42" d="M450 97l2 2 2 4"/>
<path class="c43" d="M454 103l3-9"/>
<path class="c44" d="M457 94l2-8"/>
<path class="c45" d="M459 86l2 5 3-10"/>
<path class="c46" d="M464 81l2-1 2-2"/>
<path class="c45" d="M468 78l3 2"/>
<path class="c44" d="M471 80l2-3 3 5"/>
<path class="c43" d="M476 82l2-2"/>
<path class="c42" d="M478 80l2 12"/>
<path class="c41" d="M480 92l3 9"/>
<path class="c40" d="M483 101l2-3"/>
<path class="c38" d="M485 98l2 4"/>
<path class="c37" d="M487 102l3 3"/>
<path class="c36" d="M490 105l2-7"/>
<path class="c35" d="M492 98l2 2 3-3 2 2 2 2"/>
<path class="c34" d="M501 101l3 1"/>
<path class="c32" d="M504 102l2 4"/>
<path class="c30" d="M506 106l2 12"/>
<path class="c28" d="M508 118l3 9"/>
<path class="c25" d="M511 127l2 4"/>
<path class="c23" d="M513 131l3 6"/>
<path class="c22" d="M516 137l2 8"/>
<path class="c21" d="M518 145l2 0"/>
<path class="c20" d="M520 145l3 1"/>
<path class="c19" d="M523 146l2 1"/>
<path class="c18" d="M525 147l2 2 3 0"/>
<path class="c17" d="M530 149l2 4"/>
<path class="c16" d="M532 153l2 3"/>
<path class="c15" d="M534 156l3-1"/>
<path class="c14" d="M537 155l2 4"/>
<path class="c13" d="M539 159l2 2"/>
<path class="c7" d="M305 316l3-2"/>
<path class="c8" d="M308 314l2-2 2-1 3-2 2-3 3-2 2-1 2-2"/>
<path class="c9" d="M324 301l3-2 2-2 2-3 3-2 2 0"/>
<path class="c10" d="M336 292l2-3 3-1 2-3 2-3"/>
<path class="c11" d="M345 282l3-2 2-4 2-2"/>
<path class="c12" d="M352 274l3-5 2-3"/>
<path class="c13" d="M357 266l3-3 2-4"/>
<path class="c14" d="M362 259l2-3 3-4"/>
<path class="c15" d="M367 252l2-3 2-1"/>
<path class="c16" d="M371 248l3-3 2-5"/>
<path class="c17" d="M376 240l2 0 3-6"/>
<path class="c18" d="M381 234l2-2 2-2"/>
<path class="c19" d="M385 230l3-3 2-3"/>
<path class="c20" d="M390 224l2-2 3-1 2-5"/>
<path class="c21" d="M397 216l3-3 2-2"/>
<path class="c22" d="M402 211l2-4 3-4"/>
<path class="c23" d="M407 203l2-5 2-4"/>
<path class="c24" d="M411 194l3-2"/>
<path class="c25" d="M414 192l2-2 2-9"/>
<path class="c26" d="M418 181l3-5"/>
<path class="c27" d="M421 176l2-5"/>
<path class="c28" d="M423 171l2-2"/>
<path class="c29" d="M425 169l3-9"/>
<path class="c30" d="M428 160l2 3"/>
<path class="c31" d="M430 163l2-8"/>
<path class="c33" d="M432 155l3-7"/>
<path class="c34" d="M435 148l2-8"/>
<path class="c35" d="M437 140l3-4"/>
<path class="c36" d="M440 136l2-5"/>
<path class="c37" d="M442 131l2 0"/>
<path class="c38" d="M444 131l3-7"/>
<path class="c39" d="M447 124l2-17"/>
<path class="c40" d="M449 107l2-3"/>
<path class="c41" d="M451 104l3-1"/>
<path class="c42" d="M454 103l2-1"/>
<path class="c43" d="M456 102l2-3 3-11"/>
<path class="c44" d="M461 88l2 3"/>
<path class="c45" d="M463 91l2-1 3-9"/>
<path class="c46" d="M468 81l2 1 2-4"/>
<path class="c45" d="M472 78l3 5"/>
<path class="c44" d="M475 83l2-2 3 5"/>
<path class="c43" d="M480 86l2 4"/>
<path class="c42" d="M482 90l2 3"/>
<path class="c41" d="M484 93l3 5"/>
<path class="c40" d="M487 98l2 1"/>
<path class="c38" d="M489 99l2 2"/>
<path class="c37" d="M491 101l3 5"/>
<path class="c36" d="M494 106l2-9 2 2 3-2"/>
<path class="c35" d="M501 97l2 4 2-1"/>
<path class="c33" d="M505 100l3 2"/>
<path class="c32" d="M508 102l2 4"/>
<path class="c30" d="M510 106l2 12"/>
<path class="c28" d="M512 118l3 8"/>
<path class="c26" d="M515 126l2 2"/>
<path class="c24" d="M517 128l3 5"/>
<path class="c23" d="M520 133l2 10"/>
<path class="c21" d="M522 143l2-1"/>
<path class="c20" d="M524 142l3 3"/>
<path class="c19" d="M527 145l2 1 2 3"/>
<path class="c18" d="M531 149l3 0"/>
<path class="c17" d="M534 149l2 5"/>
<path class="c16" d="M536 154l2 3"/>
<path class="c15" d="M538 157l3 0"/>
<path class="c14" d="M541 157l2 3"/>
<path class="c13" d="M543 160l2 2"/>
<path class="c8" d="M309 317l3-3 2-2 2-1 3-2 2-2 3-2 2-1 2-2"/>
<path class="c9" d="M328 302l3-2 2-2 2-3 3-1 2-2 2-2"/>
<path class="c10" d="M342 290l3-1 2-2 2-4"/>
<path class="c11" d="M349 283l3-2 2-4 2-3"/>
<path class="c12" d="M356 274l3-4 2-2"/>
<path class="c13" d="M361 268l3-3 2-5"/>
<path class="c14" d="M366 260l2-3 3-4"/>
<path class="c15" d="M371 253l2-1 2-3"/>
<path class="c16" d="M375 249l3-3 2-4"/>
<path class="c17" d="M380 242l2-1 3-5 2-2"/>
<path class="c18" d="M387 234l2-2 3-3"/>
<path class="c19" d="M392 229l2-3 2-2"/>
<path class="c20" d="M396 224l3-1 2-6 3-1"/>
<path class="c21" d="M404 216l2-2 2-5"/>
<path class="c22" d="M408 209l3-2 2-8"/>
<path class="c23" d="M413 199l2-3 3-1"/>
<path class="c24" d="M418 195l2-3"/>
<path class="c25" d="M420 192l2-8"/>
<path class="c26" d="M422 184l3-4"/>
<path class="c27" d="M425 180l2-7"/>
<path class="c28" d="M427 173l2-3"/>
<path class="c29" d="M429 170l3-7"/>
<path class="c30" d="M432 163l2 1"/>
<path class="c31" d="M434 164l2-6"/>
<path class="c32" d="M436 158l3-5"/>
<path class="c33" d="M439 153l2-7"/>
<path class="c34" d="M441 146l3-6"/>
<path class="c35" d="M444 140l2-11"/>
<path class="c36" d="M446 129l2 1"/>
<path class="c38" d="M448 130l3-10"/>
<path class="c39" d="M451 120l2-12"/>
<path class="c40" d="M453 108l2 5"/>
<path class="c41" d="M455 113l3-11"/>
<path class="c42" d="M458 102l2-4"/>
<path class="c43" d="M460 98l2 0 3-7"/>
<path class="c44" d="M465 91l2 3"/>
<path class="c45" d="M467 94l2-3 3-6 2 4 2-8 3 0"/>
<path class="c44" d="M479 81l2 3"/>
<path class="c43" d="M481 84l2 2 3 4"/>
<path class="c42" d="M486 90l2 6 3-5"/>
<path class="c41" d="M491 91l2 4"/>
<path class="c39" d="M493 95l2 6"/>
<path class="c38" d="M495 101l3 1"/>
<path class="c37" d="M498 102l2-6"/>
<path class="c36" d="M500 96l2-3 3 7"/>
<path class="c35" d="M505 100l2 5"/>
<path class="c34" d="M507 105l2 3"/>
<path class="c33" d="M509 108l3-4"/>
<path class="c31" d="M512 104l2 6"/>
<path class="c30" d="M514 110l2 9"/>
<path class="c28" d="M516 119l3 6"/>
<path class="c26" d="M519 125l2 2"/>
<path class="c24" d="M521 127l2 5"/>
<path class="c23" d="M523 132l3 11"/>
<path class="c22" d="M526 143l2-3"/>
<path class="c20" d="M528 140l3 4"/>
<path class="c19" d="M531 144l2 3"/>
<path class="c18" d="M533 147l2 3"/>
<path class="c17" d="M535 150l3 2"/>
<path class="c16" d="M538 152l2 4"/>
<path class="c15" d="M540 156l2 3"/>
<path class="c14" d="M542 159l3 0 2 3"/>
<path class="c13" d="M547 162l2 1"/>
<path class="c8" d="M313 317l3-2 2-3 2-1 3-1 2-3 2-1 3-2 2-1"/>
<path class="c9" d="M332 303l3-2 2-2 2-3 3-1 2-2 2-2"/>
<path class="c10" d="M346 291l3-2 2-1 2-3 3-2"/>
<path class="c11" d="M356 283l2-4 2-4 3-3"/>
<path class="c12" d="M363 272l2-3 2-2"/>
<path class="c13" d="M367 267l3-4 2-4"/>
<path class="c14" d="M372 259l3-3 2-2"/>
<path class="c15" d="M377 254l2-3 3-4"/>
<path class="c16" d="M382 247l2-3 2-1"/>
<path class="c17" d="M386 243l3-4 2-2 2-3"/>
<path class="c18" d="M393 234l3-3 2-3"/>
<path class="c19" d="M398 228l2-2 3 0"/>
<path class="c20" d="M403 226l2-7 2 0 3-4"/>
<path class="c21" d="M410 215l2-4 3-2"/>
<path class="c22" d="M415 209l2-8 2-2"/>
<path class="c23" d="M419 199l3-1"/>
<path class="c24" d="M422 198l2-4 2-8"/>
<path class="c25" d="M426 186l3-5"/>
<path class="c26" d="M429 181l2-6"/>
<path class="c27" d="M431 175l2-2"/>
<path class="c28" d="M433 173l3-11"/>
<path class="c29" d="M436 162l2 2"/>
<path class="c30" d="M438 164l2-4"/>
<path class="c32" d="M440 160l3-5"/>
<path class="c33" d="M443 155l2-8"/>
<path class="c34" d="M445 147l2 0"/>
<path class="c35" d="M447 147l3-19"/>
<path class="c36" d="M450 128l2-2"/>
<path class="c37" d="M452 126l3-4"/>
<path class="c38" d="M455 122l2-1"/>
<path class="c39" d="M457 121l2-1"/>
<path class="c40" d="M459 120l3-12"/>
<path class="c41" d="M462 108l2-11"/>
<path class="c42" d="M464 97l2-3"/>
<path class="c43" d="M466 94l3 3"/>
<path class="c44" d="M469 97l2-1 2 1 3-5"/>
<path class="c45" d="M476 92l2 0"/>
<path class="c44" d="M478 92l2-9 3 3 2 2"/>
<path class="c43" d="M485 88l2 0 3 3 2 3"/>
<path class="c42" d="M492 94l3-3"/>
<path class="c41" d="M495 91l2 1"/>
<path class="c40" d="M497 92l2 9"/>
<path class="c38" d="M499 101l3-1"/>
<path class="c37" d="M502 100l2-4 2 3"/>
<path class="c36" d="M506 99l3 4"/>
<path class="c35" d="M509 103l2 7"/>
<path class="c33" d="M511 110l2 5"/>
<path class="c32" d="M513 115l3-1"/>
<path class="c30" d="M516 114l2 2"/>
<path class="c29" d="M518 116l2 8"/>
<path class="c27" d="M520 124l3 4"/>
<path class="c26" d="M523 128l2 1"/>
<path class="c24" d="M525 129l2 3"/>
<path class="c23" d="M527 132l3 11"/>
<path class="c22" d="M530 143l2-1"/>
<path class="c20" d="M532 142l3 3"/>
<path class="c19" d="M535 145l2 3"/>
<path class="c18" d="M537 148l2 5"/>
<path class="c17" d="M539 153l3 0"/>
<path class="c16" d="M542 153l2 5"/>
<path class="c15" d="M544 158l2 3"/>
<path class="c14" d="M546 161l3-1"/>
<path class="c13" d="M549 160l2 3 2 2"/>
<path class="c8" d="M317 317l3-3 2-1 2-1 3-2 2-2 2-1 3-2 2-1"/>
<path class="c9" d="M336 304l3-3 2-1 2-3 3-1 2-1 2-3"/>
<path class="c10" d="M350 292l3-2 2-2 2-2 3-2"/>
<path class="c11" d="M360 284l2-4 2-3 3-4"/>
<path class="c12" d="M367 273l2-2 2-2"/>
<path class="c13" d="M371 269l3-4 2-4 3-3"/>
<path class="c14" d="M379 258l2-1 2-3"/>
<path class="c15" d="M383 254l3-5 2-3"/>
<path class="c16" d="M388 246l2 0 3-4"/>
<path class="c17" d="M393 242l2-2 2-3"/>
<path class="c18" d="M397 237l3-3 2-5 2-1"/>
<path class="c19" d="M404 228l3 1 2-8"/>
<path class="c20" d="M409 221l2 0 3-4 2-3"/>
<path class="c21" d="M416 214l3-3 2-7"/>
<path class="c22" d="M421 204l2-3"/>
<path class="c23" d="M423 201l3-2 2-4"/>
<path class="c24" d="M428 195l2-6"/>
<path class="c25" d="M430 189l3-4"/>
<path class="c26" d="M433 185l2-4"/>
<path class="c27" d="M435 181l2-3"/>
<path class="c28" d="M437 178l3-12"/>
<path class="c29" d="M440 166l2 3"/>
<path class="c30" d="M442 169l2-7"/>
<path class="c31" d="M444 162l3-5"/>
<path class="c32" d="M447 157l2-9"/>
<path class="c33" d="M449 148l2 1"/>
<path class="c34" d="M451 149l3-15"/>
<path class="c35" d="M454 134l2-7"/>
<path class="c36" d="M456 127l3-4"/>
<path class="c38" d="M459 123l2-6"/>
<path class="c39" d="M461 117l2 4"/>
<path class="c40" d="M463 121l3-9"/>
<path class="c41" d="M466 112l2-5"/>
<path class="c42" d="M468 107l2-8 3 2"/>
<path class="c43" d="M473 101l2 1 2-4"/>
<path class="c44" d="M477 98l3-2 2 4 2-3"/>
<path class="c43" d="M484 97l3-5 2 1 2-1"/>
<path class="c42" d="M491 92l3 1 2 3 3-3"/>
<path class="c41" d="M499 93l2 4"/>
<path class="c40" d="M501 97l2 1"/>
<path class="c39" d="M503 98l3 1"/>
<path class="c37" d="M506 99l2 5"/>
<path class="c36" d="M508 104l2-1"/>
<path class="c35" d="M510 103l3 5"/>
<path class="c34" d="M513 108l2 9"/>
<path class="c32" d="M515 117l2 4"/>
<path class="c31" d="M517 121l3 4"/>
<path class="c29" d="M520 125l2-1"/>
<path class="c28" d="M522 124l2 6"/>
<path class="c26" d="M524 130l3 3"/>
<path class="c25" d="M527 133l2 1"/>
<path class="c24" d="M529 134l2 1"/>
<path class="c22" d="M531 135l3 11"/>
<path class="c21" d="M534 146l2-2"/>
<path class="c20" d="M536 144l3 2"/>
<path class="c19" d="M539 146l2 3"/>
<path class="c18" d="M541 149l2 6"/>
<path class="c17" d="M543 155l3 1"/>
<path class="c16" d="M546 156l2 4"/>
<path class="c14" d="M548 160l2 3 3 0"/>
<path class="c13" d="M553 163l2 2"/>
<path class="c12" d="M555 165l2 1"/>
<path class="c8" d="M321 317l3-2 2-2 2-1 3-1 2-2 2-2 3-1 2-2"/>
<path class="c9" d="M340 304l3-2 2-1 2-3 3-1 2-1 2-3 3-2"/>
<path class="c10" d="M357 291l2-1 2-3 3-2 2-4"/>
<path class="c11" d="M366 281l2-2 3-4 2-2"/>
<path class="c12" d="M373 273l2-3 3-4"/>
<path class="c13" d="M378 266l2-2 3-3"/>
<path class="c14" d="M383 261l2-2 2-3"/>
<path class="c15" d="M387 256l3-5 2-2 2-2"/>
<path class="c16" d="M394 247l3-3 2-2"/>
<path class="c17" d="M399 242l2-4 3-2"/>
<path class="c18" d="M404 236l2-4 2-2 3 0"/>
<path class="c19" d="M411 230l2-7 2 0"/>
<path class="c20" d="M415 223l3-4 2-3 3-3"/>
<path class="c21" d="M423 213l2-5 2-3"/>
<path class="c22" d="M427 205l3-3"/>
<path class="c23" d="M430 202l2-5 2-4"/>
<path class="c24" d="M434 193l3-5"/>
<path class="c25" d="M437 188l2-4"/>
<path class="c26" d="M439 184l2-3"/>
<path class="c27" d="M441 181l3-11"/>
<path class="c28" d="M444 170l2 0"/>
<path class="c29" d="M446 170l2-4"/>
<path class="c30" d="M448 166l3-7"/>
<path class="c31" d="M451 159l2-8"/>
<path class="c32" d="M453 151l2-3"/>
<path class="c33" d="M455 148l3-11"/>
<path class="c35" d="M458 137l2-3"/>
<path class="c36" d="M460 134l3-6"/>
<path class="c37" d="M463 128l2-3"/>
<path class="c38" d="M465 125l2 1"/>
<path class="c39" d="M467 126l3-9"/>
<path class="c40" d="M470 117l2-11"/>
<path class="c41" d="M472 106l2 2 3-4"/>
<path class="c42" d="M477 104l2-3 2-5"/>
<path class="c43" d="M481 96l3-5 2 6 2-5"/>
<path class="c42" d="M488 92l3 4 2 3 2 4"/>
<path class="c41" d="M495 103l3-4 2 1 3 1"/>
<path class="c40" d="M503 101l2-2"/>
<path class="c39" d="M505 99l2 5"/>
<path class="c38" d="M507 104l3-6"/>
<path class="c37" d="M510 98l2 3"/>
<path class="c36" d="M512 101l2 6"/>
<path class="c34" d="M514 107l3 9"/>
<path class="c33" d="M517 116l2 5"/>
<path class="c31" d="M519 121l2 4"/>
<path class="c29" d="M521 125l3 4"/>
<path class="c28" d="M524 129l2 2"/>
<path class="c26" d="M526 131l2 3"/>
<path class="c25" d="M528 134l3 4"/>
<path class="c24" d="M531 138l2 1"/>
<path class="c23" d="M533 139l2 2"/>
<path class="c22" d="M535 141l3 9"/>
<path class="c20" d="M538 150l2-3"/>
<path class="c19" d="M540 147l3 3"/>
<path class="c18" d="M543 150l2 3"/>
<path class="c17" d="M545 153l2 5"/>
<path class="c16" d="M547 158l3 2"/>
<path class="c15" d="M550 160l2 3"/>
<path class="c14" d="M552 163l2 3"/>
<path class="c13" d="M554 166l3-1"/>
<path class="c12" d="M557 165l2 2 2 1"/>
<path class="c8" d="M325 317l3-2 2-2 2-1 3-1 2-2 2-1 3-1 2-2"/>
<path class="c9" d="M344 305l3-1 2-2 2-3 3-1 2-2 2-2 3-2"/>
<path class="c10" d="M361 292l2-1 2-3 3-1 2-5"/>
<path class="c11" d="M370 282l2-2 3-3 2-2"/>
<path class="c12" d="M377 275l2-1 3-5 2-3"/>
<path class="c13" d="M384 266l3-2 2-2"/>
<path class="c14" d="M389 262l2-3 3-5"/>
<path class="c15" d="M394 254l2-3 2-2 3-2"/>
<path class="c16" d="M401 247l2-3 2-3"/>
<path class="c17" d="M405 241l3-1 2-6"/>
<path class="c18" d="M410 234l2-2 3 0 2-7"/>
<path class="c19" d="M417 225l2 1 3-4"/>
<path class="c20" d="M422 222l2-3 3-4 2-3"/>
<path class="c21" d="M429 212l2-4 3-2"/>
<path class="c22" d="M434 206l2-6"/>
<path class="c23" d="M436 200l2-5 3-6"/>
<path class="c24" d="M441 189l2-1"/>
<path class="c25" d="M443 188l2-3"/>
<path class="c26" d="M445 185l3-10"/>
<path class="c27" d="M448 175l2-1"/>
<path class="c28" d="M450 174l2-4"/>
<path class="c29" d="M452 170l3-7"/>
<path class="c30" d="M455 163l2-7"/>
<path class="c32" d="M457 156l2-3"/>
<path class="c33" d="M459 153l3-10"/>
<path class="c34" d="M462 143l2-4"/>
<path class="c35" d="M464 139l3-7"/>
<path class="c36" d="M467 132l2-3"/>
<path class="c37" d="M469 129l2-1"/>
<path class="c38" d="M471 128l3-5"/>
<path class="c39" d="M474 123l2-7"/>
<path class="c40" d="M476 116l2-6 3-4"/>
<path class="c41" d="M481 106l2-4 2-1"/>
<path class="c42" d="M485 101l3-3 2 3 2-4"/>
<path class="c41" d="M492 97l3 5 2-1 2 5"/>
<path class="c40" d="M499 106l3 1 2 3 3-2"/>
<path class="c39" d="M507 108l2-4"/>
<path class="c38" d="M509 104l2 1"/>
<path class="c37" d="M511 105l3 2"/>
<path class="c36" d="M514 107l2 2"/>
<path class="c34" d="M516 109l2 2"/>
<path class="c33" d="M518 111l3 15"/>
<path class="c31" d="M521 126l2 2"/>
<path class="c29" d="M523 128l2 2"/>
<path class="c28" d="M525 130l3 5"/>
<path class="c26" d="M528 135l2 3"/>
<path class="c25" d="M530 138l2 5"/>
<path class="c24" d="M532 143l3 0"/>
<path class="c23" d="M535 143l2 0"/>
<path class="c22" d="M537 143l2 2"/>
<path class="c21" d="M539 145l3 10"/>
<path class="c20" d="M542 155l2-3"/>
<path class="c19" d="M544 152l3 2"/>
<path class="c18" d="M547 154l2 2"/>
<path class="c17" d="M549 156l2 5"/>
<path class="c16" d="M551 161l3 1"/>
<path class="c14" d="M554 162l2 3"/>
<path class="c13" d="M556 165l2 3"/>
<path class="c12" d="M558 168l3 0 2 1"/>
<path class="c11" d="M563 169l2 1"/>
<path class="c8" d="M329 318l3-2 2-2 2-1 3-1 2-2 2-1 3-2 2-1 3-1"/>
<path class="c9" d="M351 305l2-2 2-3 3-1 2-2 2-2 3-2 2-2"/>
<path class="c10" d="M367 291l2-1 3-2 2-4 2-3"/>
<path class="c11" d="M376 281l3-3 2-1 2-2"/>
<path class="c12" d="M383 275l3-4 2-2"/>
<path class="c13" d="M388 269l3-3 2-2 2-3"/>
<path class="c14" d="M395 261l3-5 2-3"/>
<path class="c15" d="M400 253l2-1 3-2"/>
<path class="c16" d="M405 250l2-3 2-4 3-2"/>
<path class="c17" d="M412 241l2-5 2-2"/>
<path class="c18" d="M416 234l3 0 2-6 2-1"/>
<path class="c19" d="M423 227l3-3 2-3"/>
<path class="c20" d="M428 221l2-4 3-4 2-3"/>
<path class="c21" d="M435 210l3-1"/>
<path class="c22" d="M438 209l2-6 2-3"/>
<path class="c23" d="M442 200l3-7"/>
<path class="c24" d="M445 193l2-2 2-2"/>
<path class="c25" d="M449 189l3-11"/>
<path class="c26" d="M452 178l2-1"/>
<path class="c27" d="M454 177l2-5"/>
<path class="c29" d="M456 172l3-6"/>
<path class="c30" d="M459 166l2-9"/>
<path class="c31" d="M461 157l2 4"/>
<path class="c32" d="M463 161l3-14"/>
<path class="c33" d="M466 147l2-4"/>
<path class="c34" d="M468 143l2-6"/>
<path class="c35" d="M470 137l3-3"/>
<path class="c36" d="M473 134l2-3"/>
<path class="c37" d="M475 131l3-5"/>
<path class="c38" d="M478 126l2-9"/>
<path class="c39" d="M480 117l2-4 3 0"/>
<path class="c40" d="M485 113l2-3 2-4"/>
<path class="c41" d="M489 106l3-4 2 4 2-6"/>
<path class="c40" d="M496 100l3 5 2 0 2 6"/>
<path class="c39" d="M503 111l3 1 2 2"/>
<path class="c38" d="M508 114l2-8 3 7"/>
<path class="c37" d="M513 113l2 0"/>
<path class="c36" d="M515 113l3 6"/>
<path class="c34" d="M518 119l2 3"/>
<path class="c32" d="M520 122l2 1"/>
<path class="c30" d="M522 123l3 9"/>
<path class="c29" d="M525 132l2 1"/>
<path class="c28" d="M527 133l2 3"/>
<path class="c26" d="M529 136l3 4"/>
<path class="c25" d="M532 140l2 4"/>
<path class="c24" d="M534 144l2 4"/>
<path class="c23" d="M536 148l3 2"/>
<path class="c22" d="M539 150l2 0"/>
<path class="c21" d="M541 150l2 0"/>
<path class="c20" d="M543 150l3 8"/>
<path class="c19" d="M546 158l2-1"/>
<path class="c18" d="M548 157l2 3"/>
<path class="c17" d="M550 160l3 0"/>
<path class="c16" d="M553 160l2 5"/>
<path class="c15" d="M555 165l3 0"/>
<path class="c14" d="M558 165l2 3"/>
<path class="c13" d="M560 168l2 1"/>
<path class="c12" d="M562 169l3 0 2 1"/>
<path class="c11" d="M567 170l2 1"/>
<path class="c8" d="M333 319l3-3 2-2 2 0 3-1 2-2 2-1 3-1 2-2 2-1 3-2"/>
<path class="c9" d="M357 304l2-3 3-1 2-2 2-2 3-3 2 0"/>
<path class="c10" d="M371 293l2-2 3-2 2-4 2-3"/>
<path class="c11" d="M380 282l3-2 2-1 2-2"/>
<path class="c12" d="M387 277l3-4 2-2 2-3"/>
<path class="c13" d="M394 268l3-2 2-4"/>
<path class="c14" d="M399 262l3-3 2-3 2-2"/>
<path class="c15" d="M406 254l3-2 2-3"/>
<path class="c16" d="M411 249l2-4 3-1 2-5"/>
<path class="c17" d="M418 239l2-2 3 0 2-7"/>
<path class="c18" d="M425 230l2 0 3-4"/>
<path class="c19" d="M430 226l2-4 2-3 3-3"/>
<path class="c20" d="M437 216l2-4 3 0"/>
<path class="c21" d="M442 212l2-6"/>
<path class="c22" d="M444 206l2-3 3-6"/>
<path class="c23" d="M449 197l2-2"/>
<path class="c24" d="M451 195l2-4"/>
<path class="c25" d="M453 191l3-9"/>
<path class="c26" d="M456 182l2-4"/>
<path class="c27" d="M458 178l2-1"/>
<path class="c28" d="M460 177l3-5"/>
<path class="c29" d="M463 172l2-10"/>
<path class="c30" d="M465 162l2 3"/>
<path class="c31" d="M467 165l3-12"/>
<path class="c32" d="M470 153l2-9"/>
<path class="c33" d="M472 144l2-2"/>
<path class="c34" d="M474 142l3-4"/>
<path class="c35" d="M477 138l2-6"/>
<path class="c36" d="M479 132l3-4 2-2"/>
<path class="c37" d="M484 126l2-8"/>
<path class="c38" d="M486 118l3-5"/>
<path class="c39" d="M489 113l2 3 2-9 3 3"/>
<path class="c40" d="M496 110l2 2"/>
<path class="c39" d="M498 112l2-5 3 2 2-3"/>
<path class="c38" d="M505 106l2 8 3 2"/>
<path class="c37" d="M510 116l2 1"/>
<path class="c36" d="M512 117l2 3"/>
<path class="c35" d="M514 120l3 3"/>
<path class="c34" d="M517 123l2-1"/>
<path class="c33" d="M519 122l3 2"/>
<path class="c31" d="M522 124l2 5"/>
<path class="c30" d="M524 129l2 2"/>
<path class="c28" d="M526 131l3 6"/>
<path class="c27" d="M529 137l2 0"/>
<path class="c26" d="M531 137l2 5"/>
<path class="c25" d="M533 142l3 3"/>
<path class="c24" d="M536 145l2 3"/>
<path class="c23" d="M538 148l2 5"/>
<path class="c22" d="M540 153l3 3"/>
<path class="c21" d="M543 156l2-1"/>
<path class="c20" d="M545 155l2 0"/>
<path class="c19" d="M547 155l3 7"/>
<path class="c18" d="M550 162l2-1"/>
<path class="c17" d="M552 161l2 4"/>
<path class="c16" d="M554 165l3 1"/>
<path class="c15" d="M557 166l2 3"/>
<path class="c14" d="M559 169l3 0"/>
<path class="c13" d="M562 169l2 1 2 1"/>
<path class="c12" d="M566 171l3-1 2 1"/>
<path class="c11" d="M571 171l2 0"/>
<path class="c8" d="M337 320l3-3 2-1 2-1 3-1 2-2 2-1 3-1 2-2 2-1 3-1"/>
<path class="c9" d="M361 306l2-3 3-2 2-2 2-2 3-3 2 0 2-2"/>
<path class="c10" d="M377 292l3-2 2-4 2-2 3-2"/>
<path class="c11" d="M387 282l2-1 2-3 3-3"/>
<path class="c12" d="M394 275l2-2 2-2 3-3"/>
<path class="c13" d="M401 268l2-4 3-3"/>
<path class="c14" d="M406 261l2-3 2-3 3-1"/>
<path class="c15" d="M413 254l2-3 2-4"/>
<path class="c16" d="M417 247l3-1 2-5 2-2"/>
<path class="c17" d="M424 239l3 0 2-6 2-2"/>
<path class="c18" d="M431 231l3-2 2-5"/>
<path class="c19" d="M436 224l2-2 3-3"/>
<path class="c20" d="M441 219l2-4 3-1"/>
<path class="c21" d="M446 214l2-6 2-2"/>
<path class="c22" d="M450 206l3-7 2-1"/>
<path class="c23" d="M455 198l2-4"/>
<path class="c24" d="M457 194l3-8"/>
<path class="c25" d="M460 186l2-3"/>
<path class="c26" d="M462 183l2-1"/>
<path class="c27" d="M464 182l3-9"/>
<path class="c28" d="M467 173l2-5"/>
<path class="c29" d="M469 168l2 0"/>
<path class="c30" d="M471 168l3-10"/>
<path class="c31" d="M474 158l2-6"/>
<path class="c32" d="M476 152l2-2"/>
<path class="c33" d="M478 150l3-6"/>
<path class="c34" d="M481 144l2-3 3-10"/>
<path class="c35" d="M486 131l2 2"/>
<path class="c36" d="M488 133l2-6"/>
<path class="c37" d="M490 127l3-5 2-2"/>
<path class="c38" d="M495 120l2-7 3 1 2 1 2 0 3 2 2-1"/>
<path class="c37" d="M509 116l2-1"/>
<path class="c36" d="M511 115l3 2"/>
<path class="c35" d="M514 117l2 4 2 6"/>
<path class="c34" d="M518 127l3 1"/>
<path class="c32" d="M521 128l2 3"/>
<path class="c31" d="M523 131l3-1"/>
<path class="c30" d="M526 130l2 4"/>
<path class="c28" d="M528 134l2 0"/>
<path class="c27" d="M530 134l3 8"/>
<path class="c26" d="M533 142l2 2"/>
<path class="c25" d="M535 144l2 3"/>
<path class="c24" d="M537 147l3 4"/>
<path class="c23" d="M540 151l2 3"/>
<path class="c21" d="M542 154l2 6"/>
<path class="c20" d="M544 160l3 0"/>
<path class="c19" d="M547 160l2 0 2-2"/>
<path class="c18" d="M551 158l3 7"/>
<path class="c17" d="M554 165l2-1"/>
<path class="c16" d="M556 164l2 5"/>
<path class="c15" d="M558 169l3 0"/>
<path class="c14" d="M561 169l2 3"/>
<path class="c13" d="M563 172l3 0 2 1 2-1"/>
<path class="c12" d="M570 172l3 0 2 0"/>
<path class="c11" d="M575 172l2 0"/>
<path class="c8" d="M341 321l3-2 2-2 2-1 3-1 2-2 2-1 3-1 2-2 2 0 3-2 2-3"/>
<path class="c9" d="M367 304l3-2 2-2 2-2 3-3 2 0 2-2 3-1"/>
<path class="c10" d="M384 292l2-5 2-1 3-2 2-1"/>
<path class="c11" d="M393 283l2-3 3-3 2-2"/>
<path class="c12" d="M400 275l2-3 3-2"/>
<path class="c13" d="M405 270l2-4 3-2 2-4"/>
<path class="c14" d="M412 260l2-2 3-1 2-5"/>
<path class="c15" d="M419 252l2-3 3-1"/>
<path class="c16" d="M424 248l2-5 2-2 3 0"/>
<path class="c17" d="M431 241l2-6 2-1 3-3"/>
<path class="c18" d="M438 231l2-5 2-2"/>
<path class="c19" d="M442 224l3-2 2-5"/>
<path class="c20" d="M447 217l3 0 2-5"/>
<path class="c21" d="M452 212l2-4 3-5"/>
<path class="c22" d="M457 203l2-3"/>
<path class="c23" d="M459 200l2-4"/>
<path class="c24" d="M461 196l3-6 2-3"/>
<path class="c25" d="M466 187l2-1"/>
<path class="c26" d="M468 186l3-8"/>
<path class="c27" d="M471 178l2-5"/>
<path class="c28" d="M473 173l2-2"/>
<path class="c29" d="M475 171l3-9"/>
<path class="c30" d="M478 162l2-4"/>
<path class="c31" d="M480 158l2-4"/>
<path class="c32" d="M482 154l3-8 2-1"/>
<path class="c33" d="M487 145l3-4"/>
<path class="c34" d="M490 141l2-3"/>
<path class="c35" d="M492 138l2-5 3-3"/>
<path class="c36" d="M497 130l2-4 2-4"/>
<path class="c37" d="M501 122l3 0 2-2 2 2 3 3"/>
<path class="c36" d="M511 125l2-4 2-2"/>
<path class="c35" d="M515 119l3 1"/>
<path class="c34" d="M518 120l2 6"/>
<path class="c33" d="M520 126l2 5"/>
<path class="c32" d="M522 131l3-1"/>
<path class="c31" d="M525 130l2 4"/>
<path class="c30" d="M527 134l3-1"/>
<path class="c29" d="M530 133l2 3"/>
<path class="c27" d="M532 136l2 5"/>
<path class="c26" d="M534 141l3 7"/>
<path class="c25" d="M537 148l2-1"/>
<path class="c24" d="M539 147l2 2"/>
<path class="c23" d="M541 149l3 7"/>
<path class="c21" d="M544 156l2 5"/>
<path class="c20" d="M546 161l2 4"/>
<path class="c19" d="M548 165l3 0"/>
<path class="c18" d="M551 165l2 0 2-2"/>
<path class="c17" d="M555 163l3 5"/>
<path class="c16" d="M558 168l2 0"/>
<path class="c15" d="M560 168l2 4"/>
<path class="c14" d="M562 172l3 0"/>
<path class="c13" d="M565 172l2 3 3 0 2-1"/>
<path class="c12" d="M572 174l2 1 3-1 2-1"/>
<path class="c11" d="M579 173l2 0"/>
<path class="c8" d="M345 323l3-3 2-2 2-1 3 0 2-2 2-2 3-1 2-2 2 0 3-3 2-2 3-2"/>
<path class="c9" d="M374 303l2-2 2-2 3-3 2 0 2-2 3-1"/>
<path class="c10" d="M388 293l2-4 2-2 3-2 2-1"/>
<path class="c11" d="M397 284l2-3 3-2 2-3"/>
<path class="c12" d="M404 276l2-2 3-3 2-3"/>
<path class="c13" d="M411 268l3-2 2-4 2-3"/>
<path class="c14" d="M418 259l3-1 2-4 2-4"/>
<path class="c15" d="M425 250l3 1 2-5"/>
<path class="c16" d="M430 246l2-3 3 0 2-5"/>
<path class="c17" d="M437 238l2-3 3-3 2-4"/>
<path class="c18" d="M444 228l2-2 3-2"/>
<path class="c19" d="M449 224l2-5 3-1"/>
<path class="c20" d="M454 218l2-4 2-3"/>
<path class="c21" d="M458 211l3-6 2-2"/>
<path class="c22" d="M463 203l2-1"/>
<path class="c23" d="M465 202l3-9"/>
<path class="c24" d="M468 193l2-4"/>
<path class="c25" d="M470 189l2-2"/>
<path class="c26" d="M472 187l3-6"/>
<path class="c27" d="M475 181l2-8 2 0"/>
<path class="c28" d="M479 173l3-9"/>
<path class="c29" d="M482 164l2-3"/>
<path class="c30" d="M484 161l2 0 3-5"/>
<path class="c31" d="M489 156l2-1"/>
<path class="c32" d="M491 155l3-7 2-3"/>
<path class="c33" d="M496 145l2-7"/>
<path class="c34" d="M498 138l3-1 2-2"/>
<path class="c35" d="M503 135l2-5"/>
<path class="c36" d="M505 130l3 1 2-5 2 0 3 2"/>
<path class="c35" d="M515 128l2 2"/>
<path class="c34" d="M517 130l2-8 3 5"/>
<path class="c33" d="M522 127l2 6"/>
<path class="c32" d="M524 133l2-1"/>
<path class="c31" d="M526 132l3 5"/>
<path class="c30" d="M529 137l2 5"/>
<path class="c29" d="M531 142l3-5"/>
<path class="c28" d="M534 137l2 5"/>
<path class="c26" d="M536 142l2 1"/>
<path class="c25" d="M538 143l3 9"/>
<path class="c24" d="M541 152l2-2 2 2"/>
<path class="c22" d="M545 152l3 7"/>
<path class="c20" d="M548 159l2 6"/>
<path class="c19" d="M550 165l2 5"/>
<path class="c18" d="M552 170l3 2"/>
<path class="c17" d="M555 172l2-1"/>
<path class="c16" d="M557 171l2-2 3 3"/>
<path class="c15" d="M562 172l2-1 2 4"/>
<path class="c14" d="M566 175l3-1"/>
<path class="c13" d="M569 174l2 2 3 0"/>
<path class="c12" d="M574 176l2 0 2 1 3-1 2-2"/>
<path class="c11" d="M583 174l2 0"/>
<path class="c8" d="M349 324l3-3 2-1 2-1 3-1 2-2 2-2 3 0 2-3 2-1 3-2 2-2 2-2 3-2"/>
<path class="c9" d="M380 302l2-2 3-2 2-1 2-1 3-2 2-4"/>
<path class="c10" d="M394 290l2-1 3-2 2-2 2-2"/>
<path class="c11" d="M403 283l3-2 2-3 2-2"/>
<path class="c12" d="M410 276l3-3 2-4 2-2"/>
<path class="c13" d="M417 267l3-3 2-3 3-1"/>
<path class="c14" d="M425 260l2-5 2-2"/>
<path class="c15" d="M429 253l3-1 2-4 2-3"/>
<path class="c16" d="M436 245l3-1 2-4 2-3"/>
<path class="c17" d="M443 237l3-3 2-4 2-1"/>
<path class="c18" d="M450 229l3-3 2-5"/>
<path class="c19" d="M455 221l2 0 3-5"/>
<path class="c20" d="M460 216l2-2 3-5"/>
<path class="c21" d="M465 209l2-4"/>
<path class="c22" d="M467 205l2-1"/>
<path class="c23" d="M469 204l3-8 2-5"/>
<path class="c24" d="M474 191l2-1"/>
<path class="c25" d="M476 190l3-7"/>
<path class="c26" d="M479 183l2-5"/>
<path class="c27" d="M481 178l2 1 3-10"/>
<path class="c28" d="M486 169l2-1"/>
<path class="c29" d="M488 168l2-3 3-4"/>
<path class="c30" d="M493 161l2-4"/>
<path class="c31" d="M495 157l2-3 3 0"/>
<path class="c32" d="M500 154l2-9 3-1"/>
<path class="c33" d="M505 144l2-6"/>
<path class="c34" d="M507 138l2 2 3-2 2-2 2 0 3-4 2 2"/>
<path class="c33" d="M521 134l2-3"/>
<path class="c32" d="M523 131l3 3"/>
<path class="c31" d="M526 134l2 3"/>
<path class="c30" d="M528 137l2 3"/>
<path class="c29" d="M530 140l3 3"/>
<path class="c28" d="M533 143l2 4"/>
<path class="c27" d="M535 147l2-2"/>
<path class="c26" d="M537 145l3 5"/>
<path class="c25" d="M540 150l2-2"/>
<path class="c24" d="M542 148l3 7 2-2"/>
<path class="c23" d="M547 153l2 3"/>
<path class="c21" d="M549 156l3 9"/>
<path class="c19" d="M552 165l2 6"/>
<path class="c17" d="M554 171l2 5"/>
<path class="c16" d="M556 176l3 0 2-1"/>
<path class="c15" d="M561 175l2-1 3 2 2-1"/>
<path class="c14" d="M568 175l2 2"/>
<path class="c13" d="M570 177l3-1 2 1 2 0"/>
<path class="c12" d="M577 177l3 0 2 1 3 0 2-2"/>
<path class="c11" d="M587 176l2 0"/>
<path class="c7" d="M353 325l3-2"/>
<path class="c8" d="M356 323l2-2 2-1 3-1 2-2 2-1 3-1 2-3 2 0 3-2 2-3 2-2 3-2 2-2"/>
<path class="c9" d="M386 301l3-2 2-1 2-1 3-1 2-4 2-2"/>
<path class="c10" d="M400 290l3-2 2-2 2-2 3-2"/>
<path class="c11" d="M410 282l2-3 2-2 3-2"/>
<path class="c12" d="M417 275l2-5 2-1 3-3"/>
<path class="c13" d="M424 266l2-4 3-1 2-5"/>
<path class="c14" d="M431 256l2-1 3-1"/>
<path class="c15" d="M436 254l2-3 2-3 3-1"/>
<path class="c16" d="M443 247l2-4 2-5 3-2"/>
<path class="c17" d="M450 236l2-4 2-1 3-4"/>
<path class="c18" d="M457 227l2-3 2-1"/>
<path class="c19" d="M461 223l3-4 2-4"/>
<path class="c20" d="M466 215l3-4"/>
<path class="c21" d="M469 211l2-3 2-2"/>
<path class="c22" d="M473 206l3-7"/>
<path class="c23" d="M476 199l2-5"/>
<path class="c24" d="M478 194l2 0"/>
<path class="c25" d="M480 194l3-7 2-6"/>
<path class="c26" d="M485 181l2-1"/>
<path class="c27" d="M487 180l3-9 2 1"/>
<path class="c28" d="M492 172l2-1 3-7"/>
<path class="c29" d="M497 164l2-1 2-2"/>
<path class="c30" d="M501 161l3 2 2-13"/>
<path class="c31" d="M506 150l3-3"/>
<path class="c32" d="M509 147l2-4 2 2"/>
<path class="c33" d="M513 145l3 1 2-7 2 0 3-3"/>
<path class="c32" d="M523 136l2-1 2 1"/>
<path class="c31" d="M527 136l3 3"/>
<path class="c30" d="M530 139l2 5"/>
<path class="c29" d="M532 144l2 5"/>
<path class="c27" d="M534 149l3 2"/>
<path class="c26" d="M537 151l2 5"/>
<path class="c25" d="M539 156l2-4 3 4"/>
<path class="c24" d="M544 156l2-3"/>
<path class="c23" d="M546 153l3 5 2 1"/>
<path class="c21" d="M551 159l2 5"/>
<path class="c19" d="M553 164l3 7"/>
<path class="c17" d="M556 171l2 5"/>
<path class="c16" d="M558 176l2 4"/>
<path class="c15" d="M560 180l3 0 2-2 2 1"/>
<path class="c14" d="M567 179l3 0 2-2 2 2"/>
<path class="c13" d="M574 179l3-2 2 1 2 0"/>
<path class="c12" d="M581 178l3 0 2 1 3 0"/>
<path class="c11" d="M589 179l2-1 2-1"/>
<path class="c7" d="M357 326l3-2 2-1 2-2 3-1"/>
<path class="c8" d="M367 320l2-2 2-1 3-1 2-2 2-1 3-2 2-2 2-2 3-2 2-2 3-3"/>
<path class="c9" d="M393 300l2-1 2-1 3-1 2-3 2-2"/>
<path class="c10" d="M404 292l3-2 2-3 2-1 3-2"/>
<path class="c11" d="M414 284l2-3 2-2 3-3 2-4"/>
<path class="c12" d="M423 272l2-1 3-4 2-3"/>
<path class="c13" d="M430 264l3-1 2-4"/>
<path class="c14" d="M435 259l2-2 3-2 2-3"/>
<path class="c15" d="M442 252l2-3 3-1 2-4"/>
<path class="c16" d="M449 244l2-4 3-1 2-5"/>
<path class="c17" d="M456 234l2-2 3-2"/>
<path class="c18" d="M461 230l2-4 2-1"/>
<path class="c19" d="M465 225l3-4 2-4"/>
<path class="c20" d="M470 217l3-5 2-3"/>
<path class="c21" d="M475 209l2-1"/>
<path class="c22" d="M477 208l3-7"/>
<path class="c23" d="M480 201l2-5 2-1"/>
<path class="c24" d="M484 195l3-6"/>
<path class="c25" d="M487 189l2-5 2-1"/>
<path class="c26" d="M491 183l3-6"/>
<path class="c27" d="M494 177l2-1 2 0"/>
<path class="c28" d="M498 176l3-7 2 0 2-1"/>
<path class="c29" d="M505 168l3 2 2-12"/>
<path class="c30" d="M510 158l3-1 2-7"/>
<path class="c31" d="M515 150l2 0 3-1"/>
<path class="c32" d="M520 149l2-3 2-3"/>
<path class="c31" d="M524 143l3-1 2-1"/>
<path class="c30" d="M529 141l2 0 3 2"/>
<path class="c28" d="M534 143l2 7"/>
<path class="c27" d="M536 150l2 6"/>
<path class="c25" d="M538 156l3 3"/>
<path class="c24" d="M541 159l2 5 2-4"/>
<path class="c23" d="M545 160l3 2 2-1"/>
<path class="c22" d="M550 161l3 3"/>
<path class="c21" d="M553 164l2 2"/>
<path class="c20" d="M555 166l2 5"/>
<path class="c18" d="M557 171l3 4"/>
<path class="c17" d="M560 175l2 4"/>
<path class="c16" d="M562 179l2 4"/>
<path class="c15" d="M564 183l3 0"/>
<path class="c14" d="M567 183l2-2 2 1 3 0 2-2"/>
<path class="c13" d="M576 180l2 1 3-2 2 0 2 0"/>
<path class="c12" d="M585 179l3 0 2 1 3 0"/>
<path class="c11" d="M593 180l2-1 2 0"/>
<path class="c7" d="M361 328l3-3 2-1 2-1 3-1 2-2 2-2 3 0"/>
<path class="c8" d="M378 318l2-3 2-1 3-2 2-2 2-2 3-2 2-2 3-2 2-1"/>
<path class="c9" d="M399 301l2-2 3-1 2-3 2-1 3-2"/>
<path class="c10" d="M411 292l2-3 2-2 3-2 2-2"/>
<path class="c11" d="M420 283l2-3 3-3 2-4"/>
<path class="c12" d="M427 273l2-1 3-3 2-4"/>
<path class="c13" d="M434 265l3-1 2-4 2-2"/>
<path class="c14" d="M441 258l3-2 2-2 2-3"/>
<path class="c15" d="M448 251l3-2 2-3 2-3"/>
<path class="c16" d="M455 243l3-2 2-5 2-2"/>
<path class="c17" d="M462 234l3-2 2-4"/>
<path class="c18" d="M467 228l2-1 3-4"/>
<path class="c19" d="M472 223l2-4 3-4"/>
<path class="c20" d="M477 215l2-4"/>
<path class="c21" d="M479 211l2-1 3-7"/>
<path class="c22" d="M484 203l2-4"/>
<path class="c23" d="M486 199l2-1 3-6"/>
<path class="c24" d="M491 192l2-7"/>
<path class="c25" d="M493 185l2 2 3-6"/>
<path class="c26" d="M498 181l2-1 2-2"/>
<path class="c27" d="M502 178l3-5 2 1 2-1"/>
<path class="c28" d="M509 173l3 0 2-12"/>
<path class="c29" d="M514 161l3 0 2-6"/>
<path class="c30" d="M519 155l2-2 3 2 2-6 2 0 3-3 2-1"/>
<path class="c29" d="M533 145l2 5"/>
<path class="c28" d="M535 150l3 4"/>
<path class="c27" d="M538 154l2 1"/>
<path class="c25" d="M540 155l2 7"/>
<path class="c24" d="M542 162l3 3"/>
<path class="c23" d="M545 165l2 6"/>
<path class="c22" d="M547 171l2-4 3 1"/>
<path class="c21" d="M552 168l2-2 3 4"/>
<path class="c20" d="M557 170l2 1"/>
<path class="c19" d="M559 171l2 3"/>
<path class="c18" d="M561 174l3 4"/>
<path class="c16" d="M564 178l2 4"/>
<path class="c15" d="M566 182l2 3 3-1"/>
<path class="c14" d="M571 184l2 0 2 0 3-1"/>
<path class="c13" d="M578 183l2-2 2 1 3-2 2-1 2 1"/>
<path class="c12" d="M589 180l3-1 2 1 3 1"/>
<path class="c11" d="M597 181l2 0 2 0"/>
<path class="c7" d="M365 329l3-2 2-2 2-1 3-1 2-2 2-1 3-1 2-2"/>
<path class="c8" d="M384 317l2-2 3-2 2-2 2-2 3-1 2-2 3-3 2-1 2-2"/>
<path class="c9" d="M405 300l3-1 2-2 2-2 3-2 2-3"/>
<path class="c10" d="M417 290l2-2 3-2 2-2 2-3"/>
<path class="c11" d="M426 281l3-4 2-2 2-2"/>
<path class="c12" d="M433 273l3-2 2-3 3-1"/>
<path class="c13" d="M441 267l2-5 2-2 3-2"/>
<path class="c14" d="M448 258l2-3 2-3 3-1"/>
<path class="c15" d="M455 251l2-3 2-4 3-2"/>
<path class="c16" d="M462 242l2-5 2-1"/>
<path class="c17" d="M466 236l3-2 2-4 2-1"/>
<path class="c18" d="M473 229l3-3"/>
<path class="c19" d="M476 226l2-5 3-4"/>
<path class="c20" d="M481 217l2-3 2-1"/>
<path class="c21" d="M485 213l3-8"/>
<path class="c22" d="M488 205l2-3 2-2"/>
<path class="c23" d="M492 200l3-3"/>
<path class="c24" d="M495 197l2-8 2 1"/>
<path class="c25" d="M499 190l3-4 2-1"/>
<path class="c26" d="M504 185l2-2 3-3 2-2"/>
<path class="c27" d="M511 178l2-3 3-1 2-8"/>
<path class="c28" d="M518 166l3-1 2-5"/>
<path class="c29" d="M523 160l2 0 3-5 2-3 2 2 3-3"/>
<path class="c28" d="M535 151l2 1 2 3"/>
<path class="c27" d="M539 155l3 4"/>
<path class="c25" d="M542 159l2 4"/>
<path class="c24" d="M544 163l2 3"/>
<path class="c23" d="M546 166l3 3"/>
<path class="c22" d="M549 169l2 4"/>
<path class="c21" d="M551 173l2-3 3 1"/>
<path class="c20" d="M556 171l2 0 2 3"/>
<path class="c19" d="M560 174l3 1"/>
<path class="c18" d="M563 175l2 2"/>
<path class="c17" d="M565 177l3 1"/>
<path class="c16" d="M568 178l2 5"/>
<path class="c15" d="M570 183l2 2 3 0"/>
<path class="c14" d="M575 185l2-1 2 2 3-2"/>
<path class="c13" d="M582 184l2-2 2 1 3-2 2-1 2 1"/>
<path class="c12" d="M593 181l3-1 2 0 2 1"/>
<path class="c11" d="M600 181l3 1 2 1"/>
<path class="c7" d="M369 330l3-2 2-1 2-2 3-1 2-2 2-1 3-1 2-2 2-1 3-3"/>
<path class="c8" d="M393 314l2-1 2-3 3-1 2-2 2-3 3-1 2-1 3-2"/>
<path class="c9" d="M412 300l2-2 2-2 3-2 2-3"/>
<path class="c10" d="M421 291l2-2 3-1 2-3 2-3"/>
<path class="c11" d="M430 282l3-3 2-3 2-2 3-2"/>
<path class="c12" d="M440 272l2-2 2-1 3-5"/>
<path class="c13" d="M447 264l2-2 3-2 2-3"/>
<path class="c14" d="M454 257l2-4 3-1 2-3"/>
<path class="c15" d="M461 249l2-3 3-1 2-5"/>
<path class="c16" d="M468 240l2-2 3-2"/>
<path class="c17" d="M473 236l2-4 2-1"/>
<path class="c18" d="M477 231l3-4 2-4"/>
<path class="c19" d="M482 223l2-4 3-2"/>
<path class="c20" d="M487 217l2-2"/>
<path class="c21" d="M489 215l3-7 2-3"/>
<path class="c22" d="M494 205l2-3"/>
<path class="c23" d="M496 202l3-2 2-7"/>
<path class="c24" d="M501 193l2-1 3-3"/>
<path class="c25" d="M506 189l2 0 2-1 3-3"/>
<path class="c26" d="M513 185l2-2 2-3 3-2 2-6"/>
<path class="c27" d="M522 172l2-3 3-4"/>
<path class="c28" d="M527 165l2-2 3-3 2-3 2 1 3 0"/>
<path class="c27" d="M539 158l2-1"/>
<path class="c26" d="M541 157l2 2 3 3"/>
<path class="c24" d="M546 162l2 4"/>
<path class="c23" d="M548 166l2 3"/>
<path class="c22" d="M550 169l3 4"/>
<path class="c21" d="M553 173l2 3"/>
<path class="c20" d="M555 176l2-1 3-1 2 2"/>
<path class="c19" d="M562 176l2 0 3 2"/>
<path class="c18" d="M567 178l2 1"/>
<path class="c17" d="M569 179l3 0"/>
<path class="c16" d="M572 179l2 3 2 3"/>
<path class="c15" d="M576 185l3 0"/>
<path class="c14" d="M579 185l2 0 2 1 3-1"/>
<path class="c13" d="M586 185l2-2 2 0 3-2 2 0 2 0"/>
<path class="c12" d="M597 181l3-1 2 1 2 0"/>
<path class="c11" d="M604 181l3 2"/>
<path class="c10" d="M607 183l2 2"/>
<path class="c7" d="M373 332l3-3 2-1 2-1 3-2 2-1 2-2 3-1 2-1 2-2 3-3 2-1"/>
<path class="c8" d="M399 314l2-2 3-2 2-2 2-2 3-2 2-1 3-2"/>
<path class="c9" d="M416 301l2-2 2-2 3-1 2-3 2-2"/>
<path class="c10" d="M427 291l3-2 2-3 2-3 3-2"/>
<path class="c11" d="M437 281l2-3 2-2 3-2"/>
<path class="c12" d="M444 274l2-2 2-2 3-4 2-2"/>
<path class="c13" d="M453 264l3-3 2-3 2-3"/>
<path class="c14" d="M460 255l3-1 2-3 2-4"/>
<path class="c15" d="M467 247l3-1 2-4"/>
<path class="c16" d="M472 242l2-2 3-1 2-4"/>
<path class="c17" d="M479 235l2-3 3-4"/>
<path class="c18" d="M484 228l2-3"/>
<path class="c19" d="M486 225l2-4 3-2"/>
<path class="c20" d="M491 219l2-2 3-7"/>
<path class="c21" d="M496 210l2-3 2-3"/>
<path class="c22" d="M500 204l3-2"/>
<path class="c23" d="M503 202l2-4 2-3"/>
<path class="c24" d="M507 195l3-3 2 0 2-2"/>
<path class="c25" d="M514 190l3-4 2-1 2-3 3-1"/>
<path class="c26" d="M524 181l2-7 2 0 3-7"/>
<path class="c27" d="M531 167l2 0 3-2 2-3 2-1 3 0"/>
<path class="c26" d="M543 161l2 0 2 3"/>
<path class="c25" d="M547 164l3 3"/>
<path class="c24" d="M550 167l2 3"/>
<path class="c22" d="M552 170l2 2"/>
<path class="c21" d="M554 172l3 4 2 1"/>
<path class="c20" d="M559 177l2 0 3-1"/>
<path class="c19" d="M564 176l2 2 2 0"/>
<path class="c18" d="M568 178l3 1 2 1"/>
<path class="c17" d="M573 180l3 1"/>
<path class="c16" d="M576 181l2 2 2 1"/>
<path class="c15" d="M580 184l3 1"/>
<path class="c14" d="M583 185l2 0 2 2 3-1"/>
<path class="c13" d="M590 186l2-2 2 0 3-2 2 0 2 1"/>
<path class="c12" d="M601 183l3-2 2 0 2 2"/>
<path class="c11" d="M608 183l3 1"/>
<path class="c10" d="M611 184l2 1"/>
<path class="c6" d="M377 333l3-2 2-1"/>
<path class="c7" d="M382 330l2-2 3-2 2-1 2-1 3-2 2-1 2-2 3-2 2-2 2-2"/>
<path class="c8" d="M405 313l3-2 2-1 2-3 3-1 2-2 3-2 2-2"/>
<path class="c9" d="M422 300l2-2 3-1 2-3 2-2 3-2"/>
<path class="c10" d="M434 290l2-3 2-2 3-3 2-3"/>
<path class="c11" d="M443 279l2-1 3-2 2-2"/>
<path class="c12" d="M450 274l2-2 3-5 2-1"/>
<path class="c13" d="M457 266l3-3 2-3 2-3"/>
<path class="c14" d="M464 257l3-1 2-3 2-2"/>
<path class="c15" d="M471 251l3-2 2-5 2-2"/>
<path class="c16" d="M478 242l3-1 2-5"/>
<path class="c17" d="M483 236l2-2 3-3"/>
<path class="c18" d="M488 231l2-4 2-4"/>
<path class="c19" d="M492 223l3-1 2-3"/>
<path class="c20" d="M497 219l3-6 2-2"/>
<path class="c21" d="M502 211l2-3 3-2"/>
<path class="c22" d="M507 206l2-5 2-3"/>
<path class="c23" d="M511 198l3-2 2-1"/>
<path class="c24" d="M516 195l2-2 3-3 2-3 2-3"/>
<path class="c25" d="M525 184l3-2 2-6 2 1"/>
<path class="c26" d="M532 177l3-5 2-2 3-2 2-3 2-1 3-1"/>
<path class="c25" d="M547 163l2 1 2 2"/>
<path class="c24" d="M551 166l3 4"/>
<path class="c23" d="M554 170l2 2"/>
<path class="c22" d="M556 172l2 2"/>
<path class="c21" d="M558 174l3 5"/>
<path class="c20" d="M561 179l2 0 2 1"/>
<path class="c19" d="M565 180l3-1 2 1"/>
<path class="c18" d="M570 180l2 0 3 0 2 1"/>
<path class="c17" d="M577 181l3 0 2 3"/>
<path class="c16" d="M582 184l2 1"/>
<path class="c15" d="M584 185l3 0 2 0"/>
<path class="c14" d="M589 185l2 2 3-2"/>
<path class="c13" d="M594 185l2-1 2 0 3-2 2 0 2 1"/>
<path class="c12" d="M605 183l3-1 2 0 2 2"/>
<path class="c11" d="M612 184l3 1"/>
<path class="c10" d="M615 185l2 2"/>
<path class="c6" d="M381 334l3-2 2-1 2-2"/>
<path class="c7" d="M388 329l3-2 2-1 2-1 3-2 2-1 2-2 3-2 2-2 2-2 3-1 2-2"/>
<path class="c8" d="M414 311l2-3 3-1 2-2 3-2 2-2 2-2"/>
<path class="c9" d="M428 299l3-1 2-3 2-2 3-2 2-2"/>
<path class="c10" d="M440 289l2-3 3-3 2-2"/>
<path class="c11" d="M447 281l2-1 3-3 2-1 2-2"/>
<path class="c12" d="M456 274l3-5 2-2 3-2"/>
<path class="c13" d="M464 265l2-3 2-3 3-1"/>
<path class="c14" d="M471 258l2-3 2-3 3-1"/>
<path class="c15" d="M478 251l2-5 2-2"/>
<path class="c16" d="M482 244l3-1 2-5 2-3"/>
<path class="c17" d="M489 235l3-2 2-4"/>
<path class="c18" d="M494 229l2-5 3 0"/>
<path class="c19" d="M499 224l2-4 3-4"/>
<path class="c20" d="M504 216l2-2 2-2"/>
<path class="c21" d="M508 212l3-3 2-5"/>
<path class="c22" d="M513 204l2-3 3-1 2-1"/>
<path class="c23" d="M520 199l2-3 3-4 2-4"/>
<path class="c24" d="M527 188l2 0 3-2 2-7"/>
<path class="c25" d="M534 179l2 0 3-3 2-2 3-3 2-5 2 0 3 0 2 0"/>
<path class="c24" d="M553 166l2 4"/>
<path class="c23" d="M555 170l3 2 2 2"/>
<path class="c22" d="M560 174l2 2"/>
<path class="c21" d="M562 176l3 3"/>
<path class="c20" d="M565 179l2 1"/>
<path class="c19" d="M567 180l2 1 3 0"/>
<path class="c18" d="M572 181l2 2 2-2 3 1 2 0"/>
<path class="c17" d="M581 182l3 1"/>
<path class="c16" d="M584 183l2 2 2 0"/>
<path class="c15" d="M588 185l3 1 2-1"/>
<path class="c14" d="M593 185l2 2 3-2"/>
<path class="c13" d="M598 185l2 0 2 0 3-1 2-1"/>
<path class="c12" d="M607 183l2 1 3-1 2 0"/>
<path class="c11" d="M614 183l2 2 3 1"/>
<path class="c10" d="M619 186l2 2"/>
<path class="c6" d="M385 335l3-2 2-1 2-1 3-2 2-1"/>
<path class="c7" d="M397 328l2-2 3-2 2-1 2-2 3-2 2-1 2-3 3-1 2-2"/>
<path class="c8" d="M418 312l2-2 3-2 2-1 3-2 2-3 2-2 3 0"/>
<path class="c9" d="M435 300l2-3 2-2 3-2 2-2"/>
<path class="c10" d="M444 291l2-3 3-3 2-2 2-2"/>
<path class="c11" d="M453 281l3-2 2-1 2-3"/>
<path class="c12" d="M460 275l3-4 2-3 3-1 2-3"/>
<path class="c13" d="M470 264l2-3 3-2 2-3"/>
<path class="c14" d="M477 256l2-1 3-2 2-5"/>
<path class="c15" d="M484 248l2-2 3-2"/>
<path class="c16" d="M489 244l2-5 2-2"/>
<path class="c17" d="M493 237l3-1 2-5"/>
<path class="c18" d="M498 231l2-4 3-1"/>
<path class="c19" d="M503 226l2-4 3-5 2 0"/>
<path class="c20" d="M510 217l2-2 3-4"/>
<path class="c21" d="M515 211l2-2 2-4 3-3"/>
<path class="c22" d="M522 202l2 0 2-3 3-3"/>
<path class="c23" d="M529 196l2-4 2-1 3 0"/>
<path class="c24" d="M536 191l2-7 2 0 3-3 2-4 2-1 3-5 2-1 3-1 2 2 2 1"/>
<path class="c23" d="M559 172l3 3"/>
<path class="c22" d="M562 175l2 2"/>
<path class="c21" d="M564 177l2 1"/>
<path class="c20" d="M566 178l3 4 2 0"/>
<path class="c19" d="M571 182l2 0"/>
<path class="c18" d="M573 182l3 1 2 1 2-1 3 1"/>
<path class="c17" d="M583 184l2 0 2-1"/>
<path class="c16" d="M587 183l3 1 2 1"/>
<path class="c15" d="M592 185l3 1 2 0"/>
<path class="c14" d="M597 186l2 1 3-1 2 0"/>
<path class="c13" d="M604 186l2 0 3-1 2-1"/>
<path class="c12" d="M611 184l2 1 3-1 2 1"/>
<path class="c11" d="M618 185l2 1 3 2"/>
<path class="c10" d="M623 188l2 0"/>
<path class="c6" d="M389 337l2-2 3-1 2-2 3-2 2-1 2-2 3-2"/>
<path class="c7" d="M406 325l2-1 2-2 3-2 2-1 2-2 3-2 2-2 2-2"/>
<path class="c8" d="M424 311l3-1 2-2 2-2 3-2 2-3 3 0"/>
<path class="c9" d="M439 301l2-3 2-2 3-2 2-2 2-3"/>
<path class="c10" d="M450 289l3-3 2-1 2-3 3-2"/>
<path class="c11" d="M460 280l2-1 2-2 3-4"/>
<path class="c12" d="M467 273l2-3 2-2 3-2"/>
<path class="c13" d="M474 266l2-3 3-2 2-3 2-2"/>
<path class="c14" d="M483 256l3-1 2-5"/>
<path class="c15" d="M488 250l2-2 3-2 2-5"/>
<path class="c16" d="M495 241l2-2 3-1"/>
<path class="c17" d="M500 238l2-5 2-4"/>
<path class="c18" d="M504 229l3-2 2-3 2-4"/>
<path class="c19" d="M511 220l3-1 2-3"/>
<path class="c20" d="M516 216l3-3 2-2 2-3"/>
<path class="c21" d="M523 208l3-2 2-1 2-3 3-3"/>
<path class="c22" d="M533 199l2-4 2-2 3-1"/>
<path class="c23" d="M540 192l2-6 2 1 3-3 2-2 2-3 3-4 2-1 3-2 2 4 2-1"/>
<path class="c22" d="M563 175l3 4"/>
<path class="c21" d="M566 179l2 1 2 0"/>
<path class="c20" d="M570 180l3 4"/>
<path class="c19" d="M573 184l2-1 2 2"/>
<path class="c18" d="M577 185l3 0 2 2"/>
<path class="c17" d="M582 187l2-2 3 1 2-1 2 0"/>
<path class="c16" d="M591 185l3 1 2 0"/>
<path class="c15" d="M596 186l3 1 2-1"/>
<path class="c14" d="M601 186l2 2 3-1 2-1"/>
<path class="c13" d="M608 186l2 0 3-1 2 0"/>
<path class="c12" d="M615 185l2 1 3 0"/>
<path class="c11" d="M620 186l2 0 2 1 3 2"/>
<path class="c10" d="M627 189l2 0"/>
<path class="c6" d="M393 338l2-2 3-1 2-2 3-2 2-1 2-1 3-3 2-1"/>
<path class="c7" d="M412 325l2-2 3-2 2-1 2-2 3-2 2-2 2-2 3-1"/>
<path class="c8" d="M431 311l2-2 2-2 3-2 2-2 3-1 2-3"/>
<path class="c9" d="M445 299l2-2 3-1 2-3 2-3 3-2"/>
<path class="c10" d="M457 288l2-2 2-2 3-2"/>
<path class="c11" d="M464 282l2-1 2-3 3-3 2-4"/>
<path class="c12" d="M473 271l2-1 3-2 2-3"/>
<path class="c13" d="M480 265l3-2 2-3 2-2"/>
<path class="c14" d="M487 258l3-2 2-4 2-2"/>
<path class="c15" d="M494 250l3-3 2-5 2-2"/>
<path class="c16" d="M501 240l3-1 2-4"/>
<path class="c17" d="M506 235l2-4 3-1"/>
<path class="c18" d="M511 230l2-4 2-4 3 0"/>
<path class="c19" d="M518 222l2-2 3-3 2-2 2-3"/>
<path class="c20" d="M527 212l3-3 2 0 2-4"/>
<path class="c21" d="M534 205l3-3 2-3 2-2 3-1"/>
<path class="c22" d="M544 196l2-5 2-1 3-2 2-1 2-3 3-4 2 0 3-3 2 4 2-2"/>
<path class="c21" d="M567 179l3 3 2 2"/>
<path class="c20" d="M572 184l2 0"/>
<path class="c19" d="M574 184l3 3 2-1"/>
<path class="c18" d="M579 186l2 1 3 0"/>
<path class="c17" d="M584 187l2 2 2-3 3 1 2 0"/>
<path class="c16" d="M593 187l2 1 3 0"/>
<path class="c15" d="M598 188l2-1 3 0 2-2"/>
<path class="c14" d="M605 185l2 3 3-1 2 1"/>
<path class="c13" d="M612 188l2-1 3-1"/>
<path class="c12" d="M617 186l2 0 2 1 3 0"/>
<path class="c11" d="M624 187l2 0 2 1"/>
<path class="c10" d="M628 188l3 2 2 0"/>
<path class="c6" d="M397 339l2-2 3-1 2-2 3-2 2-1 2-1 3-3 2-1 2-1"/>
<path class="c7" d="M418 325l3-2 2-2 2-2 3-2 2-2 2-1 3-2 2-2"/>
<path class="c8" d="M437 310l2-2 3-2 2-2 3-1 2-3 2-1"/>
<path class="c9" d="M451 299l3-2 2-2 2-3 3-2"/>
<path class="c10" d="M461 290l2-2 2-3 3-2 2-1"/>
<path class="c11" d="M470 282l2-2 3-4 2-3 2-1"/>
<path class="c12" d="M479 272l3-3 2-2 3-2"/>
<path class="c13" d="M487 265l2-4 2-2 3-2"/>
<path class="c14" d="M494 257l2-4 2-2 3-3"/>
<path class="c15" d="M501 248l2-4 2-2 3-2"/>
<path class="c16" d="M508 240l2-3 2-2"/>
<path class="c17" d="M512 235l3-3 2-3 2-4"/>
<path class="c18" d="M519 225l3 0 2-2 3-2 2-2"/>
<path class="c19" d="M529 219l2-4 3-3 2-1 2-1"/>
<path class="c20" d="M538 210l3-5 2-3 2-2"/>
<path class="c21" d="M545 200l3 1 2-6 2 0 3-2 2-2 2-3 3-4 2 1 3-3 2 4 2-2 3 2"/>
<path class="c20" d="M574 186l2 1"/>
<path class="c19" d="M576 187l2 0 3 2"/>
<path class="c18" d="M581 189l2-1 2 1"/>
<path class="c17" d="M585 189l3 0 2 2 2-3"/>
<path class="c16" d="M592 188l3 2 2-1 2 1 3-2"/>
<path class="c15" d="M602 188l2 0 3 0 2-1"/>
<path class="c14" d="M609 187l2 2 3-1 2 0"/>
<path class="c13" d="M616 188l2 0 3 0"/>
<path class="c12" d="M621 188l2-1 2 2 3-1"/>
<path class="c11" d="M628 188l2 1 2 1"/>
<path class="c10" d="M632 190l3 2 2-1"/>
<path class="c6" d="M401 340l2-2 3-1 2-2 3-2 2-1 2-1 3-2 2-2 2-1 3-2"/>
<path class="c7" d="M425 324l2-2 2-1 3-3 2-2 2-1 3-2 2-1 2-3"/>
<path class="c8" d="M443 309l3-2 2-2 3 0 2-3 2-2"/>
<path class="c9" d="M455 300l3-1 2-2 2-4 3-2 2-2"/>
<path class="c10" d="M467 289l2-2 3-2 2-2 2-2"/>
<path class="c11" d="M476 281l3-3 2-3 2-2"/>
<path class="c12" d="M483 273l3-2 2-3 3-2 2-3"/>
<path class="c13" d="M493 263l2-2 3-2 2-3"/>
<path class="c14" d="M500 256l2-2 3-3 2-5"/>
<path class="c15" d="M507 246l2-1 3-2 2-3"/>
<path class="c16" d="M514 240l2-3 3-3"/>
<path class="c17" d="M519 234l2-2 2-3 3-1 2-1 3-3"/>
<path class="c18" d="M531 224l2-2 2-3 3-3 2-2"/>
<path class="c19" d="M540 214l2-2 3-5 2-1 2-1"/>
<path class="c20" d="M549 205l3 0 2-7 2 0 3-2 2-1 2-3 3-2 2 0 3-3 2 4 2-3 3 3"/>
<path class="c19" d="M578 191l2-1 2 0"/>
<path class="c18" d="M582 190l3 2 2-1"/>
<path class="c17" d="M587 191l2 1 3-1 2 2"/>
<path class="c16" d="M594 193l2-2 3 0 2-1 2 1"/>
<path class="c15" d="M603 191l3-1 2-1 3 0"/>
<path class="c14" d="M611 189l2-1 2 2 3-1"/>
<path class="c13" d="M618 189l2 0 2 0 3-1"/>
<path class="c12" d="M625 188l2 0 2 2 3-1"/>
<path class="c11" d="M632 189l2 1 2 1"/>
<path class="c10" d="M636 191l3 2 2-1"/>
<path class="c6" d="M405 341l2-2 3-1 2-2 3-1 2-2 2-1 3-2 2-2 2-1 3-2 2-2"/>
<path class="c7" d="M431 323l2-1 3-2 2-2 2-2 3-1 2-2 2-2 3-2"/>
<path class="c8" d="M450 309l2-2 3-1 2-3 2-2 3-1"/>
<path class="c9" d="M462 300l2-2 2-3 3-2 2-2 2-3"/>
<path class="c10" d="M473 288l3-2 2-2 2-2 3-3"/>
<path class="c11" d="M483 279l2-2 2-2 3-2"/>
<path class="c12" d="M490 273l2-3 2-2 3-3 2-2"/>
<path class="c13" d="M499 263l3-3 2-3 2-2"/>
<path class="c14" d="M506 255l3-2 2-4 2-2"/>
<path class="c15" d="M513 247l3-2 2-3 2-3"/>
<path class="c16" d="M520 239l3-3 2-1 2-4 3 0"/>
<path class="c17" d="M530 231l2-1 2-2 3-2 2-4 3-1"/>
<path class="c18" d="M542 221l2-3 2-2 3-5 2-1"/>
<path class="c19" d="M551 210l2-2 3 0 2-5 2 0 3-3 2-1 2-3"/>
<path class="c20" d="M567 196l3-1 2 0 2-2"/>
<path class="c19" d="M574 193l3 2 2-2 3 0 2 0"/>
<path class="c18" d="M584 193l2 0 3 2"/>
<path class="c17" d="M589 195l2 0 2-1 3 0"/>
<path class="c16" d="M596 194l2 0 2-1 3 0 2-1"/>
<path class="c15" d="M605 192l2 1 3-1 2-2 2-1"/>
<path class="c14" d="M614 189l3-1 2 2 3-1"/>
<path class="c13" d="M622 189l2 0 2 1 3-1"/>
<path class="c12" d="M629 189l2-1 2 2 3-1"/>
<path class="c11" d="M636 189l2 2 2 2"/>
<path class="c10" d="M640 193l3 1"/>
<path class="c9" d="M643 194l2-1"/>
<path class="c6" d="M409 342l2-2 3-1 2-2 2-1 3-2 2-1 3-2 2-2 2-1 3-2 2-2 2-1"/>
<path class="c7" d="M437 323l3-2 2-2 2-1 3-2 2-2 2-2 3-2"/>
<path class="c8" d="M454 310l2-2 2-1 3-3 2-2 3-1 2-2"/>
<path class="c9" d="M468 299l2-3 3-1 2-3 2-2 3-2"/>
<path class="c10" d="M480 288l2-2 2-2 3-3 2-3"/>
<path class="c11" d="M489 278l2-1 3-3 2-2 2-2"/>
<path class="c12" d="M498 270l3-3 2-2 3-2"/>
<path class="c13" d="M506 263l2-3 2-3 3-2 2-4"/>
<path class="c14" d="M515 251l2-2 3-1 2-4"/>
<path class="c15" d="M522 244l2-2 3-3 2-2"/>
<path class="c16" d="M529 237l2-2 3-1 2 0 2-4 3-2"/>
<path class="c17" d="M541 228l2-2 3-1 2-4 2-2 3-4"/>
<path class="c18" d="M553 215l2-3 2-1 3 1 2-4 2-1 3-2 2-1"/>
<path class="c19" d="M569 204l2-2 3-2 2 0 2-3 3 1"/>
<path class="c18" d="M581 198l2-1 3 0 2-1 2-1"/>
<path class="c17" d="M590 195l3 3 2-1 2-1"/>
<path class="c16" d="M597 196l3-1 2 1 2-1 3 0"/>
<path class="c15" d="M607 195l2-2 2 1 3 0 2-2"/>
<path class="c14" d="M616 192l2-2 3-1 2 3 3-1"/>
<path class="c13" d="M626 191l2-1 2 1 3-1"/>
<path class="c12" d="M633 190l2-1 2 1 3 1"/>
<path class="c11" d="M640 191l2 1 2 2"/>
<path class="c10" d="M644 194l3 1"/>
<path class="c9" d="M647 195l2-1"/>
<path class="c5" d="M413 343l2-1 3-2"/>
<path class="c6" d="M418 340l2-1 2-2 3-2 2-1 3-2 2-2 2-1 3-2 2-2 2-1 3-2"/>
<path class="c7" d="M444 322l2-2 2-1 3-2 2-2 2-2 3-2 2-2"/>
<path class="c8" d="M460 309l2-1 3-2 2-2 3-2 2-2 2-2"/>
<path class="c9" d="M474 298l3-2 2-2 2-2 3-2"/>
<path class="c10" d="M484 290l2-3 2-2 3-2 2-3 2-1"/>
<path class="c11" d="M495 279l3-4 2-1 2-2 3-3"/>
<path class="c12" d="M505 269l2-1 3-2 2-3 2-3"/>
<path class="c13" d="M514 260l3-2 2-4 2-2"/>
<path class="c14" d="M521 252l3-2 2-2 2-3"/>
<path class="c15" d="M528 245l3-3 2-3 2-2 3-1 2 0"/>
<path class="c16" d="M540 236l2-3 3-2 2-2 3-2 2-2"/>
<path class="c17" d="M552 225l2-2 3-5 2-2 2-2 3 1 2-3"/>
<path class="c18" d="M566 212l2 0 3-3 2-1 2-2 3-2 2 0 2-2 3-1 2-1 3 0"/>
<path class="c17" d="M590 200l2-1 2 0 3 1 2-1"/>
<path class="c16" d="M599 199l2-1 3-1 2 1 2-1"/>
<path class="c15" d="M608 197l3-1 2-1 2 1 3-1"/>
<path class="c14" d="M618 195l2-2 2-1 3-1 2 1 3 0"/>
<path class="c13" d="M630 192l2 0 2 0 3 0"/>
<path class="c12" d="M637 192l2-1 2 1 3-1"/>
<path class="c11" d="M644 191l2 2 2 2"/>
<path class="c10" d="M648 195l3 1"/>
<path class="c9" d="M651 196l2-1"/>
<path class="c5" d="M417 344l2-1 3-2 2-1"/>
<path class="c6" d="M424 340l2-2 3-1 2-2 3-2 2-2 2-1 3-2 2-2 2-1 3-1 2-3"/>
<path class="c7" d="M450 321l2-1 3-2 2-2 2-2 3-2 2-2 2-1"/>
<path class="c8" d="M466 309l3-2 2-2 3-1 2-3 2-2 3-2"/>
<path class="c9" d="M481 297l2-2 2-2 3-1 2-3"/>
<path class="c10" d="M490 289l2-2 3-2 2-3 2-1 3-4"/>
<path class="c11" d="M502 277l2-2 2-1 3-2 2-2"/>
<path class="c12" d="M511 270l3-2 2-3 2-2 3-2"/>
<path class="c13" d="M521 261l2-3 2-3 3-1 2-4"/>
<path class="c14" d="M530 250l2-3 3-2 2-3"/>
<path class="c15" d="M537 242l2-2 3-1 2 1 2-4 3-2 2-2"/>
<path class="c16" d="M551 232l3-2 2-2 2-2 3-4 2-2"/>
<path class="c17" d="M563 220l2-2 3 0 2-3 2-1 3-2 2 0 2-3 3-1 2-1 2-2 3-1 2-2 3 0 2-1 2 0"/>
<path class="c16" d="M598 201l3 1 2-1 2-1 3-2"/>
<path class="c15" d="M608 198l2 2 2-1 3-1 2-1 2 1"/>
<path class="c14" d="M619 198l3-1 2-3 2-1 3-1 2 2"/>
<path class="c13" d="M631 194l3 0 2-1 2 1 3 0"/>
<path class="c12" d="M641 194l2-1 2 0"/>
<path class="c11" d="M645 193l3 0 2 2"/>
<path class="c10" d="M650 195l2 1 3 1"/>
<path class="c9" d="M655 197l2-1"/>
<path class="c5" d="M421 345l2-1 3-2 2-1 2-2"/>
<path class="c6" d="M430 339l3-1 2-2 3-2 2-2 2-1 3-2 2-1 2-2 3-1 2-2"/>
<path class="c7" d="M454 323l2-2 3-1 2-2 2-2 3-2 2-2 2-2 3-2"/>
<path class="c8" d="M473 308l2-2 3-1 2-3 2-2 3-1"/>
<path class="c9" d="M485 299l2-2 2-2 3-2 2-2 2-2"/>
<path class="c10" d="M496 289l3-2 2-2 2-2 3-4 2-2"/>
<path class="c11" d="M508 277l2-1 3-2 2-1 3-2 2-4"/>
<path class="c12" d="M520 267l2-2 3-2 2-2 2-4"/>
<path class="c13" d="M529 257l3-1 2-3 2-3"/>
<path class="c14" d="M536 250l3-2 2-3 2-2 3-3 2 2"/>
<path class="c15" d="M548 242l2-4 3-2 2-2 3-2 2-2 2-1"/>
<path class="c16" d="M562 229l3-4 2-2 2-2 3 1 2-5 2 0 3-2 2 0 2-2 3-2 2-1 2-3 3-1 2-2 3 1 2-1 2-1 3 0 2 0"/>
<path class="c15" d="M607 203l2-1 3-2 2 2 2-1 3-1 2-1"/>
<path class="c14" d="M621 199l2-1 3 0 2-2 2-1 3-1"/>
<path class="c13" d="M633 194l2 1 3 1 2-1 2 0"/>
<path class="c12" d="M642 195l3 0 2-1 2 1"/>
<path class="c11" d="M649 195l3-1 2 2"/>
<path class="c10" d="M654 196l2 1 3 0"/>
<path class="c9" d="M659 197l2 0"/>
<path class="c5" d="M425 346l2-1 3-2 2-1 2-2 3-1"/>
<path class="c6" d="M437 339l2-2 2-2 3-2 2-1 3-2 2-1 2-2 3-1 2-2 2-2"/>
<path class="c7" d="M460 322l3-1 2-2 2-2 3-2 2-2 2-2 3-2 2-1"/>
<path class="c8" d="M479 308l2-2 3-2 2-2 3-2 2-2"/>
<path class="c9" d="M491 298l2-2 3-1 2-3 2-2 3-2 2-2"/>
<path class="c10" d="M505 286l2-2 3-3 2-2 2-2 3-1"/>
<path class="c11" d="M517 276l2-1 2-2 3-4 2-2 3-1"/>
<path class="c12" d="M529 266l2-3 2-3 3-1"/>
<path class="c13" d="M536 259l2-3 2-3 3-2 2-3"/>
<path class="c14" d="M545 248l2-3 3-1 2 1 2-5 3-1 2-2"/>
<path class="c15" d="M559 237l2-3 3-1 2-2 3-4 2-1 2-2"/>
<path class="c16" d="M573 224l3-1 2-3 2-1 3-1 2-1 2-1 3-1 2-2 2-3 3 0 2-3 2 0 3-1 2-1"/>
<path class="c15" d="M606 205l3 0 2-1 2 0 3-2 2 2 2-1 3 0"/>
<path class="c14" d="M623 203l2-2 2 0 3-1 2-2 2-1"/>
<path class="c13" d="M634 197l3-1 2 0 2 1 3-1 2 0"/>
<path class="c12" d="M646 196l3 1 2-1 2 0"/>
<path class="c11" d="M653 196l3-1 2 2"/>
<path class="c10" d="M658 197l2 1 3 0"/>
<path class="c9" d="M663 198l2 0"/>
<path class="c5" d="M429 348l2-2 3-2 2-1 2-2 3-1"/>
<path class="c6" d="M441 340l2-2 2-2 3-1 2-2 3-2 2-1 2-2 3-1 2-2 2-2 3-1"/>
<path class="c7" d="M467 322l2-2 2-2 3-2 2-2 2-1 3-2 2-2"/>
<path class="c8" d="M483 309l2-2 3-2 2-2 3-2 2-2 2-2"/>
<path class="c9" d="M497 297l3-1 2-1 2-3 3-2 2-2 2-3"/>
<path class="c10" d="M511 285l3-2 2-2 2-2 3-1 2-1"/>
<path class="c11" d="M523 277l2-2 3-4 2-2 3-1 2-2"/>
<path class="c12" d="M535 266l2-4 3-1 2-3 2-3"/>
<path class="c13" d="M544 255l3-2 2-2 2-2 3-3"/>
<path class="c14" d="M554 246l2 2 2-6 3-1 2-2 2-2 3-1"/>
<path class="c15" d="M568 236l2-3 3-3 2-2 2-2 3 0 2-4 2 0 3-1 2-1 2-1 3-1 2-1 2-4 3-1 2-2 2 0 3-2 2-1 3 1 2-2 2 0 3-2 2 2"/>
<path class="c14" d="M622 206l2-1 3-1 2-1 2-1 3 0 2-2"/>
<path class="c13" d="M636 200l2 0 3-2 2 0 2 1 3-1"/>
<path class="c12" d="M648 198l2 0 3 0 2 0"/>
<path class="c11" d="M655 198l2-1 3 0 2 1"/>
<path class="c10" d="M662 198l2 1 3 0"/>
<path class="c9" d="M667 199l2 0"/>
<path class="c5" d="M433 349l2-2 3-2 2-1 2-2 3-1 2-2"/>
<path class="c6" d="M447 339l2-2 3-1 2-2 3-2 2-1 2-2 3-1 2-2 2-2 3-1 2-2"/>
<path class="c7" d="M473 321l2-2 3-2 2-1 2-2 3-2 2-2 2-2"/>
<path class="c8" d="M489 308l3-2 2-1 3-3 2-2 2-2 3-1 2-1"/>
<path class="c9" d="M506 296l2-3 3-1 2-3 2-2 3-2"/>
<path class="c10" d="M518 285l2-3 2-1 3-1 2-2 2-1 3-4"/>
<path class="c11" d="M532 273l2-2 3-2 2-1 2-4"/>
<path class="c12" d="M541 264l3-1 2-3 2-3 3-1 2-3"/>
<path class="c13" d="M553 253l2-2 3-2 2 0 2-5 3 0"/>
<path class="c14" d="M565 244l2-3 2-2 3-1 2-3 3-2 2-1"/>
<path class="c15" d="M579 232l2-3 3-1 2-3 2-2 3 0 2 0 2-2 3 0 2-2 2-3 3-2 2-1 2 0 3-2 2-1 3 1 2-2"/>
<path class="c14" d="M619 209l2-1 3-1 2 2 2-2 3-2 2 0 2-1 3-2"/>
<path class="c13" d="M638 202l2-1 2 0 3-1 2 0 2 1"/>
<path class="c12" d="M649 201l3-2 2 0 3 1 2-1"/>
<path class="c11" d="M659 199l2 0 3-1"/>
<path class="c10" d="M664 198l2 1 2 1"/>
<path class="c9" d="M668 200l3 0 2 0"/>
<path class="c5" d="M437 350l2-2 3-2 2-1 2-2 3-1 2-2 2-2"/>
<path class="c6" d="M453 338l3-1 2-2 3-2 2-1 2-2 3-1 2-2 2-2 3-1 2-2 2-2"/>
<path class="c7" d="M479 320l3-1 2-2 2-2 3-2 2-2 2-2 3-2"/>
<path class="c8" d="M496 307l2-1 3-3 2-2 2-1 3-1 2-1 2-3"/>
<path class="c9" d="M512 295l3-1 2-3 2-3 3-2 2-2 2-2"/>
<path class="c10" d="M526 282l3-1 2-1 2-1 3-4 2-2 3-2"/>
<path class="c11" d="M541 271l2-1 2-3 3-2 2-2"/>
<path class="c12" d="M550 263l2-4 3-1 2-3 2-2"/>
<path class="c13" d="M559 253l3-2 2 0 2-4 3-1 2-2 2-3"/>
<path class="c14" d="M573 241l3-1 2-3 3-2 2-2 2-1 3-2 2-3 2-2 3-1"/>
<path class="c15" d="M595 224l2 1 2-2 3 0 2-1 2-4 3-1 2-2 2-1"/>
<path class="c14" d="M613 214l3-1 2 0 3 0 2-2 2-1 3-1 2 2 2-1 3-3 2 0"/>
<path class="c13" d="M637 207l2-2 3 0 2-2 2 0 3-1 2-2"/>
<path class="c12" d="M651 200l2 2 3-1 2-1 3 0"/>
<path class="c11" d="M661 200l2 1 2-1 3-1"/>
<path class="c10" d="M668 199l2 2 2 0"/>
<path class="c9" d="M672 201l3 0 2 0"/>
<path class="c5" d="M441 350l2-1 3-2 2-2 2-1 3-2 2-1 2-2"/>
<path class="c6" d="M457 339l3-1 2-2 3-1 2-2 2-2 3-1 2-2 2-2 3-1 2-2 2-2"/>
<path class="c7" d="M483 321l3-1 2-2 2-2 3-2 2-1 2-3 3-2 2-1"/>
<path class="c8" d="M502 307l3-2 2-2 2-2 3-1 2-1 2-3 3-1"/>
<path class="c9" d="M519 295l2-2 2-3 3-2 2-2 2-2 3-1 2-2"/>
<path class="c10" d="M535 281l2-1 3-3 2-3 3-1 2-1"/>
<path class="c11" d="M547 272l2-4 3 0 2-3 2-3"/>
<path class="c12" d="M556 262l3-2 2-2 2-2 3-3 2-1"/>
<path class="c13" d="M568 252l2-3 3 0 2-3 2-3 3-1 2-3"/>
<path class="c14" d="M582 239l3-2 2-1 2-1 3-2 2-4 2-1 3-1 2 0 2-1 3-1 2-2 2-2 3-2 2-1 2-1 3-1 2-2 2 1 3-1 2-1 3-2 2 1 2-1"/>
<path class="c13" d="M636 211l3-3 2 0 2-1 3-1 2-1 2-1 3-1"/>
<path class="c12" d="M653 203l2-1 2 1 3 0 2-1"/>
<path class="c11" d="M662 202l2 0 3 1 2-1"/>
<path class="c10" d="M669 202l3-1 2 1 2 0"/>
<path class="c9" d="M676 202l3 0 2 0"/>
<path class="c5" d="M445 351l2-2 3-1 2-2 2-1 3-2 2-1 2-2"/>
<path class="c6" d="M461 340l3-1 2-2 2-1 3-2 2-2 3-1 2-2 2-2 3-1 2-2 2-2 3-1"/>
<path class="c7" d="M490 321l2-3 2-1 3-2 2-1 2-2 3-2 2-2 2-2 3-2"/>
<path class="c8" d="M511 304l2-2 3 0 2-2 2-3 3-1 2-2 2-3"/>
<path class="c9" d="M527 291l3-1 2-2 2-2 3-2 2-2 2-1 3-3"/>
<path class="c10" d="M544 278l2-2 2-2 3-1 2-2 3-1"/>
<path class="c11" d="M556 270l2-3 2-3 3-3 2-1"/>
<path class="c12" d="M565 260l2-2 3-3 2-1 2-3 3 0"/>
<path class="c13" d="M577 251l2-3 2-2 3-2 2-3 2-2 3-1 2-1"/>
<path class="c14" d="M593 237l3-2 2-3 2-2 3-1 2 0 2-2 3-1 2-1 2-2 3-1 2-1 2-2 3-1 2-1 2 0 3-2"/>
<path class="c13" d="M631 215l2-1 3-1 2 1 2-2 3-2 2 0 2-1 3-2 2 0 2-1"/>
<path class="c12" d="M654 206l3-1 2-1 2 1 3-2"/>
<path class="c11" d="M664 203l2 0 2 0 3 1 2 0"/>
<path class="c10" d="M673 204l3-2 2 1"/>
<path class="c9" d="M678 203l2 0 3 0 2 0"/>
<path class="c5" d="M449 352l2-2 3-1 2-2 2-2 3-1 2-1 2-2 3-1"/>
<path class="c6" d="M468 340l2-2 2-1 3-2 2-2 3-1 2-2 2-2 3-1 2-2 2-2 3-1 2-2"/>
<path class="c7" d="M496 320l2-2 3-1 2-2 2-2 3-2 2-1 2-3 3-1 2-2"/>
<path class="c8" d="M517 304l3-1 2-1 2-3 3-1 2-3 2-2 3-1"/>
<path class="c9" d="M534 292l2-2 2-2 3-2 2-2 2-1 3-2 2-2"/>
<path class="c10" d="M550 279l2-3 3-1 2-3 3 0 2-4"/>
<path class="c11" d="M562 268l2-2 3-2 2-2 2-2 3-2"/>
<path class="c12" d="M574 258l2-2 2-3 3 0 2-3 2-1"/>
<path class="c13" d="M585 249l3-2 2-3 2-3 3-1 2 0 3-3 2-3 2-2"/>
<path class="c14" d="M604 232l3-1 2 0 2-2 3-1 2-1 2-2 3-1 2-1"/>
<path class="c13" d="M623 223l2-2 3-1 2-1 2-1 3-1 2-1 3-1 2-1 2 0 3-2 2-1 2-2 3 0 2-1"/>
<path class="c12" d="M656 208l2-1 3 0 2-1 2 0"/>
<path class="c11" d="M665 206l3-1 2-1 2 1 3 0"/>
<path class="c10" d="M675 205l2 1 3-2 2 0"/>
<path class="c9" d="M682 204l2 1 3-1 2 0"/>
<path class="c5" d="M453 352l2-1 3-1 2-3 2-1 3-1 2-2 2-2 3-1"/>
<path class="c6" d="M472 340l2-1 2-2 3-1 2-2 3-2 2-2 2-1 3-1 2-2 2-2 3-1 2-2 2-2"/>
<path class="c7" d="M502 319l3-2 2-1 2-2 3-2 2-1 2-2 3-2 2-2 3-1"/>
<path class="c8" d="M524 304l2-1 2-2 3-2 2-2 2-2 3-1 2-3 2-2"/>
<path class="c9" d="M542 289l3-1 2-2 2-2 3-1 2-2 2-3 3-1"/>
<path class="c10" d="M559 277l2-3 3-1 2-3 2-2 3-2"/>
<path class="c11" d="M571 266l2-3 2-1 3-3 2-2 2-1"/>
<path class="c12" d="M582 256l3 0 2-3 2-2 3-3 2-2 2-2"/>
<path class="c13" d="M596 244l3-2 2-1 3-2 2-2 2-3 3 0 2-1 2-2 3-1 2-1 2-2 3-1 2-2 2-1 3-1 2-2 2-1 3 0 2-1 3-1 2-1 2-1 3-1 2-1 2-3"/>
<path class="c12" d="M655 210l3 0 2 0 2-1 3 0 2-1"/>
<path class="c11" d="M667 208l2-1 3-1 2 0 2 0"/>
<path class="c10" d="M676 206l3 1 2 1 3-2 2-1"/>
<path class="c9" d="M686 205l2 1 3-2 2 0"/>
<path class="c5" d="M457 353l2-2 3-1 2-2 2-1 3-2 2-1 2-2 3-1"/>
<path class="c6" d="M476 341l2-1 2-2 3-2 2-2 3-1 2-2 2-1 3-1 2-2 2-2 3-1 2-2 2-2 3-1 2-2"/>
<path class="c7" d="M511 317l2-1 3-2 2-2 2-2 3-1 2-2 3-1 2-2 2-2"/>
<path class="c8" d="M532 302l3-1 2-3 2-2 3-1 2-2 2-2 3-1 2-2"/>
<path class="c9" d="M551 288l2-2 3-1 2-3 2-3 3-1 2-2"/>
<path class="c10" d="M565 276l3-1 2-3 2-2 3-2 2-2"/>
<path class="c11" d="M577 266l2-2 3-3 2-2 2-1 3-1 2-2"/>
<path class="c12" d="M591 255l2-2 3-2 2-3 2-2 3-2 2-1"/>
<path class="c13" d="M605 243l3-2 2-2 2-3 3 0 2-2 2-1 3-2 2-1 2 0 3-2 2-1 2-2 3 0 2-2 2-2 3 0 2-1 3-2 2-1"/>
<path class="c12" d="M650 217l2 0 3-2 2-1 2-2 3-1 2 0 2 0 3-1"/>
<path class="c11" d="M669 210l2-1 2 0 3-2 2 0"/>
<path class="c10" d="M678 207l2 1 3 1 2 0 3-1"/>
<path class="c9" d="M688 208l2-1 2 0 3-1 2-1"/>
<path class="c5" d="M461 354l2-2 3-1 2-2 2-1 3-2 2-1 2-2 3-1"/>
<path class="c6" d="M480 342l2-2 2-1 3-2 2-2 3-1 2-2 2-1 3-1 2-2 2-2 3-1 2-2 2-2 3-1 2-2 2-1"/>
<path class="c7" d="M517 317l3-2 2-1 2-2 3-2 2-2 3-1 2-2 2-2 3-1"/>
<path class="c8" d="M539 302l2-2 2-3 3-1 2-2 2-1 3-2 2-2 2-1 3-2"/>
<path class="c9" d="M560 286l2-2 2-3 3-1 2-2 2-2 3-2"/>
<path class="c10" d="M574 274l2-2 3-2 2-3 2-2 3-1"/>
<path class="c11" d="M586 264l2-3 2-1 3-1 2-2 2-2 3-3"/>
<path class="c12" d="M600 252l2-2 2-2 3-2 2-1 2-3 3-1"/>
<path class="c13" d="M614 241l2-3 3 0 2-1 2-3 3-1 2-1 2-1 3-1 2-2 2-1"/>
<path class="c12" d="M637 227l3 0 2-1 2-2 3-2 2-1 2-1 3-1 2-2 3-1 2-1 2-1 3-1 2 0 2-1"/>
<path class="c11" d="M670 212l3-1 2-1 2 0 3-1"/>
<path class="c10" d="M680 209l2 0 2 1 3 0 2 0"/>
<path class="c9" d="M689 210l2-1 3-1 2 0 3-2 2 0"/>
<path class="c5" d="M465 354l2-2 3-1 2-2 2-1 3-1 2-1 2-2 3-1"/>
<path class="c6" d="M484 343l2-2 2-1 3-2 2-2 2-1 3-2 2-1 3-2 2-1 2-2 3-1 2-2 2-2 3-1 2-2 2-1 3-2"/>
<path class="c7" d="M524 316l2-1 2-2 3-1 2-2 2-2 3-1 2-2 3-2 2-2 2-2"/>
<path class="c8" d="M547 299l3-1 2-2 2-1 3-2 2-2 2-2 3-1 2-2 2-3"/>
<path class="c9" d="M568 283l3-1 2-2 2-2 3-2 2-2 3-2"/>
<path class="c10" d="M583 272l2-3 2-2 3-2 2-2 2-1"/>
<path class="c11" d="M594 262l3-1 2-2 2-2 3-3 2-1 2-3"/>
<path class="c12" d="M608 250l3-2 2-1 2-2 3-3 2-2 3 1 2-3 2-2 3-1 2-1 2-1 3-2 2 0 2-2 3-1 2 0 2-2 3-2 2-1 2-2 3-1 2-1 3-1 2-1 2-2 3 0 2 0"/>
<path class="c11" d="M672 215l2-1 3-1 2-1 2 0"/>
<path class="c10" d="M681 212l3-1 2 0 2 0 3 0"/>
<path class="c9" d="M691 211l2 0 2-1 3-1 2 0 3-2 2 0"/>
<path class="c5" d="M469 355l2-2 3-1 2-2 2-1 3-2 2-1 2-1 3-2"/>
<path class="c6" d="M488 343l2-1 2-2 3-1 2-2 2-1 3-2 2-1 3-2 2-1 2-2 3-1 2-2 2-1 3-2 2-1 2-2 3-1 2-2 2-1"/>
<path class="c7" d="M532 315l3-2 2-2 2-2 3-1 2-2 3-2 2-2 2-2 3-1 2-2"/>
<path class="c8" d="M556 297l2-1 3-1 2-2 2-2 3-1 2-2 2-3 3-1 2-2"/>
<path class="c9" d="M577 282l2-2 3-2 2-2 3-2 2-2 2-3"/>
<path class="c10" d="M591 269l3-2 2-2 2-2 3 0 2-2 2-3"/>
<path class="c11" d="M605 258l3-3 2 0 2-2 3-3 2-1"/>
<path class="c12" d="M617 249l2-2 3-2 2-2 3-1 2-2 2-2 3-1 2-1 2-1 3-1 2-1 2-1 3-3 2 1 2-3 3-2 2 0 2-2 3-1 2-2 3-1 2-1 2-1"/>
<path class="c11" d="M671 217l3 0 2-1 2 0 3-1 2-1"/>
<path class="c10" d="M683 214l2 0 3-1 2 0 2 0"/>
<path class="c9" d="M692 213l3 0 2 0 2-1 3-2 2 0 3-2 2 0"/>
<path class="c5" d="M473 355l2-1 3-1 2-3 2-1 3-1 2-1 2-2 3-1"/>
<path class="c6" d="M492 344l2-1 2-2 3-2 2-1 2-2 3-1 2-1 3-2 2-1 2-2 3-1 2-2 2-1 3-2 2-1 2-2 3-1 2-2 2-1 3-2"/>
<path class="c7" d="M539 314l2-2 2-1 3-2 2-2 3-2 2-1 2-2 3-2 2-2 2-1 3-1"/>
<path class="c8" d="M565 296l2-2 2-1 3-2 2-2 2-3 3 0 2-2 2-2 3-2"/>
<path class="c9" d="M586 280l2-2 3-3 2-2 2-2 3-2 2-2"/>
<path class="c10" d="M600 267l2-1 3-2 2-1 2-3 3-2 2-1"/>
<path class="c11" d="M614 257l2-2 3-3 2-1 2-1 3-3 2-2"/>
<path class="c12" d="M628 245l3-1 2-2 2-2 3-2 2 0 2-1 3-2 2 0 2-2 3-2 2 0 2-2 3-3 2 0 2-1 3-2 2-1 3-1"/>
<path class="c11" d="M671 221l2-1 2-2 3 0 2 0 2-1"/>
<path class="c10" d="M682 217l3 0 2-1 2 0 3-1"/>
<path class="c9" d="M692 215l2 0 2 0 3-1 2 1 2-1 3-2"/>
<path class="c8" d="M706 212l2 0 3-2 2 0"/>
<path class="c5" d="M477 355l2-1 3-1 2-2 2-1 3-1 2-1 2-2"/>
<path class="c6" d="M493 346l3-1 2-2 2-1 3-2 2-1 2-1 3-2 2-1 3-2 2-1 2-1 3-2 2-2 2-1 3-2 2-1 2-1 3-1 2-3 2-1 3-1 2-2 2-2"/>
<path class="c7" d="M547 312l3-1 2-2 3-3 2-1 2-2 3-2 2-1 2-1 3-2 2-1 2-2 3-2 2-1"/>
<path class="c8" d="M578 291l2-3 3-1 2-1 2-2 3-2 2-2 3-2"/>
<path class="c9" d="M595 278l2-2 2-3 3-1 2-2 2-2 3-1"/>
<path class="c10" d="M609 267l2-1 2-3 3-2 2-1 2-3 3-2 2-2"/>
<path class="c11" d="M625 253l2-1 3-3 2-2 3-1 2-1 2-3 3-1 2-1 2-2 3-1 2 0 2-2 3-2 2 0 2-2 3-3 2-1 2-1 3-2 2 0 3-1 2-2 2-1 3 0 2 0"/>
<path class="c10" d="M684 220l2 0 3-1 2-1 2 1"/>
<path class="c9" d="M693 219l3-2 2 1 2-1 3-1 2 0"/>
<path class="c8" d="M705 216l2-1 3-1 2-1 3-1 2 0"/>
<path class="c5" d="M481 356l2-1 3-2 2-1 2-1 3-1"/>
<path class="c6" d="M493 350l2-1 2-2 3-1 2-2 2-1 3-2 2-1 2-2 3-1 2-1 3-2 2-1 2-1 3-2 2-1 2-2 3-1 2-2 2-1 3-1 2-3 2-1 3-1 2-2 2-1 3-2 2-2"/>
<path class="c7" d="M556 310l2-2 3-2 2-2 3-1 2-2 2-1 3-1 2-2 2-1 3-3 2 0 2-3 3-1"/>
<path class="c8" d="M587 289l2-1 2-3 3-1 2-2 2-3 3-1 2-3"/>
<path class="c9" d="M603 275l3-1 2-2 2-2 3-1 2-1 2-3 3-2"/>
<path class="c10" d="M620 263l2-1 2-3 3-2 2-2 2-1 3-3 2-2"/>
<path class="c11" d="M636 249l2-1 3-1 2-3 3-2 2 0 2-2 3-1 2-1 2-1 3-3 2 0 2-2 3-4 2 0 2 0 3-2 2-1 2 0 3-2 2-1 3 0"/>
<path class="c10" d="M686 222l2 0 2 0 3-1 2-1"/>
<path class="c9" d="M695 220l2 1 3-2 2 1 2-1"/>
<path class="c8" d="M704 219l3-1 2 0 2-1 3-2 2 1 2-2"/>
<path class="c7" d="M718 214l3 0"/>
<path class="c6" d="M485 357l2-2 3-1 2-2 2-1 3-1 2-1 2-1 3-1 2-2 2-1 3-2 2-1 2-2 3-1 2-1 2-2 3-1 2-1 3-2 2-1 2-2 3-1 2-2 2-1 3-1 2-2 2-1 3-2 2-1 2-2 3-2 2-2 2-2"/>
<path class="c7" d="M562 309l3-1 2-2 3-2 2-1 2-1 3-2 2-1 2-2 3-2 2-1 2-2 3-1 2-2 2-2 3-1"/>
<path class="c8" d="M598 286l2-2 2-3 3-1 2-3 3-1 2-2 2-2"/>
<path class="c9" d="M614 272l3 0 2-2 2-2 3-2 2-2 2-3 3-2 2-1"/>
<path class="c10" d="M633 258l2-1 3-3 2-2 2-2 3 0 2-3 3-2 2-1 2-2 3-1"/>
<path class="c11" d="M657 241l2-1 2-1 3-4 2 1 2-3 3-3 2-1 2 0 3-2 2 0 2-1 3-1 2-1"/>
<path class="c10" d="M687 224l3 0 2 0 2 0"/>
<path class="c9" d="M694 224l3-1 2 0 2 0 3-1"/>
<path class="c8" d="M704 222l2 1 2-1 3-2 2 0 2-1 3-1"/>
<path class="c7" d="M718 218l2 0 2-1 3-1"/>
<path class="c6" d="M489 357l2-1 3-2 2-1 2-1 3-1 2-1 2-1 3-2 2-1 2-2 3-1 2-1 2-2 3-1 2-2 2-1 3-1 2-1 3-2 2-1 2-2 3-1 2-2 2-1 3-1 2-2 2-1 3-2 2-1 2-2 3-1 2-2 2-3 3-1 2-2"/>
<path class="c7" d="M571 307l3-2 2-1 2-1 3-1 2-2 2-1 3-2 2-1 2-3 3 0 2-2 2-2 3-1 2-2 2-3"/>
<path class="c8" d="M606 283l3-1 2-2 3-2 2-2 2-2 3 0 2-2 2-2"/>
<path class="c9" d="M625 270l3-2 2-1 2-3 3-2 2-1 2-1 3-3 2-2 2-2"/>
<path class="c10" d="M646 253l3 0 2-4 3-2 2 0 2-3 3-1 2-2 2 0 3-4"/>
<path class="c11" d="M668 237l2 0 2-2 3-4 2 0 2-1 3-1 2 0 2 0 3-2"/>
<path class="c10" d="M689 227l2-1 3 0 2 0"/>
<path class="c9" d="M696 226l2 0 3-1 2 0 2 0"/>
<path class="c8" d="M705 225l3-1 2 1 2-1 3-2 2 0"/>
<path class="c7" d="M717 222l2-1 3-1 2-1 2-1 3 0"/>
<path class="c6" d="M493 358l2-1 3-2 2-2 2 0 3-1 2-2 2 0 3-2 2-2"/>
<path class="c5" d="M514 346l2-1 3-2 2-1 2-1 3-1 2-2 2-1 3-1 2-2"/>
<path class="c6" d="M535 334l3-1 2-1 2-2 3-1 2-2 2-1 3-1 2-2 2-1 3-1 2-2 2-1 3-2 2-2 2-2 3-2 2-2 3-1 2-2 2-1 3-1 2-1 2-2 3-2 2 0"/>
<path class="c7" d="M594 298l2-3 3-1 2-1 2-2 3-1 2-2 2-3 3-1 2-3 3-1"/>
<path class="c8" d="M618 280l2-1 2-3 3 1 2-3 2-2 3-2 2-1 2-3 3-2 2-1"/>
<path class="c9" d="M641 263l2 0 3-4 2-1 2-2 3-1 2-3 3-2 2-1"/>
<path class="c10" d="M660 249l2-3 3-2 2-1 2-1 3-4 2 1 2-2"/>
<path class="c11" d="M676 237l3-5 2 0 2 0 3-2 2 1"/>
<path class="c10" d="M688 231l2-1 3-1 2-1 3 0"/>
<path class="c9" d="M698 228l2 0 2 0 3-1 2-1"/>
<path class="c8" d="M707 226l2 1 3-1 2 1 2-1"/>
<path class="c7" d="M716 226l3-2 2 0 2-1 3-2 2 0 2-1 3-1"/>
</g>
<g class="s" shape-rendering="crispEdges" transform="translate(.5 .5)">
<path stroke="#8004ff" d="M148 356 151 358 154 359 158 360 159 360 160 361 164 362 164 363 166 364 167 365 168 366 172 367 176 367 179 369 183 370 184 370 186 371 187 372 188 373 191 374 195 375 198 376 201 377 202 377 204 379 205 379 207 380 210 381 213 382 213 383 216 384 219 385 220 385 222 386 225 388 226 388 228 389 231 390 234 391 237 392 234 394 235 394 239 395 243 396 246 397 250 398 253 398 257 399 261 400 265 401 270 401 274 402 278 403 282 403 287 404 289 404 292 404 296 404 301 405 305 406 309 406 313 407 317 408 321 408 323 408 326 408 331 408 332 408 337 409 341 409 346 409 351 409 355 410 360 410 363 411 365 411 370 411 374 411 376 410 378 410 382 409 384 409 389 409 394 409 399 409 401 408 406 408 412 408 415 408 417 408 421 409 426 409 431 409 433 410 436 409 438 409 442 408 445 408 448 407 452 406 453 406 457 407 462 407 467 407 468 407 472 407 477 407 478 406 480 406 485 406 487 406 491 405 494 405 498 405 499 404 505 404 508 402 512 402 514 401 519 401 521 400 523 400 527 399 530 399 531 398 537 398 540 398 542 397 545 396 548 396 551 396 556 396 557 395 561 395 564 394 566 393 569 393 573 392 574 392 579 391 582 390 582 388 587 387 593 387 594 386 600 386 603 385 608 384 609 384 613 383 614 382 619 381 620 381 623 380 628 379 629 379 628 377 633 377 633 376 638 376 641 375 641 373 644 372 646 370 646 369 646 368 648 367 650 367 654 366 653 365 650 364 656 364 657 364 662 364 666 364 670 365 672 365 672 364 669 362 665 362 665 361 666 361 668 360 672 359 671 358 671 357 670 356 670 355 671 355 675 354 678 353 676 352 673 351 671 349 672 347 672 346 669 345 672 343 671 343 669 342 666 341 666 340 667 339 666 337 664 337 662 336 660 335 656 334 655 333 654 332 653 331 652 330 649 329 649 328 647 327 644 326 640 325 636 324 632 323 628 322 625 321 622 320 618 319 615 318 611 317 608 316 604 315 599 315 595 314 590 314 589 314 586 313 584 313 583 312 582 311 584 309 580 308 578 307M502 292 496 292 492 292 491 292 486 292 483 292 480 293 475 293 474 293 470 293 467 294 464 294 461 294 456 294 455 294 452 295 448 295 443 295 437 296 436 296 431 296 428 296 425 296 421 297 419 297 413 297 409 298 406 298 401 298 400 298 395 298 394 298 389 298 385 299 383 299 380 299 377 300 372 300 371 300 366 300 362 300 360 300 356 300 355 300 349 300 345 300 344 300 339 300 336 300 334 300 329 299 325 299 320 299 315 298 311 298 306 297 302 297 300 297 301 297 302 299 298 299 293 299 292 299 288 299 283 298 280 298 278 298 273 298 269 297 265 297 264 297 263 297 260 296 259 296 255 296"/>
<path stroke="#9c0db4" d="M277 384 278 384 283 385 284 385 287 386 289 388 293 388 298 388 301 390 305 390 309 391 313 392 318 392 322 393 326 393 329 394 331 394 336 394 340 395 344 395 349 396 349 395 353 395 358 394 363 394 367 394 371 394 371 393 375 393 380 393 384 394 386 394 390 393 392 392 395 392 399 391 401 391 405 391 410 391 412 392 416 391 417 391 417 390 415 389 419 389 424 389 429 389 432 388 437 388 439 388 442 388 447 388 452 389 453 388 454 387 455 387 460 387 462 387 466 387 471 387 473 385 474 385 479 385 483 386 486 386 489 386 494 386 495 386 499 386 504 386 506 386 508 385 512 385 516 385 518 384 522 384 523 382 526 381 529 380 532 380 534 379 539 378 541 377 542 377 545 376 549 375 551 375 557 375 559 373 563 372 562 371 562 370 565 370 568 370 568 368 569 368 573 367 574 366 578 364 580 363 582 362 585 361 587 359 590 358 589 356 591 355 591 353 588 351 586 350 588 349 588 348 587 347 587 346 586 345 584 344 581 343 580 342 584 341 582 340 579 338 576 337 572 336 569 335 567 334 566 334 562 333 559 331 557 330 554 328 552 326 552 325 554 323 557 322 556 321 553 320 551 319 551 318 552 317 550 316 550 315 550 313 549 313 546 312 543 311 541 310 540 309 537 308 536 307 534 307 530 306 526 305 524 305 519 306 514 306 512 306 507 307 507 309 503 309 499 309 497 309 492 310 487 309 482 310 481 310 476 309 471 309 470 309 467 309 465 308 464 307 459 307 455 306 450 306 445 306 441 305 440 305 435 305 432 305 430 305 425 305 420 305 419 305 417 306 412 306 410 307 406 307 401 307 400 307 395 307 394 307 391 308 387 310 385 310 381 310 379 310 375 311 373 311 367 311 362 312 360 312 355 312 353 313 349 313 347 313 344 314 340 314 339 314 335 316 335 317 334 317 329 317 325 317 320 316 319 316 317 317 313 317 308 318 307 318 302 317 297 317 292 318 291 318 285 318 281 318 280 318 275 318 273 318 268 319 266 318 263 319 260 319 257 319 253 318 247 318 244 320 245 322 242 322 236 322 230 322 227 321 223 321 225 322 226 323 223 323 219 323 213 323 208 323 208 325 208 326 210 327 210 329 208 331 208 332 207 332 207 334 203 335 203 337 200 338 200 339 201 340 197 341 197 343 198 343 199 345 196 346 196 347 196 348 198 349 202 350 204 351 205 351 209 352 211 353 213 354 213 356 215 356 216 357 216 358 217 360 219 361 222 362 223 363 224 365 225 367 226 367 228 368 231 369 235 370 236 371 237 372 240 373 243 374 247 375 250 376 253 378 255 378 257 379 258 379 262 379 266 380 269 381 273 381 277 382 277 384"/>
<path stroke="#b42000" d="M309 372 309 373 313 374 317 375 321 376 325 376 329 377 334 377 334 375 338 375 341 376 346 376 350 377 355 378 356 378 359 376 362 377 366 377 370 378 374 379 379 379 380 379 380 378 377 377 374 376 379 376 383 376 388 377 389 377 394 376 395 376 400 376 404 377 409 377 410 377 414 377 418 377 420 375 423 375 427 376 431 376 432 376 437 376 440 376 443 375 448 375 450 375 452 374 457 374 459 374 462 374 467 374 472 375 477 374 481 374 480 373 485 373 490 373 493 373 495 373 501 373 502 373 504 372 510 371 510 369 513 368 515 368 520 368 522 367 527 367 528 367 529 366 531 365 532 365 538 364 541 365 540 363 541 363 545 362 549 361 553 360 558 359 559 357 563 356 561 354 560 354 561 353 560 352 557 351 555 350 554 349 551 348 550 347 549 346 546 345 544 343 543 342 542 341 542 340 545 339 546 339 545 337 548 336 548 335 544 334 546 333 547 332 545 331 544 330 542 329 539 328 538 327 537 326 536 325 535 324 533 323 533 322 534 321 534 319 534 318 532 317 529 316 524 315 520 315 517 314 515 314 509 315 503 315 497 315 494 315 492 315 487 315 485 315 480 316 479 316 474 317 473 317 468 317 463 317 458 317 454 317 453 317 448 316 443 316 442 316 437 316 433 316 431 318 429 318 426 319 423 319 419 319 416 319 412 319 409 321 408 321 404 320 399 320 395 319 391 319 389 319 390 319 393 320 397 321 398 322 395 322 390 322 388 322 385 322 379 322 379 324 375 325 374 325 368 325 370 327 368 329 367 329 362 329 357 329 356 330 352 331 349 332 345 332 340 332 336 331 332 331 331 331 326 331 325 333 323 333 318 332 314 333 313 334 313 335 316 337 311 338 310 339 307 339 302 339 298 339 296 339 293 338 288 338 284 338 284 339 283 340 282 341 281 342 278 340 277 340 275 339 271 339 269 339 265 339 267 340 271 341 274 342 279 342 283 343 283 344 281 344 276 344 272 343 267 343 266 343 262 344 261 346 262 346 264 346 267 346 267 347 266 348 265 350 261 351 262 352 263 353 264 354 266 355 260 356 262 358 264 359 265 359 269 360 269 361 271 362 275 363 279 363 282 365 287 365 290 366 295 366 295 368 296 369 300 370 303 371 307 372 309 372M335 377 338 378 340 378 339 377 335 377M337 373 334 372 338 372 340 373 337 373M349 375 353 375 355 376 353 376 349 375M288 340 285 340 289 340 288 340"/>
<path stroke="#ca3e00" d="M358 357 359 357 362 358 367 359 370 359 371 359 374 361 376 360 379 359 379 358 377 357 380 357 382 358 383 359 387 359 388 359 393 359 396 360 401 361 405 361 408 362 412 363 414 365 419 365 422 366 426 367 431 368 435 368 439 369 442 369 440 368 439 367 443 366 448 367 449 367 454 367 458 367 459 367 464 367 467 367 467 365 466 365 468 365 472 365 477 365 482 366 486 365 487 363 493 363 498 362 500 361 501 359 505 359 510 359 512 358 513 357 518 357 520 357 522 356 522 355 522 354 525 354 530 354 530 352 534 351 535 349 534 349 534 347 534 346 531 344 531 343 530 342 530 340 529 339 528 338 532 337 531 336 527 334 526 332 524 330 522 329 522 328 521 326 518 324 519 324 520 322 519 321 516 320 512 319 508 318 504 318 499 318 496 317 493 318 491 318 486 319 485 319 479 320 474 320 472 320 468 320 463 320 462 320 456 321 453 322 449 322 444 322 443 322 439 323 435 324 430 325 431 326 432 327 429 327 426 327 422 328 420 328 417 329 417 330 417 331 416 331 412 332 410 333 406 334 400 334 397 334 393 335 387 336 386 336 388 338 382 338 382 340 383 341 384 342 380 343 382 344 386 345 387 346 387 348 386 348 381 348 378 347 372 347 375 348 375 349 372 350 369 350 370 351 373 352 377 353 379 354 376 354 372 353 366 353 363 352 359 351 357 351 358 352 362 353 366 353 370 354 372 356 374 356 371 357 366 356 362 355 360 356 358 357"/>
<path stroke="#dd6c00" d="M418 356 419 356 423 357 426 357 430 356 431 356 436 355 437 355 437 356 434 357 433 358 435 359 439 360 440 360 444 360 449 361 453 361 458 361 462 360 465 360 470 360 471 360 474 359 478 359 481 359 485 358 487 358 488 357 488 356 494 356 495 355 497 355 501 354 505 353 506 351 510 350 511 350 511 349 510 347 510 346 512 346 513 345 518 345 517 343 516 342 514 342 511 340 510 340 513 338 513 337 513 336 514 335 514 333 515 332 514 330 513 330 511 329 509 327 505 326 503 324 501 324 500 323 496 322 493 322 492 324 488 324 483 323 481 323 476 324 477 326 472 327 471 327 468 326 467 326 462 327 458 326 455 326 454 327 449 328 448 328 447 329 446 329 440 329 439 330 435 331 431 332 430 333 427 334 425 334 423 335 422 337 422 339 418 339 415 339 413 341 413 342 416 343 418 343 419 344 422 346 416 346 414 346 415 347 416 348 416 349 417 350 415 352 414 353 417 354 418 354 418 356M424 354 424 353 426 352 426 354 424 354M482 327 481 327 482 327 486 328 490 329 494 329 489 329 485 328 482 327"/>
<path stroke="#efab00" d="M447 354 449 355 453 355 453 353 456 353 461 353 462 353 468 353 469 353 472 354 473 353 473 352 476 351 479 351 481 351 484 351 487 349 492 348 490 346 489 346 490 346 495 346 493 345 491 343 491 341 492 340 493 339 490 338 489 337 486 337 482 336 480 334 476 334 474 333 473 332 470 331 465 331 463 331 460 332 456 333 455 333 454 334 453 334 448 334 446 334 444 336 440 337 437 338 435 338 434 339 438 340 436 341 434 343 434 345 438 346 442 347 442 348 443 349 446 350 447 352 448 353 447 354M454 349 454 348 455 348 455 349 454 349M481 345 484 344 484 345 481 345"/>
</g>
<path stroke="#000" stroke-width="1.7" stroke-linecap="square" fill="none" d="M82.1 393.2L373.1 447.7M539.5 447L736.9 336.8"/>
<path stroke="#000" stroke-width="1.7" fill="none" d="M121.1 400.5L126.4 396.8M163.1 408.4L168.4 404.6M205.1 416.2L210.4 412.5M247.1 424.1L252.4 420.4M289.1 431.9L294.4 428.2M331.1 439.8L336.4 436.1M373.1 447.7L378.4 443.9M539.5 447L533.1 445.8M564.2 433.2L557.8 432M588.9 419.3L582.5 418.1M613.6 405.5L607.2 404.3M638.2 391.6L631.9 390.4M662.9 377.8L656.5 376.6M687.6 363.9L681.2 362.7M712.3 350.1L705.9 348.9M737 336.2L730.6 335"/>
<path stroke="#000" stroke-width="1" fill="none" shape-rendering="crispEdges" d="M81.5 125V393M81.5 304.5h6.5M81.5 282.5h6.5M81.5 259.5h6.5M81.5 237.5h6.5M81.5 215.5h6.5M81.5 192.5h6.5M81.5 170.5h6.5M81.5 147.5h6.5M81.5 125.5h6.5"/>
<defs><linearGradient id="cb" x1="0" y1="0" x2="0" y2="1"><stop offset="0%" stop-color="#ffff00"/><stop offset="3.1%" stop-color="#fbe800"/><stop offset="6.2%" stop-color="#f7d200"/><stop offset="9.4%" stop-color="#f3be00"/><stop offset="12.5%" stop-color="#efab00"/><stop offset="15.6%" stop-color="#ea9900"/><stop offset="18.8%" stop-color="#e68900"/><stop offset="21.9%" stop-color="#e17a00"/><stop offset="25%" stop-color="#dd6c00"/><stop offset="28.1%" stop-color="#d85f00"/><stop offset="31.2%" stop-color="#d35300"/><stop offset="34.4%" stop-color="#cf4800"/><stop offset="37.5%" stop-color="#ca3e00"/><stop offset="40.6%" stop-color="#c43500"/><stop offset="43.8%" stop-color="#bf2d00"/><stop offset="46.9%" stop-color="#ba2600"/><stop offset="50%" stop-color="#b42000"/><stop offset="53.1%" stop-color="#af1a32"/><stop offset="56.2%" stop-color="#a91562"/><stop offset="59.4%" stop-color="#a3118e"/><stop offset="62.5%" stop-color="#9c0db4"/><stop offset="65.6%" stop-color="#960ad4"/><stop offset="68.8%" stop-color="#8f08ec"/><stop offset="71.9%" stop-color="#8706fa"/><stop offset="75%" stop-color="#8004ff"/><stop offset="78.1%" stop-color="#7703fa"/><stop offset="81.2%" stop-color="#6e02ec"/><stop offset="84.4%" stop-color="#6501d4"/><stop offset="87.5%" stop-color="#5a00b4"/><stop offset="90.6%" stop-color="#4e008e"/><stop offset="93.8%" stop-color="#400062"/><stop offset="96.9%" stop-color="#2d0032"/><stop offset="100%" stop-color="#000000"/></linearGradient>
<linearGradient id="kl" x1="0" y1="0" x2="1" y2="0"><stop offset="0%" stop-color="#7803fa"/><stop offset="12.5%" stop-color="#8c07f1"/><stop offset="25%" stop-color="#9e0fa9"/><stop offset="37.5%" stop-color="#ae1a34"/><stop offset="50%" stop-color="#bd2a00"/><stop offset="62.5%" stop-color="#cb4100"/><stop offset="75%" stop-color="#d85d00"/><stop offset="87.5%" stop-color="#e48100"/><stop offset="100%" stop-color="#efae00"/></linearGradient></defs>
<rect x="682" y="107" width="28" height="161" fill="url(#cb)" stroke="none"/>
<path stroke="#000" stroke-width="1" fill="none" shape-rendering="crispEdges" d="M682.5 107.5H709.5V267.5H682.5ZM682.5 247.5h6M709.5 247.5h-6M682.5 227.5h6M709.5 227.5h-6M682.5 207.5h6M709.5 207.5h-6M682.5 187.5h6M709.5 187.5h-6M682.5 167.5h6M709.5 167.5h-6M682.5 147.5h6M709.5 147.5h-6M682.5 127.5h6M709.5 127.5h-6"/>
<rect x="698" y="41" width="41" height="1" fill="url(#kl)"/>
<text x="410" y="8.8" text-anchor="middle" textLength="193.5">Skynet_56737_W3_8187_8760</text>
<text x="688.7" y="45.6" text-anchor="end" textLength="93">1395.0 MHz LL</text>
<text x="63.9" y="199.4" text-anchor="end" textLength="74.3">Intensity (K)</text>
<text x="230" y="469.5" text-anchor="middle" textLength="142.7">RA Offset (Cells=1.92')</text>
<text x="669.6" y="427.5" text-anchor="start" textLength="106.6">Dec Offset (cells)</text>
<text x="68.4" y="309.2" text-anchor="end">0</text>
<text x="721.8" y="272.4" text-anchor="start">0</text>
<text x="68.4" y="286.8" text-anchor="end">5</text>
<text x="721.8" y="252.4" text-anchor="start">5</text>
<text x="68.4" y="264.4" text-anchor="end" textLength="15.4">10</text>
<text x="721.8" y="232.4" text-anchor="start" textLength="15.4">10</text>
<text x="68.4" y="242.1" text-anchor="end" textLength="15.4">15</text>
<text x="721.8" y="212.4" text-anchor="start" textLength="15.4">15</text>
<text x="68.4" y="219.7" text-anchor="end" textLength="15.4">20</text>
<text x="721.8" y="192.4" text-anchor="start" textLength="15.4">20</text>
<text x="68.4" y="197.3" text-anchor="end" textLength="15.4">25</text>
<text x="721.8" y="172.4" text-anchor="start" textLength="15.4">25</text>
<text x="68.4" y="174.9" text-anchor="end" textLength="15.4">30</text>
<text x="721.8" y="152.4" text-anchor="start" textLength="15.4">30</text>
<text x="68.4" y="152.6" text-anchor="end" textLength="15.4">35</text>
<text x="721.8" y="132.4" text-anchor="start" textLength="15.4">35</text>
<text x="68.4" y="130.2" text-anchor="end" textLength="15.4">40</text>
<text x="721.8" y="112.4" text-anchor="start" textLength="15.4">40</text>
<text x="111.5" y="411.9" text-anchor="end" textLength="15.4">10</text>
<text x="540.3" y="467.1" text-anchor="middle" textLength="15.4">10</text>
<text x="153.5" y="419.8" text-anchor="end" textLength="15.4">20</text>
<text x="565" y="453.2" text-anchor="middle" textLength="15.4">20</text>
<text x="195.5" y="427.6" text-anchor="end" textLength="15.4">30</text>
<text x="589.7" y="439.4" text-anchor="middle" textLength="15.4">30</text>
<text x="237.5" y="435.5" text-anchor="end" textLength="15.4">40</text>
<text x="614.4" y="425.5" text-anchor="middle" textLength="15.4">40</text>
<text x="279.5" y="443.3" text-anchor="end" textLength="15.4">50</text>
<text x="639.1" y="411.7" text-anchor="middle" textLength="15.4">50</text>
<text x="321.5" y="451.2" text-anchor="end" textLength="15.4">60</text>
<text x="663.7" y="397.8" text-anchor="middle" textLength="15.4">60</text>
<text x="363.5" y="459.1" text-anchor="end" textLength="15.4">70</text>
<text x="688.4" y="384" text-anchor="middle" textLength="15.4">70</text>
<text x="405.5" y="466.9" text-anchor="end" textLength="15.4">80</text>
<text x="713.1" y="370.1" text-anchor="middle" textLength="15.4">80</text>
<text x="447.5" y="474.8" text-anchor="end" textLength="15.4">90</text>
<text x="737.8" y="356.3" text-anchor="middle" textLength="15.4">90</text>
<text x="489.5" y="482.6" text-anchor="end" textLength="23.2">100</text>
<text x="762.5" y="342.4" text-anchor="middle" textLength="23.2">100</text>
</svg>
</body></html>
